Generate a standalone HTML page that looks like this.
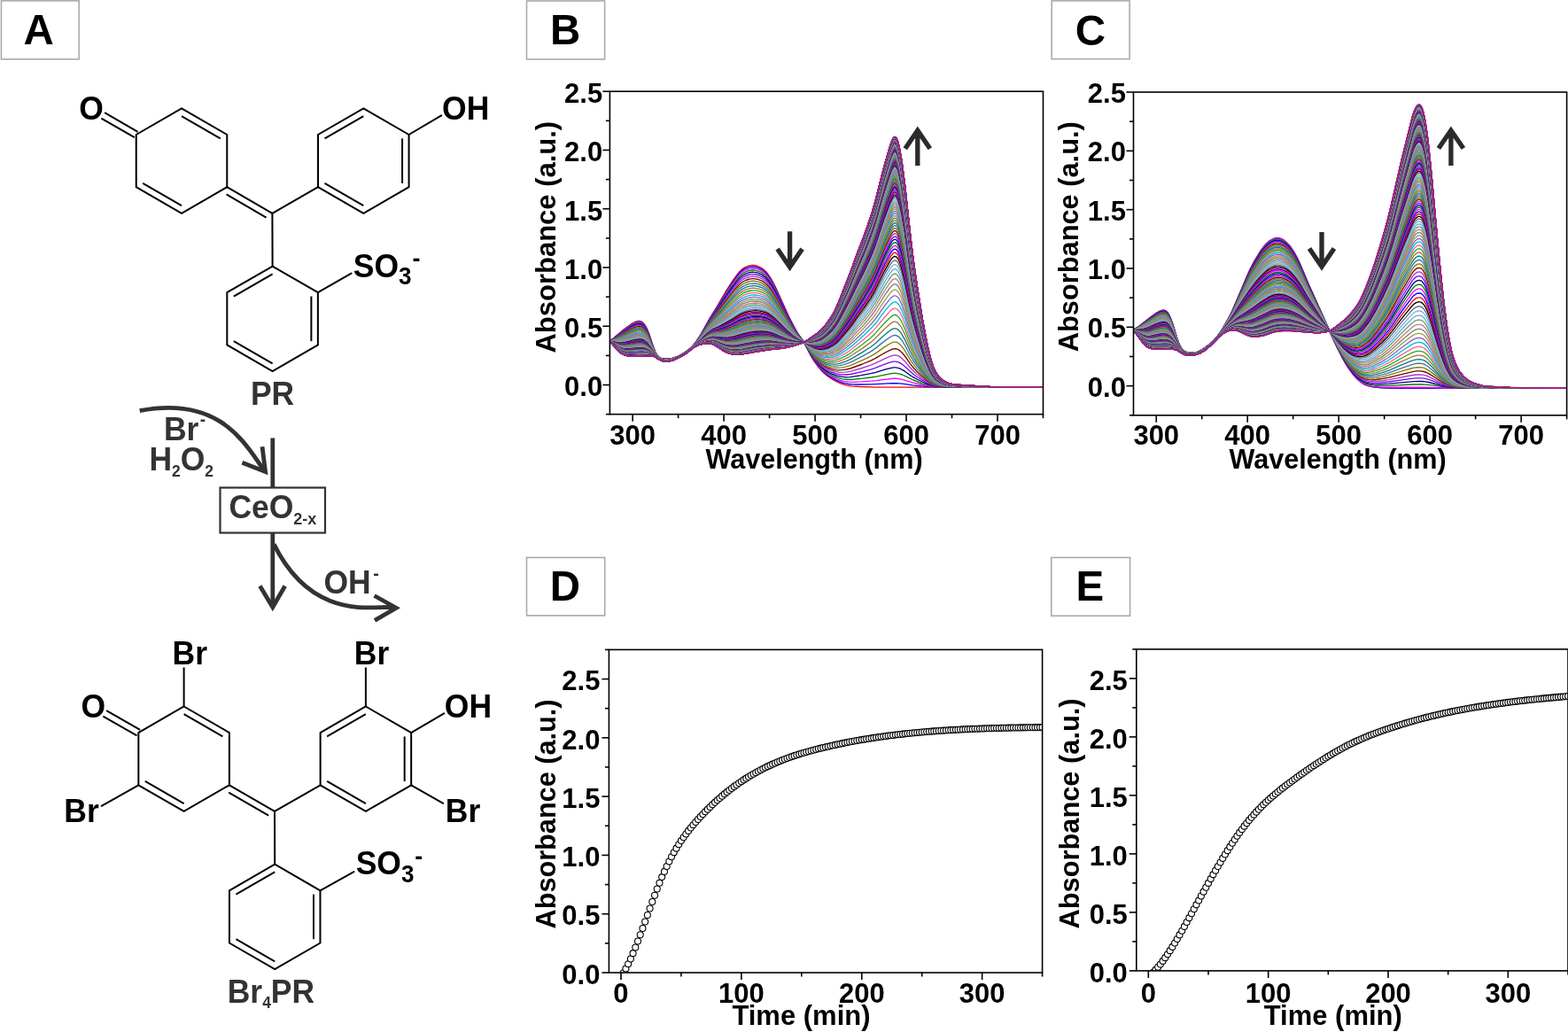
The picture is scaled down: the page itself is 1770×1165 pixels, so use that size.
<!DOCTYPE html>
<html><head><meta charset="utf-8"><title>Figure</title>
<style>
html,body{margin:0;padding:0;background:#fff;width:1770px;height:1165px;overflow:hidden}
svg{display:block}
text{font-family:"Liberation Sans",Arial,sans-serif;font-weight:bold}
</style></head><body>
<svg width="1770" height="1165" viewBox="0 0 1770 1165">
<rect width="1770" height="1165" fill="#fff"/>
<rect x="1.45" y="0.9" width="87.75" height="65.9" fill="#fff" stroke="#aaa" stroke-width="1.6"/>
<text transform="translate(26.57,50.2) scale(1,1.01)" font-size="47.5">A</text>
<rect x="594.5" y="1" width="88.1" height="65.9" fill="#fff" stroke="#aaa" stroke-width="1.6"/>
<text transform="translate(621.07,50.2) scale(1,1.01)" font-size="47.5">B</text>
<rect x="1187.2" y="0.9" width="87.9" height="65.7" fill="#fff" stroke="#aaa" stroke-width="1.6"/>
<text transform="translate(1213.8,50.6) scale(1,1.01)" font-size="47.5">C</text>
<rect x="594.5" y="629.4" width="88.2" height="65.5" fill="#fff" stroke="#aaa" stroke-width="1.6"/>
<text transform="translate(620.67,677.7) scale(1,1.01)" font-size="47.5">D</text>
<rect x="1186.8" y="629.4" width="88.8" height="65.8" fill="#fff" stroke="#aaa" stroke-width="1.6"/>
<text transform="translate(1214.47,677.7) scale(1,1.01)" font-size="47.5">E</text>
<clipPath id="cb"><rect x="688.4" y="103.2" width="489.1" height="364.45"/></clipPath>
<g clip-path="url(#cb)"><g transform="scale(0.1)" fill="none" stroke-width="13.5" stroke-linejoin="round">
<path d="M6884 3845l15-7 21-15 113-97 47-36 41-28 31-18 25-12 26-7 21 0 20 8 16 12 20 25 16 26 15 34 16 40 46 141 21 55 20 39 21 24 20 12 21 7 36 4 36 0 31-5 36-10 36-14 31-14 57-35 51-39 36-37 36-46 52-81 98-178 82-131 103-178 72-112 62-86 20-23 21-19 20-16 21-12 26-11 26-7 25-4 21 1 26 5 31 11 25 13 21 13 20 18 21 21 36 50 31 53 31 60 149 328 62 124 41 72 67 96 82 158 31 51 31 45 31 40 26 30 26 26 31 27 30 22 36 23 52 28 41 19 62 21 57 10 97 6 191 6 1879 1" stroke="#FF0000"/>
<path d="M6884 3845l15-7 21-14 118-97 83-59 31-18 25-12 26-6 21 0 20 7 16 12 20 24 16 26 15 33 16 40 46 139 21 54 20 39 21 23 20 13 21 6 31 4 36 0 31-4 36-9 36-13 31-14 56-34 52-38 36-36 41-51 26-38 31-51 98-175 77-120 103-174 72-109 62-85 20-23 21-19 20-15 21-12 26-11 26-7 25-4 21 1 26 5 31 10 25 13 21 13 20 17 21 21 36 49 31 52 31 59 149 322 62 122 41 71 67 94 82 154 31 50 31 44 31 39 26 29 26 26 25 21 31 22 31 19 46 25 42 19 36 13 36 9 31 6 36 3 97 2 129-2 227-11 56 0 62 4 119 17 97 10 88 7 77 4 211 2 999 1" stroke="#0000FF"/>
<path d="M6884 3846l15-7 21-13 129-102 46-33 36-23 31-16 26-10 20-3 21 1 21 10 15 13 15 19 16 25 15 33 16 39 46 136 21 53 20 38 21 24 20 12 21 7 31 4 36 0 31-4 36-10 36-13 31-14 56-33 52-39 36-35 41-51 57-87 98-172 77-117 98-161 72-108 67-91 20-22 21-19 20-15 21-12 26-10 26-7 25-4 21 1 26 4 31 10 25 13 21 13 20 16 21 21 36 48 31 51 31 58 149 315 62 119 41 70 67 91 82 150 26 41 31 44 52 62 25 25 26 22 31 23 31 18 72 35 41 15 41 10 47 7 41 2 103-4 108-7 62-6 170-21 36-3 31 1 56 10 124 38 108 24 92 16 93 7 227 3 947 1" stroke="#FF00FF"/>
<path d="M6884 3846l21-9 20-13 124-94 46-32 36-22 31-16 26-10 20-3 21 2 21 9 15 13 15 18 16 25 15 32 16 38 46 133 21 52 20 38 21 23 20 13 21 6 31 4 36 0 31-4 31-8 36-12 31-14 51-29 57-41 41-40 36-43 57-84 103-177 77-114 98-156 72-105 67-88 20-22 21-18 20-15 21-12 26-11 26-7 25-3 21 0 20 3 26 8 26 10 21 11 36 28 36 41 36 53 36 65 154 318 62 116 41 67 52 68 20 29 62 112 36 58 26 37 31 38 31 34 30 29 26 21 31 20 36 19 36 16 52 18 41 10 51 6 47 0 113-11 108-14 57-9 159-33 36-5 26 0 36 5 36 12 31 13 93 47 103 38 87 24 72 11 83 5 128 2 994 2" stroke="#008000"/>
<path d="M6884 3847l21-9 20-13 134-95 77-49 26-12 26-10 20-3 21 1 21 9 15 13 15 18 16 24 15 31 16 38 46 130 21 51 20 37 21 23 20 12 21 7 31 4 31 0 31-3 31-8 36-12 31-13 51-29 57-40 41-37 36-43 31-42 31-47 103-172 77-110 93-144 77-109 67-86 20-22 21-18 20-14 26-14 26-10 26-6 25-3 21 1 21 4 25 7 42 20 36 26 36 40 36 52 36 63 149 299 62 115 46 74 52 65 20 29 62 108 31 49 51 68 31 34 26 25 26 21 31 21 31 17 30 13 52 18 46 11 57 6 51-2 124-19 103-20 57-14 102-31 62-16 36-7 26 0 36 7 36 17 31 19 62 45 31 20 41 23 62 30 46 20 41 14 36 9 36 6 83 7 128 3 994 3" stroke="#000080"/>
<path d="M6884 3847l21-8 25-15 144-97 67-39 26-12 26-8 20-3 16 2 21 9 15 12 15 17 16 24 15 30 16 36 46 127 21 50 20 37 21 23 20 12 21 6 31 5 31 0 26-3 30-7 37-11 30-13 52-28 57-39 41-37 41-47 57-79 87-144 31-47 67-92 77-115 52-73 67-89 41-50 20-21 21-18 20-14 26-14 26-9 26-7 25-2 21 1 21 3 25 7 42 19 36 26 36 38 36 51 36 61 149 291 62 111 46 72 57 70 15 21 57 96 31 48 51 67 31 33 26 24 26 21 25 17 26 14 31 13 57 18 51 10 62 2 51-5 129-29 98-25 51-17 108-42 57-20 36-10 26-1 15 2 21 6 36 19 36 29 62 59 31 26 41 30 62 39 46 26 41 19 36 12 36 7 83 9 128 4 407 3 587 1" stroke="#8000FF"/>
<path d="M6884 3848l21-8 30-17 150-94 56-32 26-12 26-7 20-3 16 2 21 8 15 12 15 17 16 23 15 29 16 36 46 123 21 49 20 36 21 22 20 13 21 6 31 4 31 1 26-3 30-7 31-10 31-12 52-27 56-39 42-35 41-45 31-40 31-44 87-141 31-45 67-88 77-111 57-77 72-92 36-42 20-19 21-16 21-14 20-10 26-9 26-7 25-3 21 1 21 4 25 6 26 10 21 11 36 27 36 39 31 43 36 59 149 282 62 108 46 70 72 87 83 131 51 65 52 52 20 17 26 17 26 15 31 13 56 17 57 9 62-1 56-9 134-38 98-33 51-21 108-53 57-25 36-11 26-2 15 2 21 7 15 9 21 16 36 35 62 74 31 32 41 37 62 50 46 32 41 23 36 15 36 9 41 7 42 5 128 5 407 3 587 1" stroke="#A040C0"/>
<path d="M6884 3848l26-9 31-16 154-91 52-28 25-10 21-6 20-3 16 2 21 8 15 11 15 17 16 22 15 29 16 34 46 120 21 48 20 35 21 22 20 12 21 7 26 4 31 1 25-3 31-6 31-9 31-13 52-26 56-37 41-35 42-43 30-38 31-43 93-144 31-44 67-84 77-107 57-74 72-89 36-40 20-19 21-15 21-13 20-10 26-10 26-6 25-3 21 1 46 9 26 10 21 10 36 26 36 38 31 41 31 49 169 309 47 77 36 53 20 27 57 64 82 125 26 34 31 35 36 36 31 25 36 23 36 17 26 8 31 8 31 5 31 2 30-1 36-4 62-13 139-50 93-38 51-25 103-62 62-32 36-14 26-3 15 3 21 9 15 11 21 18 36 43 62 88 31 40 41 44 62 59 46 39 41 28 36 18 36 11 41 9 42 5 128 6 407 4 587 1" stroke="#800000"/>
<path d="M6884 3849l31-11 41-20 149-83 47-23 41-14 20-2 16 1 21 8 15 11 15 16 16 22 15 27 16 33 46 117 21 46 20 35 21 22 15 10 21 7 26 5 31 1 25-1 26-5 31-8 31-12 51-24 57-37 46-36 41-42 31-37 36-48 93-140 31-43 72-87 129-166 72-85 36-39 41-34 21-13 25-12 26-8 26-6 26-2 20 1 47 10 41 18 36 25 36 36 31 40 31 47 164 290 47 75 41 59 20 25 57 62 77 113 26 33 31 34 36 35 31 24 31 19 36 16 26 9 30 6 31 4 31 1 31-2 36-6 36-9 31-9 144-62 93-45 51-30 103-72 62-39 36-16 16-3 10 0 15 3 21 11 15 12 21 22 36 50 62 104 31 46 41 52 62 70 46 45 41 33 36 21 36 13 41 10 42 6 56 4 72 3 407 5 587 1" stroke="#808000"/>
<path d="M6884 3849l31-9 57-25 139-73 46-22 20-7 21-5 21-1 15 2 21 9 15 13 16 17 15 23 26 50 46 113 21 45 20 34 21 21 15 10 21 8 26 5 31 1 25-2 26-4 57-18 51-24 52-32 51-39 41-41 31-35 36-47 98-142 31-42 72-82 134-164 72-82 31-32 41-33 21-12 25-12 26-8 26-6 26-2 20 1 47 9 41 17 36 24 36 35 31 38 31 45 164 280 42 64 41 58 25 31 57 59 77 108 52 58 31 30 31 24 30 19 31 14 31 9 31 7 31 2 31 0 31-4 36-8 41-12 36-13 144-73 93-52 51-35 103-83 62-44 21-12 15-7 16-3 10 0 15 4 21 12 15 14 21 25 36 58 62 119 31 53 41 59 62 81 46 51 41 38 36 24 36 16 41 11 42 7 56 5 72 3 407 6 587 1" stroke="#4070B0"/>
<path d="M6884 3850l36-11 62-24 139-69 41-18 21-6 20-4 16-1 15 3 21 9 15 11 16 17 15 22 26 49 46 109 21 44 20 33 21 21 15 10 21 8 26 4 25 2 26-1 26-4 57-17 51-24 51-31 52-38 41-39 36-41 36-45 98-138 31-40 72-79 139-162 67-72 31-31 41-32 21-12 25-11 26-9 26-5 26-3 20 1 47 9 41 16 36 23 36 33 31 37 31 44 164 269 42 62 41 56 25 29 57 56 72 96 52 57 31 28 30 24 26 15 31 14 31 9 31 5 36 3 31-2 31-6 31-9 46-16 36-16 31-16 118-70 88-56 51-38 108-99 62-50 21-14 15-7 16-4 10 0 15 4 21 14 15 16 21 29 36 65 62 134 31 60 41 68 62 90 46 59 41 43 36 27 36 18 41 12 42 8 56 6 72 3 407 7 587 1" stroke="#008080"/>
<path d="M6884 3850l41-10 62-22 46-20 93-44 41-17 36-8 16-1 15 2 21 9 15 11 16 16 15 21 26 47 46 106 21 42 20 33 21 21 15 10 21 7 21 4 25 3 26-1 26-4 51-14 52-22 51-29 52-37 46-42 36-40 36-43 103-140 31-39 77-80 134-148 67-69 31-30 41-31 21-12 25-11 31-9 26-5 21-2 25 1 47 10 41 16 36 23 31 28 31 36 31 42 164 259 42 59 41 53 25 28 57 54 72 90 46 49 31 27 26 19 31 19 26 11 31 8 36 6 36 0 31-3 31-8 30-10 47-20 41-21 149-97 88-62 51-44 108-110 62-55 21-16 15-8 16-5 10 0 15 5 21 16 15 18 21 32 36 72 62 150 31 67 41 75 62 101 46 65 41 48 36 31 36 19 41 15 42 8 56 6 72 4 407 8 587 1" stroke="#B07040"/>
<path d="M6884 3851l46-10 62-19 46-19 93-42 36-14 36-8 16 0 15 2 21 8 15 11 16 15 15 21 26 45 67 143 20 32 21 21 15 9 16 7 20 4 26 3 26 0 26-3 51-14 52-21 46-25 51-36 47-40 36-37 41-47 108-143 31-36 77-76 144-150 88-85 41-30 21-12 25-10 31-10 26-5 21-2 25 1 47 9 41 16 36 21 31 28 31 34 31 40 164 249 42 56 41 51 25 27 57 51 72 86 46 45 31 26 26 17 26 15 26 10 31 7 36 4 36 0 30-5 31-9 31-13 47-23 41-23 36-25 118-86 88-70 51-48 108-121 62-61 21-18 15-9 16-5 10 0 15 6 21 17 15 20 21 35 36 80 62 165 31 74 41 83 62 111 46 72 41 53 36 33 36 22 41 16 42 9 56 7 72 4 407 8 587 2" stroke="#20B020"/>
<path d="M6884 3851l62-12 51-13 47-17 97-42 36-12 36-6 26 3 16 7 15 10 16 15 15 20 26 43 67 139 20 31 21 20 15 10 16 6 20 5 26 3 46-3 52-12 51-21 47-25 51-35 47-38 36-36 46-52 103-131 36-42 77-72 191-186 46-41 41-28 21-10 26-10 30-9 26-4 21-2 25 2 42 7 41 15 36 21 31 26 31 32 31 39 164 239 42 54 41 48 25 26 57 48 67 75 46 44 52 39 26 14 25 10 31 8 36 3 36-2 36-6 31-11 31-15 52-29 41-26 36-27 118-95 88-76 51-53 108-132 62-67 21-19 15-10 16-5 10 0 15 6 21 18 15 22 21 38 36 87 62 181 31 81 41 90 62 122 46 78 41 58 16 17 20 19 36 24 41 17 42 10 56 8 72 4 407 9 587 2" stroke="#FF60A0"/>
<path d="M6884 3851l72-10 46-11 47-16 98-39 30-10 36-6 26 3 16 7 15 10 16 14 15 19 31 51 62 125 20 30 21 20 15 10 16 6 20 5 21 2 46-1 26-5 26-7 51-20 47-24 46-31 46-36 36-35 47-50 41-48 72-90 36-40 77-67 196-181 41-35 41-27 47-20 51-12 21-2 25 0 52 9 41 15 36 21 36 31 26 27 31 38 149 209 67 83 46 48 67 55 62 66 41 37 31 23 26 17 26 13 20 7 21 5 26 3 30 0 26-2 46-12 47-22 82-53 57-44 134-118 92-90 42-48 102-137 67-77 26-20 16-6 10 0 15 6 21 21 15 23 21 41 36 95 62 195 31 87 41 98 62 132 46 84 41 63 16 18 20 21 36 26 41 18 42 11 56 9 72 5 407 9 587 2" stroke="#00C0C0"/>
<path d="M6884 3852l82-9 42-9 46-15 98-37 31-9 30-4 26 3 16 6 15 10 16 13 15 18 31 50 62 120 20 30 21 20 15 9 16 7 20 5 21 2 46-2 47-10 51-19 46-24 47-29 46-36 41-39 47-49 113-134 36-38 82-68 201-175 31-25 41-26 47-20 51-12 21-2 25 0 52 9 41 14 36 20 36 29 26 27 31 36 144 193 72 86 46 46 67 52 57 57 41 36 52 34 25 13 21 8 20 5 26 3 26 0 31-3 46-12 21-9 26-14 87-61 62-53 134-126 92-97 42-52 102-147 67-82 26-22 16-6 10 0 15 7 11 9 10 12 15 25 21 45 36 101 62 210 31 93 41 105 62 141 46 91 41 67 16 20 20 22 16 14 20 14 41 20 42 12 56 9 72 5 407 10 587 2" stroke="#8060E0"/>
<path d="M6884 3852l77-5 36-5 52-14 98-35 30-9 36-6 26 3 16 6 15 9 16 13 15 18 31 48 62 116 20 29 21 19 15 10 16 6 36 7 46 0 46-10 47-16 51-25 47-29 46-35 36-33 51-53 119-135 36-37 26-21 61-46 227-186 41-25 47-19 51-12 21-3 25 1 52 7 41 14 36 19 36 28 26 25 31 35 144 185 67 77 41 40 72 53 62 59 31 25 31 22 25 15 26 12 21 8 20 5 26 2 26-1 26-3 25-6 26-8 21-10 25-15 88-67 62-55 139-141 92-103 42-55 102-157 67-87 26-24 16-6 10 0 15 7 11 10 10 13 15 27 21 47 36 108 62 223 31 99 41 112 62 151 46 97 41 71 16 21 20 24 16 14 20 15 41 21 42 13 56 10 72 5 407 11 587 2" stroke="#A0A040"/>
<path d="M6884 3853l82-3 36-4 52-13 93-32 30-9 36-5 26 3 21 8 15 10 16 14 15 18 26 40 62 112 20 29 21 19 15 10 16 6 36 7 46-1 41-8 47-16 51-24 41-25 47-34 36-31 51-51 47-49 77-87 36-36 26-21 61-43 67-51 165-129 41-25 47-18 51-12 21-2 25 0 47 5 41 12 36 17 36 26 31 28 31 34 144 178 72 78 41 38 67 46 62 54 31 24 31 20 25 14 26 11 21 7 20 3 21 2 26-2 25-4 26-6 26-10 26-12 20-14 36-27 57-49 67-64 56-63 73-75 87-102 46-64 103-166 52-74 20-26 16-17 15-11 16-4 15 4 11 9 10 12 20 36 21 50 36 114 62 236 31 105 46 132 62 157 46 101 36 65 16 23 20 25 16 15 20 16 41 22 42 13 56 10 72 6 186 7 221 5 587 2" stroke="#808080"/>
<path d="M6884 3853l88 1 30-3 52-11 98-32 31-9 36-3 25 4 16 6 15 10 16 13 15 17 26 39 62 108 20 28 21 20 26 14 36 8 46 0 41-7 41-13 52-23 41-24 46-32 42-35 46-44 51-53 83-90 36-35 26-20 61-40 72-51 160-119 41-24 47-18 51-12 46-3 47 6 41 11 36 16 36 25 31 27 31 32 139 165 72 76 46 40 67 44 57 47 31 23 56 32 26 11 21 6 20 4 21 0 26-2 25-4 31-9 26-11 26-14 20-14 31-26 57-51 67-68 61-72 73-79 87-107 46-67 103-175 52-77 20-29 16-17 15-12 16-4 15 5 11 8 10 13 20 38 21 52 36 120 62 249 31 110 46 139 62 166 46 105 36 68 16 24 20 27 16 15 20 17 41 24 42 14 56 11 72 6 186 7 221 5 587 2" stroke="#C08080"/>
<path d="M6884 3854l88 3 36-2 51-11 93-29 31-8 36-4 25 4 16 6 15 10 16 12 15 17 26 37 67 113 15 20 21 19 26 14 36 8 46 1 41-7 41-14 52-23 41-24 41-28 36-29 41-38 62-62 88-92 36-33 31-23 56-34 78-51 154-111 46-25 47-17 51-11 46-2 47 6 41 11 36 17 31 20 26 22 31 30 144 163 72 73 46 39 67 41 77 59 57 32 46 17 21 4 20 1 26-2 26-4 31-9 26-11 25-14 26-18 31-27 62-59 67-71 61-76 73-83 87-112 46-70 103-183 52-81 20-29 16-19 15-12 16-5 15 5 11 9 10 14 20 39 21 55 36 126 62 259 31 116 46 145 62 174 46 110 36 71 16 25 20 28 16 16 20 18 21 14 20 11 42 15 56 11 72 6 186 7 221 6 587 2" stroke="#70A070"/>
<path d="M6884 3854l88 6 36 0 51-10 124-35 36-4 25 4 16 5 15 9 16 13 15 16 26 36 67 109 20 25 16 14 26 14 36 8 41 1 41-7 41-13 47-20 41-22 41-27 36-28 36-32 72-70 93-95 36-32 31-21 61-35 78-48 149-102 46-25 47-17 51-11 46-2 47 6 41 10 36 16 31 20 26 20 31 29 144 158 72 69 46 37 67 39 77 55 57 30 46 15 21 3 20 1 21-2 26-6 31-9 25-11 26-14 26-19 31-28 56-57 42-44 36-41 61-79 73-87 87-116 46-74 103-190 52-85 20-30 16-19 15-13 16-5 15 5 11 10 10 14 20 41 21 57 36 131 62 270 31 121 46 151 62 180 46 116 36 74 16 26 20 29 16 17 20 18 21 14 20 12 42 15 56 12 72 6 186 8 221 6 587 2" stroke="#60B0E0"/>
<path d="M6884 3854l93 10 36-1 51-9 119-32 36-4 25 3 16 6 15 9 16 12 15 15 26 35 67 106 20 25 16 13 26 14 36 9 41 0 41-6 41-13 52-23 41-23 46-31 31-25 36-32 170-166 26-21 26-18 66-35 67-39 155-101 41-22 36-15 46-12 36-6 36-1 47 4 41 11 36 15 31 19 26 19 31 28 144 152 72 66 46 35 67 37 72 49 57 28 46 15 21 3 20 0 21-2 26-6 31-10 30-14 26-15 26-20 31-29 51-55 78-88 66-88 73-91 82-113 46-75 108-207 52-87 20-32 16-20 15-14 16-4 15 5 11 10 10 14 20 43 21 60 36 135 62 281 31 125 46 156 62 188 46 120 36 77 16 27 20 29 16 18 20 19 21 15 20 12 42 16 56 12 72 7 186 8 221 6 587 2" stroke="#90B0D0"/>
<path d="M6884 3855l31 2 62 10 36 0 51-8 124-32 36-2 26 4 15 7 15 9 16 13 15 16 26 35 62 96 20 24 16 14 26 14 36 8 36 1 41-5 41-13 52-22 41-22 46-31 62-51 175-167 26-21 25-18 78-38 67-37 72-43 77-50 41-22 36-14 46-13 36-6 36-1 47 4 41 10 36 14 31 19 26 19 31 26 144 146 72 64 46 34 67 34 67 43 57 27 25 9 26 6 21 2 20 0 42-8 30-11 31-14 26-16 26-20 26-25 36-39 61-70 42-50 66-92 73-93 82-118 46-77 108-214 52-91 20-32 16-21 15-14 16-5 15 6 11 10 10 15 20 44 21 62 36 140 62 290 31 129 46 162 62 194 46 124 36 80 16 28 20 30 16 19 20 20 21 15 20 12 42 17 56 12 72 7 186 8 221 7 587 2" stroke="#607090"/>
<path d="M6884 3855l31 3 62 12 36 1 51-7 98-25 31-6 31-2 26 4 15 6 15 9 16 13 15 16 26 34 62 93 20 24 16 13 26 14 36 8 36 1 41-5 41-12 52-23 41-22 41-27 62-50 175-164 31-25 25-16 78-36 67-34 72-41 82-52 41-20 36-14 47-11 36-6 30-1 47 4 41 10 36 13 31 18 26 18 31 26 139 136 72 62 51 36 67 32 62 37 56 26 26 9 26 6 21 2 20 0 41-9 36-13 31-16 26-16 26-21 26-26 36-41 61-73 42-52 66-94 73-97 82-121 46-80 108-220 52-94 20-34 16-21 15-15 16-5 15 6 11 11 10 15 20 45 21 64 36 144 62 300 31 133 46 167 62 201 46 127 36 82 16 29 20 32 16 19 20 20 21 16 20 13 42 17 56 12 72 8 186 8 221 6 587 3" stroke="#000000"/>
<path d="M6884 3855l31 4 67 14 36 2 51-7 93-23 31-6 31-2 26 4 15 6 15 9 16 12 15 15 26 33 62 91 20 24 16 13 26 13 31 8 36 2 41-5 41-11 46-19 47-25 41-26 62-49 180-165 26-21 25-16 26-13 62-26 67-32 72-39 77-47 41-20 36-13 47-12 36-5 36-1 46 5 41 9 36 14 31 17 26 19 31 25 108 103 56 51 57 43 41 26 62 28 72 40 62 24 31 7 26 2 25-1 31-8 36-14 31-15 31-21 26-22 26-27 30-36 67-82 42-54 66-97 73-99 82-125 46-82 108-227 52-96 20-35 16-22 15-15 16-5 10 3 5 3 11 11 10 15 20 47 21 66 36 148 62 308 31 137 46 172 62 206 46 131 36 85 16 30 20 32 16 20 20 21 21 16 20 13 42 18 56 13 72 7 186 9 221 6 587 3" stroke="#FF0000"/>
<path d="M6884 3855l31 5 67 16 36 2 51-6 124-28 31-2 26 4 15 6 15 9 16 11 15 15 26 32 62 89 20 23 16 13 26 14 31 8 36 1 41-4 41-12 46-19 47-24 41-27 56-45 181-162 31-24 25-16 21-10 62-23 72-32 72-38 82-47 41-19 36-12 47-12 31-4 36-1 46 4 41 9 36 13 31 17 26 18 31 24 108 100 56 48 57 42 41 25 62 26 67 35 62 23 31 7 31 2 25-2 26-7 36-14 31-16 31-21 26-22 25-27 26-31 72-90 41-55 72-107 73-102 82-128 46-85 108-233 52-99 20-35 16-23 15-15 16-5 10 2 5 4 11 11 10 16 20 48 21 67 36 153 62 316 31 141 46 176 62 212 46 134 36 87 16 30 20 34 16 20 20 21 21 17 20 13 42 19 56 13 72 8 186 9 221 6 587 3" stroke="#0000FF"/>
<path d="M6884 3856l31 5 67 18 36 3 51-5 98-23 31-5 31-1 26 5 15 6 16 10 25 22 26 31 62 87 20 22 16 13 26 14 31 8 36 2 36-4 41-11 46-19 46-23 42-26 56-44 186-164 31-23 25-15 26-12 77-27 57-24 72-36 77-44 41-18 36-12 47-11 31-5 36-1 46 4 41 8 36 13 31 16 26 17 31 24 103 91 61 52 57 40 41 24 62 24 67 33 62 20 31 7 25 1 26-2 26-7 36-14 36-20 31-21 26-23 25-28 26-32 72-93 41-57 72-109 73-105 82-131 46-87 108-239 52-101 20-37 16-22 15-16 16-6 10 3 5 4 11 11 10 17 20 49 21 69 36 156 62 324 31 144 46 181 62 216 46 138 36 89 16 32 20 34 16 20 20 22 21 17 20 14 42 19 56 13 72 8 186 9 221 7 587 3" stroke="#FF00FF"/>
<path d="M6884 3856l31 6 67 19 36 4 51-4 98-22 31-5 31-1 26 5 15 6 16 9 25 22 26 29 67 91 21 22 15 11 26 12 26 6 36 2 36-4 36-9 46-18 46-23 41-25 57-43 185-162 31-23 26-15 26-12 67-21 72-28 72-35 77-42 46-20 37-11 46-10 31-5 31 0 46 3 41 8 36 12 31 16 26 16 31 23 103 88 61 50 57 39 41 22 62 24 67 30 62 18 31 6 25 1 26-3 26-8 36-15 36-21 31-22 26-24 25-29 26-32 72-96 41-58 72-113 73-107 82-134 46-89 108-244 52-103 20-38 16-23 15-16 11-5 5-1 10 3 5 4 11 11 10 17 20 50 21 71 36 160 62 331 31 147 46 185 62 222 46 141 36 91 16 32 20 35 16 21 20 22 21 18 20 14 21 11 21 8 56 14 72 8 186 9 221 7 587 3" stroke="#008000"/>
<path d="M6884 3856l31 6 67 22 41 4 51-4 93-20 31-5 31-1 26 5 31 14 25 21 26 29 67 89 21 21 15 11 26 13 26 6 36 1 36-3 36-9 46-19 46-23 41-25 57-43 180-155 31-23 31-18 26-11 72-22 67-24 72-33 82-43 47-19 41-11 41-9 31-4 31 0 46 3 41 8 31 11 36 18 52 35 98 81 61 48 57 38 46 25 62 22 67 28 57 15 31 6 25 1 26-3 26-7 36-16 36-21 31-22 31-29 46-56 77-106 41-59 72-115 73-110 82-137 46-90 108-250 52-105 20-39 16-24 15-16 11-5 5-1 10 3 5 4 11 12 10 17 20 52 21 71 36 164 62 338 31 151 46 189 62 226 46 144 36 93 16 32 20 36 16 21 20 23 21 18 20 14 21 11 21 9 56 14 72 9 186 9 221 7 587 3" stroke="#000080"/>
<path d="M6884 3856l31 7 67 23 20 4 21 1 51-3 124-25 31 0 26 4 31 14 25 20 26 29 67 87 21 20 15 12 26 12 26 6 30 2 36-3 36-9 47-17 46-23 41-25 57-42 82-71 103-85 31-23 31-17 31-13 67-17 67-22 72-32 82-41 47-19 41-12 41-9 31-3 31-1 46 3 41 8 31 10 36 17 52 34 98 79 61 46 57 36 46 24 62 21 62 24 62 16 31 4 25 1 26-4 26-7 36-17 36-22 31-23 31-30 46-58 118-168 72-118 73-111 82-141 46-92 108-254 52-108 20-39 16-24 15-17 11-5 5-1 10 3 5 4 11 12 10 18 20 52 21 73 36 167 62 345 31 153 46 193 62 231 46 147 36 94 16 34 20 36 16 22 20 23 21 19 20 14 21 11 21 9 56 15 72 8 186 10 221 7 587 3" stroke="#8000FF"/>
<path d="M6884 3857l31 7 67 24 20 4 21 2 26 0 25-3 98-19 31-5 31 0 26 6 31 15 25 22 26 28 62 79 21 21 15 11 26 12 26 6 30 2 36-3 36-8 42-16 46-22 41-24 57-41 87-75 98-80 36-26 31-17 31-11 72-18 67-20 67-28 87-43 47-18 36-10 41-8 31-4 31-1 46 3 41 7 31 10 36 17 52 32 98 76 61 45 57 35 46 22 62 20 62 23 56 13 31 4 26 0 26-3 26-7 36-17 36-22 31-23 30-29 26-31 26-35 118-172 72-120 73-114 82-142 46-94 108-260 52-110 20-39 16-25 15-17 11-5 5-1 10 3 5 4 11 12 10 18 20 54 21 74 36 170 62 351 31 157 46 196 62 235 46 150 36 97 16 33 20 38 16 22 20 24 21 18 20 15 21 12 21 8 56 15 72 9 186 10 221 7 587 3" stroke="#A040C0"/>
<path d="M6884 3857l31 7 67 26 20 5 21 2 26 0 31-3 92-18 31-4 31 0 26 5 31 15 25 20 26 29 62 77 21 20 15 11 26 12 26 7 30 1 36-3 36-8 42-16 46-22 41-24 57-41 82-71 98-78 36-26 31-17 31-12 82-18 62-18 67-26 93-44 46-17 77-17 26-3 31-1 41 2 41 6 36 10 31 14 26 14 31 20 98 74 61 43 57 33 46 22 62 18 62 21 56 11 31 4 26 0 26-4 26-8 36-18 36-22 31-24 30-30 47-60 123-183 72-122 73-116 82-146 46-95 108-264 52-112 20-40 16-26 15-17 11-5 5-1 10 3 5 4 11 12 10 19 20 54 21 76 36 173 62 358 31 159 46 200 62 239 46 152 36 99 16 34 20 38 16 23 20 24 21 19 20 15 21 12 21 8 56 16 72 8 186 10 221 8 587 3" stroke="#800000"/>
<path d="M6884 3857l31 8 67 27 20 5 21 3 26 0 31-3 123-21 31 0 26 5 31 14 25 20 26 28 62 75 21 20 15 12 26 12 26 6 30 2 31-3 36-7 36-13 52-24 41-23 57-41 87-74 93-73 41-29 31-17 31-11 87-17 57-15 72-28 88-40 51-18 72-16 31-3 31-1 41 2 41 7 31 9 36 15 52 31 98 71 61 41 57 32 46 21 62 17 57 18 56 11 36 3 26 0 26-5 20-7 37-17 41-26 31-25 30-31 47-61 118-179 77-132 73-118 82-148 46-98 108-268 52-114 20-41 16-26 15-17 11-6 5 0 10 3 5 4 11 12 10 19 20 55 21 78 36 175 62 364 31 162 46 204 62 243 46 155 36 100 16 35 20 38 16 24 20 24 21 20 20 15 21 12 21 9 25 8 31 7 72 9 186 10 221 8 587 3" stroke="#808000"/>
<path d="M6884 3857l31 9 72 30 21 5 20 2 26 0 31-3 118-20 31 0 26 5 31 14 25 19 26 27 62 74 21 20 15 11 26 12 26 6 30 2 31-2 36-8 36-13 52-23 41-24 57-40 87-74 88-68 41-29 36-19 36-12 82-14 57-14 72-26 93-41 51-17 72-15 57-4 41 2 41 6 31 9 36 15 52 29 98 69 61 40 57 31 46 19 119 33 56 9 36 2 26-1 26-5 20-7 37-18 41-27 31-26 30-32 47-62 118-182 77-135 73-120 82-150 46-99 108-273 52-116 20-41 16-27 15-17 11-6 5-1 10 3 5 5 11 12 10 19 20 57 21 78 36 179 62 370 31 164 46 207 62 247 46 158 36 101 16 36 20 39 16 24 20 25 21 19 20 16 21 12 21 9 25 8 31 8 72 9 186 10 221 8 587 3" stroke="#4070B0"/>
<path d="M6884 3857l31 9 72 32 21 5 20 3 26 0 31-2 92-17 31-3 31 0 26 6 31 15 26 21 25 27 57 66 21 20 15 11 26 12 26 6 30 2 31-2 36-8 36-13 47-21 41-23 57-39 87-74 82-63 47-32 36-20 36-12 93-14 56-13 67-24 93-39 51-17 72-15 57-4 41 2 41 6 31 8 36 14 52 28 92 64 62 38 57 30 46 20 119 30 51 8 36 3 26-1 26-4 25-8 36-18 42-27 30-26 31-31 21-25 26-37 123-193 77-137 73-122 82-153 46-100 108-277 52-118 20-42 16-27 15-18 11-6 5-1 10 4 5 4 11 13 10 19 20 57 21 80 36 181 62 376 31 168 46 209 62 252 46 160 36 103 16 36 20 40 16 24 20 25 21 20 20 16 21 12 21 9 25 9 31 7 72 9 186 11 221 8 587 3" stroke="#008080"/>
<path d="M6884 3857l31 10 72 33 21 6 20 3 26 0 31-2 92-16 31-3 31 0 26 6 31 14 26 20 25 26 62 71 31 25 21 11 25 7 31 3 31-2 36-7 36-12 52-23 41-23 57-40 87-73 77-59 52-35 36-19 36-11 93-12 56-12 67-22 98-41 57-17 66-13 57-3 41 2 36 5 31 7 36 14 52 27 92 62 62 37 57 29 46 18 119 28 51 7 36 1 26-1 26-4 25-9 36-19 42-28 30-26 31-32 21-26 26-37 123-197 77-139 73-124 82-155 46-102 108-281 52-119 20-44 16-27 15-18 11-6 5 0 10 3 5 4 11 13 10 20 20 58 21 81 36 184 62 381 31 170 46 213 62 255 46 163 36 104 16 37 20 40 16 25 20 25 21 21 20 16 21 12 21 9 25 9 31 8 72 9 186 11 221 8 587 3" stroke="#B07040"/>
<path d="M6884 3858l31 10 72 34 21 6 20 3 26 1 31-2 92-15 36-4 31 2 26 6 26 12 26 20 25 25 57 64 31 27 15 9 21 8 21 5 25 2 41-3 36-9 52-20 51-26 31-19 36-26 93-77 72-54 52-35 41-21 20-7 21-5 82-8 57-10 72-22 77-32 41-14 57-15 52-10 46-2 51 2 47 8 36 10 31 14 31 16 103 66 61 35 62 29 46 16 109 23 56 5 36 1 26-2 26-6 20-7 36-20 42-29 30-27 31-32 21-27 26-38 123-200 77-141 73-126 82-157 46-104 108-285 52-121 20-44 16-27 15-19 11-6 5-1 10 4 5 4 11 13 10 20 20 59 21 82 36 187 62 387 31 172 46 216 62 259 46 165 36 106 16 37 20 41 16 25 20 26 21 20 20 17 21 12 21 10 25 9 31 7 72 10 186 10 221 9 587 3" stroke="#20B020"/>
<path d="M6884 3858l31 10 72 36 21 6 20 4 26 1 31-2 98-15 30-3 31 1 26 7 31 15 26 20 26 25 51 58 31 27 15 9 21 8 21 4 25 2 41-3 36-9 52-20 51-26 31-19 36-26 88-72 67-50 56-38 42-22 20-7 21-5 98-8 51-10 67-19 82-33 36-12 57-15 52-9 46-3 51 2 47 7 36 10 31 13 31 16 103 63 61 34 57 26 46 16 108 21 52 5 41 0 26-2 26-5 20-8 36-19 41-29 36-32 31-33 21-27 26-38 123-204 77-143 73-128 82-160 46-105 108-289 52-123 20-44 16-28 15-19 11-6 5 0 10 3 5 5 11 13 10 20 20 60 21 83 36 189 62 393 31 175 46 219 62 262 46 167 36 108 16 37 20 42 16 25 20 26 21 21 20 17 21 12 21 10 25 9 31 8 72 10 186 10 221 9 587 3" stroke="#FF60A0"/>
<path d="M6884 3858l31 11 72 37 21 6 20 4 26 2 31-2 98-15 30-2 31 1 26 6 31 14 26 20 26 25 56 61 26 22 15 9 21 8 21 5 25 1 41-3 36-8 52-21 51-26 62-41 93-76 57-42 66-44 42-21 20-7 21-5 98-6 51-8 67-19 82-31 42-14 56-14 47-8 46-3 51 1 47 7 36 10 56 25 109 64 61 32 57 25 46 15 108 19 52 3 41 0 26-2 26-6 20-8 36-20 41-30 36-32 31-34 21-28 26-39 123-207 77-145 73-129 82-162 46-107 108-293 52-124 20-45 16-28 15-19 11-6 5-1 10 3 5 5 11 14 10 20 20 60 21 85 36 192 62 397 31 177 46 222 62 266 46 169 36 109 16 39 20 42 16 25 20 27 21 21 20 17 21 13 21 9 25 10 31 7 72 10 186 11 221 9 587 3" stroke="#00C0C0"/>
<path d="M6884 3858l31 11 72 38 21 7 20 4 26 2 31-1 98-14 30-3 31 1 26 6 31 14 26 19 26 24 56 61 26 21 15 9 21 8 21 5 25 2 41-4 36-8 47-18 51-26 31-18 36-25 93-77 57-41 61-40 47-24 20-6 21-5 98-4 56-8 67-18 77-29 42-13 56-14 47-9 46-3 51 2 47 6 36 9 56 24 103 59 62 32 62 26 46 14 108 17 47 2 67-3 25-6 26-9 36-21 41-31 36-33 31-34 21-28 26-40 123-210 77-147 73-131 82-164 46-108 108-297 52-126 20-45 16-29 15-19 11-6 5-1 10 3 5 5 11 14 10 20 20 62 21 85 36 194 62 403 31 179 46 225 62 269 46 172 36 110 16 39 20 43 16 25 20 28 21 21 20 17 21 13 21 10 25 9 31 8 72 10 186 11 221 9 587 3" stroke="#8060E0"/>
<path d="M6884 3858l31 12 72 39 21 7 20 5 26 2 31-1 103-14 31-3 31 2 25 7 26 12 26 18 26 24 56 59 26 21 15 9 21 8 21 5 25 2 41-3 36-9 47-18 51-25 31-19 36-25 88-72 56-41 67-44 47-22 20-7 21-3 98-2 56-8 67-17 119-41 56-14 47-8 46-3 51 1 47 6 36 9 56 23 103 56 62 31 62 25 46 13 103 14 47 2 41-1 31-3 25-6 21-8 36-21 46-35 36-33 31-35 21-29 26-40 123-213 77-149 73-133 82-166 46-109 108-301 52-127 20-46 16-29 15-20 11-6 5-1 10 4 5 4 11 14 10 21 20 62 21 87 36 197 62 407 31 182 46 227 62 273 46 173 36 112 16 40 20 43 16 26 20 27 21 22 20 17 21 13 21 10 25 9 31 9 72 10 186 11 221 9 587 3" stroke="#A0A040"/>
<path d="M6884 3858l31 12 72 41 21 7 20 5 31 3 31-2 98-13 31-2 31 2 25 6 26 11 26 18 26 23 61 63 26 20 15 8 21 7 21 4 20 1 41-3 36-9 47-18 51-25 31-19 36-25 88-72 46-34 72-46 47-23 25-8 21-3 103-1 56-6 67-17 78-28 41-12 56-14 42-7 46-3 51 1 47 5 36 9 56 22 103 55 62 29 62 23 46 13 103 12 41 2 73-6 25-5 26-10 36-21 46-36 36-34 31-36 21-29 26-41 123-216 77-151 73-134 82-168 46-111 108-304 52-129 20-46 16-29 15-20 11-7 5 0 10 3 5 5 11 14 10 21 20 63 21 87 36 199 62 413 31 184 46 230 62 276 46 175 36 113 16 40 20 44 16 26 20 28 21 22 20 17 21 13 21 11 25 9 31 8 72 10 186 12 221 9 587 3" stroke="#808080"/>
<path d="M6884 3859l31 12 72 41 21 8 25 6 26 2 31-1 98-13 31-2 31 2 25 6 31 14 26 18 26 24 56 56 26 20 15 8 21 7 21 4 20 1 41-3 36-9 47-18 51-25 31-19 36-25 88-72 46-33 72-45 47-22 25-8 21-3 103 1 56-5 67-16 119-39 56-13 42-8 46-3 51 0 47 5 36 9 56 21 103 53 62 28 62 22 46 12 103 11 41 0 47-3 31-4 25-7 21-9 36-22 46-36 36-35 31-37 21-29 26-42 123-219 77-152 73-136 82-170 46-112 108-307 52-131 20-47 16-29 15-20 11-7 5-1 10 4 5 5 11 14 10 22 20 63 21 88 36 202 62 417 31 186 46 233 62 278 46 178 36 115 16 40 20 44 16 26 20 29 21 22 20 17 21 14 21 10 25 10 31 8 72 10 186 12 221 9 587 3" stroke="#C08080"/>
<path d="M6884 3859l31 12 72 43 21 8 25 6 26 2 36-1 93-12 31-2 31 2 25 6 31 13 26 18 26 23 56 56 26 19 15 8 21 8 21 3 20 2 41-4 36-8 47-19 46-22 31-18 36-25 93-75 46-33 72-45 47-21 25-7 21-3 108 3 57-6 61-13 119-39 56-13 42-7 46-4 51 1 47 5 36 7 56 21 103 51 62 27 62 21 46 11 98 9 41 0 78-8 25-7 21-8 36-21 41-33 41-38 31-36 21-29 26-41 123-221 82-164 73-137 82-172 46-113 108-311 52-132 20-48 16-30 15-20 11-6 5-1 10 4 5 4 11 15 10 22 20 64 21 89 36 204 62 421 31 188 46 236 62 281 46 180 36 116 16 40 20 45 16 27 20 28 21 23 20 17 21 14 21 10 25 10 31 8 72 11 186 11 221 10 587 3" stroke="#70A070"/>
<path d="M6884 3859l31 13 72 44 21 8 25 6 26 3 36-1 93-12 36-2 31 2 25 7 26 12 26 17 26 22 56 55 26 19 15 9 21 7 21 4 20 1 41-4 36-8 42-16 51-25 31-18 36-25 88-71 46-33 72-44 26-14 26-10 25-7 21-2 108 5 26-1 31-4 61-13 124-38 93-19 46-4 51 0 47 4 36 8 56 19 103 50 62 25 62 20 46 11 93 7 41-1 83-9 25-7 21-9 36-22 41-32 41-40 31-36 21-29 26-42 123-224 82-166 73-138 82-174 46-114 108-315 52-133 20-48 16-30 15-21 11-6 5-1 10 4 5 4 11 15 10 22 20 65 21 90 36 206 62 426 31 190 46 238 62 285 46 181 36 117 16 41 20 45 16 27 20 29 21 23 20 18 21 13 21 11 25 10 31 8 72 11 186 11 221 9 587 4" stroke="#60B0E0"/>
<path d="M6884 3859l31 13 72 45 21 9 25 6 26 3 36 0 93-12 36-2 31 2 25 7 26 11 26 17 26 21 56 54 26 20 15 8 21 7 21 4 25 1 36-3 36-9 42-16 51-25 31-18 36-25 88-71 41-29 72-44 51-24 26-7 26-4 108 8 31-1 31-4 62-13 118-36 93-19 46-4 51 0 47 4 36 7 56 19 98 45 62 25 62 20 51 10 93 6 41-1 83-11 25-7 21-9 36-23 41-33 41-40 31-37 21-30 26-42 123-226 82-168 73-140 82-176 46-115 108-317 52-135 20-49 16-30 15-21 11-6 5-1 10 4 5 4 11 15 10 22 20 66 21 91 36 208 62 430 31 192 46 240 62 288 46 183 36 118 16 42 20 45 16 28 20 29 21 23 20 18 21 14 21 10 25 10 31 9 72 10 186 12 221 9 587 4" stroke="#90B0D0"/>
<path d="M6884 3859l31 13 72 47 21 9 25 6 26 3 36 0 98-11 31-2 31 2 25 6 26 11 31 20 26 22 51 49 26 19 15 8 21 7 21 4 25 1 36-3 31-7 42-16 46-21 31-18 36-23 36-27 67-55 62-42 46-27 31-15 31-11 25-6 26-1 98 9 51-2 67-12 108-33 83-18 56-8 62-1 57 4 51 12 42 14 92 42 57 22 62 19 51 11 93 5 41-2 82-12 26-7 26-11 36-23 41-34 41-40 31-38 21-30 26-43 123-229 82-169 73-141 82-178 46-116 108-321 52-136 20-49 16-30 15-21 11-7 5-1 10 4 5 5 11 15 10 22 20 66 21 92 36 210 62 435 31 193 46 243 62 290 46 186 36 119 16 42 20 46 16 27 20 30 21 23 20 18 21 14 21 11 25 10 31 8 72 11 186 12 221 9 587 4" stroke="#607090"/>
<path d="M6884 3859l31 14 72 47 21 9 25 7 26 4 36-1 98-11 31-1 31 2 31 7 25 12 26 17 26 21 51 48 26 19 15 8 21 7 21 4 25 1 36-3 31-7 36-13 52-24 36-21 31-20 103-82 56-38 47-27 31-15 31-12 25-6 31-1 98 11 51-2 67-11 108-32 83-18 56-8 62-2 57 5 51 10 42 14 87 38 57 22 62 18 51 11 46 3 57 1 31-1 87-14 26-7 21-9 36-23 46-38 41-42 31-38 21-30 26-43 123-232 82-171 73-142 82-179 46-118 108-323 52-138 20-49 16-31 15-21 11-7 5-1 10 4 5 5 11 15 10 22 20 67 21 93 36 212 62 439 31 195 46 245 62 293 46 187 36 120 16 43 20 46 16 28 20 30 21 23 20 18 21 15 21 10 25 10 31 9 72 11 186 12 221 9 587 4" stroke="#000000"/>
<path d="M6884 3859l31 14 72 48 21 10 25 7 26 4 36 0 98-11 36-2 31 3 26 7 25 11 26 16 26 21 56 51 26 18 16 7 20 7 21 3 20 1 36-4 31-7 36-13 52-24 36-20 31-21 103-82 51-34 47-27 36-18 31-11 25-5 31-1 103 12 52-1 61-10 108-31 88-20 51-6 62-2 57 4 51 10 42 13 87 37 57 20 62 18 51 10 51 3 52 0 31-2 87-15 26-8 21-9 36-23 46-39 41-42 31-39 21-31 26-44 123-233 82-173 73-144 82-181 46-118 108-327 52-138 20-50 16-31 15-22 11-7 5 0 10 4 5 4 11 16 10 22 20 68 21 94 36 213 62 443 31 197 46 247 62 296 46 188 36 122 16 43 20 46 16 29 20 30 21 23 20 19 21 14 21 11 25 10 31 9 72 11 186 12 221 9 587 4" stroke="#FF0000"/>
<path d="M6884 3860l31 14 72 49 21 9 25 8 26 4 36 0 98-10 36-2 31 3 26 6 25 11 26 16 31 24 51 47 26 17 16 8 20 6 21 3 20 1 36-4 31-7 36-13 52-24 36-20 31-21 98-78 56-38 47-26 36-17 31-11 25-5 31-1 103 15 52-1 67-11 108-30 82-18 51-7 62-2 57 4 51 9 42 13 87 35 57 20 62 17 51 9 31 2 51 0 52-3 87-17 26-8 21-9 36-24 46-40 41-42 31-39 21-31 26-45 123-236 82-174 73-145 82-182 46-120 108-329 52-140 20-51 16-31 15-22 11-7 5 0 10 4 5 5 11 15 10 23 20 68 21 95 36 215 62 447 31 198 46 250 62 298 46 190 36 123 16 43 20 47 16 28 20 31 21 23 20 19 21 14 21 11 25 11 31 8 72 11 186 13 221 9 587 4" stroke="#0000FF"/>
<path d="M6884 3860l31 14 72 50 21 10 25 8 26 4 36 0 103-10 31-2 31 3 26 6 25 11 31 19 26 20 51 46 26 18 16 7 20 6 21 3 20 1 36-3 31-8 36-13 52-24 36-20 31-21 98-77 51-35 46-26 36-17 31-12 26-5 36-1 103 16 26 1 31-2 62-9 108-30 87-19 52-6 56-2 57 3 51 10 42 12 87 34 57 19 62 15 56 9 83 0 46-3 87-18 26-9 21-9 36-24 46-41 41-43 31-39 21-32 26-45 123-238 82-176 73-146 82-184 46-121 108-332 52-141 20-50 16-32 15-22 11-7 5-1 10 4 5 5 11 16 10 23 20 68 21 96 36 217 62 450 31 201 46 251 62 301 46 192 36 123 16 44 20 47 16 29 20 30 21 24 20 19 21 15 21 11 25 10 31 9 31 6 41 5 186 13 221 9 587 4" stroke="#FF00FF"/>
<path d="M6884 3860l31 14 72 51 21 10 25 9 26 4 36 0 103-10 31-1 31 2 31 8 25 11 26 16 26 20 51 45 26 18 16 7 20 6 21 3 20 1 36-3 31-7 36-14 47-21 36-20 36-24 98-77 51-34 46-26 36-17 31-11 26-5 36 0 103 17 26 1 31-1 62-9 108-29 87-18 52-7 56-2 57 3 51 9 42 11 87 33 57 18 62 15 56 8 83-1 46-4 87-19 26-9 21-10 36-24 46-42 41-43 31-40 21-32 26-46 123-240 82-177 73-148 82-185 46-122 108-335 52-141 20-52 16-32 15-22 11-7 5 0 10 4 5 5 11 15 10 24 20 68 21 97 36 219 62 454 31 202 46 253 62 303 46 194 36 124 16 44 20 48 16 29 20 30 21 25 20 19 21 14 21 11 25 11 31 9 31 6 41 5 186 13 221 9 587 4" stroke="#008000"/>
<path d="M6884 3860l31 15 57 42 20 13 21 9 25 7 26 4 36 0 98-9 31-2 31 3 31 7 25 11 26 15 31 24 46 40 26 18 16 7 20 6 21 4 20 0 36-3 31-7 36-14 47-21 36-20 36-23 98-78 46-31 46-25 36-18 31-11 26-5 21-2 20 1 67 13 41 6 26 1 31-1 62-9 103-27 92-19 52-6 56-2 57 3 46 7 42 12 87 31 52 16 61 14 57 8 57 1 72-6 87-20 26-9 21-9 36-24 46-40 41-44 36-46 21-32 26-46 123-243 82-178 73-149 82-187 46-122 108-338 52-143 20-52 16-32 15-22 11-7 5-1 10 4 5 5 11 16 10 24 20 69 21 97 36 221 62 457 31 204 46 255 62 306 46 194 36 126 16 44 20 48 16 30 20 31 21 24 20 19 21 15 21 11 25 10 31 10 31 6 41 5 186 12 221 10 587 4" stroke="#000080"/>
<path d="M6884 3860l31 15 57 43 20 13 21 9 25 8 26 4 36 0 129-10 31 2 31 7 25 10 31 19 26 20 46 40 26 17 16 7 20 7 21 3 20 0 36-3 31-7 36-13 47-22 36-20 31-20 36-26 67-55 46-30 46-26 36-16 31-11 26-6 21-1 20 1 67 15 41 6 26 2 31-1 62-8 108-28 92-19 67-7 67 0 47 5 41 8 129 42 66 18 62 11 52 3 67-4 41-5 82-20 26-9 21-10 36-24 46-41 41-44 36-47 21-32 26-47 123-244 82-180 73-150 82-188 46-124 108-340 52-144 20-52 16-32 15-23 11-7 5-1 10 5 5 5 11 16 10 23 20 70 21 98 36 222 62 461 31 205 46 257 62 308 46 196 36 127 16 44 20 49 16 29 20 32 21 24 20 19 21 15 21 12 25 10 31 9 31 6 41 6 186 12 221 10 587 4" stroke="#8000FF"/>
<path d="M6884 3860l31 16 57 43 20 13 21 10 25 8 26 4 36 0 98-9 36-1 31 3 31 7 26 11 25 16 26 19 52 44 20 13 16 7 20 7 21 3 20 1 36-4 31-7 36-13 47-22 36-20 31-20 36-26 67-55 46-30 41-22 41-19 31-11 26-5 21-1 20 1 67 16 41 7 26 2 31-1 62-8 113-28 93-18 67-6 66 0 42 3 46 10 118 38 67 17 62 10 52 3 72-4 41-6 87-23 42-17 36-25 46-42 41-44 36-47 21-33 26-47 123-246 82-182 73-151 82-189 46-125 108-342 52-145 20-53 16-32 15-23 11-7 5-1 10 4 5 5 11 16 10 24 20 71 21 98 36 224 62 464 31 207 46 259 62 310 46 198 36 127 16 45 20 49 16 29 20 32 21 24 20 20 21 15 21 11 25 11 31 9 31 6 41 5 186 13 221 10 587 4" stroke="#A040C0"/>
<path d="M6884 3860l31 16 57 44 20 13 21 10 25 8 26 4 36 1 103-9 31-1 31 3 31 7 26 11 25 15 26 19 52 43 20 13 16 8 20 6 21 3 20 1 36-4 31-7 36-13 47-22 36-19 31-21 36-26 61-51 47-30 41-23 41-19 31-11 26-5 20-2 21 1 77 18 41 7 26 2 31-1 62-8 108-26 93-19 67-6 66 0 47 4 41 8 118 36 67 16 62 10 52 3 67-4 41-7 87-23 26-9 21-11 36-24 46-43 41-45 36-48 21-33 26-47 123-249 82-182 73-152 82-191 46-125 103-329 57-162 20-53 16-33 15-22 11-8 5 0 10 4 5 5 11 16 10 24 20 71 21 99 36 226 62 467 31 208 46 261 62 312 46 199 36 128 16 45 20 49 16 30 20 32 21 25 20 19 21 15 21 12 25 10 31 10 31 6 41 5 186 13 221 10 587 4" stroke="#800000"/>
<path d="M6884 3860l15 7 21 13 67 51 15 9 21 8 31 8 31 2 36-1 103-9 31 1 31 6 30 11 31 17 26 18 52 43 25 16 16 7 20 5 36 3 36-4 31-7 36-13 47-22 36-19 31-20 36-27 61-50 47-31 41-22 41-19 31-10 26-6 26-1 20 2 72 18 41 8 26 1 31 0 62-7 108-26 98-19 67-6 67 0 41 3 41 8 118 35 62 14 62 10 51 3 67-5 47-7 87-25 26-9 21-11 36-25 46-43 41-46 36-48 21-33 26-48 123-250 82-184 73-154 82-191 46-127 103-331 57-163 20-53 16-33 15-23 11-7 5-1 10 4 5 6 11 16 10 24 20 71 21 100 36 227 62 471 31 209 46 263 62 314 46 200 36 129 16 45 20 50 16 30 20 32 21 25 20 20 21 15 21 11 25 11 31 9 31 7 41 5 186 13 221 10 587 4" stroke="#808000"/>
<path d="M6884 3860l15 7 21 13 67 52 15 9 21 9 31 7 31 3 41-1 98-9 31 1 31 6 30 10 31 17 31 22 47 38 25 16 16 7 20 5 36 3 36-3 31-8 36-13 47-21 36-20 31-20 36-27 61-50 42-28 41-22 41-19 31-11 26-5 20-3 21 1 113 27 31 4 41 0 57-6 108-26 98-19 67-6 67-1 41 4 41 7 113 32 67 15 62 9 51 2 62-5 47-7 92-27 41-17 36-25 42-37 46-50 36-47 21-33 25-47 124-251 87-196 73-154 82-193 46-127 103-334 57-164 20-53 16-34 15-22 11-8 5-1 10 5 5 5 11 16 10 25 20 71 21 101 36 228 62 474 31 210 46 265 62 316 46 201 36 130 16 46 20 50 16 30 20 32 21 25 20 20 21 15 21 12 25 11 31 9 31 7 41 5 186 13 221 10 587 4" stroke="#4070B0"/>
<path d="M6884 3861l15 6 21 13 67 53 15 9 21 9 31 8 31 3 41-1 98-9 31 1 31 5 30 11 31 16 31 21 47 38 25 16 16 7 20 5 36 3 36-3 31-7 31-12 47-21 36-19 36-23 36-27 61-50 42-27 36-20 41-19 31-11 31-7 20-2 21 1 113 29 31 4 41 0 31-2 31-5 103-24 98-19 67-6 72-1 41 4 36 6 113 31 62 13 62 8 51 3 62-5 52-9 92-27 41-18 36-25 42-38 46-51 36-47 21-33 25-47 124-254 87-197 73-155 82-194 46-128 103-335 57-165 20-54 16-34 15-23 11-7 5-1 10 4 5 6 11 16 10 25 20 72 21 101 36 230 62 476 31 212 46 266 62 318 46 203 36 131 16 45 20 51 16 30 20 32 21 26 20 20 21 15 21 12 25 11 31 9 31 6 41 6 186 13 221 10 587 4" stroke="#008080"/>
<path d="M6884 3861l15 7 21 13 67 53 21 12 20 8 31 7 31 2 36-1 98-8 31 1 31 5 30 10 31 16 31 21 47 38 25 16 16 6 20 6 36 2 36-3 31-7 31-12 47-21 36-19 36-23 36-27 61-50 42-27 36-19 41-19 31-11 31-6 25-2 21 2 82 23 36 8 31 3 36 0 57-7 108-24 98-19 67-6 67-1 41 4 36 6 113 29 57 12 67 9 51 1 62-5 52-9 92-29 41-19 36-25 42-38 46-51 36-48 21-33 25-47 124-256 87-198 73-156 82-196 46-128 103-337 57-166 20-55 16-33 15-24 11-7 5-1 10 5 5 5 11 16 10 25 20 73 21 101 36 231 62 480 31 213 46 267 62 320 46 204 36 132 16 46 20 51 16 30 20 33 21 25 20 20 21 16 21 11 25 11 31 10 31 6 41 6 186 13 221 10 587 4" stroke="#B07040"/>
<path d="M6884 3861l15 7 21 13 67 54 21 12 20 8 31 7 31 3 36-1 103-8 31 1 31 6 31 10 31 17 25 17 47 38 25 16 16 6 20 6 36 2 36-3 31-7 31-11 47-22 36-19 36-23 97-77 42-27 36-19 41-18 31-11 26-5 25-3 21 2 118 32 31 4 41 0 57-5 108-25 98-18 67-6 72-1 36 3 36 5 113 29 57 11 62 7 51 2 57-5 56-9 98-32 41-19 36-25 42-39 46-51 36-49 21-33 25-48 124-257 87-199 73-157 82-197 46-129 103-339 57-167 20-55 16-34 15-23 11-7 5-1 10 4 5 5 11 17 10 25 20 73 21 102 36 233 62 481 31 215 46 269 62 322 46 205 36 132 16 47 20 51 16 30 20 33 21 25 20 21 21 15 21 12 25 11 31 10 31 6 41 5 186 14 221 10 587 4" stroke="#20B020"/>
<path d="M6884 3861l15 7 21 13 67 55 21 12 20 9 31 7 31 2 36 0 103-8 31 1 31 5 31 11 31 16 25 17 52 41 20 12 16 6 20 6 36 3 36-4 31-7 31-11 47-22 36-19 36-23 97-77 42-26 36-19 41-18 31-10 26-6 25-2 21 1 118 34 36 4 41 1 57-6 103-23 98-19 67-6 72-1 36 2 36 6 108 26 57 11 62 7 56 2 57-5 56-11 98-32 41-20 36-25 47-45 46-53 36-50 21-35 26-49 123-259 82-190 73-158 82-198 46-130 103-341 57-168 20-54 16-35 15-23 11-7 5-1 10 4 5 5 11 17 10 25 20 74 21 102 36 234 62 485 31 215 46 271 62 323 46 207 36 133 16 46 20 51 16 31 20 33 21 26 20 20 21 16 21 12 25 11 31 9 31 7 41 5 186 14 221 10 587 4" stroke="#FF60A0"/>
<path d="M6884 3861l15 7 21 14 67 55 21 12 20 9 31 7 31 3 36-1 103-7 31 1 31 5 31 10 31 15 25 17 52 41 20 12 16 6 20 6 36 3 36-4 31-7 31-11 47-21 36-20 36-23 36-27 56-46 41-27 37-19 41-18 31-11 25-6 26-3 26 2 118 35 36 5 41 0 57-5 149-32 57-10 72-6 67-1 36 3 36 5 103 24 52 10 61 7 57 1 62-5 56-11 98-34 41-19 36-27 47-45 46-53 36-51 21-35 26-49 123-261 82-191 73-159 82-198 46-131 103-343 57-169 20-55 16-34 15-23 11-8 5-1 10 5 5 5 11 17 10 25 20 74 21 103 36 235 62 487 31 217 46 272 62 325 46 207 36 134 16 47 20 51 16 31 20 33 21 26 20 21 21 15 21 12 25 11 31 10 31 7 41 5 186 14 221 10 587 4" stroke="#00C0C0"/>
<path d="M6884 3861l15 7 21 14 67 56 21 12 20 9 31 8 31 2 36 0 103-8 31 1 31 5 31 10 31 15 30 20 47 37 20 12 16 7 20 5 36 3 36-4 31-7 31-11 47-21 36-20 36-23 92-72 41-28 37-19 41-18 31-10 25-6 26-2 26 2 118 36 36 5 41 1 57-5 155-33 51-9 72-6 67-1 36 2 36 5 103 24 52 8 61 7 57 1 62-6 56-12 98-34 41-20 36-27 47-45 46-54 36-51 21-35 26-50 123-263 82-191 73-160 82-200 46-131 103-344 57-170 20-55 16-35 15-24 11-7 5-1 10 4 5 6 11 17 10 25 20 74 21 104 36 236 62 490 31 217 46 274 62 327 46 208 36 135 16 47 20 51 16 32 20 33 21 26 20 20 21 16 21 12 25 11 31 10 31 6 41 6 186 14 221 10 587 4" stroke="#8060E0"/>
<path d="M6884 3861l15 7 21 14 67 57 21 12 20 9 31 8 31 3 36 0 108-8 31 1 31 6 31 10 31 16 25 17 47 36 20 12 16 7 20 5 36 3 36-4 31-7 31-11 47-21 36-20 36-23 92-72 41-27 37-19 41-18 31-10 25-6 26-2 26 2 113 36 31 6 31 2 36 0 36-4 165-34 46-8 57-5 56-3 47 1 41 5 113 24 57 9 56 5 52 1 56-5 62-13 98-35 41-19 36-26 42-39 46-52 41-56 21-34 25-50 124-263 87-203 73-161 82-201 46-132 103-346 57-170 20-56 16-35 15-23 11-8 5-1 10 5 5 5 11 17 10 25 20 75 21 104 36 238 62 491 31 219 46 275 62 329 46 209 36 135 16 47 20 52 16 32 20 33 21 26 20 21 21 16 21 12 25 11 31 10 31 6 41 6 186 13 221 11 587 4" stroke="#A0A040"/>
<path d="M6884 3861l15 7 16 11 57 49 20 15 21 12 20 8 31 7 31 2 36 0 103-8 31 2 31 5 31 10 31 15 25 17 47 36 25 15 31 9 36 3 36-3 31-8 31-11 47-21 36-20 36-23 92-72 41-27 37-19 36-15 30-11 26-6 31-2 26 2 113 37 31 6 36 2 36 0 36-4 160-33 46-8 57-6 56-2 47 1 41 4 113 23 57 8 56 5 52 0 56-5 62-13 98-36 41-20 36-26 47-45 46-53 36-51 21-34 25-49 124-265 87-204 73-162 82-201 46-133 103-348 57-171 20-56 16-35 15-24 11-7 5-1 10 4 5 6 11 17 10 25 20 75 21 105 36 238 62 495 31 219 46 276 62 331 46 210 36 136 16 47 20 52 16 32 20 33 21 27 20 20 21 16 21 13 25 11 31 10 31 6 41 6 186 13 221 11 587 4" stroke="#808080"/>
<path d="M6884 3861l15 8 16 10 57 49 20 16 21 12 20 8 31 7 31 3 36-1 103-7 31 1 31 5 31 10 31 15 25 17 47 35 25 15 31 9 36 3 36-3 31-8 31-11 47-21 36-19 36-24 92-72 41-27 37-18 36-16 30-10 26-6 31-2 26 2 113 38 31 6 36 3 36 0 36-4 206-40 57-6 56-2 47 0 41 4 113 22 52 7 56 5 52 0 56-5 62-13 103-38 41-20 36-27 47-45 46-54 36-51 21-34 25-50 124-266 87-205 73-162 82-203 46-133 103-350 57-172 20-56 16-35 15-24 11-7 5-1 10 4 5 5 11 18 10 25 20 76 21 105 36 239 62 497 31 221 46 277 62 332 46 211 36 136 16 48 20 53 16 31 20 34 21 26 20 21 21 16 21 12 25 12 31 9 31 7 41 6 186 13 221 11 587 4" stroke="#C08080"/>
<path d="M6884 3861l15 8 16 10 57 50 20 16 21 12 20 8 31 7 31 3 36 0 103-8 31 2 31 5 31 9 31 14 25 17 47 35 25 15 31 10 36 2 36-3 31-7 31-12 41-19 36-18 36-23 37-26 61-50 41-27 37-18 36-15 30-10 26-6 31-2 26 3 113 39 31 6 41 3 36 0 36-4 201-39 57-6 56-3 47 0 41 4 113 21 52 7 56 4 52 0 56-6 62-13 103-40 41-20 36-26 47-46 46-55 36-50 21-35 25-50 124-267 87-207 73-163 82-203 46-134 103-351 57-173 20-56 16-35 15-25 11-7 5-1 10 4 5 6 11 17 10 26 20 75 21 106 36 241 62 498 31 222 46 279 62 333 46 212 36 137 16 48 20 53 16 31 20 34 21 27 20 20 21 17 21 12 25 11 31 10 31 7 41 6 186 13 221 11 587 4" stroke="#70A070"/>
<path d="M6884 3861l15 8 16 10 57 51 20 16 21 12 20 8 31 7 36 3 31 0 103-7 31 1 31 5 31 9 31 14 25 16 47 35 25 15 31 10 36 2 36-3 31-7 31-12 41-18 36-19 36-23 37-26 61-50 36-24 31-16 36-15 31-11 31-8 31-3 31 3 118 41 31 6 41 3 36 0 31-4 201-39 57-6 56-3 47 0 41 4 113 20 52 6 51 4 52 0 61-7 62-14 103-40 41-20 36-27 47-46 46-55 36-51 21-35 25-50 124-269 87-207 73-164 82-204 46-135 103-352 57-174 20-56 16-36 15-24 11-8 5 0 10 4 5 5 11 18 10 26 20 76 21 106 36 241 62 501 31 223 46 280 62 334 46 213 36 138 16 48 20 53 16 32 20 34 21 26 20 21 21 16 21 13 25 11 31 10 31 7 41 5 67 7 119 7 221 11 587 4" stroke="#60B0E0"/>
<path d="M6884 3861l15 8 16 11 57 50 20 16 21 12 20 9 31 7 31 3 36 0 103-7 36 2 31 5 31 10 31 14 26 17 41 31 25 15 31 10 36 2 36-3 31-7 31-12 41-18 36-19 36-23 37-26 61-50 36-23 31-16 36-16 31-11 31-7 31-3 31 3 118 43 31 6 41 3 36 0 31-4 206-39 52-5 56-3 47 0 41 3 113 19 46 5 57 4 52-1 61-7 62-14 103-41 41-21 36-27 47-46 46-56 36-51 21-35 25-51 124-269 87-209 73-164 82-205 46-135 103-354 57-174 20-57 16-36 15-24 11-8 5-1 10 5 5 5 11 18 10 26 20 76 21 107 36 242 62 503 31 224 46 281 62 335 46 214 36 138 16 49 20 53 16 32 20 34 21 27 20 21 21 16 21 12 25 12 31 10 31 7 41 5 67 6 119 8 221 11 587 4" stroke="#90B0D0"/>
<path d="M6884 3861l15 8 16 11 57 51 20 16 21 12 20 9 31 8 36 3 36-1 98-6 36 1 31 5 31 9 31 15 26 16 41 32 25 14 31 10 36 2 36-3 31-7 31-12 41-18 36-19 36-23 37-26 61-50 36-23 31-16 36-15 31-11 31-7 31-3 31 4 118 43 36 7 41 3 37-1 30-3 201-39 57-5 56-4 42 0 41 3 108 18 51 6 52 2 51 0 62-7 62-14 31-11 77-32 41-21 36-28 47-47 46-55 36-52 21-35 25-51 124-271 87-209 73-165 82-206 46-135 103-356 57-175 20-57 16-35 15-25 11-7 5-1 10 4 5 6 11 17 10 26 20 77 21 107 36 243 62 505 31 225 46 282 62 337 46 215 36 138 16 49 20 53 16 32 20 34 21 27 20 21 21 17 21 12 25 12 31 10 31 6 41 6 67 6 119 8 221 11 587 4" stroke="#607090"/>
<path d="M6884 3862l15 7 16 11 57 51 20 17 21 12 20 9 31 8 36 3 31 0 108-7 31 1 31 5 31 9 31 14 26 17 41 31 25 14 31 10 36 3 36-4 31-7 31-12 41-18 36-19 36-23 37-26 61-50 36-23 31-16 36-15 31-10 26-6 31-3 31 2 20 5 67 28 36 12 36 7 41 4 37-1 30-3 201-38 57-6 56-4 42 0 41 3 108 17 46 5 52 2 51 0 62-7 67-15 31-11 77-33 41-22 36-27 47-47 46-56 36-52 21-36 25-51 124-272 87-210 73-165 82-207 46-136 103-357 57-176 20-57 16-36 15-24 11-8 5-1 10 5 5 5 11 18 10 26 20 77 21 107 36 245 62 506 31 226 46 283 62 338 46 216 36 139 16 49 20 53 16 33 20 34 21 27 20 21 21 17 21 12 25 12 31 10 31 6 41 6 67 6 119 8 221 11 587 4" stroke="#000000"/>
<path d="M6884 3862l15 7 16 11 57 52 20 16 21 13 20 9 31 8 36 3 36 0 103-7 31 2 31 4 31 9 31 14 26 16 41 31 25 14 31 10 36 3 36-4 31-7 31-11 41-19 36-19 36-23 37-26 61-49 36-24 31-16 36-14 31-11 26-5 31-4 31 3 20 6 67 28 36 12 36 8 47 4 31-1 30-3 201-38 57-6 56-4 42 0 41 2 108 16 46 5 52 2 46 0 62-6 67-16 31-11 77-33 41-21 21-14 20-17 42-42 46-55 41-59 21-35 25-52 124-273 87-211 73-166 82-208 46-136 103-358 57-176 20-58 16-36 15-24 11-8 5-1 10 5 5 5 11 18 10 26 20 77 21 108 36 245 62 509 31 226 46 284 62 340 46 216 36 140 16 49 20 54 16 32 20 34 21 27 20 22 21 16 21 13 25 11 31 10 31 7 41 6 67 6 119 8 221 11 587 4" stroke="#FF0000"/>
<path d="M6884 3862l15 7 16 11 57 52 20 17 21 13 25 10 26 7 36 3 36 0 103-7 31 2 31 4 31 9 31 13 26 16 46 34 20 11 31 10 36 3 36-4 31-7 31-11 41-19 36-19 36-23 37-26 61-49 36-24 31-15 36-15 31-10 26-6 31-3 31 3 20 6 67 28 36 13 36 8 47 4 31 0 36-4 195-37 57-6 56-4 42 0 41 2 108 15 46 4 52 2 46-1 62-6 67-16 31-11 77-34 41-21 21-14 20-17 42-42 46-56 41-59 21-36 25-51 124-275 87-212 73-166 82-209 46-137 103-359 57-177 20-57 16-36 15-25 11-8 5-1 10 5 5 5 11 18 10 26 20 78 21 108 36 246 62 511 31 227 46 285 62 341 46 217 36 140 16 49 20 54 16 32 20 35 21 27 20 21 21 17 21 13 25 11 31 10 31 7 41 6 67 6 119 8 221 11 587 4" stroke="#0000FF"/>
<path d="M6884 3862l15 8 16 11 57 52 20 17 21 12 25 11 26 7 36 3 36 0 103-6 36 1 31 5 31 9 31 14 21 13 41 31 25 14 31 10 36 3 36-4 31-7 31-11 41-19 36-19 36-23 37-26 61-49 36-23 31-16 36-15 31-9 26-6 31-3 31 3 20 6 67 29 41 15 36 7 47 4 31-1 31-4 195-36 52-6 61-4 42-1 41 2 108 15 41 3 46 2 52-1 67-7 67-16 31-11 77-35 41-21 21-15 20-17 42-42 51-63 36-53 21-36 25-51 124-276 87-212 73-167 82-209 46-138 103-360 57-178 20-58 16-36 15-25 11-7 5-1 10 4 5 6 11 18 10 26 20 78 21 108 36 247 62 512 31 228 46 286 62 342 46 218 36 141 16 49 20 54 16 33 20 34 21 28 20 21 21 17 21 12 25 12 31 10 31 7 41 6 67 6 119 8 221 11 587 4" stroke="#FF00FF"/>
<path d="M6884 3862l15 8 16 11 57 52 20 17 21 13 25 11 31 7 36 3 134-6 36 1 31 5 31 9 31 14 21 13 46 33 20 12 31 9 36 3 36-4 31-7 31-11 41-19 36-19 36-23 37-26 61-49 31-20 31-16 31-13 31-11 31-7 36-4 31 3 20 6 67 30 41 15 36 7 47 4 31 0 31-4 200-37 108-9 42-1 41 1 108 14 41 4 93 0 72-8 67-16 31-12 77-35 41-22 21-14 20-17 42-43 51-63 36-53 21-36 25-52 124-276 87-213 73-168 82-210 46-138 103-362 57-178 20-58 16-36 15-25 11-8 5-1 10 5 5 6 11 17 10 27 20 78 21 109 36 248 62 513 31 229 46 287 62 343 46 219 36 141 16 49 20 55 16 32 20 35 21 27 20 22 21 16 21 13 25 12 31 10 31 7 41 6 67 6 119 8 221 11 587 4" stroke="#008000"/>
<path d="M6884 3862l15 8 16 11 57 53 20 17 21 13 25 11 31 7 36 3 31 0 103-6 36 1 31 5 31 8 31 14 21 13 46 33 20 12 31 9 36 3 36-4 31-7 31-11 41-19 36-19 36-22 37-27 61-49 31-20 31-16 31-13 31-10 31-8 36-3 31 3 20 7 67 29 41 15 36 8 47 4 31 0 36-4 195-36 108-10 42-1 41 2 108 13 41 3 93 0 67-8 67-15 46-19 77-36 31-17 21-14 20-18 42-43 51-63 36-53 21-36 25-52 124-278 87-214 73-168 82-211 46-138 103-363 57-178 20-59 16-36 15-25 11-8 5-1 10 5 5 5 11 18 10 27 20 78 21 109 36 249 62 515 31 230 46 288 62 344 46 219 36 142 16 49 20 55 16 33 20 35 21 27 20 21 21 17 21 13 25 12 31 10 31 7 41 6 67 6 119 8 221 11 587 4" stroke="#000080"/>
<path d="M6884 3862l15 8 16 11 57 53 20 18 21 12 25 12 31 7 36 3 31 0 103-6 36 1 31 5 31 8 31 14 21 12 46 34 20 11 31 9 36 3 36-3 31-8 31-11 41-19 36-19 36-22 37-27 61-49 31-20 31-16 31-13 31-10 31-7 36-3 31 3 25 9 78 34 36 12 51 8 52 2 51-7 170-32 52-6 61-5 47-2 41 2 108 12 51 4 67-1 62-5 57-11 46-14 103-47 36-20 21-14 20-18 42-43 51-64 36-53 21-37 25-52 124-278 87-215 73-169 82-211 46-139 103-364 57-179 20-58 16-37 15-25 11-8 5-1 10 5 5 6 11 18 10 26 20 79 21 109 36 250 62 517 31 230 46 288 62 346 46 220 36 142 16 50 20 54 16 33 20 35 21 27 20 22 21 17 21 13 25 11 31 11 31 7 41 5 67 7 119 8 221 11 587 4" stroke="#8000FF"/>
<path d="M6884 3862l15 8 16 11 57 54 20 17 21 13 25 11 31 8 36 3 31 0 108-6 36 2 31 5 31 8 26 12 21 12 46 34 20 11 31 10 36 2 36-3 31-8 31-11 41-19 36-19 36-22 37-27 61-49 31-20 31-16 31-12 31-10 31-7 36-3 31 3 25 9 78 35 36 12 51 8 52 2 51-7 170-31 113-12 47-1 41 1 108 12 51 3 67-1 62-6 57-11 46-14 103-48 36-20 21-15 20-18 42-43 51-64 36-53 21-37 25-52 124-280 87-215 73-169 82-212 46-139 103-365 57-180 20-59 16-36 15-25 11-8 5-1 10 4 5 6 11 18 10 27 20 78 21 110 36 251 62 518 31 231 46 289 62 347 46 220 36 143 16 50 20 55 16 33 20 35 21 27 20 22 21 17 21 13 25 11 31 11 31 6 41 6 67 7 119 8 221 11 587 4" stroke="#A040C0"/>
<path d="M6884 3862l15 8 16 11 57 54 20 18 21 13 25 11 31 8 36 3 31 0 108-6 36 2 31 4 31 9 26 11 21 12 46 34 26 13 31 8 30 2 36-3 31-8 31-11 41-19 36-19 36-22 37-27 61-49 31-20 26-13 31-13 31-10 31-8 36-3 36 3 25 9 78 35 36 13 51 9 52 1 51-6 170-32 113-11 47-2 41 1 108 11 51 3 67-2 62-5 57-12 46-15 103-48 36-20 21-15 20-18 42-43 51-64 36-54 21-37 25-53 124-280 87-216 73-170 82-212 46-140 103-366 57-180 20-59 16-37 15-25 11-8 5-1 10 5 5 6 11 18 10 26 20 79 21 111 36 251 62 520 31 231 46 290 62 348 46 221 36 143 16 50 20 55 16 33 20 35 21 28 20 22 21 17 21 12 25 12 31 10 31 7 41 6 67 7 119 8 221 11 587 4" stroke="#800000"/>
<path d="M6884 3862l15 8 16 11 57 55 20 17 21 13 25 12 31 8 36 3 31 0 108-6 36 1 31 5 31 9 26 11 21 12 46 33 26 13 31 9 30 1 36-3 31-7 31-12 41-19 36-19 36-22 37-27 56-45 36-24 26-13 31-13 31-10 31-7 36-4 31 3 25 8 78 36 41 14 25 6 31 4 52 1 51-7 165-30 113-12 47-2 41 1 108 11 51 2 67-2 62-6 57-12 46-15 103-49 36-20 21-15 20-18 42-44 51-64 36-54 21-37 25-53 124-281 87-217 73-170 82-213 46-140 103-367 57-181 20-59 16-37 15-25 11-8 5-1 10 5 5 5 11 18 10 27 20 79 21 111 36 252 62 521 31 232 46 291 62 349 46 222 36 143 16 50 20 55 16 34 20 35 21 27 20 22 21 17 21 13 25 12 31 10 31 7 41 6 67 7 119 8 221 11 587 4" stroke="#808000"/>
<path d="M6884 3862l15 8 16 12 57 54 20 18 21 13 25 11 31 8 36 4 31 0 108-6 36 1 31 5 31 8 26 11 21 12 46 33 26 13 31 9 30 1 36-3 31-7 31-12 41-19 36-19 36-22 37-26 56-46 36-24 26-13 31-12 31-11 31-7 36-3 31 3 25 8 78 36 41 15 25 6 31 4 52 1 51-6 170-32 108-11 47-2 41 1 108 10 51 2 67-2 62-7 57-12 46-15 103-50 36-20 21-15 20-18 42-44 51-65 36-54 21-37 25-53 124-282 87-218 73-170 82-214 46-140 103-369 57-181 20-59 16-37 15-25 11-8 5-1 10 5 5 5 11 18 10 27 20 80 21 111 36 252 62 523 31 233 46 292 62 349 46 223 36 143 16 50 20 56 16 33 20 35 21 28 20 22 21 17 21 13 25 12 31 10 31 7 41 6 67 7 119 8 221 11 587 4" stroke="#4070B0"/>
<path d="M6884 3862l15 8 16 12 57 55 20 17 21 14 25 11 31 8 36 4 36 0 103-6 36 1 31 4 31 8 31 14 21 12 41 30 26 13 31 9 30 1 31-2 31-7 31-11 41-18 41-22 36-22 37-26 56-46 36-23 26-13 31-13 31-10 31-7 36-3 31 3 25 8 78 37 41 15 25 6 31 4 52 1 51-6 170-31 108-11 47-3 41 1 108 9 46 2 67-2 62-7 57-11 46-15 103-50 36-20 21-14 20-18 41-43 52-64 41-61 21-37 25-53 119-271 98-243 67-158 82-215 46-140 103-370 57-181 20-60 16-37 15-25 11-8 5-1 10 5 5 6 11 18 10 27 20 79 21 112 36 252 62 525 31 233 46 293 62 350 46 223 36 144 16 51 20 55 16 34 20 35 21 28 20 22 21 17 21 13 25 12 31 10 31 7 41 6 67 7 119 8 221 11 216 2 371 2" stroke="#008080"/>
<path d="M6884 3862l15 8 16 12 57 55 20 18 26 16 26 11 30 7 37 3 139-6 36 1 30 5 31 9 26 11 21 13 41 29 26 13 31 9 30 1 31-2 31-7 31-11 41-18 41-22 36-22 37-26 56-46 36-23 26-13 31-13 31-10 31-7 36-2 31 3 25 8 78 37 41 15 25 6 31 5 52 2 51-7 170-31 108-11 47-3 41 0 108 9 46 2 67-3 62-6 57-12 46-15 108-53 31-18 21-14 20-18 41-43 52-64 41-62 21-37 25-54 119-271 98-243 67-159 82-215 46-141 103-370 57-183 20-59 16-37 15-26 11-8 5-1 10 5 5 6 11 18 10 27 20 80 21 111 36 254 62 526 31 234 46 293 62 351 46 224 36 145 16 50 20 56 16 33 20 36 21 28 20 22 21 17 21 13 25 12 31 10 31 7 41 6 67 6 119 8 221 12 216 2 371 2" stroke="#B07040"/>
<path d="M6884 3862l15 8 16 12 57 55 20 18 26 17 26 10 30 7 37 4 139-6 36 1 30 5 31 8 26 11 21 13 41 29 26 13 31 9 30 2 36-4 31-7 31-12 41-19 36-19 36-22 37-26 56-46 36-23 26-13 31-12 31-10 25-6 37-4 36 3 25 9 78 37 41 16 25 6 31 5 31 2 26-1 51-6 165-31 108-11 88-3 108 9 46 1 67-3 62-7 57-12 46-15 108-54 31-18 21-14 20-18 41-43 52-65 41-62 21-37 25-54 119-272 98-244 67-159 82-216 46-141 103-371 57-183 20-60 16-37 15-25 11-8 5-1 10 5 5 5 11 18 10 28 20 80 21 112 36 254 62 527 31 234 46 295 62 352 46 224 36 145 16 50 20 56 16 34 20 35 21 28 20 22 21 18 21 12 25 12 31 11 31 7 41 6 67 6 119 8 221 12 216 2 371 2" stroke="#20B020"/>
<path d="M6884 3862l15 9 16 11 57 56 20 18 26 16 26 11 30 7 37 4 139-7 36 2 30 4 31 9 26 11 21 12 41 29 26 13 31 9 30 2 31-3 31-7 31-11 41-18 41-21 36-23 37-26 56-46 36-23 26-13 31-12 31-10 25-6 37-3 36 3 25 9 78 38 41 16 25 6 31 4 31 3 26-1 57-7 159-29 108-12 88-3 108 8 46 1 67-3 62-8 57-12 46-15 108-55 31-18 21-14 20-18 41-44 52-64 41-63 21-37 25-54 119-273 98-244 67-160 82-216 46-142 103-372 57-183 20-60 16-37 15-26 11-8 5-1 10 5 5 6 11 18 10 27 20 81 21 112 36 255 62 528 31 235 46 295 62 353 46 225 36 145 16 51 20 56 16 33 20 36 21 28 20 22 21 17 21 13 25 12 31 11 31 7 41 6 67 6 119 8 221 12 216 2 371 2" stroke="#FF60A0"/>
<path d="M6884 3862l15 9 16 11 57 56 20 18 26 17 26 11 30 7 37 3 139-6 36 2 30 4 31 8 26 11 21 12 41 29 26 13 31 9 30 2 31-3 31-7 31-11 41-18 41-21 36-23 37-26 56-46 36-23 26-13 31-12 31-10 25-5 37-4 36 4 25 9 78 38 41 16 25 6 31 5 31 3 26-1 57-7 159-29 108-12 88-3 108 7 46 1 67-4 62-7 57-13 46-16 108-55 31-17 21-15 20-18 41-44 52-65 41-62 21-38 25-54 119-274 98-245 67-160 82-216 46-143 103-372 57-184 20-60 16-37 15-26 11-8 5-1 10 5 5 6 11 18 10 27 20 81 21 112 36 255 62 530 31 236 46 295 62 354 46 226 36 145 16 51 20 56 16 34 20 36 21 28 20 22 21 17 21 13 25 12 31 11 31 7 41 6 67 6 119 8 221 12 216 2 371 2" stroke="#00C0C0"/>
<path d="M6884 3862l15 9 16 11 57 57 20 18 26 16 26 11 30 8 37 3 139-6 36 2 36 5 25 6 26 11 21 12 41 29 26 13 31 9 30 2 31-3 31-7 31-10 41-19 41-21 36-23 37-26 56-46 36-23 26-13 31-12 31-9 25-6 37-3 36 4 25 8 78 39 41 17 25 6 31 5 31 2 26 0 57-7 159-29 108-12 88-4 108 7 46 1 67-4 62-8 57-13 46-16 108-55 31-18 21-15 20-18 41-44 52-65 41-63 21-38 25-54 119-275 98-245 67-161 82-217 46-142 103-374 57-184 20-60 16-37 15-26 11-8 5-1 10 5 5 5 11 19 10 27 20 81 21 112 36 256 62 531 31 237 46 296 62 355 46 226 36 145 16 51 20 57 16 33 20 36 21 28 20 23 21 17 21 13 25 12 31 11 31 7 41 6 67 6 119 8 221 12 216 2 371 2" stroke="#8060E0"/>
<path d="M6884 3862l15 9 16 12 57 56 20 18 26 17 26 11 30 7 37 4 30 0 109-6 36 1 36 5 25 7 26 10 21 12 41 29 26 14 31 8 30 2 36-4 31-7 31-12 41-18 36-19 36-23 37-26 56-45 31-21 52-24 30-10 31-7 42-4 36 3 25 9 78 40 41 16 25 7 36 5 31 2 26 0 57-8 154-28 108-12 88-4 108 6 46 1 67-5 62-8 57-13 46-16 108-56 31-18 21-15 20-18 41-45 52-65 41-63 21-37 25-55 119-275 98-246 67-161 82-218 46-143 103-374 57-185 20-60 16-37 15-26 11-8 5-1 10 5 5 5 11 19 10 27 20 81 21 113 36 257 62 532 31 236 46 298 62 355 46 226 36 147 16 51 20 56 16 34 20 36 21 28 20 22 21 18 21 13 25 12 31 10 31 8 41 6 67 6 119 8 221 12 216 2 371 2" stroke="#A0A040"/>
<path d="M6884 3862l15 9 16 12 57 56 20 19 26 16 26 11 30 8 37 4 30 0 109-6 36 1 36 5 25 6 26 10 21 12 41 29 26 14 31 8 30 2 31-3 31-6 31-11 41-19 41-21 36-23 37-26 56-45 31-21 52-23 30-11 31-7 42-4 36 4 25 9 78 40 41 17 25 6 36 6 31 2 26 0 57-8 159-29 108-12 83-3 103 5 46 1 67-5 62-8 56-12 47-16 36-17 108-60 21-15 20-18 41-45 52-65 41-63 21-38 25-55 119-276 92-234 73-174 82-218 46-143 103-375 57-185 20-61 16-37 15-26 11-8 5-1 10 5 5 5 11 19 10 27 20 81 21 114 36 257 62 533 31 237 46 298 62 356 46 227 36 147 16 51 20 57 16 34 20 36 21 28 20 22 21 18 21 13 25 12 31 10 31 7 41 7 67 6 119 8 221 12 216 2 371 2" stroke="#808080"/>
<path d="M6884 3862l15 9 16 12 57 57 20 18 26 17 26 11 30 8 37 3 30 0 114-5 36 1 31 4 25 7 26 10 21 11 41 29 26 14 31 8 30 2 31-3 31-6 31-11 41-19 41-21 36-23 37-26 56-45 31-21 52-23 30-10 31-8 42-3 36 4 25 9 78 40 41 17 25 7 36 6 31 2 26-1 57-7 159-29 108-12 83-4 103 6 46 0 67-5 62-8 56-13 47-16 36-18 108-60 41-33 41-45 52-66 41-63 21-38 25-54 119-277 92-235 73-174 82-219 46-143 103-377 57-185 20-60 16-38 15-26 11-8 5-1 10 5 5 6 11 18 10 28 20 81 21 113 36 258 62 535 31 237 46 299 62 357 46 227 36 147 16 52 20 56 16 34 20 36 21 29 20 22 21 17 21 14 25 12 31 10 31 7 41 6 67 7 119 8 221 12 216 2 371 2" stroke="#C08080"/>
<path d="M6884 3862l15 9 16 12 57 57 20 18 26 17 26 12 30 7 37 4 30 0 114-6 36 2 31 4 31 8 25 11 57 37 26 14 31 8 30 2 31-3 31-6 31-11 41-19 41-21 36-23 37-26 56-45 31-21 52-23 30-10 31-7 42-4 36 5 25 9 78 40 41 17 25 7 36 6 31 3 26-1 62-8 154-28 108-12 83-4 103 5 46-1 67-4 62-9 56-13 47-16 36-18 108-61 41-33 41-45 52-66 41-64 21-38 25-54 119-278 92-235 73-175 82-219 46-144 103-377 57-185 20-61 16-38 15-25 11-9 5-1 10 5 5 6 11 18 10 28 20 81 21 114 36 258 62 536 31 238 46 300 62 357 46 228 36 147 16 52 20 57 16 34 20 36 21 28 20 23 21 17 21 13 25 13 31 10 31 7 41 6 67 7 119 8 221 12 216 2 371 2" stroke="#70A070"/>
<path d="M6884 3863l15 8 16 12 57 57 20 19 26 17 26 11 30 8 37 4 30 0 114-6 41 2 31 4 26 7 25 11 57 38 26 13 31 8 30 2 31-3 31-6 31-11 41-19 41-21 36-23 37-26 56-45 31-20 52-24 30-10 31-7 42-3 36 4 30 12 83 43 36 14 31 8 31 4 31 2 25 0 62-9 149-27 103-12 88-5 103 5 46-1 67-5 62-9 56-13 47-16 36-18 108-61 41-34 41-45 52-66 41-64 21-38 25-55 119-278 92-236 73-175 82-219 46-145 103-378 57-186 20-60 16-38 15-26 11-8 5-1 10 5 5 5 11 19 10 28 20 81 21 114 36 259 62 537 31 239 46 299 62 359 46 228 36 148 16 51 20 57 16 34 20 37 21 28 20 23 21 17 21 13 25 12 31 11 31 7 41 6 67 7 119 8 221 12 216 2 371 2" stroke="#60B0E0"/>
<path d="M6884 3863l15 8 16 12 57 58 20 18 26 17 26 12 30 8 37 3 30 0 114-5 41 1 31 5 26 6 25 11 57 38 26 13 31 8 30 2 31-3 31-6 31-11 41-19 41-21 36-23 37-26 56-45 31-20 52-24 30-9 31-7 42-3 36 4 30 12 83 44 36 14 31 7 31 5 31 2 25-1 62-8 149-27 103-12 88-5 103 4 46-1 67-5 62-9 56-14 47-16 36-19 108-61 41-34 41-45 52-67 41-64 21-38 25-55 119-279 92-236 73-175 82-220 46-145 103-378 57-187 20-61 16-38 15-25 11-9 5-1 10 5 5 6 11 19 10 27 20 82 21 114 36 260 62 537 31 240 46 300 62 359 46 229 36 148 16 52 20 57 16 34 20 36 21 29 20 22 21 18 21 13 25 12 31 11 31 7 41 6 67 7 119 8 221 12 216 2 371 2" stroke="#90B0D0"/>
<path d="M6884 3863l15 8 16 12 57 58 20 19 26 17 26 11 30 8 37 4 36 0 108-6 41 2 31 4 26 7 25 10 57 38 26 13 31 8 30 2 31-3 31-6 31-11 41-19 41-21 36-23 37-26 56-45 31-20 52-23 56-16 41-4 21 1 21 4 30 12 83 44 36 14 31 8 31 4 31 3 25-1 67-9 144-26 108-13 83-5 103 4 41-1 67-5 62-9 61-15 47-16 31-16 108-61 36-28 41-43 57-72 41-62 26-47 20-44 124-291 92-236 73-177 82-220 46-145 103-379 57-187 20-61 16-38 15-26 11-8 5-1 10 5 5 6 11 18 10 28 20 82 21 114 36 260 62 539 31 240 46 301 62 360 46 229 36 148 16 52 20 57 16 35 20 36 21 29 20 22 21 18 21 13 25 12 31 11 31 7 41 6 67 7 119 8 221 12 216 2 371 2" stroke="#607090"/>
<path d="M6884 3863l15 8 16 12 57 58 20 19 26 17 26 12 30 8 42 4 139-6 41 2 31 4 26 6 25 10 57 38 26 13 31 8 30 2 31-3 31-6 31-11 41-19 41-21 36-23 37-26 56-45 31-20 26-13 26-10 56-16 41-3 21 1 21 3 30 12 83 45 36 14 31 8 31 5 31 2 25 0 67-9 144-26 108-13 83-5 103 3 41-1 67-6 62-9 61-15 47-17 31-15 108-62 36-28 41-43 57-72 41-63 26-47 20-43 124-292 92-237 73-177 82-220 46-145 103-381 57-187 20-61 16-38 15-26 11-8 5-1 10 5 5 5 11 19 10 28 20 82 21 115 36 260 62 540 31 240 46 302 62 361 46 229 36 149 16 52 20 57 16 34 20 37 21 28 20 23 21 18 21 13 25 12 31 11 31 7 41 6 67 7 119 8 221 12 216 2 371 2" stroke="#000000"/>
<path d="M6884 3863l15 8 16 13 57 58 20 18 26 18 26 11 30 8 42 5 139-6 41 1 31 4 26 6 25 10 57 38 26 13 31 9 30 1 31-3 31-6 31-11 41-19 41-21 36-23 93-71 31-20 26-13 26-10 56-15 41-4 21 1 21 4 30 12 83 45 36 14 31 8 31 5 31 3 25-1 67-8 144-27 108-12 83-6 103 3 41-1 67-6 62-10 61-15 47-17 31-15 108-63 36-28 41-43 57-72 41-63 26-47 20-44 124-293 92-237 73-177 82-221 46-145 103-381 57-188 20-61 16-38 15-26 11-8 5-1 10 4 5 6 11 19 10 28 20 82 21 115 36 261 62 541 31 241 46 302 62 361 46 231 36 148 16 52 20 57 16 35 20 36 21 29 20 23 21 17 21 14 25 12 31 11 31 7 41 6 67 7 119 8 221 12 216 2 371 2" stroke="#FF0000"/>
<path d="M6884 3863l15 8 16 13 57 58 20 19 26 17 31 14 31 7 36 3 139-5 41 1 31 3 26 6 25 11 57 37 26 13 31 9 30 1 31-3 31-6 31-11 41-19 41-21 36-23 93-71 31-20 26-13 26-10 56-15 41-3 21 1 21 4 30 12 83 45 36 15 31 8 36 6 31 2 25-1 78-11 128-24 108-13 83-5 103 2 41-1 67-7 62-9 61-15 47-18 31-16 108-63 36-28 41-43 57-72 41-63 26-48 20-44 124-293 92-238 73-177 82-221 46-146 103-382 57-187 20-62 16-38 15-26 11-8 5-1 10 4 5 6 11 19 10 28 20 82 21 115 36 262 62 542 31 241 46 303 62 362 46 231 36 149 16 52 20 57 16 35 20 36 21 29 20 23 21 17 21 14 25 12 31 11 31 7 41 6 67 7 119 8 221 12 216 2 371 2" stroke="#0000FF"/>
<path d="M6884 3863l15 8 16 13 57 58 20 19 26 18 31 13 31 7 36 4 144-6 41 2 31 4 26 6 20 9 21 12 36 25 26 13 31 9 30 1 31-3 31-6 31-11 41-19 41-21 36-23 93-71 31-20 26-13 26-10 56-15 41-3 21 1 21 4 30 13 83 45 36 15 31 8 36 6 31 2 25-1 78-11 128-23 108-13 83-6 103 2 41-1 67-7 62-10 61-15 47-18 31-16 108-63 36-29 41-43 57-73 41-63 20-37 26-54 124-294 92-238 73-178 82-222 46-146 103-382 57-188 20-61 16-39 15-26 11-8 5-1 10 5 5 5 11 19 10 28 20 83 21 115 36 262 62 543 31 242 46 303 62 363 46 231 36 149 16 52 20 58 16 34 20 37 21 29 20 22 21 18 21 13 25 13 31 11 31 7 41 6 67 7 119 8 221 12 216 2 371 2" stroke="#FF00FF"/>
<path d="M6884 3863l15 9 16 12 57 59 20 18 26 18 31 14 31 7 36 3 144-5 41 1 31 4 26 7 20 8 21 12 36 25 26 13 31 9 30 1 31-2 31-7 31-11 41-19 41-21 36-23 93-71 31-20 26-13 26-9 56-15 41-3 21 1 21 4 30 12 83 46 36 15 31 8 36 6 31 3 25-1 78-11 128-24 108-13 83-6 103 2 41-2 67-7 62-10 61-15 47-18 31-16 108-64 36-28 41-44 57-73 41-63 20-37 26-55 124-294 92-239 73-178 82-222 46-146 103-383 57-189 20-61 16-39 15-26 11-8 5-1 10 5 5 6 11 19 10 27 20 83 21 116 36 262 62 544 31 242 46 304 62 363 46 232 36 149 16 53 20 57 16 35 20 37 21 28 20 23 21 18 21 13 25 13 31 10 31 8 41 6 67 7 119 8 221 12 216 2 371 2" stroke="#008000"/>
<path d="M6884 3863l15 9 16 12 57 59 20 19 26 17 31 14 31 7 36 4 144-6 41 2 31 4 26 6 20 8 21 12 36 25 26 13 31 9 30 1 31-2 31-7 31-11 41-18 41-22 36-23 93-71 31-20 46-20 57-16 46-4 21 1 21 4 30 13 83 46 36 15 31 8 36 7 31 2 25-1 78-10 128-24 103-13 88-6 103 1 41-2 67-7 62-11 61-15 47-18 31-16 108-64 36-29 41-44 57-73 41-63 20-38 26-54 124-295 92-239 73-178 82-223 46-146 103-384 57-189 20-62 16-38 15-26 11-9 5-1 10 5 5 6 11 19 10 28 20 83 21 115 36 263 62 545 31 243 46 304 62 364 46 232 36 150 16 52 20 58 16 35 20 36 21 29 20 23 21 18 21 13 25 13 31 10 31 8 41 6 67 7 119 8 221 12 216 2 371 2" stroke="#000080"/>
<path d="M6884 3863l15 9 16 12 57 59 20 19 26 18 31 14 31 7 36 4 144-6 41 1 31 4 26 6 20 8 21 12 36 25 26 13 31 9 30 1 31-2 31-7 31-11 41-18 36-19 36-22 36-26 62-49 31-20 46-20 57-16 46-4 21 2 21 4 30 13 83 46 36 15 31 9 36 6 31 2 25 0 78-11 133-24 103-13 83-6 103 0 41-1 62-7 62-10 61-16 47-17 36-19 108-64 36-29 41-44 57-73 41-63 20-38 26-55 124-295 92-240 73-178 82-223 46-147 103-384 57-189 20-62 16-39 15-26 11-8 5-1 10 5 5 5 11 19 10 28 20 83 21 116 36 264 62 545 31 243 46 305 62 365 46 232 36 150 16 53 20 57 16 35 20 37 21 29 20 23 21 18 21 13 25 13 31 10 31 8 41 6 67 7 119 8 221 12 216 2 371 2" stroke="#8000FF"/>
<path d="M6884 3863l15 9 16 12 57 59 20 20 26 17 31 14 31 7 36 4 31 0 113-5 41 1 31 3 26 6 20 8 21 12 36 25 26 13 31 9 30 1 31-2 31-7 31-11 41-18 36-19 36-22 36-26 62-49 31-20 46-20 57-16 41-3 41 4 31 12 78 44 46 20 31 9 36 6 31 3 31-1 82-12 123-23 103-12 83-7 103 0 41-2 62-6 62-11 61-16 47-17 36-19 108-65 36-29 41-44 57-73 41-64 20-37 26-55 124-296 92-240 73-179 82-223 46-147 103-385 57-190 20-61 16-39 15-26 11-9 5-1 10 5 5 6 11 19 10 28 20 83 21 116 36 264 62 547 31 243 46 305 62 366 46 232 36 151 16 52 20 58 16 35 20 37 21 29 20 23 21 18 21 13 25 12 31 11 31 8 41 6 67 7 119 8 221 12 216 2 371 2" stroke="#A040C0"/>
<path d="M6884 3863l15 9 16 12 57 60 20 19 26 18 31 13 31 8 41 4 139-6 41 1 31 4 26 6 20 8 21 11 41 28 21 10 31 9 30 2 31-3 31-7 31-11 41-18 36-19 36-22 36-26 62-49 31-20 46-20 57-15 41-4 41 5 31 11 78 45 46 20 31 9 36 7 31 2 31-1 82-11 123-23 103-13 83-7 139-1 62-7 67-12 61-15 47-18 36-19 108-65 36-29 41-45 57-73 41-64 20-38 26-54 124-297 92-240 73-179 82-224 46-147 103-386 57-190 20-62 16-38 15-27 11-8 5-1 10 5 5 6 11 19 10 28 20 83 21 116 36 264 62 548 31 244 46 306 62 366 46 233 36 150 16 53 20 58 16 35 20 37 21 29 20 23 21 17 21 14 25 12 31 11 31 7 41 7 67 7 119 8 221 12 216 2 371 2" stroke="#800000"/>
<path d="M6884 3863l15 9 16 12 57 60 20 19 26 18 31 14 31 7 36 4 31 0 118-5 41 1 31 4 26 7 20 8 52 34 26 13 31 9 30 2 31-3 31-7 31-11 41-18 36-19 36-22 36-26 62-49 31-19 46-21 57-15 41-3 41 4 31 12 78 45 46 21 31 8 36 7 31 2 31-1 82-11 123-23 103-13 83-7 98 0 41-2 62-7 67-11 61-16 47-18 36-19 108-66 36-29 41-44 57-74 41-64 20-38 26-55 124-297 92-241 73-179 82-224 46-147 103-387 57-190 20-62 16-39 15-26 11-8 5-1 10 4 5 6 11 19 10 29 20 83 21 116 36 265 62 549 31 244 46 306 62 366 46 234 36 151 16 52 20 58 16 35 20 37 21 29 20 23 21 18 21 14 25 12 31 11 31 7 41 7 67 6 119 9 221 12 216 2 371 2" stroke="#808000"/>
<path d="M6884 3863l15 9 16 12 57 60 20 19 26 18 31 14 31 8 41 4 144-6 41 1 31 4 26 7 20 8 52 34 26 13 31 9 30 2 31-3 31-7 31-11 41-18 36-19 36-22 36-26 62-49 31-19 46-21 57-15 41-3 41 5 31 11 78 45 46 22 31 8 36 7 31 3 31-1 82-12 123-22 103-13 83-7 98-1 41-2 62-7 67-12 61-16 47-18 31-16 113-69 36-30 41-44 57-74 41-64 20-38 26-55 124-298 92-241 73-179 82-225 46-148 103-386 57-191 20-62 16-39 15-26 11-9 5-1 10 5 5 6 11 19 10 29 20 83 21 117 36 265 62 549 31 245 46 306 62 367 46 234 36 151 16 53 20 58 16 35 20 37 21 29 20 23 21 18 21 14 25 12 31 11 31 7 41 7 67 6 119 9 221 12 216 2 371 2" stroke="#4070B0"/>
<path d="M6884 3863l15 9 16 12 57 60 20 20 26 18 31 14 31 7 41 4 144-5 41 1 31 4 26 6 20 9 52 33 26 13 31 9 30 2 31-3 31-7 31-11 41-18 41-22 36-22 93-72 26-16 46-22 57-15 46-5 41 5 31 12 78 45 46 22 31 8 36 7 31 3 31-1 82-11 123-23 98-12 88-8 98-1 41-2 62-8 67-12 61-16 47-18 31-17 113-69 36-29 41-45 57-74 41-64 20-38 26-55 124-298 92-242 73-180 82-225 46-148 103-387 57-191 20-62 16-39 15-26 11-9 5-1 10 5 5 6 11 19 10 29 20 83 21 117 36 265 62 551 31 244 46 308 62 367 46 234 36 152 16 52 20 59 16 35 20 37 21 29 20 23 21 18 21 14 25 12 31 11 31 7 41 7 67 6 119 9 221 12 216 2 371 2" stroke="#008080"/>
<path d="M6884 3863l15 9 16 13 57 60 20 19 26 18 31 14 31 8 41 4 144-6 41 1 31 4 26 6 20 9 52 33 26 13 31 9 30 2 31-3 31-7 31-11 41-18 41-22 36-22 93-72 26-16 46-22 57-15 46-4 41 5 31 12 83 48 46 20 31 9 36 6 26 2 31-1 82-11 123-22 98-13 88-8 98-2 41-2 62-7 67-13 61-16 47-18 31-17 113-70 36-29 41-45 57-74 41-64 20-38 26-55 124-299 92-242 73-180 82-225 46-148 103-388 57-191 20-63 16-39 15-26 11-9 5-1 10 5 5 6 11 19 10 29 20 83 21 117 36 266 62 551 31 245 46 308 62 368 46 235 36 151 16 53 20 58 16 35 20 38 21 29 20 23 21 18 21 13 25 13 31 11 31 7 41 7 67 6 119 9 221 12 216 2 371 2" stroke="#B07040"/>
<path d="M6884 3863l15 9 16 13 57 60 20 19 26 18 31 15 31 7 41 4 144-5 41 1 31 3 26 6 20 9 52 33 26 13 31 9 30 2 31-3 31-7 31-11 41-18 41-22 36-22 93-72 26-16 46-21 57-16 46-4 41 5 31 12 83 49 46 20 31 9 36 6 26 2 31 0 82-11 123-23 103-13 83-8 98-2 41-2 62-8 61-11 67-18 47-18 31-17 108-67 41-33 41-44 57-75 41-64 20-39 26-55 119-286 41-104 62-164 67-167 82-226 46-148 103-389 57-191 20-62 16-39 15-27 11-8 5-1 10 5 5 6 11 19 10 28 20 84 21 117 36 266 62 552 31 245 46 309 62 368 46 235 36 152 16 53 20 58 16 35 20 37 21 30 20 23 21 18 21 13 25 13 31 11 31 7 41 7 67 6 119 9 221 12 216 2 371 2" stroke="#20B020"/>
<path d="M6884 3863l15 9 16 13 57 60 20 20 26 18 31 14 31 8 41 4 149-6 36 1 31 3 26 6 20 9 52 33 26 13 31 9 30 2 31-3 31-7 31-11 41-18 41-22 36-22 93-72 26-16 46-21 57-16 46-4 41 6 31 12 83 49 46 20 31 9 36 6 31 3 31-2 82-11 118-22 103-13 83-8 98-2 41-3 62-8 61-11 67-18 47-18 31-17 108-67 41-33 41-45 57-75 41-64 20-39 26-55 119-287 41-104 62-164 67-168 82-226 46-148 103-389 57-192 20-62 16-39 15-27 11-8 5-1 10 5 5 6 11 19 10 28 20 84 21 118 36 266 62 553 31 245 46 309 62 369 46 235 36 152 16 53 20 59 16 35 20 37 21 30 20 23 21 18 21 13 25 13 31 11 31 7 41 6 67 7 119 9 221 12 216 2 371 2" stroke="#FF60A0"/>
<path d="M6884 3863l15 9 16 13 57 60 20 20 26 18 31 14 31 8 41 4 149-5 36 0 31 4 26 6 20 8 52 33 26 14 31 8 30 2 31-3 31-7 31-11 41-18 41-22 36-22 93-71 26-17 46-21 57-15 46-4 41 5 31 12 83 49 46 21 31 9 36 6 31 3 31-1 82-12 118-22 103-13 83-8 98-2 41-3 62-8 61-12 67-18 47-18 31-17 108-67 41-34 41-45 57-75 41-64 20-39 26-55 119-287 41-104 62-165 67-168 82-226 46-149 103-389 57-192 20-63 16-39 15-26 11-9 5-1 10 5 5 6 11 19 10 29 20 84 21 117 36 267 62 553 31 247 46 309 62 369 46 236 36 152 16 53 20 58 16 36 20 37 21 29 20 24 21 18 21 13 25 13 31 11 31 7 41 6 67 7 119 9 221 12 216 2 371 2" stroke="#00C0C0"/>
<path d="M6884 3863l15 9 16 13 57 61 20 19 26 18 31 15 31 8 41 4 149-6 41 1 31 4 21 5 20 8 52 33 26 14 31 8 30 2 31-3 31-7 31-11 41-18 41-22 36-22 93-71 26-17 46-21 57-15 46-4 41 5 31 13 83 49 46 21 31 9 36 6 31 3 31-1 82-11 118-22 98-13 88-9 98-3 41-2 62-9 61-12 67-18 47-18 31-17 108-68 41-33 41-46 57-74 41-65 20-39 26-55 119-288 41-104 62-165 67-168 82-227 46-148 103-390 57-192 20-63 16-39 15-27 11-8 5-1 10 5 5 6 11 19 10 28 20 84 21 118 36 267 62 554 31 247 46 309 62 370 46 236 36 152 16 54 20 58 16 35 20 38 21 29 20 23 21 19 21 13 25 13 31 11 31 7 41 6 67 7 119 9 221 12 216 2 371 2" stroke="#8060E0"/>
<path d="M6884 3863l15 9 16 13 62 66 20 19 26 17 26 11 31 8 41 4 154-5 36 1 31 3 21 5 20 8 57 36 21 11 31 8 30 2 31-3 31-7 31-11 41-18 41-22 36-22 88-68 31-20 46-21 57-15 46-4 41 6 31 12 83 50 46 21 31 9 36 6 31 3 31-1 82-11 118-22 98-13 88-9 98-3 41-3 62-8 61-12 67-19 47-18 31-18 108-67 41-34 41-45 57-75 41-65 20-39 26-55 119-288 41-105 62-165 67-168 82-227 46-149 103-390 57-193 20-62 16-40 15-26 11-9 5-1 10 5 5 6 11 19 10 29 20 84 21 118 36 267 62 555 31 247 46 310 62 370 46 236 36 153 16 53 20 59 16 35 20 38 21 29 20 23 21 18 21 14 25 13 31 11 31 7 41 6 67 7 119 9 221 12 216 2 371 2" stroke="#A0A040"/>
<path d="M6884 3863l15 9 16 13 62 66 20 19 26 17 26 11 31 8 41 5 154-6 36 1 31 3 21 5 20 8 57 36 21 11 31 8 30 2 31-3 31-7 31-11 41-18 41-22 36-22 88-68 31-20 46-21 57-15 46-3 41 5 31 13 83 50 46 21 31 8 36 7 31 3 31-1 82-11 118-22 98-13 88-9 98-3 41-3 62-9 61-12 67-19 47-18 31-18 108-68 41-33 41-46 57-75 41-65 20-39 26-55 119-289 41-104 62-166 67-168 82-227 46-149 103-391 57-193 20-63 16-39 15-27 11-8 5-1 10 5 5 6 11 19 10 28 20 85 21 118 36 268 62 555 31 247 46 310 62 371 46 237 36 152 16 54 20 59 16 35 20 37 21 30 20 23 21 18 21 14 25 13 31 11 31 7 41 6 67 7 119 9 221 12 216 2 371 2" stroke="#808080"/>
<path d="M6884 3863l15 9 16 13 62 67 20 18 26 17 26 12 31 8 41 4 154-6 36 1 31 4 21 4 20 8 57 37 21 10 31 8 30 2 31-3 31-6 31-11 41-19 41-22 36-22 88-68 31-20 46-21 57-15 46-3 41 6 31 12 83 50 46 21 31 9 36 7 31 3 31-1 67-8 128-24 98-13 88-10 103-4 41-3 62-9 61-12 67-19 47-18 31-18 108-68 41-34 41-46 57-75 41-65 20-39 26-55 119-289 41-105 62-166 67-168 82-227 46-150 103-391 57-193 20-63 16-39 15-27 11-9 5-1 10 5 5 6 11 20 10 28 20 85 21 118 36 268 62 556 31 248 46 310 62 372 46 236 36 153 16 53 20 59 16 36 20 37 21 30 20 23 21 18 21 14 25 13 31 10 31 8 41 6 67 7 119 9 221 12 216 2 371 2" stroke="#C08080"/>
<path d="M6884 3863l15 9 16 13 62 67 20 18 26 18 26 11 31 8 41 5 154-6 36 1 31 3 21 5 20 7 57 37 21 10 31 8 30 2 31-3 31-6 31-11 41-19 41-22 36-22 88-67 31-21 46-21 52-13 46-5 26 2 20 4 31 13 83 50 46 21 36 10 36 7 31 2 31-1 72-10 113-21 77-11 109-13 108-4 41-3 62-9 61-13 67-19 47-18 31-18 108-69 41-34 41-45 57-76 41-65 20-39 26-55 119-290 41-104 62-166 67-169 82-228 46-149 103-392 57-193 20-63 16-39 15-27 11-9 5-1 10 5 5 6 11 19 10 29 20 85 21 118 36 268 62 557 31 248 46 311 62 372 46 237 36 153 16 53 20 59 16 35 20 38 21 30 20 23 21 18 21 14 25 12 31 11 31 8 41 6 67 7 119 9 221 11 216 3 371 2" stroke="#70A070"/>
<path d="M6884 3863l15 9 16 13 62 67 20 19 26 17 26 11 31 8 41 5 154-6 36 1 31 3 21 5 20 8 57 36 21 10 31 8 30 2 31-3 31-6 31-11 41-19 41-22 36-22 88-67 31-21 46-21 52-13 46-4 26 1 20 4 31 13 83 51 46 21 36 10 36 7 31 2 31-1 82-12 113-21 98-13 88-10 134-6 56-8 67-13 67-19 47-18 36-20 108-69 41-34 41-46 57-75 41-66 20-38 26-56 119-290 41-105 62-166 67-169 82-228 46-149 103-393 57-193 20-63 16-39 15-27 11-9 5-1 10 5 5 6 11 19 10 29 20 85 21 118 36 269 62 557 31 248 46 312 62 372 46 237 36 153 16 54 20 59 16 35 20 38 21 29 20 24 21 18 21 14 25 12 31 11 31 8 41 6 67 7 119 9 221 11 216 3 371 2" stroke="#60B0E0"/>
<path d="M6884 3863l15 9 16 13 62 67 20 19 26 17 26 12 31 8 41 4 154-5 36 0 31 3 21 5 20 8 57 36 21 10 31 8 30 2 31-3 31-6 31-11 41-19 36-19 36-22 36-25 62-49 26-17 46-20 52-14 46-4 26 2 20 4 31 13 83 50 46 22 36 10 36 7 31 2 31-1 72-10 113-21 83-12 108-13 139-7 56-8 67-13 67-19 47-18 36-20 108-70 41-34 41-45 57-76 41-65 20-39 26-56 119-290 41-105 62-167 67-169 82-228 46-150 103-393 57-193 20-63 16-39 15-27 11-9 5-1 10 5 5 6 11 19 10 29 20 85 21 118 36 269 62 558 31 249 46 311 62 373 46 238 36 153 16 53 20 60 16 35 20 38 21 29 20 24 21 18 21 14 25 12 31 11 31 8 41 6 67 7 119 9 221 11 216 3 371 2" stroke="#90B0D0"/>
<path d="M6884 3863l15 9 16 13 62 67 20 19 26 17 26 12 31 8 41 5 154-6 36 0 31 3 21 5 20 8 57 36 26 12 26 6 30 2 31-3 31-6 31-11 41-19 36-19 36-22 36-25 62-49 26-17 46-20 52-14 46-4 26 2 20 4 31 13 83 51 46 22 36 10 36 7 31 2 31-1 72-10 113-21 77-11 114-14 139-7 56-8 67-14 67-19 47-18 36-20 108-70 41-34 41-46 57-76 41-65 20-39 26-56 119-291 41-105 62-166 67-169 82-229 46-150 103-393 57-194 20-63 16-39 15-27 11-9 5-1 10 5 5 6 11 19 10 29 20 85 21 119 36 269 62 559 31 248 46 312 62 373 46 238 36 153 16 54 20 59 16 36 20 38 21 29 20 24 21 18 21 14 25 12 31 11 31 8 41 6 67 7 119 9 221 11 216 3 371 2" stroke="#607090"/>
<path d="M6884 3863l15 10 16 12 62 67 20 19 26 18 31 13 36 8 36 3 149-6 36 1 31 3 21 4 20 8 57 36 26 12 26 6 30 2 31-3 31-6 31-11 41-19 36-19 36-22 36-25 62-49 26-17 46-20 52-14 46-4 26 2 20 5 31 12 83 51 46 22 36 11 36 6 31 3 31-1 72-10 113-21 72-10 114-14 144-9 56-8 67-14 67-19 47-18 36-21 108-69 41-35 41-46 57-75 41-66 20-39 26-56 119-291 41-105 62-167 67-169 82-229 46-150 103-394 57-194 20-63 16-39 15-27 11-9 5-1 10 5 5 6 11 20 10 28 20 85 21 119 36 270 62 559 31 249 46 312 62 374 46 238 36 153 16 54 20 59 16 36 20 37 21 30 20 24 21 18 21 13 25 13 31 11 31 8 41 6 67 7 119 9 221 11 216 3 371 2" stroke="#000000"/>
<path d="M6884 3863l15 10 16 12 62 68 20 19 26 17 31 13 36 9 36 3 149-6 36 0 31 3 21 4 20 8 57 36 26 12 26 6 30 2 31-3 31-6 31-11 41-19 36-19 36-22 36-25 62-49 26-17 46-20 52-14 46-3 26 2 20 4 31 13 83 51 46 22 36 10 36 7 31 3 31-1 77-11 103-19 72-11 119-15 144-8 56-9 67-14 67-19 47-18 36-21 108-70 41-34 41-46 57-76 41-66 20-39 26-56 119-291 41-105 62-167 67-170 82-229 46-150 103-394 57-194 20-63 16-40 15-27 11-9 5-1 10 5 5 7 11 19 10 29 20 85 21 119 36 269 62 560 31 249 46 313 62 374 46 238 36 154 16 54 20 59 16 35 20 38 21 30 20 23 21 19 21 13 25 13 31 11 31 8 41 6 67 7 119 8 221 12 216 3 371 2" stroke="#FF0000"/>
<path d="M6884 3863l15 10 16 13 62 67 20 19 26 17 31 14 36 8 36 3 149-6 36 0 31 3 21 4 20 8 57 36 26 12 26 6 30 2 31-3 31-6 31-11 41-19 36-19 36-22 36-25 62-49 26-17 46-20 52-13 46-4 26 2 20 4 31 13 83 52 46 22 36 10 36 7 31 3 31-2 82-11 124-22 129-18 51-5 93-4 46-5 57-9 56-12 67-19 47-19 30-17 114-74 41-34 41-47 57-76 41-66 20-39 26-56 119-291 41-106 62-167 67-169 82-230 46-150 103-395 57-194 20-63 16-40 15-27 11-8 5-1 10 5 5 6 11 19 10 29 20 85 21 119 36 270 62 561 31 249 46 313 62 374 46 239 36 153 16 54 20 60 16 35 20 38 21 30 20 23 21 19 21 13 25 13 31 11 31 8 41 6 67 7 119 8 221 12 216 3 371 2" stroke="#0000FF"/>
<path d="M6884 3863l15 10 16 13 62 67 20 19 26 17 31 14 36 8 36 3 154-6 36 1 31 3 21 5 21 9 46 30 26 13 31 8 30 2 31-3 31-6 31-11 41-19 36-19 36-22 36-25 62-49 26-17 46-20 52-13 46-4 26 2 20 5 31 13 83 51 46 22 36 11 36 7 31 2 31-1 82-11 124-22 129-18 51-5 93-5 46-5 57-9 56-12 67-19 47-19 30-18 114-73 41-35 41-46 57-76 41-66 20-39 26-57 119-291 41-106 62-167 67-170 82-229 46-151 103-395 57-194 20-64 16-39 15-27 11-9 5-1 10 5 5 6 11 20 10 28 20 86 21 119 36 270 62 561 31 250 46 313 62 374 46 239 36 154 16 54 20 59 16 36 20 38 21 30 20 23 21 19 21 13 25 13 31 11 31 8 41 6 67 7 119 8 221 12 216 3 371 2" stroke="#FF00FF"/>
<path d="M6884 3863l15 10 16 13 62 67 20 19 26 18 31 13 36 8 36 4 154-6 36 0 31 3 21 5 21 9 51 33 21 10 31 8 30 2 31-3 31-6 31-11 41-19 36-18 36-23 36-25 62-49 26-17 46-20 52-13 46-4 26 3 20 4 31 13 83 52 46 22 36 11 36 7 31 2 36-1 77-11 124-23 134-18 46-5 93-4 46-5 57-10 56-12 67-19 47-19 30-18 114-74 41-34 41-47 57-76 41-66 20-39 26-56 119-293 41-105 62-167 67-171 82-229 46-151 103-395 57-195 20-63 16-40 15-27 11-8 5-1 10 5 5 6 11 19 10 29 20 85 21 119 36 271 62 561 31 250 46 314 62 375 46 239 36 154 16 54 20 59 16 36 20 38 21 30 20 23 21 18 21 14 25 13 31 11 31 8 41 6 67 7 119 8 221 12 216 3 371 2" stroke="#008000"/>
<path d="M6884 3863l15 10 16 13 62 67 20 19 26 18 31 13 36 9 36 3 154-6 36 0 31 3 21 5 21 9 51 33 21 10 31 9 30 1 31-3 31-6 31-11 41-19 36-18 36-22 36-26 62-49 26-17 41-18 52-14 25-4 26 0 26 2 20 4 31 13 83 52 46 23 36 10 36 7 31 3 36-1 77-11 124-23 134-18 46-5 93-5 46-5 57-9 56-13 67-19 47-19 30-18 114-74 41-35 41-46 57-77 41-66 20-39 26-56 119-293 41-105 62-168 67-170 82-230 46-151 103-395 57-195 20-64 16-39 15-27 11-9 5-1 10 5 5 6 11 20 10 29 20 85 21 119 36 271 62 562 31 250 46 314 62 375 46 239 36 154 16 55 20 59 16 36 20 38 21 29 20 24 21 18 21 14 25 13 31 11 31 8 41 6 67 7 119 8 221 12 216 3 371 2" stroke="#000080"/>
<path d="M6884 3863l15 10 16 13 62 67 20 20 26 17 31 14 36 8 36 3 160-6 36 1 25 3 21 4 21 9 51 33 26 12 26 7 30 1 31-3 31-6 31-11 41-19 36-18 36-22 36-26 62-49 26-17 41-18 52-14 25-4 26 0 26 2 20 4 31 14 83 52 46 22 36 11 36 7 31 3 36-2 77-10 124-23 134-19 46-4 93-5 46-5 57-10 56-13 67-19 47-19 30-18 114-74 41-35 41-47 57-76 41-66 20-39 26-57 119-293 41-105 62-168 67-170 82-230 46-151 103-396 57-195 20-64 16-40 15-27 11-8 5-1 10 5 5 6 11 19 10 29 20 86 21 119 36 271 62 563 31 250 46 314 62 375 46 240 36 154 16 54 20 60 16 36 20 38 21 29 20 24 21 18 21 14 25 13 31 11 31 7 41 7 67 7 119 8 221 12 216 3 371 2" stroke="#8000FF"/>
<path d="M6884 3863l15 10 16 13 62 68 20 19 26 17 31 14 36 8 36 4 160-7 36 1 25 3 21 4 21 9 51 33 26 12 26 7 30 1 31-3 31-6 31-11 41-19 36-18 36-22 36-26 57-45 31-21 41-18 52-14 25-3 26-1 26 2 20 5 31 13 83 52 46 23 36 11 36 7 31 2 36-1 77-10 124-23 134-19 51-5 93-5 41-5 108-21 67-19 52-21 30-18 114-75 41-34 41-47 57-77 41-66 20-39 26-57 119-293 41-105 62-168 67-171 82-230 46-151 103-396 57-195 20-64 16-40 15-27 11-9 5-1 10 5 5 7 11 19 10 29 20 85 21 120 36 271 62 563 31 251 46 314 62 376 46 239 36 155 16 54 20 60 16 35 20 38 21 30 20 24 21 18 21 14 25 13 31 11 31 7 41 7 67 7 119 8 221 12 216 3 371 2" stroke="#A040C0"/>
<path d="M6884 3863l15 10 16 13 62 68 20 19 26 18 31 13 36 9 36 3 160-6 36 0 25 3 21 5 21 8 51 33 26 12 26 7 30 1 31-3 31-6 31-11 41-19 36-18 36-22 36-26 57-45 31-20 41-19 52-14 25-3 26-1 26 3 20 4 31 13 83 53 46 22 36 11 36 7 31 3 36-1 77-11 124-22 134-19 46-5 93-6 41-4 51-9 62-13 72-21 47-19 30-18 114-75 41-35 41-46 57-77 41-66 20-40 26-56 119-294 41-105 62-168 67-171 82-230 46-152 103-396 57-196 20-63 16-40 15-27 11-9 5-1 10 5 5 6 11 20 10 29 20 85 21 120 36 271 62 564 31 250 46 315 62 376 46 240 36 155 16 54 20 59 16 36 20 38 21 30 20 24 21 18 21 14 25 13 31 11 31 7 41 7 67 7 119 8 221 12 216 3 371 2" stroke="#800000"/>
<path d="M6884 3863l15 10 16 13 62 68 20 19 26 18 31 13 36 9 36 3 160-6 36 0 25 3 21 5 21 8 51 33 26 12 26 7 30 1 31-3 31-6 31-11 41-19 36-18 36-22 36-26 57-45 31-20 41-19 52-13 25-4 26-1 26 3 20 4 31 14 83 52 46 23 36 11 36 7 31 3 36-1 77-11 124-23 134-19 46-5 93-5 41-5 51-8 62-14 72-21 47-19 30-18 109-72 36-28 30-32 37-45 41-57 31-48 25-47 26-55 26-62 129-322 66-182 73-184 72-201 30-94 26-87 103-397 57-196 20-63 16-40 15-27 11-9 5-1 10 5 5 6 11 20 10 29 20 85 21 120 36 272 62 563 31 251 46 315 62 377 46 240 36 154 16 55 20 59 16 36 20 38 21 30 20 24 21 18 21 14 25 13 31 11 31 7 41 7 67 7 119 8 221 12 216 3 371 2" stroke="#808000"/>
<path d="M6884 3863l15 10 16 13 62 68 20 19 26 18 31 14 36 8 36 3 160-6 36 1 25 2 21 5 21 8 51 33 26 12 26 7 30 1 31-3 31-6 31-11 41-19 36-18 36-22 36-26 57-45 31-20 41-19 52-13 25-4 26 0 26 2 20 5 31 13 83 53 46 22 36 11 36 8 31 2 36-1 77-10 124-23 139-20 175-14 51-9 62-14 72-21 47-19 30-18 109-72 36-29 30-32 42-51 41-58 26-41 25-47 26-55 26-62 129-322 66-182 73-185 72-200 30-94 26-88 103-397 57-196 20-63 16-40 15-28 11-8 5-1 10 5 5 6 11 19 10 29 20 86 21 120 36 272 62 564 31 251 46 315 62 377 46 240 36 155 16 54 20 60 16 36 20 38 21 30 20 24 21 18 21 14 25 13 31 11 31 7 41 7 67 7 119 8 221 12 216 3 371 2" stroke="#4070B0"/>
<path d="M6884 3863l15 10 16 13 62 68 20 19 26 18 31 14 36 8 36 4 160-7 36 1 25 2 21 5 21 8 51 33 26 12 26 7 30 1 31-3 31-6 31-11 41-19 36-18 36-22 36-26 57-45 31-20 41-19 52-13 25-4 26 0 26 2 20 5 31 13 83 53 46 23 36 11 36 7 31 3 36-1 67-9 123-22 150-22 175-15 51-9 62-14 72-21 47-19 30-18 109-72 36-29 30-32 42-51 41-58 26-41 25-47 26-55 26-63 129-322 66-182 73-185 72-201 30-94 26-87 103-398 57-196 20-63 16-40 15-28 11-8 5-1 10 5 5 6 11 19 10 30 20 85 21 120 36 272 62 565 31 251 46 315 62 378 46 240 36 155 16 54 20 60 16 36 20 38 21 30 20 24 21 18 21 14 25 13 31 11 31 7 41 7 67 7 119 8 221 12 216 3 371 2" stroke="#008080"/>
<path d="M6884 3863l15 10 16 13 62 68 20 20 26 17 31 14 36 9 36 3 160-6 36 0 25 2 21 5 21 8 51 33 26 12 26 7 30 1 31-3 31-6 31-11 41-19 36-18 36-22 36-26 57-45 31-20 41-19 52-13 25-4 26 0 26 2 20 5 31 13 93 59 41 19 36 11 36 7 31 2 31-1 67-9 123-23 150-21 175-16 51-9 57-12 72-21 52-21 30-18 109-72 36-29 30-32 42-52 41-58 26-41 25-47 26-55 26-62 129-323 66-182 73-185 72-201 30-94 26-88 103-398 57-196 20-63 16-40 15-28 11-8 5-1 10 5 5 6 11 20 10 29 20 85 21 120 36 273 62 565 31 251 46 316 62 377 46 240 36 156 16 54 20 60 16 36 20 38 21 30 20 23 21 19 21 14 25 13 31 11 31 7 41 7 67 7 119 8 221 12 216 3 371 2" stroke="#B07040"/>
<path d="M6884 3863l15 10 16 13 62 68 20 20 26 17 31 14 36 9 36 3 160-6 36 0 25 2 21 5 21 8 51 33 26 12 26 7 30 1 31-3 31-6 31-11 41-19 36-18 36-22 36-26 57-45 31-20 41-19 52-13 25-3 26-1 26 3 20 4 31 14 93 59 41 19 36 10 36 7 31 2 31-1 67-8 123-23 150-22 175-15 51-9 57-13 72-21 52-21 30-18 109-73 36-29 30-32 42-51 41-58 26-41 25-47 26-56 26-62 129-323 66-182 73-185 72-201 30-94 26-88 103-398 57-196 20-64 16-40 15-27 11-9 5-1 10 5 5 6 11 20 10 29 20 86 21 120 36 272 62 566 31 251 46 316 62 377 46 241 36 155 16 55 20 60 16 36 20 38 21 30 20 23 21 19 21 14 25 13 31 11 31 7 41 7 67 7 119 8 221 12 216 3 371 2" stroke="#20B020"/>
<path d="M6884 3863l15 10 16 13 62 69 20 19 26 18 31 13 36 9 36 3 165-6 56 3 21 4 21 8 51 33 26 12 26 7 30 1 31-2 31-7 31-11 41-19 36-18 36-22 36-26 57-45 31-20 41-19 52-13 25-3 26-1 26 3 20 4 31 14 93 59 41 19 36 11 36 7 31 2 31-1 72-10 118-22 150-21 175-16 51-9 57-13 72-21 52-21 30-19 109-72 36-29 30-32 42-52 41-58 26-41 25-47 26-55 26-62 129-324 66-182 73-185 72-201 30-95 26-88 103-398 57-196 20-64 16-40 15-27 11-9 5-1 10 5 5 6 11 20 10 29 20 86 21 120 36 273 62 565 31 252 46 316 62 378 46 241 36 155 16 55 20 59 16 36 20 39 21 30 20 23 21 19 21 14 25 13 31 11 31 7 41 7 67 7 119 8 221 12 216 3 371 2" stroke="#FF60A0"/>
<path d="M6884 3863l15 10 16 13 62 69 20 19 26 18 31 14 36 8 41 4 155-7 36 0 25 3 21 4 21 8 51 33 26 12 26 7 30 1 31-2 31-7 31-11 41-19 36-18 36-22 36-26 57-45 31-20 41-18 52-14 25-3 26-1 26 3 20 5 31 13 93 60 41 19 36 10 36 7 31 3 31-2 72-9 118-22 150-22 175-16 51-9 57-13 72-21 52-21 30-19 109-72 36-29 30-32 42-52 41-58 26-41 25-47 26-56 26-62 129-324 66-182 73-185 72-202 30-94 26-88 103-399 57-196 20-64 16-40 15-27 11-9 5-1 10 5 5 6 11 20 10 29 20 86 21 120 36 273 62 566 31 252 46 316 62 379 46 240 36 156 16 54 20 60 16 36 20 39 21 30 20 23 21 19 21 14 25 13 31 11 31 7 41 7 67 7 119 8 221 12 216 3 371 2" stroke="#00C0C0"/>
<path d="M6884 3863l15 10 16 13 62 69 20 19 26 18 31 14 36 8 41 4 160-7 56 3 21 4 21 8 51 33 26 12 26 7 30 1 31-2 31-7 31-11 41-19 36-18 36-22 36-26 57-45 31-20 41-18 52-14 25-3 26 0 26 2 20 5 31 13 93 60 41 19 36 11 36 7 31 2 36-2 67-8 118-22 150-22 175-16 51-10 57-13 72-21 52-21 30-19 109-72 36-29 30-33 42-51 41-59 26-41 25-47 26-55 26-63 129-323 66-183 73-185 72-202 30-94 26-88 103-399 57-196 20-64 16-40 15-28 11-8 5-1 10 5 5 6 11 19 10 29 20 86 21 121 36 273 62 566 31 252 46 317 62 378 46 241 36 156 16 54 20 60 16 36 20 38 21 30 20 24 21 19 21 14 25 12 31 12 31 7 41 7 67 7 119 8 221 12 216 3 371 2" stroke="#8060E0"/>
<path d="M6884 3863l15 10 16 13 62 69 20 19 26 18 31 14 36 9 41 3 160-6 56 2 21 4 21 8 51 33 26 12 26 7 30 1 31-2 31-7 31-11 41-19 36-18 36-22 36-26 57-45 31-20 41-18 52-14 25-3 26 0 26 2 20 5 31 14 93 59 41 19 36 11 36 7 31 3 36-2 67-9 118-22 150-22 170-15 51-10 62-14 72-21 52-21 30-19 109-73 36-29 30-32 42-52 41-58 26-41 25-47 26-56 26-62 129-324 66-183 73-185 72-202 30-94 26-88 103-400 57-196 20-64 16-40 15-27 11-9 5-1 10 5 5 6 11 20 10 29 20 86 21 120 36 274 62 566 31 253 46 316 62 379 46 241 36 156 16 54 20 60 16 36 20 38 21 30 20 24 21 19 21 14 25 12 31 12 31 7 41 7 67 7 119 8 221 12 216 3 371 2" stroke="#A0A040"/>
<path d="M6884 3863l15 10 16 13 62 69 20 19 26 18 31 14 36 9 41 3 160-6 56 2 21 4 21 8 51 33 26 12 26 7 30 1 31-2 31-7 31-11 41-19 36-18 36-22 36-26 57-45 31-20 41-18 52-14 25-3 26 0 26 3 20 4 31 14 93 60 41 19 36 11 36 7 31 2 36-1 67-9 118-22 150-22 170-16 51-9 62-15 72-21 52-21 30-19 109-73 36-29 30-32 42-52 41-58 26-42 25-47 26-55 26-63 129-324 66-183 73-185 72-202 30-94 26-89 103-399 57-196 20-65 16-40 15-27 11-9 5-1 10 5 5 7 11 19 10 29 20 86 21 121 36 273 62 567 31 253 46 316 62 379 46 242 36 155 16 55 20 60 16 36 20 38 21 30 20 24 21 19 21 13 25 13 31 12 31 7 41 7 67 7 119 8 221 12 216 3 371 2" stroke="#808080"/>
<path d="M6884 3864l15 9 16 13 62 69 20 20 26 17 31 14 36 9 41 4 160-7 56 2 21 4 21 8 51 33 26 12 26 7 30 1 31-2 31-7 31-11 41-19 36-18 36-22 36-26 57-45 31-20 41-18 52-13 25-4 26 0 26 3 20 4 31 14 93 60 41 19 36 11 36 7 31 3 36-2 67-9 118-22 155-23 165-15 51-9 62-14 72-22 52-22 30-18 109-73 36-29 30-32 42-52 41-59 26-41 25-47 26-56 26-62 129-325 66-183 73-185 72-202 30-94 26-89 103-399 57-197 20-64 16-40 15-28 11-8 5-1 10 5 5 6 11 20 10 29 20 86 21 120 36 274 62 567 31 253 46 317 62 379 46 241 36 156 16 55 20 60 16 36 20 38 21 30 20 24 21 19 21 13 25 13 31 12 31 7 41 7 67 7 119 8 221 12 216 3 371 2" stroke="#C08080"/>
<path d="M6884 3864l15 9 16 13 62 69 20 20 26 18 31 13 36 9 41 4 165-7 31 0 26 3 20 5 16 7 51 32 26 12 26 7 30 1 31-2 31-7 31-11 41-19 41-21 36-23 88-67 26-17 41-19 51-14 26-4 26-1 26 2 20 4 31 12 93 60 46 23 36 10 36 8 31 2 36-1 67-9 118-22 155-23 165-16 51-9 62-14 72-22 52-22 30-18 109-73 36-29 30-33 42-52 41-58 26-41 25-48 26-55 26-63 129-324 66-184 73-185 72-202 30-95 26-88 103-400 57-196 20-65 16-40 15-27 11-9 5-1 10 5 5 7 11 19 10 29 20 87 21 120 36 274 62 568 31 252 46 317 62 379 46 242 36 156 16 55 20 60 16 36 20 38 21 30 20 24 21 18 21 14 25 13 31 12 31 7 41 7 67 7 119 8 221 12 216 3 371 2" stroke="#70A070"/>
<path d="M6884 3864l15 9 16 13 62 69 20 20 26 18 31 14 36 8 41 4 165-7 31 0 26 3 20 5 16 7 51 32 26 12 26 7 30 2 31-3 31-7 31-11 41-19 41-21 36-23 88-67 26-17 41-19 51-14 26-4 26-1 26 2 20 4 31 13 93 60 46 22 36 11 36 7 31 2 36-1 67-9 118-22 155-23 165-15 51-10 62-14 72-22 52-22 30-18 109-73 36-30 30-32 42-52 41-58 26-42 25-47 26-56 26-62 129-325 66-183 73-186 72-202 30-95 26-88 103-400 57-197 20-64 16-40 15-27 11-9 5-1 10 5 5 6 11 20 10 29 20 86 21 121 36 274 62 568 31 252 46 318 62 379 46 242 36 156 16 54 20 60 16 37 20 38 21 30 20 24 21 18 21 14 25 13 31 12 31 7 41 7 67 7 119 8 221 12 216 3 371 2" stroke="#60B0E0"/>
<path d="M6884 3864l15 9 16 13 62 69 20 20 26 18 31 14 36 8 41 4 165-7 31 1 26 2 20 5 16 7 51 32 26 12 26 7 30 2 31-3 31-7 31-11 41-19 41-21 36-23 88-67 26-17 41-19 51-14 26-4 26-1 26 2 20 4 31 13 93 60 46 22 36 11 36 7 31 3 36-2 67-8 118-22 155-23 165-16 51-10 62-14 72-22 52-22 30-18 109-74 36-29 30-32 42-52 41-59 26-41 25-47 26-56 26-63 129-325 66-183 73-186 72-202 30-94 26-89 103-400 57-197 20-64 16-40 15-28 11-9 5-1 10 6 5 6 11 19 10 30 20 86 21 121 36 274 62 568 31 253 46 317 62 380 46 242 36 156 16 54 20 60 16 37 20 38 21 30 20 24 21 18 21 14 25 13 31 12 31 7 41 7 67 7 119 8 221 12 216 3 371 2" stroke="#90B0D0"/>
<path d="M6884 3864l15 9 16 13 62 69 20 20 26 18 31 14 36 9 41 3 165-7 31 1 26 2 20 5 16 7 51 32 26 12 26 7 30 2 31-3 31-7 31-11 41-19 41-21 36-23 88-67 26-17 41-19 51-14 26-4 26-1 26 3 20 4 31 12 93 60 46 23 36 11 36 7 31 2 36-1 72-10 113-21 155-23 165-16 51-9 62-15 72-22 52-22 30-18 109-74 36-29 30-32 42-52 41-59 26-41 25-48 26-55 26-63 129-325 66-184 73-186 72-202 30-94 26-89 103-400 57-197 20-65 16-40 15-27 11-9 5-1 10 5 5 6 11 20 10 29 20 87 21 120 36 275 62 568 31 253 46 318 62 379 46 242 36 156 16 55 20 60 16 36 20 39 21 30 20 24 21 18 21 14 25 13 31 11 31 8 41 7 67 7 119 8 221 12 216 3 371 2" stroke="#607090"/>
<path d="M6884 3864l15 9 16 13 62 70 20 19 26 18 31 14 36 9 41 4 165-7 31 0 26 2 20 5 16 7 51 32 26 12 26 7 30 2 31-3 31-7 31-11 41-19 41-21 36-23 88-67 26-17 41-19 51-14 26-4 26-1 26 3 20 4 31 12 93 61 46 22 36 11 36 7 31 3 36-2 72-9 113-21 155-23 165-17 51-9 62-15 72-22 52-22 30-18 109-74 36-29 30-33 42-52 41-58 26-42 25-47 26-56 26-63 129-325 66-183 73-186 72-203 30-94 26-89 103-400 57-197 20-65 16-40 15-27 11-9 5-1 10 5 5 6 11 20 10 29 20 86 21 121 36 275 62 568 31 253 46 318 62 380 46 242 36 156 16 55 20 60 16 36 20 39 21 30 20 24 21 18 21 14 25 13 31 11 31 8 41 7 67 7 119 8 221 12 216 3 371 2" stroke="#000000"/>
<path d="M6884 3864l15 9 16 13 62 70 20 19 26 18 31 14 36 9 41 4 165-7 31 0 26 2 20 5 16 7 51 32 26 12 26 7 30 2 31-3 31-7 31-11 41-19 41-21 36-23 88-67 26-17 41-19 51-14 26-4 26 0 26 2 20 4 31 12 93 61 46 22 36 11 36 8 31 2 36-1 72-10 113-21 155-23 165-16 51-10 62-15 72-22 52-22 30-18 109-74 36-29 30-33 42-52 41-59 26-41 25-48 26-55 26-63 129-325 66-184 73-186 72-202 30-95 26-89 103-400 57-198 20-64 16-40 15-28 11-8 5-1 10 5 5 6 11 20 10 29 20 86 21 121 36 275 62 569 31 253 46 318 62 380 46 242 36 156 16 55 20 60 16 36 20 39 21 30 20 24 21 18 21 14 25 13 31 11 31 8 41 7 67 7 119 8 221 12 216 3 371 2" stroke="#FF0000"/>
<path d="M6884 3864l15 9 16 13 62 70 20 19 26 18 31 14 36 9 41 4 165-7 31 0 26 3 20 4 16 7 51 32 26 12 26 7 30 2 31-3 31-7 31-11 41-19 41-21 36-23 88-67 26-17 41-19 51-14 26-4 26 0 26 2 20 4 31 13 93 60 46 23 36 11 36 7 31 2 36-1 72-9 113-21 155-24 165-16 51-10 62-15 72-22 52-22 30-18 109-74 36-30 30-32 42-52 41-59 26-41 25-48 26-56 26-62 129-326 66-184 73-186 72-202 30-95 26-89 103-400 57-198 20-64 16-40 15-28 11-8 5-2 10 6 5 6 11 19 10 30 20 86 21 121 36 275 62 569 31 253 46 318 62 380 46 243 36 156 16 55 20 60 16 36 20 39 21 30 20 24 21 18 21 14 25 13 31 11 31 8 41 7 67 7 119 8 221 12 216 3 371 2" stroke="#0000FF"/>
<path d="M6884 3864l15 9 16 13 62 70 20 19 26 18 31 14 36 9 41 4 165-7 31 0 26 3 20 4 16 7 51 32 26 12 26 7 30 2 31-3 31-7 31-11 41-19 41-21 36-23 88-67 26-17 41-19 51-14 26-4 26 0 26 2 20 4 31 13 93 60 46 23 36 11 36 7 31 3 36-2 72-9 113-21 155-23 165-17 51-10 62-15 72-22 52-22 30-18 109-74 36-30 30-32 42-52 41-59 26-42 25-47 26-56 26-63 129-326 66-183 73-187 72-202 30-95 26-88 103-401 57-198 20-64 16-40 15-28 11-9 5-1 10 5 5 7 11 19 10 30 20 86 21 121 36 275 62 569 31 254 46 318 62 380 46 242 36 157 16 55 20 60 16 36 20 39 21 30 20 24 21 18 21 14 25 13 31 11 31 8 41 7 67 7 119 8 221 12 216 3 371 2" stroke="#FF00FF"/>
<path d="M6884 3864l15 9 16 14 62 69 20 19 26 18 31 15 36 8 41 4 165-7 31 0 26 3 20 4 16 7 51 32 26 12 26 7 30 2 31-3 31-7 31-11 41-19 41-21 36-23 88-67 26-17 41-19 51-14 26-3 26-1 26 2 20 4 31 13 93 61 46 22 36 11 36 8 31 2 36-1 72-10 113-21 155-23 165-17 51-10 62-15 72-22 52-22 30-18 109-74 30-25 31-32 42-51 41-58 31-49 25-47 21-44 26-62 134-339 66-184 73-186 72-203 30-95 26-88 103-401 57-198 20-64 16-40 15-28 11-9 5-1 10 5 5 7 11 19 10 30 20 86 21 121 36 275 62 570 31 253 46 318 62 381 46 242 36 157 16 54 20 61 16 36 20 39 21 30 20 24 21 18 21 14 25 13 31 11 31 8 41 6 67 8 119 8 221 12 216 3 371 2" stroke="#008000"/>
<path d="M6884 3864l15 9 16 14 62 69 20 19 26 19 31 14 36 8 41 4 165-7 31 0 26 3 20 5 16 6 51 32 26 12 26 7 30 2 31-3 31-7 31-11 41-19 41-21 36-23 88-67 26-17 41-19 51-14 26-3 26-1 26 2 20 4 31 13 93 61 46 22 36 12 36 7 31 3 36-2 72-9 113-21 155-24 165-17 46-8 62-15 72-22 51-21 36-21 109-75 30-24 31-32 42-51 41-58 31-49 25-48 21-44 26-61 134-340 66-183 73-187 72-202 30-95 26-89 103-401 57-198 20-64 16-40 15-28 11-9 5-1 10 5 5 7 11 19 10 30 20 86 21 121 36 275 62 570 31 253 46 319 62 380 46 243 36 157 16 54 20 61 16 36 20 38 21 31 20 24 21 18 21 14 25 13 31 11 31 8 41 6 67 8 119 8 221 12 216 3 371 2" stroke="#000080"/>
<path d="M6884 3864l15 9 16 14 62 69 20 20 26 18 31 14 36 9 41 3 165-7 31 0 26 3 20 5 16 6 51 32 26 12 26 7 30 2 31-3 31-7 31-11 41-19 41-21 36-23 88-67 26-17 41-19 51-14 26-3 26-1 26 2 20 5 31 12 93 61 46 23 36 11 36 7 31 3 36-1 72-10 113-21 160-24 155-16 51-9 62-15 72-22 51-21 36-21 109-75 30-24 31-32 42-51 41-58 31-49 25-48 21-44 26-62 134-339 66-184 73-186 72-203 30-95 26-89 103-401 57-198 20-64 16-40 15-28 11-9 5-1 10 5 5 7 11 19 10 30 20 86 21 121 36 275 62 570 31 254 46 318 62 381 46 243 36 156 16 55 20 61 16 36 20 38 21 31 20 24 21 18 21 14 25 13 31 11 31 8 41 6 67 8 119 8 221 12 216 3 371 2" stroke="#8000FF"/>
<path d="M6884 3864l15 9 16 14 62 69 20 20 26 18 31 14 36 9 41 3 170-7 52 3 20 5 16 6 51 32 26 12 26 7 30 2 31-3 31-7 31-11 41-19 41-21 36-23 88-67 26-17 41-19 51-14 26-3 26-1 26 2 20 5 31 12 93 61 46 23 36 11 36 8 31 2 36-1 72-9 113-22 160-24 155-16 51-9 62-15 72-22 51-21 36-21 109-75 30-25 31-31 42-51 41-58 31-50 25-47 21-44 26-62 134-339 66-184 73-187 72-203 30-95 26-88 103-402 57-198 20-64 16-40 15-28 11-9 5-1 10 5 5 7 11 19 10 30 20 86 21 121 36 275 62 571 31 253 46 319 62 381 46 243 36 156 16 55 20 60 16 37 20 38 21 31 20 24 21 18 21 14 25 13 31 11 31 8 41 6 67 8 119 8 221 12 216 3 371 2" stroke="#A040C0"/>
<path d="M6884 3864l15 9 16 14 62 69 20 20 26 18 31 14 36 9 41 4 170-8 52 3 20 5 16 6 51 32 26 12 26 7 30 2 31-3 31-7 31-11 41-19 41-21 36-23 88-67 26-17 41-19 51-14 26-3 26-1 26 3 20 4 31 12 93 61 46 23 41 13 36 6 31 2 36-1 67-9 113-21 155-24 165-17 51-10 62-15 72-22 52-23 30-18 109-75 30-25 31-31 42-52 41-58 31-49 25-48 21-44 26-61 134-340 66-184 73-187 72-202 30-95 26-89 103-402 57-198 20-64 16-40 15-28 11-9 5-1 10 5 5 7 11 19 10 30 20 86 21 122 36 275 62 570 31 254 46 319 62 381 46 243 36 156 16 55 20 60 16 37 20 38 21 31 20 23 21 19 21 14 25 13 31 11 31 8 41 6 67 8 119 8 221 12 216 3 371 2" stroke="#800000"/>
<path d="M6884 3864l15 9 16 14 62 69 20 20 26 18 31 14 36 9 41 4 170-7 52 2 20 5 16 6 51 32 26 12 26 7 30 2 31-3 31-7 31-11 41-19 41-21 36-23 88-67 26-17 41-19 51-14 26-3 26-1 26 3 20 4 31 13 93 61 46 22 41 13 36 7 31 2 36-2 67-9 113-21 160-24 155-16 51-10 62-15 72-22 51-21 36-21 109-75 30-25 31-31 42-52 41-58 31-49 25-48 21-44 26-62 134-339 66-184 73-187 72-203 30-95 26-89 103-402 57-197 20-65 16-40 15-28 11-8 5-1 10 5 5 6 11 20 10 29 20 87 21 121 36 275 62 571 31 254 46 318 62 381 46 243 36 157 16 55 20 60 16 37 20 38 21 30 20 24 21 19 21 14 25 13 31 11 31 8 41 6 67 7 119 9 221 12 216 3 371 2" stroke="#808000"/>
<path d="M6884 3864l15 9 16 14 62 69 20 20 26 18 31 14 36 9 41 4 170-7 52 2 20 5 16 6 51 32 26 12 26 7 30 2 31-3 31-7 31-11 41-19 36-18 36-22 36-26 57-45 26-17 41-19 51-14 26-3 26-1 26 3 20 4 31 13 93 61 46 23 41 12 36 7 31 2 36-2 67-9 113-21 160-24 155-16 51-10 62-15 72-22 51-21 36-22 109-74 30-25 31-32 42-51 41-58 31-49 25-48 21-44 26-62 134-340 66-184 73-187 72-202 30-95 26-89 103-402 57-198 20-65 16-40 15-28 11-8 5-1 10 5 5 6 11 20 10 29 20 87 21 121 36 275 62 571 31 254 46 319 62 381 46 243 36 157 16 55 20 60 16 37 20 38 21 30 20 24 21 19 21 14 25 13 31 11 31 8 41 6 67 7 119 9 221 12 216 3 371 2" stroke="#4070B0"/>
<path d="M6884 3864l15 9 16 14 62 69 20 20 26 18 31 14 36 9 41 4 170-7 52 2 20 5 16 6 51 32 26 12 26 7 30 2 31-3 31-7 31-11 41-19 36-18 36-22 36-26 57-45 26-17 41-19 51-14 26-3 26-1 26 3 20 4 31 13 93 61 46 23 41 12 36 7 31 2 36-2 67-8 113-21 160-25 155-16 51-10 62-15 72-22 51-21 36-22 109-74 30-25 31-32 42-51 41-58 31-50 25-47 21-44 26-62 134-340 66-184 73-187 72-203 30-95 26-89 103-402 57-198 20-64 16-41 15-27 11-9 5-1 10 5 5 6 11 20 10 29 20 87 21 121 36 276 62 571 31 254 46 319 62 381 46 243 36 157 16 55 20 60 16 37 20 38 21 30 20 24 21 19 21 14 25 13 31 11 31 8 41 6 67 7 119 9 221 12 216 3 371 2" stroke="#008080"/>
<path d="M6884 3864l15 9 16 14 62 69 20 20 26 18 31 14 36 9 41 4 170-7 52 2 20 5 16 6 51 32 26 12 26 7 30 2 31-3 31-7 31-11 41-19 36-18 36-22 36-26 57-45 26-17 41-19 51-13 26-4 26-1 26 3 20 4 31 13 93 61 46 23 41 13 36 6 31 3 36-2 67-9 113-21 160-25 155-16 51-10 62-15 72-22 51-21 36-22 109-74 30-25 31-32 42-51 41-58 31-50 25-47 21-45 26-61 134-340 66-185 73-186 72-203 30-96 26-89 103-402 57-198 20-64 16-41 15-27 11-9 5-1 10 5 5 6 11 20 10 30 20 86 21 122 36 275 62 571 31 254 46 319 62 382 46 243 36 157 16 55 20 60 16 37 20 38 21 30 20 24 21 19 21 14 25 13 31 11 31 8 41 6 67 7 119 9 221 12 216 3 371 2" stroke="#B07040"/>
<path d="M6884 3864l15 9 16 14 62 69 20 20 26 18 31 14 36 9 41 4 170-7 52 2 20 5 16 6 51 32 26 12 26 7 30 2 31-3 31-7 31-11 41-19 36-18 36-22 36-26 57-45 26-17 41-19 51-13 26-4 26 0 26 2 20 4 31 13 93 61 46 23 41 13 36 7 31 2 36-2 67-9 113-21 160-25 155-16 51-10 62-15 72-22 51-21 36-22 109-74 30-25 31-32 42-51 41-59 31-49 25-48 21-44 26-62 134-340 66-184 73-187 72-203 30-95 26-89 103-402 57-198 20-65 16-40 15-28 11-9 5-1 10 6 5 6 11 19 10 30 20 87 21 121 36 275 62 572 31 254 46 319 62 382 46 243 36 157 16 55 20 60 16 36 20 39 21 30 20 24 21 19 21 14 25 13 31 11 31 8 41 6 67 7 119 9 221 12 216 3 371 2" stroke="#20B020"/>
<path d="M6884 3864l15 9 16 14 62 69 20 20 26 18 31 14 36 9 41 4 170-7 52 2 20 5 16 6 51 32 26 12 26 7 30 2 31-3 31-7 31-11 41-19 36-18 36-22 36-26 57-45 26-17 41-19 51-13 26-4 26 0 26 2 20 4 31 13 93 62 46 22 41 13 36 7 31 2 36-2 67-9 113-21 160-24 155-17 51-9 62-16 72-22 51-21 36-22 109-75 30-24 31-32 42-52 41-58 31-49 25-48 21-44 26-62 134-340 66-184 73-187 72-203 30-96 26-89 103-402 57-198 20-65 16-40 15-28 11-8 5-1 10 5 5 6 11 20 10 29 20 87 21 121 36 276 62 571 31 255 46 319 62 381 46 244 36 157 16 55 20 60 16 36 20 39 21 30 20 24 21 19 21 14 25 13 31 11 31 8 41 6 67 7 119 9 221 12 216 3 371 2" stroke="#FF60A0"/>
<path d="M6884 3864l15 9 16 14 62 69 20 20 26 18 31 15 36 8 41 4 170-7 52 2 20 5 16 6 51 32 26 12 26 7 30 2 31-3 31-7 31-11 41-19 36-18 36-22 36-26 57-45 26-17 41-19 51-13 26-4 26 0 26 2 20 4 31 13 93 62 46 23 41 12 36 7 31 2 36-2 67-8 113-22 160-24 155-16 51-10 62-15 72-23 51-21 36-22 109-75 30-25 31-31 42-52 41-58 31-49 25-48 21-44 26-62 134-340 66-185 73-187 72-203 30-95 26-89 103-403 57-198 20-64 16-41 15-27 11-9 5-1 10 5 5 6 11 20 10 30 20 86 21 122 36 275 62 572 31 254 46 319 62 382 46 244 36 157 16 55 20 60 16 36 20 39 21 30 20 24 21 19 21 14 25 13 31 11 31 8 41 6 67 7 119 9 221 12 216 3 371 2" stroke="#00C0C0"/>
<path d="M6884 3864l15 9 16 14 62 69 20 20 26 18 31 15 36 9 41 3 170-7 52 2 20 5 16 6 51 32 26 12 26 7 30 2 31-3 31-7 31-11 41-19 36-18 36-22 36-26 57-45 26-17 41-19 51-13 26-4 26 0 26 2 20 5 31 12 93 62 46 23 41 12 36 7 31 2 36-1 67-9 113-21 160-25 155-16 51-10 62-15 72-23 51-21 36-22 109-75 30-25 31-31 42-52 41-58 31-50 25-47 21-44 26-62 134-341 66-184 73-187 72-203 30-95 26-90 103-402 57-198 20-65 16-40 15-28 11-9 5-1 10 6 5 6 11 19 10 30 20 87 21 121 36 276 62 572 31 254 46 319 62 382 46 243 36 157 16 55 20 61 16 36 20 39 21 30 20 24 21 19 21 14 25 13 31 11 31 8 41 6 67 7 119 9 221 12 216 3 371 2" stroke="#8060E0"/>
<path d="M6884 3864l15 9 16 14 62 70 20 19 26 18 31 15 36 9 41 3 170-7 52 2 20 5 16 6 51 32 26 12 26 7 30 2 31-3 31-7 31-11 41-19 36-18 36-22 36-26 57-45 26-17 41-19 51-13 26-4 26 0 26 2 20 5 31 12 93 62 46 23 41 12 36 7 31 3 36-2 67-9 113-21 160-25 155-16 51-10 62-15 72-22 51-22 36-22 109-75 30-25 31-31 42-52 41-58 31-50 25-47 21-45 26-62 134-340 66-184 73-187 72-204 30-95 26-89 103-403 57-198 20-64 16-41 15-27 11-9 5-1 10 5 5 6 11 20 10 29 20 87 21 122 36 275 62 572 31 255 46 319 62 382 46 243 36 157 16 55 20 61 16 36 20 39 21 30 20 24 21 19 21 14 25 13 31 11 31 8 41 6 67 7 119 9 221 12 216 3 371 2" stroke="#A0A040"/>
<path d="M6884 3864l15 9 16 14 62 70 20 19 26 18 31 15 36 9 41 4 170-8 52 2 20 5 16 6 51 32 26 12 26 7 30 2 31-3 31-7 31-11 41-19 36-18 36-22 36-26 57-45 26-17 41-19 51-13 26-4 26 0 26 2 20 5 31 12 93 62 46 23 41 13 36 7 31 2 36-2 67-9 113-21 160-25 155-16 51-10 62-15 72-22 51-22 36-22 109-75 30-25 31-31 42-52 41-58 31-50 25-48 21-44 26-62 134-340 66-185 73-187 72-203 30-95 26-89 103-403 57-198 20-65 16-40 15-28 11-9 5-1 10 5 5 7 11 19 10 30 20 87 21 121 36 276 62 572 31 254 46 320 62 382 46 243 36 157 16 55 20 61 16 36 20 39 21 30 20 24 21 19 21 14 25 13 31 11 31 8 41 6 67 7 119 9 221 12 216 3 371 2" stroke="#808080"/>
<path d="M6884 3864l15 9 16 14 62 70 20 19 26 19 31 14 36 9 41 4 170-8 52 2 20 5 16 6 51 32 26 12 26 7 30 2 31-3 31-7 31-11 41-19 36-18 36-22 36-26 57-45 26-17 41-19 51-13 26-4 26 0 26 2 20 5 31 12 93 62 46 23 41 13 36 7 31 2 36-2 72-9 108-21 160-24 155-17 51-10 62-15 72-22 51-22 36-22 109-75 30-25 31-32 42-51 41-59 31-49 25-48 21-44 26-62 134-340 66-185 73-187 72-203 30-96 26-89 103-403 57-198 20-65 16-40 15-28 11-8 5-1 10 5 5 6 11 20 10 29 20 87 21 122 36 275 62 573 31 254 46 320 62 382 46 243 36 157 16 55 20 61 16 36 20 39 21 30 20 24 21 19 21 14 25 13 31 11 31 8 41 6 67 7 119 9 221 12 216 3 371 2" stroke="#C08080"/>
<path d="M6884 3864l15 9 16 14 62 70 20 19 26 19 31 14 36 9 41 4 170-8 52 2 20 5 16 6 51 32 26 12 26 7 30 2 31-3 31-7 31-11 41-19 36-18 36-22 36-26 57-45 26-17 41-19 51-13 26-4 26 0 26 2 20 5 31 13 93 61 46 23 41 13 36 7 31 2 36-2 72-9 108-21 160-24 155-17 51-10 62-15 72-22 51-22 36-22 109-75 30-25 31-32 42-51 41-59 31-49 25-48 21-44 26-62 134-341 66-184 73-187 72-204 30-95 26-89 103-403 57-198 20-65 16-40 15-28 11-9 5-1 10 5 5 6 11 20 10 30 20 87 21 121 36 276 62 572 31 255 46 319 62 383 46 243 36 157 16 55 20 61 16 36 20 39 21 30 20 24 21 19 21 14 25 13 31 11 31 8 41 6 67 7 119 9 221 12 216 3 371 2" stroke="#70A070"/>
<path d="M6884 3864l15 9 16 14 62 70 20 19 26 19 31 14 36 9 41 4 170-8 52 2 20 5 16 6 51 32 26 12 26 7 30 2 31-3 31-7 31-11 41-19 36-18 36-22 36-26 57-45 26-17 41-19 51-13 26-4 26 0 26 2 20 5 31 13 93 61 46 23 41 13 36 7 31 2 36-1 72-10 108-20 160-25 155-17 51-10 62-15 72-22 51-22 36-22 109-75 30-25 31-32 42-51 41-59 31-49 25-48 21-44 26-62 134-341 66-184 73-188 72-203 30-95 26-90 103-403 57-198 20-65 16-40 15-28 11-8 5-1 10 5 5 6 11 20 10 29 20 87 21 122 36 276 62 572 31 255 46 319 62 382 46 244 36 157 16 55 20 61 16 36 20 39 21 30 20 24 21 19 21 14 25 13 31 11 31 8 41 6 67 7 119 9 221 12 216 3 371 2" stroke="#60B0E0"/>
<path d="M6884 3864l15 9 16 14 62 70 20 19 26 19 31 14 36 9 41 4 170-8 52 2 20 5 16 6 51 32 26 12 26 7 30 2 31-3 31-7 31-11 41-19 36-18 36-22 36-26 57-45 26-17 41-19 51-13 26-4 26 0 26 2 20 5 31 13 93 61 46 23 41 13 36 7 31 2 36-1 72-10 108-20 160-25 155-17 51-10 62-15 72-22 51-22 36-22 109-75 30-25 31-32 42-51 41-59 31-49 25-48 21-44 26-62 134-341 66-185 73-187 72-203 30-96 26-89 103-403 57-198 20-65 16-40 15-28 11-9 5-1 10 5 5 7 11 19 10 30 20 87 21 121 36 276 62 573 31 254 46 320 62 382 46 244 36 157 16 55 20 61 16 36 20 39 21 30 20 24 21 19 21 14 25 13 31 11 31 8 41 6 67 7 119 9 221 12 216 3 371 2" stroke="#90B0D0"/>
<path d="M6884 3864l15 9 16 14 62 70 20 19 26 19 31 14 36 9 41 4 170-7 52 1 20 5 16 6 51 32 26 12 26 7 30 2 31-3 31-7 31-11 41-19 36-18 36-22 36-26 57-45 26-17 41-19 51-13 26-3 26-1 26 3 20 4 31 13 93 62 46 23 41 12 36 7 31 3 36-2 72-10 108-20 160-25 155-17 51-10 62-15 72-22 51-22 36-22 109-75 30-25 31-32 42-52 41-58 31-49 25-48 21-44 26-63 134-340 66-185 73-187 72-204 30-95 26-89 103-403 57-199 20-64 16-41 15-27 11-9 5-1 10 5 5 6 11 20 10 29 20 87 21 122 36 276 62 572 31 255 46 320 62 382 46 244 36 157 16 55 20 61 16 36 20 39 21 30 20 24 21 19 21 14 25 13 31 11 31 8 41 6 67 7 119 9 221 12 216 3 371 2" stroke="#607090"/>
<path d="M6884 3864l15 9 16 14 62 70 20 20 26 18 31 14 36 9 41 4 170-7 52 1 20 5 16 6 51 32 26 12 26 7 30 2 31-3 31-7 31-11 41-19 36-18 36-22 36-26 57-45 26-17 41-19 46-12 26-4 26-1 26 2 25 5 31 13 93 62 46 23 41 12 36 8 31 2 36-2 72-9 108-21 160-25 155-17 51-10 62-15 72-22 51-22 36-22 109-75 30-25 31-32 42-52 41-58 31-50 25-47 21-45 26-62 134-341 66-184 73-188 72-203 30-95 26-90 103-403 57-198 20-65 16-40 15-28 11-9 5-1 10 5 5 7 11 19 10 30 20 87 21 121 36 277 62 572 31 255 46 320 62 382 46 244 36 157 16 55 20 61 16 36 20 39 21 30 20 24 21 19 21 14 25 13 31 11 31 8 41 6 67 7 119 9 221 12 216 3 371 2" stroke="#000000"/>
<path d="M6884 3864l15 9 16 14 62 70 20 20 26 18 31 14 36 9 41 4 170-7 52 1 20 5 16 6 51 32 26 12 26 7 30 2 31-3 31-7 31-11 41-19 36-18 36-22 36-26 57-45 26-17 41-19 46-12 26-4 26-1 26 2 25 5 31 13 93 62 46 23 41 13 36 7 31 2 36-2 72-9 108-21 160-25 155-17 51-10 62-15 72-22 51-22 36-22 109-75 30-25 31-32 42-52 41-58 31-50 25-48 21-44 26-62 134-341 66-184 73-188 72-203 30-96 26-89 103-403 57-199 20-64 16-41 15-27 11-9 5-1 10 5 5 6 11 20 10 29 20 87 21 122 36 276 62 573 31 255 46 319 62 383 46 244 36 157 16 55 20 61 16 36 20 39 21 30 20 24 21 19 21 14 25 13 31 11 31 8 41 6 67 7 119 9 221 12 216 3 371 2" stroke="#FF0000"/>
<path d="M6884 3864l15 9 16 14 62 70 20 20 26 18 31 14 36 9 41 4 170-7 52 2 20 4 16 6 51 32 26 12 26 7 30 2 31-3 31-7 31-11 41-19 36-18 36-22 36-26 57-45 26-17 41-19 46-12 26-4 26-1 26 2 25 5 31 13 93 62 46 23 41 13 36 7 31 2 36-2 72-9 108-21 160-25 155-16 51-11 62-15 72-22 51-22 36-22 109-75 30-25 31-32 42-52 41-58 31-50 25-48 21-44 26-62 134-341 66-185 73-187 72-204 30-95 26-89 103-403 57-199 20-65 16-40 15-28 11-9 5-1 10 6 5 6 11 20 10 29 20 87 21 122 36 276 62 573 31 254 46 320 62 383 46 244 36 157 16 55 20 61 16 36 20 39 21 30 20 24 21 19 21 14 25 13 31 11 31 8 41 6 67 7 119 9 221 12 216 3 371 2" stroke="#0000FF"/>
<path d="M6884 3864l15 9 16 14 62 70 20 20 26 18 31 14 36 9 41 4 170-7 52 2 20 4 16 6 51 32 26 12 26 7 30 2 31-3 31-7 31-11 41-19 36-18 36-22 36-26 57-45 26-17 41-19 46-12 26-4 26-1 26 2 25 5 31 13 93 62 46 23 41 13 36 7 31 2 36-2 72-9 108-20 160-25 155-17 51-11 62-15 72-22 51-22 36-22 109-75 30-25 31-32 42-52 41-58 31-50 25-48 21-44 26-62 134-341 66-185 73-187 72-204 30-95 26-89 103-404 57-198 20-65 16-41 15-27 11-9 5-1 10 5 5 6 11 20 10 30 20 87 21 121 36 277 62 572 31 255 46 320 62 383 46 244 36 157 16 55 20 60 16 37 20 39 21 30 20 24 21 19 21 14 25 13 31 11 31 8 41 6 67 7 119 9 221 12 216 3 371 2" stroke="#FF00FF"/>
<path d="M6884 3864l15 9 16 14 62 70 20 20 26 18 31 14 36 9 41 4 170-7 52 2 20 4 16 6 51 32 26 12 26 7 30 2 31-3 31-7 31-11 41-19 36-18 36-22 36-26 57-45 26-17 41-19 46-12 26-4 26-1 26 2 25 5 31 13 93 62 46 23 41 13 36 7 31 2 36-1 72-10 108-20 160-25 155-17 51-11 62-15 72-22 51-22 36-22 109-75 30-26 31-31 42-52 41-58 31-50 25-48 21-44 26-62 134-341 66-185 73-188 72-203 30-96 26-89 103-403 57-199 20-64 16-41 15-28 11-8 5-1 10 5 5 6 11 20 10 29 20 87 21 122 36 276 62 573 31 255 46 320 62 383 46 243 36 158 16 55 20 60 16 37 20 39 21 30 20 24 21 19 21 14 25 13 31 11 31 8 41 6 67 7 119 9 221 12 216 3 371 2" stroke="#008000"/>
<path d="M6884 3864l15 9 16 14 62 70 20 20 26 18 31 14 36 9 41 4 170-7 52 2 20 4 16 6 51 32 26 12 26 7 30 2 31-3 31-7 31-11 41-19 36-18 36-22 36-26 57-45 26-17 41-19 46-12 26-4 26-1 26 2 25 5 31 13 93 62 46 23 41 13 36 7 31 2 36-1 72-10 108-20 160-25 155-17 51-11 62-15 72-22 51-22 36-22 109-76 30-25 31-31 42-52 41-59 31-49 25-48 21-44 26-62 134-341 66-185 73-188 72-203 30-96 26-89 103-403 57-199 20-65 16-40 15-28 11-9 5-1 10 5 5 7 11 19 10 30 20 87 21 122 36 276 62 573 31 255 46 320 62 382 46 244 36 158 16 55 20 60 16 37 20 39 21 30 20 24 21 19 21 14 25 13 31 11 31 8 41 6 67 7 119 9 221 12 216 3 371 2" stroke="#000080"/>
<path d="M6884 3864l15 9 16 14 62 70 20 20 26 18 31 14 36 9 41 4 170-7 52 2 20 4 16 6 51 32 26 12 26 7 30 2 31-3 31-7 31-11 41-19 36-18 36-22 36-26 57-45 26-17 41-19 46-12 26-4 26-1 26 2 25 5 31 13 93 62 46 23 41 13 36 7 31 2 36-1 72-10 108-20 160-25 155-17 51-10 62-16 72-22 51-22 36-22 109-76 30-25 31-31 42-52 41-59 31-49 25-48 21-44 26-63 134-341 66-184 73-188 72-204 30-95 26-89 103-404 57-198 20-65 16-41 15-27 11-9 5-1 10 5 5 6 11 20 10 30 20 87 21 121 36 277 62 573 31 255 46 320 62 382 46 244 36 158 16 55 20 60 16 37 20 39 21 30 20 24 21 19 21 14 25 13 31 11 31 8 41 6 67 7 119 9 221 12 216 3 371 2" stroke="#8000FF"/>
<path d="M6884 3864l15 9 16 14 62 70 20 20 26 18 31 14 36 9 41 4 175-7 47 2 20 4 16 6 51 32 26 12 26 7 30 2 31-3 31-7 31-11 41-19 36-18 36-22 36-26 57-45 26-17 41-19 46-12 26-4 26-1 26 2 25 5 31 13 93 62 46 23 41 13 36 7 31 3 36-2 72-10 108-20 160-25 155-17 51-10 62-16 72-22 51-22 36-22 109-76 30-25 31-31 42-52 41-59 31-49 25-48 21-44 26-63 134-341 66-185 73-187 72-204 30-95 26-90 103-403 57-199 20-64 16-41 15-28 11-8 5-1 10 5 5 6 11 20 10 29 20 87 21 122 36 276 62 573 31 255 46 320 62 383 46 244 36 158 16 55 20 60 16 37 20 39 21 30 20 24 21 19 21 14 25 13 31 11 31 8 41 6 67 7 119 9 221 12 216 3 371 2" stroke="#A040C0"/>
<path d="M6884 3864l15 9 16 14 62 70 20 20 26 18 31 14 36 9 41 4 175-7 47 2 20 4 16 6 51 32 26 12 26 7 30 2 31-3 31-7 31-11 41-19 36-18 36-22 36-26 57-45 26-17 41-19 46-12 26-4 26-1 26 2 25 5 31 13 93 62 46 23 41 13 36 7 31 3 36-2 72-10 108-20 160-25 155-17 51-10 62-16 72-22 51-22 36-22 109-76 30-25 31-31 42-52 41-59 31-49 25-48 21-44 26-63 134-341 66-185 73-187 72-204 30-95 26-90 103-403 57-199 20-64 16-41 15-28 11-8 5-1 10 5 5 6 11 20 10 29 20 87 21 122 36 276 62 573 31 255 46 320 62 383 46 244 36 158 16 55 20 60 16 37 20 39 21 30 20 24 21 19 21 14 25 13 31 11 31 8 41 6 67 7 119 9 221 12 216 3 371 2" stroke="#D01010" stroke-width="7"/>
</g></g>
<rect x="688.4" y="103.2" width="489.1" height="364.45" fill="none" stroke="#000" stroke-width="1.6"/>
<line x1="714.14" y1="467.65" x2="714.14" y2="475.65" stroke="#000" stroke-width="1.6" stroke-linecap="butt"/>
<line x1="817.11" y1="467.65" x2="817.11" y2="475.65" stroke="#000" stroke-width="1.6" stroke-linecap="butt"/>
<line x1="920.08" y1="467.65" x2="920.08" y2="475.65" stroke="#000" stroke-width="1.6" stroke-linecap="butt"/>
<line x1="1023.05" y1="467.65" x2="1023.05" y2="475.65" stroke="#000" stroke-width="1.6" stroke-linecap="butt"/>
<line x1="1126.02" y1="467.65" x2="1126.02" y2="475.65" stroke="#000" stroke-width="1.6" stroke-linecap="butt"/>
<line x1="765.63" y1="467.65" x2="765.63" y2="472.15" stroke="#000" stroke-width="1.6" stroke-linecap="butt"/>
<line x1="868.59" y1="467.65" x2="868.59" y2="472.15" stroke="#000" stroke-width="1.6" stroke-linecap="butt"/>
<line x1="971.56" y1="467.65" x2="971.56" y2="472.15" stroke="#000" stroke-width="1.6" stroke-linecap="butt"/>
<line x1="1074.53" y1="467.65" x2="1074.53" y2="472.15" stroke="#000" stroke-width="1.6" stroke-linecap="butt"/>
<line x1="1177.5" y1="467.65" x2="1177.5" y2="472.15" stroke="#000" stroke-width="1.6" stroke-linecap="butt"/>
<line x1="680.4" y1="434.52" x2="688.4" y2="434.52" stroke="#000" stroke-width="1.6" stroke-linecap="butt"/>
<line x1="680.4" y1="368.25" x2="688.4" y2="368.25" stroke="#000" stroke-width="1.6" stroke-linecap="butt"/>
<line x1="680.4" y1="301.99" x2="688.4" y2="301.99" stroke="#000" stroke-width="1.6" stroke-linecap="butt"/>
<line x1="680.4" y1="235.73" x2="688.4" y2="235.73" stroke="#000" stroke-width="1.6" stroke-linecap="butt"/>
<line x1="680.4" y1="169.46" x2="688.4" y2="169.46" stroke="#000" stroke-width="1.6" stroke-linecap="butt"/>
<line x1="680.4" y1="103.2" x2="688.4" y2="103.2" stroke="#000" stroke-width="1.6" stroke-linecap="butt"/>
<line x1="683.9" y1="467.65" x2="688.4" y2="467.65" stroke="#000" stroke-width="1.6" stroke-linecap="butt"/>
<line x1="683.9" y1="401.39" x2="688.4" y2="401.39" stroke="#000" stroke-width="1.6" stroke-linecap="butt"/>
<line x1="683.9" y1="335.12" x2="688.4" y2="335.12" stroke="#000" stroke-width="1.6" stroke-linecap="butt"/>
<line x1="683.9" y1="268.86" x2="688.4" y2="268.86" stroke="#000" stroke-width="1.6" stroke-linecap="butt"/>
<line x1="683.9" y1="202.6" x2="688.4" y2="202.6" stroke="#000" stroke-width="1.6" stroke-linecap="butt"/>
<line x1="683.9" y1="136.33" x2="688.4" y2="136.33" stroke="#000" stroke-width="1.6" stroke-linecap="butt"/>
<text transform="translate(714.14,501.9) scale(1,1.03)" font-size="31" text-anchor="middle">300</text>
<text transform="translate(817.11,501.9) scale(1,1.03)" font-size="31" text-anchor="middle">400</text>
<text transform="translate(920.08,501.9) scale(1,1.03)" font-size="31" text-anchor="middle">500</text>
<text transform="translate(1023.05,501.9) scale(1,1.03)" font-size="31" text-anchor="middle">600</text>
<text transform="translate(1126.02,501.9) scale(1,1.03)" font-size="31" text-anchor="middle">700</text>
<text transform="translate(680.2,447.42) scale(1,1.03)" font-size="31" text-anchor="end">0.0</text>
<text transform="translate(680.2,381.15) scale(1,1.03)" font-size="31" text-anchor="end">0.5</text>
<text transform="translate(680.2,314.89) scale(1,1.03)" font-size="31" text-anchor="end">1.0</text>
<text transform="translate(680.2,248.63) scale(1,1.03)" font-size="31" text-anchor="end">1.5</text>
<text transform="translate(680.2,182.36) scale(1,1.03)" font-size="31" text-anchor="end">2.0</text>
<text transform="translate(680.2,116.1) scale(1,1.03)" font-size="31" text-anchor="end">2.5</text>
<text transform="translate(796.4,528.9) scale(1,1.03)" font-size="30.6">Wavelength (nm)</text>
<text transform="translate(627.2,398.53) rotate(-90) scale(1,1.03)" font-size="31">Absorbance (a.u.)</text>
<clipPath id="cc"><rect x="1279.5" y="104" width="489.1" height="364.8"/></clipPath>
<g clip-path="url(#cc)"><g transform="scale(0.1)" fill="none" stroke-width="13.5" stroke-linejoin="round">
<path d="M12795 3717l26-10 31-18 154-122 57-39 25-13 26-10 21-3 15 3 16 9 15 16 10 16 16 31 31 82 46 151 21 60 20 46 21 29 20 17 26 12 26 5 36 2 31-1 26-5 25-10 36-20 31-21 52-38 26-22 25-25 26-29 26-33 46-72 67-117 36-71 103-239 67-161 36-79 51-97 67-110 26-35 26-32 26-26 20-17 26-16 26-12 25-6 21 0 21 5 25 10 26 15 21 17 20 20 26 31 41 61 31 56 31 64 103 244 263 585 56 121 57 112 36 65 31 50 36 52 31 40 31 35 25 24 36 28 31 19 41 16 57 12 72 6 113 5 1998 3" stroke="#FF0000"/>
<path d="M12795 3717l26-10 31-18 154-122 57-39 25-13 26-10 21-3 15 3 16 9 15 16 10 16 16 31 31 82 46 151 21 60 20 46 21 29 20 17 26 12 26 5 36 2 31-1 26-5 25-10 36-20 31-21 52-38 26-22 25-25 26-29 26-33 46-72 67-117 36-71 103-239 67-161 36-79 51-97 67-110 26-35 26-32 26-26 20-17 26-16 26-12 25-6 21 0 21 5 25 10 26 15 21 17 20 20 26 31 41 61 31 56 31 64 103 244 263 585 56 121 57 112 36 65 31 50 36 52 31 40 31 35 25 24 36 28 31 19 41 16 57 12 72 6 113 5 1998 3" stroke="#0000FF"/>
<path d="M12795 3717l26-9 31-19 154-120 57-39 25-14 26-10 21-2 15 2 16 9 15 16 10 16 16 31 31 82 46 151 21 60 20 45 21 29 20 17 26 12 26 5 36 2 31-1 26-5 25-10 36-20 31-20 52-39 26-22 25-24 26-29 26-34 46-72 67-117 36-70 103-239 67-160 36-79 51-96 67-109 26-36 26-31 26-27 20-17 26-16 26-11 25-6 21 0 21 4 25 11 26 15 21 16 20 20 26 31 41 61 31 56 31 64 108 255 258 571 56 120 57 112 36 64 31 50 36 52 31 40 31 34 25 24 36 28 31 18 41 16 52 11 51 5 98 3 407-1 288 9 180 2 1164 1" stroke="#FF00FF"/>
<path d="M12795 3717l31-11 31-19 149-115 57-38 25-14 26-9 21-3 15 3 16 8 15 17 10 15 16 30 31 82 46 149 21 60 20 44 21 29 20 18 26 11 26 5 36 2 31-1 26-5 25-9 36-20 31-21 52-39 26-22 25-24 47-56 46-70 72-124 36-70 170-394 36-78 51-96 67-108 26-35 26-31 26-26 20-17 26-16 26-12 25-6 21 0 21 5 25 10 26 15 21 16 20 20 26 31 41 60 31 55 31 64 108 252 268 587 51 107 52 100 31 54 31 50 36 53 31 39 30 35 26 24 36 27 31 19 26 11 31 9 31 5 36 4 144 1 283-14 98-1 72 5 206 28 56 4 73 3 298 3 932 1" stroke="#008000"/>
<path d="M12795 3717l31-11 31-18 154-116 52-34 25-13 26-9 21-3 15 2 16 9 15 16 10 15 16 30 31 81 46 147 21 60 20 44 21 29 20 17 26 11 26 6 36 2 31-2 26-4 25-10 36-20 78-56 51-45 26-28 26-32 46-70 72-124 36-69 170-389 36-77 51-95 67-107 26-35 26-30 26-26 20-17 26-16 31-13 26-5 20 1 21 6 26 11 25 15 21 17 20 21 26 32 41 61 31 56 26 53 108 249 263 570 51 106 52 99 31 55 30 50 31 45 36 46 31 35 26 24 31 24 36 22 31 13 36 9 36 4 46 2 139-6 278-26 52-2 41 1 36 4 36 6 139 36 72 15 67 8 93 4 273 4 916 1" stroke="#000080"/>
<path d="M12795 3718l31-11 31-17 159-117 52-33 26-12 20-7 21-3 15 2 16 9 15 16 10 15 16 30 31 79 46 146 21 59 20 44 21 29 20 16 21 10 26 6 36 3 36-1 26-5 25-10 31-16 31-21 46-34 31-26 26-24 46-53 47-68 77-131 36-68 170-384 41-86 57-101 62-96 25-34 26-29 26-25 20-16 26-15 26-10 26-5 20 1 21 6 26 10 25 16 21 17 20 21 26 30 41 61 31 56 26 52 108 247 263 562 51 105 52 97 31 53 30 49 36 51 31 39 31 34 26 23 31 23 31 19 31 12 36 9 41 4 46 0 134-11 273-39 41-3 41 0 42 4 41 9 46 16 98 38 67 20 56 12 67 7 119 5 170 2 947 2" stroke="#8000FF"/>
<path d="M12795 3718l31-10 36-20 154-110 52-33 26-12 20-7 21-3 15 3 16 8 15 16 10 15 16 29 31 78 46 145 21 58 20 44 21 28 20 17 21 10 26 6 36 2 36-1 26-5 25-10 31-16 31-20 46-35 31-25 26-24 46-54 47-68 77-129 36-68 170-378 41-85 57-99 62-95 25-34 26-29 26-24 20-16 26-15 26-10 26-5 20 1 21 5 26 11 25 15 21 17 20 20 26 31 41 60 31 55 26 51 108 244 258 544 51 104 52 96 61 102 31 44 36 46 31 33 26 24 31 23 31 18 31 13 36 7 41 4 51-2 72-8 62-9 268-51 46-5 41-1 42 5 41 13 46 21 98 50 67 28 56 16 67 9 119 7 170 3 947 2" stroke="#A040C0"/>
<path d="M12795 3718l31-9 36-19 160-111 46-28 26-13 20-7 21-2 15 2 16 8 15 16 10 15 16 29 31 77 46 143 21 57 20 43 21 29 20 16 21 10 26 6 26 2 41 0 25-4 26-9 31-16 31-20 41-30 36-29 26-23 26-27 25-32 47-67 77-129 36-66 165-362 41-85 57-99 67-102 25-33 26-29 26-24 20-16 26-15 26-10 26-4 20 0 21 5 26 11 25 15 21 16 20 21 26 30 41 59 31 54 26 51 108 241 252 526 52 102 51 95 36 62 31 47 31 43 31 39 31 33 26 24 31 23 31 18 30 12 36 8 47 2 46-3 72-11 67-12 268-66 46-7 41 0 42 6 41 16 46 27 98 64 36 20 31 15 31 12 25 7 67 12 119 9 165 4 952 2" stroke="#800000"/>
<path d="M12795 3719l31-9 36-19 165-110 46-28 26-11 20-6 16-2 15 3 16 8 15 15 10 15 16 28 31 77 46 140 21 57 20 43 21 28 20 17 21 10 26 6 26 2 41-1 25-4 26-9 31-15 31-20 41-31 36-28 26-24 46-52 47-65 82-136 36-65 165-356 41-84 57-97 67-101 25-33 26-28 26-25 20-15 26-15 26-10 26-5 20 1 21 5 26 10 25 15 21 16 20 20 26 30 41 59 31 53 26 50 108 238 247 508 52 101 51 94 62 100 31 44 31 39 31 34 31 29 25 19 31 19 36 14 36 8 47 1 46-5 72-13 67-16 154-48 119-34 46-8 41 0 21 2 21 5 20 9 21 11 46 32 98 78 36 25 31 18 31 15 25 9 31 8 36 6 52 6 67 5 165 4 952 3" stroke="#808000"/>
<path d="M12795 3719l36-11 36-18 67-42 98-65 41-24 26-11 20-6 16-1 15 2 16 8 15 15 10 14 16 28 31 76 46 138 21 56 20 43 21 28 20 16 21 10 26 6 26 2 41 0 25-4 26-9 31-16 31-20 41-30 36-29 26-23 46-52 47-66 82-134 36-64 165-350 41-82 57-96 67-100 25-32 26-28 26-24 20-16 26-14 26-10 26-5 20 1 21 4 26 11 25 14 21 16 20 20 26 29 41 58 31 52 26 50 108 234 237 479 57 111 51 92 62 100 31 43 31 39 31 34 30 29 26 19 31 18 36 14 36 7 46 0 52-7 77-18 62-17 154-57 119-41 41-9 41-2 26 4 21 6 20 10 21 13 46 38 67 65 36 32 36 29 31 21 26 14 25 11 31 9 36 8 52 7 67 5 165 6 952 3" stroke="#4070B0"/>
<path d="M12795 3720l36-11 41-19 67-41 93-61 46-25 21-9 20-6 16-1 15 2 16 8 15 15 10 14 16 27 31 75 46 136 21 56 20 42 21 28 20 16 21 10 26 6 26 2 41-1 25-4 26-9 26-13 31-19 31-22 41-32 31-27 46-51 52-71 82-133 36-63 165-344 41-80 57-95 67-98 25-32 26-28 26-24 20-15 26-14 26-10 26-5 20 1 21 4 26 10 20 11 21 15 20 18 26 28 26 33 20 30 31 52 26 49 108 231 227 451 56 109 57 101 62 99 31 42 30 39 31 33 31 29 26 19 31 18 36 14 36 6 46 0 52-9 77-21 67-23 154-66 119-48 41-10 41-2 26 4 21 7 20 11 21 16 46 44 67 76 36 37 36 34 31 24 26 16 25 13 31 11 36 8 52 8 67 7 165 6 324 3 628 1" stroke="#008080"/>
<path d="M12795 3720l36-9 46-22 67-39 93-59 41-22 21-9 20-5 16-2 15 3 16 7 15 15 10 14 16 27 31 73 51 149 16 40 20 42 21 27 20 17 21 9 26 6 26 2 41-1 25-4 26-8 26-13 31-19 31-23 41-32 31-27 46-50 46-63 88-139 36-63 165-338 41-78 57-93 67-97 25-31 26-28 26-23 20-16 26-14 26-10 26-5 20 1 21 4 26 10 20 11 21 15 20 18 26 27 26 32 20 30 31 51 26 48 108 227 211 414 67 128 57 99 62 97 30 43 31 38 31 33 31 28 26 20 31 17 41 15 36 5 46-3 52-11 77-25 67-26 154-76 119-54 41-12 21-2 20 0 26 4 21 8 20 13 21 18 46 51 67 86 36 43 36 38 31 27 26 19 25 15 31 12 36 10 52 9 67 8 165 7 319 3 633 1" stroke="#B07040"/>
<path d="M12795 3720l41-10 47-21 66-38 88-54 41-22 21-8 20-6 16-1 15 2 16 8 15 14 10 13 16 27 31 72 51 147 16 40 20 41 21 27 15 13 21 11 26 7 25 3 42-1 25-3 26-8 26-12 26-15 30-22 47-35 31-27 46-49 51-69 88-137 36-62 165-331 41-77 57-91 67-95 25-31 26-28 26-23 20-15 26-14 26-10 26-5 20 1 21 4 26 10 20 10 21 14 20 18 26 27 26 32 20 29 31 50 26 48 108 223 191 368 77 145 56 98 67 105 57 74 31 33 31 29 31 24 25 15 42 15 20 4 21 2 46-4 52-13 82-30 67-30 154-86 119-61 41-13 21-3 20 0 26 5 21 9 20 15 21 19 46 58 67 97 36 49 36 43 31 31 26 21 25 16 31 14 36 11 52 11 67 8 67 5 98 4 319 3 633 1" stroke="#20B020"/>
<path d="M12795 3721l41-10 52-22 61-33 93-56 41-21 36-11 16-2 15 3 16 7 15 14 10 13 16 27 31 70 67 184 20 41 21 27 15 13 21 10 26 7 25 3 42 0 25-4 26-7 26-13 26-15 30-21 47-36 31-26 46-49 46-62 88-135 36-60 170-333 41-75 57-90 67-94 25-30 26-27 26-23 20-15 26-14 26-10 26-5 20 1 21 4 26 9 20 11 21 14 20 17 26 27 26 31 20 29 31 49 26 46 103 210 185 352 83 152 56 97 67 103 57 73 31 33 31 29 31 23 25 15 42 14 20 4 21 2 25-2 26-4 52-15 82-35 67-33 154-96 119-69 20-9 21-6 21-3 20 0 26 6 21 10 20 16 21 22 46 65 67 108 36 54 36 48 31 35 26 24 25 18 31 15 36 13 52 11 67 10 67 5 98 4 319 3 633 2" stroke="#FF60A0"/>
<path d="M12795 3721l46-10 52-21 62-32 87-52 41-20 36-11 16-2 15 2 16 8 15 13 10 13 16 26 31 70 67 180 20 41 21 26 15 13 21 11 26 7 25 3 42-1 25-3 26-8 26-12 26-15 30-22 47-35 31-27 46-49 46-61 93-142 31-51 170-326 41-74 57-88 67-92 51-56 26-23 20-15 26-14 26-10 26-5 20 1 21 4 26 9 20 10 21 14 20 17 26 26 26 31 20 28 31 49 26 45 103 207 175 326 88 159 56 95 67 101 57 72 31 33 31 28 30 23 26 15 41 14 21 4 21 1 25-2 26-5 52-17 82-38 67-37 46-30 113-80 119-76 20-9 21-7 21-3 20 0 26 6 21 12 20 17 21 25 46 71 67 120 36 59 36 54 31 38 26 26 25 20 31 17 36 14 52 13 67 11 67 5 98 5 319 3 633 1" stroke="#00C0C0"/>
<path d="M12795 3722l46-10 57-21 57-28 92-53 41-20 36-9 16-1 10 2 16 7 15 14 10 13 16 25 31 68 67 178 20 40 21 26 15 13 21 10 21 6 25 4 36 0 31-3 26-7 26-11 25-15 31-21 78-61 46-48 46-59 93-140 36-57 170-320 41-72 57-86 67-90 25-30 31-31 26-22 21-14 25-13 26-9 21-3 25 1 21 5 26 10 20 10 21 15 20 17 26 27 41 52 31 48 26 45 103 202 170 311 87 156 57 93 72 107 57 69 31 32 31 27 25 18 26 15 21 8 25 7 21 2 21 1 25-4 26-6 52-19 82-42 67-41 46-33 113-87 114-81 25-13 21-7 21-4 20 0 26 7 21 12 20 20 21 26 46 78 67 132 36 65 36 59 31 42 26 29 25 22 31 18 36 16 52 14 67 11 67 6 98 5 319 4 633 1" stroke="#8060E0"/>
<path d="M12795 3722l51-10 57-20 57-27 92-52 36-16 36-9 16-1 10 2 16 7 15 13 10 13 16 25 31 67 67 174 20 40 21 26 15 13 21 10 21 6 25 3 36 0 31-2 26-7 26-12 25-14 31-21 78-61 46-48 46-60 98-145 31-49 170-312 41-71 57-84 67-89 25-29 31-31 26-21 21-14 25-13 26-9 21-3 25 1 21 4 26 10 20 10 21 14 20 18 26 26 41 51 31 47 26 44 103 199 165 296 87 152 57 92 72 104 57 69 30 31 31 26 26 19 26 14 20 8 26 6 26 3 21-1 25-4 26-8 52-21 82-47 67-44 46-36 113-96 114-87 25-15 21-7 21-5 20 0 26 8 21 13 20 22 21 29 46 85 67 143 36 71 36 64 31 46 26 31 25 24 31 20 36 17 52 15 67 13 67 6 98 6 319 4 633 1" stroke="#A0A040"/>
<path d="M12795 3723l26-4 31-7 56-18 52-24 92-50 42-18 20-6 16-2 15 1 10 3 16 8 15 16 26 40 31 69 62 159 20 39 21 26 15 12 16 9 20 6 26 4 36 1 31-2 26-6 26-11 25-14 31-20 77-61 47-46 46-58 103-151 31-48 170-305 36-61 56-83 73-95 25-28 31-31 26-21 21-13 25-13 26-9 21-4 25 1 21 5 26 9 20 10 21 14 20 17 26 26 41 50 31 46 26 43 103 195 160 282 87 149 57 90 72 102 56 67 31 31 26 22 31 22 26 14 20 8 26 6 26 3 20-1 26-5 26-8 51-24 83-50 72-52 46-39 108-98 119-99 25-16 21-9 21-4 20 0 26 8 21 14 20 23 21 32 20 38 26 54 67 155 36 77 36 69 31 49 26 34 25 26 31 22 36 18 52 17 67 13 67 8 98 5 319 5 633 1" stroke="#808080"/>
<path d="M12795 3723l31-4 31-6 56-18 52-22 87-47 42-17 20-6 16-2 15 1 10 3 16 8 15 15 26 40 31 67 62 156 20 39 21 25 15 13 21 10 21 6 25 3 36 0 31-3 21-5 26-10 51-31 77-60 47-45 46-56 36-51 103-153 67-119 108-187 31-51 62-88 67-86 25-29 31-29 26-21 21-14 25-13 26-8 21-4 25 1 21 4 21 7 20 10 21 12 20 16 26 25 41 47 31 44 26 42 93 172 46 82 175 300 51 84 42 63 72 100 56 66 31 30 26 22 31 22 26 14 20 8 26 6 26 1 20-1 26-5 26-9 25-11 31-17 83-54 72-56 46-42 108-107 119-106 25-17 21-9 21-5 20 0 16 4 10 4 21 16 20 25 21 34 20 41 26 58 67 167 36 83 36 74 31 53 26 36 25 28 31 24 36 19 52 18 67 15 67 8 98 6 319 5 633 1" stroke="#C08080"/>
<path d="M12795 3724l62-9 56-16 52-21 93-48 41-16 31-6 15 1 10 2 16 9 15 14 26 39 31 66 62 154 20 38 21 25 15 12 21 11 21 6 25 3 36 0 31-3 21-5 26-11 51-30 77-60 47-46 46-56 139-201 67-116 139-232 62-87 67-84 25-28 31-29 26-21 21-13 25-13 26-9 21-3 25 1 21 4 21 7 20 9 21 12 20 16 26 24 41 47 31 43 26 40 93 169 46 81 165 276 56 91 41 62 73 98 56 65 31 29 26 22 31 21 25 14 21 8 26 5 26 2 25-3 26-6 26-10 25-13 31-18 83-59 72-60 46-45 108-114 119-114 25-18 21-10 21-5 20 0 16 4 10 5 21 17 20 27 21 36 20 44 26 62 67 179 36 88 36 80 31 57 26 39 25 30 31 25 36 21 52 19 67 15 67 9 98 6 319 6 633 1" stroke="#70A070"/>
<path d="M12795 3724l67-8 57-15 46-18 93-46 41-16 31-6 15 1 10 2 16 9 15 14 26 38 31 64 62 151 20 38 21 25 15 12 16 8 20 7 26 4 36 1 31-3 21-4 25-10 26-13 31-20 72-56 46-44 47-55 36-49 108-156 67-114 139-225 62-85 67-82 25-28 31-29 26-20 21-13 25-13 26-9 21-3 25 0 21 5 21 6 20 9 21 12 20 16 26 23 41 46 31 42 26 40 93 165 51 88 160 262 51 81 41 60 72 96 57 63 31 29 26 21 31 21 25 14 21 8 26 5 25 1 26-3 26-7 26-10 25-13 31-20 88-66 72-64 46-48 108-122 119-121 25-20 21-10 21-6 20 0 16 4 10 6 21 18 20 28 21 39 20 47 26 66 67 190 36 95 36 85 31 60 26 42 25 32 31 27 36 22 52 20 67 17 67 9 98 7 319 5 633 2" stroke="#60B0E0"/>
<path d="M12795 3725l67-7 46-10 52-18 87-42 41-17 36-9 16 0 15 3 16 8 15 14 26 37 31 64 62 148 20 37 21 25 15 12 16 8 20 7 26 4 36 0 31-2 21-5 25-10 26-13 31-20 72-55 41-39 47-54 36-48 108-153 77-127 134-211 62-83 67-81 25-27 31-28 26-21 21-13 25-12 26-9 21-3 25 0 42 10 20 9 21 12 20 15 26 23 41 45 31 41 26 39 93 163 51 85 149 240 57 87 41 60 72 93 57 62 31 29 25 20 31 21 26 13 26 9 20 4 26 1 26-3 26-8 25-11 31-17 31-20 88-71 72-68 46-52 108-129 119-129 25-21 21-11 21-6 20 0 16 5 10 6 21 19 20 30 21 41 20 50 26 70 67 202 36 101 36 90 31 64 26 44 25 34 31 29 36 23 26 12 26 10 67 17 67 10 98 7 314 6 638 2" stroke="#90B0D0"/>
<path d="M12795 3725l72-5 46-9 52-18 82-39 41-16 36-9 16 0 15 3 16 8 15 13 26 37 31 62 62 145 20 37 21 24 15 12 16 9 20 6 26 4 36 1 31-3 21-4 25-10 26-13 26-17 72-54 46-43 41-48 42-54 108-151 72-116 134-206 61-82 73-86 25-26 31-28 26-20 21-13 25-13 26-8 21-4 25 1 42 10 20 8 21 12 20 15 26 22 41 44 31 40 26 39 93 159 51 83 144 227 57 86 41 58 72 91 57 61 25 23 31 25 31 20 26 13 26 9 25 4 26 0 26-5 26-8 25-12 31-19 31-22 88-76 72-72 41-48 113-143 119-136 25-22 21-12 21-6 20 0 16 4 10 7 21 20 20 32 21 43 20 53 26 74 67 214 36 106 36 96 31 68 26 46 25 36 31 31 36 25 26 12 26 10 67 19 67 10 98 8 103 3 211 3 638 2" stroke="#607090"/>
<path d="M12795 3725l72-3 46-7 52-17 87-40 42-15 36-7 25 3 16 8 15 13 26 36 31 60 62 143 20 36 21 24 15 12 16 8 20 7 21 3 31 1 36-2 26-5 20-7 26-13 26-16 67-50 46-41 46-51 41-53 114-156 72-114 134-199 61-80 73-84 56-54 26-20 26-15 25-12 26-8 21-2 25 1 42 11 20 9 21 12 41 33 41 43 31 40 26 37 93 156 51 82 139 214 98 140 67 83 62 66 25 23 31 23 31 20 26 13 26 8 25 5 26-1 26-5 26-8 30-16 31-20 31-24 88-80 72-76 41-51 113-150 119-144 25-24 21-12 21-7 20 0 16 5 10 7 21 21 20 34 21 46 20 55 26 78 67 226 36 112 36 101 31 72 26 49 25 38 31 32 36 26 26 13 26 11 67 20 67 10 98 8 103 4 211 3 638 2" stroke="#000000"/>
<path d="M12795 3726l77-2 47-7 46-14 87-38 42-15 36-7 25 3 16 7 15 13 26 35 31 59 62 140 20 36 21 24 15 12 16 8 20 6 26 4 31 1 31-2 26-6 20-7 26-13 26-15 61-46 47-40 46-51 41-52 119-160 72-111 129-187 61-78 78-89 56-53 26-19 26-16 25-12 26-7 21-3 25 1 42 11 20 9 21 12 41 32 41 42 31 39 26 36 93 153 51 80 134 201 98 138 72 86 62 63 25 22 31 23 26 15 26 13 25 9 26 4 26-1 26-5 25-9 31-16 31-21 31-24 36-33 52-51 41-44 36-42 41-53 113-158 119-152 25-25 21-13 21-7 20 0 16 6 10 7 21 22 20 35 21 48 20 59 26 82 67 238 36 117 36 106 31 75 26 52 25 40 31 34 36 27 26 14 26 11 31 11 36 10 67 11 98 9 103 4 211 3 638 2" stroke="#FF0000"/>
<path d="M12795 3726l82 0 42-5 51-14 82-36 42-15 36-6 25 2 16 8 15 12 26 34 31 58 46 105 21 42 20 33 21 21 15 10 16 7 21 6 20 3 31 0 31-2 26-5 20-8 26-12 26-16 56-42 52-44 41-44 46-58 119-158 72-108 129-182 61-76 78-87 56-52 26-19 26-16 25-11 26-8 21-3 25 2 42 10 20 8 21 12 41 31 41 42 31 38 31 43 103 166 139 206 77 110 52 69 67 77 61 62 26 21 31 22 26 15 26 12 25 9 26 4 26-1 31-7 25-10 31-18 31-22 31-25 41-40 52-54 72-84 41-57 113-166 119-159 25-25 21-14 21-7 20 0 16 5 10 8 21 23 20 37 21 51 20 61 26 86 67 249 36 123 36 111 31 79 26 55 25 42 31 35 36 29 26 14 26 12 31 11 36 11 67 11 98 9 103 4 211 4 638 2" stroke="#0000FF"/>
<path d="M12795 3727l88 2 41-5 46-12 88-37 36-12 36-7 25 3 16 7 15 13 26 33 31 57 62 134 20 34 21 24 15 12 16 8 20 6 21 4 31 1 31-2 25-4 21-7 46-24 52-36 57-47 46-48 46-57 124-162 72-106 129-176 61-74 78-85 56-51 26-19 26-16 25-11 21-7 21-3 25 0 21 3 26 8 20 8 21 11 20 14 26 22 47 47 51 68 108 170 175 252 88 115 77 85 31 30 31 27 31 23 30 19 31 14 26 9 26 4 26-1 20-4 26-9 21-10 25-17 52-41 56-57 72-81 57-72 144-218 119-167 20-22 21-16 20-9 21-2 16 4 10 6 20 21 21 35 26 64 20 64 26 90 67 261 36 129 36 116 31 82 26 57 25 44 31 37 36 30 26 15 26 13 31 12 36 10 67 13 98 9 103 4 211 4 638 2" stroke="#FF00FF"/>
<path d="M12795 3727l88 4 41-3 46-11 88-35 41-14 36-5 15 1 11 3 15 9 10 9 16 17 15 23 26 48 62 131 20 34 21 24 15 12 16 7 20 7 21 3 31 1 31-2 25-4 21-7 46-23 47-33 56-46 47-47 46-56 129-166 72-103 123-164 62-73 83-90 56-50 26-18 26-16 25-11 21-7 21-3 25 0 21 3 26 7 20 8 21 11 20 14 26 21 47 47 51 66 108 166 170 239 88 113 36 40 41 43 36 33 31 26 31 22 30 17 31 14 26 7 26 3 26-2 20-5 26-10 21-11 25-17 52-44 62-65 72-85 51-70 144-227 119-174 20-23 21-17 20-9 21-3 16 4 10 7 20 22 21 37 26 66 20 67 26 94 67 272 36 134 36 121 31 87 26 59 25 46 31 38 36 31 26 17 26 12 31 13 36 11 67 13 98 10 103 4 211 3 638 3" stroke="#008000"/>
<path d="M12795 3728l93 6 41-2 46-12 83-32 41-13 36-6 26 5 15 8 10 9 26 32 31 54 67 138 20 31 21 21 15 10 16 7 21 6 20 2 31 1 31-3 20-4 21-6 41-21 47-31 61-51 42-41 46-55 134-170 72-101 118-152 62-72 88-93 56-49 26-19 26-15 25-11 21-7 21-3 25 0 21 3 26 7 20 8 21 10 46 34 47 46 51 65 108 162 165 226 87 111 31 34 41 41 37 34 30 25 31 22 31 18 31 13 31 9 26 3 25-2 21-5 26-10 20-11 26-18 52-45 61-67 72-88 57-79 36-57 108-180 119-181 20-24 21-17 20-10 21-3 16 5 10 6 20 23 21 38 26 70 20 69 26 98 67 283 36 140 36 126 31 90 26 62 25 47 31 40 36 33 26 17 26 13 31 13 36 12 67 13 98 10 103 4 211 4 638 3" stroke="#000080"/>
<path d="M12795 3728l93 9 41-1 46-11 88-33 36-11 36-5 26 4 15 8 10 9 26 31 31 53 67 135 20 31 21 21 15 10 16 7 21 5 20 3 31 0 31-2 20-4 21-7 41-21 41-27 62-50 41-40 47-54 139-174 72-99 118-147 62-70 88-91 61-52 47-29 25-12 21-6 21-4 25 0 21 3 26 7 20 8 21 10 46 33 47 45 51 63 108 159 160 214 87 108 31 34 41 40 67 57 31 21 31 17 31 13 31 9 26 3 25-2 21-5 26-10 20-12 26-18 31-26 26-25 56-64 72-91 57-81 41-67 108-187 119-188 20-25 21-18 20-11 21-2 16 5 10 6 20 24 21 40 26 72 20 72 26 102 67 294 36 145 36 131 31 93 26 64 25 50 31 42 36 33 26 18 26 14 31 13 36 12 67 14 98 11 103 4 211 4 638 3" stroke="#8000FF"/>
<path d="M12795 3728l93 12 41 0 46-10 88-32 36-11 36-5 26 5 15 7 10 8 16 17 15 21 26 45 67 133 20 30 21 20 15 10 16 7 36 8 31 1 31-2 20-4 21-6 41-19 41-27 62-49 41-39 57-66 139-172 67-89 113-137 57-63 98-100 61-51 47-29 25-11 21-7 21-3 25 0 21 2 26 7 20 7 21 11 46 32 47 43 51 62 108 155 149 197 93 112 31 33 36 34 72 60 31 20 31 17 31 13 31 8 31 3 25-3 21-5 26-12 25-16 26-20 52-49 61-73 72-95 57-85 36-62 108-194 119-195 20-26 21-18 20-11 21-3 16 5 10 7 10 11 10 14 21 41 26 75 20 75 26 105 67 305 36 151 36 135 31 97 26 66 25 52 31 43 36 35 26 18 26 14 31 14 36 13 31 8 36 6 98 11 103 5 211 4 638 3" stroke="#A040C0"/>
<path d="M12795 3729l31 3 67 11 41 0 41-8 93-33 36-10 31-3 26 4 15 7 10 8 16 16 15 21 31 53 62 121 20 30 21 20 15 10 16 7 36 7 31 1 31-2 20-3 21-6 41-20 41-27 62-48 41-40 41-47 88-108 67-80 67-87 108-126 57-62 103-103 61-50 47-29 25-11 21-7 21-3 25 0 21 2 26 6 20 8 21 10 46 31 47 43 51 60 108 152 144 185 93 110 31 32 36 33 72 58 31 20 31 16 31 13 31 8 30 3 26-3 21-6 26-12 25-16 26-20 31-28 26-28 56-69 72-98 57-87 41-72 108-201 119-201 20-27 21-20 20-11 21-2 16 4 10 8 10 11 10 15 21 42 26 77 20 78 26 109 67 315 36 156 36 141 31 100 26 69 25 53 31 44 36 37 26 18 26 15 31 15 36 13 31 8 36 6 98 12 103 5 211 4 638 3" stroke="#800000"/>
<path d="M12795 3729l31 4 67 13 41 1 21-3 25-6 88-30 36-10 31-3 26 4 15 7 10 8 16 16 15 20 31 52 62 118 20 29 21 21 15 10 16 6 21 6 20 2 57-1 20-4 21-6 36-16 41-27 62-48 41-38 41-46 88-108 72-84 77-97 124-138 128-127 62-51 26-18 26-14 25-12 21-6 21-3 25-1 21 3 26 6 41 17 46 30 47 42 51 59 108 149 144 180 88 101 31 32 36 32 41 33 36 26 31 19 31 16 31 11 31 7 30 2 26-4 21-7 26-13 25-17 26-21 31-30 26-28 56-72 72-101 57-90 41-74 108-208 119-208 20-28 21-20 20-12 21-2 16 5 10 7 10 12 10 15 21 44 26 80 20 80 26 112 67 326 36 161 36 145 31 104 26 71 25 55 31 46 36 37 26 20 26 15 31 15 36 13 31 9 36 7 98 11 103 5 211 5 638 3" stroke="#808000"/>
<path d="M12795 3730l36 5 62 14 41 2 21-2 25-6 88-29 36-10 31-3 26 4 15 7 10 7 16 16 15 20 31 50 62 116 20 29 21 20 15 10 16 7 36 7 57-1 20-2 21-6 36-15 41-26 57-43 46-41 46-52 88-107 77-89 67-82 129-139 134-129 61-49 47-28 25-11 21-6 21-4 25 0 21 2 26 6 41 16 46 30 47 41 51 58 108 145 134 164 93 105 31 31 30 27 47 36 36 26 31 18 31 15 30 10 31 7 31 2 26-4 21-6 25-13 26-17 26-22 31-30 25-29 62-80 72-105 57-93 41-76 108-215 119-214 20-29 21-21 20-11 11-3 10 0 16 5 10 8 10 11 10 16 21 45 26 83 20 82 26 117 67 335 36 167 36 149 31 107 26 73 25 57 16 26 15 21 36 39 26 20 26 16 31 15 36 14 31 9 36 7 98 12 103 5 211 5 638 3" stroke="#4070B0"/>
<path d="M12795 3730l36 6 67 17 41 1 41-7 88-28 36-9 31-3 26 3 15 8 10 7 16 15 15 19 31 49 62 114 20 29 21 20 15 10 16 6 36 8 26 0 31-1 20-3 21-5 36-16 41-25 57-43 41-37 41-44 98-118 72-82 72-86 124-129 133-126 62-49 26-17 26-15 25-11 21-6 21-4 25 0 47 8 41 16 46 29 47 40 51 56 108 142 134 160 93 102 31 30 30 26 47 34 36 24 31 18 31 13 30 10 31 6 31 0 26-4 21-7 25-14 26-18 26-23 31-31 25-30 62-83 72-108 57-95 41-80 108-220 119-221 20-30 21-21 20-12 11-3 10 0 16 5 10 8 10 12 10 16 21 47 26 85 20 85 26 119 67 346 36 172 36 154 31 110 26 75 25 58 16 27 15 22 16 19 20 21 26 21 26 16 31 16 36 14 31 9 36 7 98 13 103 5 211 5 638 3" stroke="#008080"/>
<path d="M12795 3730l36 7 67 18 41 3 41-6 88-27 36-9 31-4 26 4 15 7 10 7 16 15 15 19 31 48 62 111 20 29 21 19 15 10 16 7 36 7 26 1 31-2 20-3 21-5 36-16 41-25 57-43 41-37 36-38 103-123 72-80 72-84 124-124 133-124 62-48 26-17 26-14 25-11 21-6 21-4 25 0 47 7 41 16 46 28 47 39 51 56 108 138 134 156 88 94 30 29 31 26 41 29 42 27 31 17 30 13 31 9 31 6 31 0 26-4 20-7 26-14 26-18 26-23 25-26 31-36 62-84 77-119 57-98 41-81 108-227 119-227 20-31 21-21 20-13 11-3 10 0 16 5 10 9 10 12 10 17 21 48 26 87 20 87 26 123 67 356 36 176 36 158 31 113 26 78 25 60 16 27 15 23 16 19 20 22 26 21 26 17 31 16 36 15 31 9 36 7 98 13 103 6 211 4 638 4" stroke="#B07040"/>
<path d="M12795 3731l36 7 67 20 21 3 20 1 21-2 25-5 88-26 36-9 31-2 26 5 15 8 10 8 26 29 31 47 62 109 20 28 21 20 15 10 16 6 36 7 26 1 31-1 20-3 21-6 36-15 36-22 51-38 47-40 36-38 108-128 77-84 62-71 123-120 139-125 62-48 52-31 25-11 21-6 21-3 25-1 47 7 41 15 46 28 47 38 51 55 103 129 134 153 93 96 30 28 26 21 41 29 42 25 30 17 31 12 36 11 31 4 31 0 26-6 20-7 26-15 26-19 26-24 31-33 25-31 62-87 77-122 57-100 41-84 108-233 119-233 20-32 21-22 20-13 11-3 10 0 16 6 10 8 10 13 10 17 21 49 26 90 20 90 26 126 67 365 36 181 36 162 31 116 26 80 25 61 16 28 15 24 16 20 20 22 26 22 26 17 31 16 36 16 31 9 36 8 98 13 103 5 211 5 638 4" stroke="#20B020"/>
<path d="M12795 3731l36 8 67 22 21 3 20 1 21-1 25-5 88-25 36-8 31-3 26 6 15 8 10 7 26 28 31 46 62 107 20 28 21 20 15 9 16 7 36 7 26 1 31-2 41-8 36-16 36-22 46-34 47-39 36-37 113-133 139-151 123-116 139-122 62-47 52-31 25-11 21-6 21-3 25-1 47 7 41 15 46 27 47 37 51 53 103 126 129 144 92 95 31 27 26 21 41 27 41 25 31 16 31 12 36 10 31 4 31 0 26-5 25-10 26-16 26-20 26-25 31-34 25-32 62-89 77-125 57-103 41-86 108-239 119-239 20-32 21-23 20-13 11-3 10 0 16 5 10 9 10 13 10 18 21 50 26 92 20 92 26 129 67 375 36 185 36 166 31 119 26 82 25 63 16 29 15 24 16 20 20 23 26 22 26 18 31 17 36 15 31 10 36 8 98 13 103 6 211 5 638 4" stroke="#FF60A0"/>
<path d="M12795 3732l36 8 67 23 21 4 20 2 21-1 25-4 88-25 36-8 31-2 26 5 15 7 10 8 26 27 31 45 67 113 21 25 15 14 15 10 16 6 36 7 51 0 42-7 36-15 36-21 46-34 46-38 47-47 113-133 134-142 123-112 139-119 62-46 52-30 25-11 21-6 21-4 25-1 47 7 41 15 46 26 41 32 52 51 113 135 129 140 87 86 31 27 26 19 41 26 41 24 31 15 31 11 36 9 31 3 31-1 26-6 25-11 26-16 26-21 26-26 31-35 25-33 62-91 77-129 57-105 41-88 108-244 119-246 20-32 21-24 20-13 11-3 10-1 16 6 10 9 10 14 10 18 21 51 26 94 20 94 26 133 67 383 36 190 36 170 31 122 26 83 25 65 16 29 15 25 16 21 20 23 26 23 26 18 31 17 36 16 31 10 36 8 98 14 103 6 211 5 638 4" stroke="#00C0C0"/>
<path d="M12795 3732l36 8 67 26 21 4 20 2 21 0 25-4 88-24 36-8 31-2 26 5 15 7 10 8 16 14 15 19 26 37 67 111 21 25 15 14 15 9 16 6 36 8 51-1 42-7 36-15 36-20 46-34 46-39 47-47 113-131 129-135 123-108 144-121 62-45 52-30 25-11 21-6 21-4 25 0 47 6 41 14 46 26 41 31 52 50 108 126 129 137 87 85 31 26 26 19 36 23 46 25 31 15 31 11 36 8 31 3 31-2 26-5 25-11 26-16 26-21 26-25 25-29 31-39 62-93 77-130 62-118 41-90 108-249 119-251 20-33 21-24 20-14 11-3 10 0 16 6 10 9 10 13 10 19 21 53 26 96 20 96 26 135 67 392 36 194 36 174 31 125 26 85 25 66 16 30 15 25 16 22 20 24 26 23 26 18 31 18 36 16 31 10 36 9 98 14 103 6 211 5 638 3" stroke="#8060E0"/>
<path d="M12795 3732l36 9 72 29 21 4 20 2 41-5 88-23 36-7 31-2 26 4 15 8 10 7 16 14 15 18 26 37 67 109 21 25 15 13 15 10 16 6 36 7 51-1 42-7 36-14 36-21 41-30 46-38 47-46 118-136 129-132 118-101 149-121 67-48 52-29 26-10 20-5 21-3 20-1 47 6 41 14 46 26 41 30 52 48 113 130 124 128 87 82 31 26 26 18 36 22 46 24 31 13 31 10 36 7 31 2 31-2 26-6 25-11 26-17 26-22 26-26 25-30 31-40 62-95 77-133 62-120 41-92 108-255 119-256 20-34 21-24 20-14 11-4 10 0 16 6 10 10 10 13 10 19 21 54 26 98 20 98 26 139 67 400 36 198 36 178 31 127 26 87 25 67 16 31 15 26 16 22 20 24 26 24 26 18 31 19 36 16 31 11 36 8 98 14 103 6 211 6 638 3" stroke="#A0A040"/>
<path d="M12795 3732l36 10 72 30 21 5 20 2 41-4 93-23 36-7 31-1 21 4 25 14 16 14 15 18 26 35 67 107 21 25 15 14 15 9 16 6 36 7 51 0 42-8 31-12 36-20 41-29 46-37 52-51 118-135 129-129 267-216 67-47 52-29 26-10 20-5 21-3 20-1 47 6 41 14 46 25 41 30 52 47 108 121 124 126 87 81 31 25 26 18 36 21 46 23 36 14 31 10 36 6 31 1 31-3 26-7 25-12 26-17 26-23 26-27 25-31 31-41 62-96 77-136 62-123 41-93 108-260 119-261 20-35 21-25 20-15 11-3 10 0 16 6 10 10 10 14 10 19 21 55 26 100 20 100 26 141 67 408 36 202 36 182 31 129 26 89 25 69 16 31 15 26 16 23 20 24 26 25 26 19 31 18 36 17 31 11 36 8 98 15 103 6 211 6 638 3" stroke="#808080"/>
<path d="M12795 3733l36 10 72 31 21 6 20 2 21 0 26-4 87-22 36-7 31-1 21 4 25 14 16 14 15 17 31 43 62 97 21 25 15 13 26 14 36 8 46 1 46-7 37-13 36-20 36-25 46-38 51-49 124-140 124-122 25-22 247-192 67-46 52-29 26-10 20-5 41-4 47 6 41 13 46 24 41 30 52 46 108 118 124 124 87 78 31 25 26 17 36 20 46 21 36 14 31 8 31 5 31 2 31-4 25-6 26-12 26-17 26-22 25-27 31-38 31-42 62-98 77-139 62-125 41-95 108-265 119-266 20-36 21-25 20-15 11-3 10 0 16 6 10 10 10 14 10 20 21 56 26 102 20 102 26 144 67 415 36 206 36 185 31 132 26 90 25 70 16 32 15 27 16 23 20 25 26 25 26 19 31 19 36 17 31 11 36 9 98 15 103 6 211 6 638 3" stroke="#C08080"/>
<path d="M12795 3733l36 11 72 33 21 5 20 3 21 0 26-4 87-21 36-6 31-2 21 5 25 13 16 14 15 16 31 42 62 96 21 24 15 14 26 13 36 9 46 0 46-7 37-13 36-20 41-29 51-42 41-41 88-100 41-45 113-109 31-26 170-126 83-64 66-45 37-21 36-14 30-8 31-1 47 5 41 13 46 24 41 28 52 46 108 116 124 120 82 73 31 24 26 17 36 19 46 21 36 13 31 8 36 6 31 0 31-4 25-7 26-12 26-18 26-23 25-28 31-38 31-43 62-101 77-141 62-127 41-97 108-270 119-270 20-37 21-25 20-15 11-4 10 0 16 7 10 10 10 14 10 20 21 57 26 104 20 104 26 146 67 423 36 209 36 188 31 135 26 92 25 71 16 33 15 27 16 23 20 26 26 25 26 20 31 19 36 18 31 10 36 9 51 9 47 6 103 7 211 6 638 3" stroke="#70A070"/>
<path d="M12795 3733l36 11 72 35 21 6 20 3 21 0 26-3 92-22 36-6 26 0 26 5 26 16 25 26 31 40 62 95 21 24 15 13 26 14 36 8 46 0 46-6 37-14 36-20 41-29 46-38 46-45 88-100 41-44 108-102 31-26 170-122 93-71 67-44 36-19 31-12 30-7 31-2 47 5 41 12 46 24 41 28 52 44 108 114 118 113 88 75 31 24 26 16 36 19 46 19 36 12 31 8 31 4 31 0 31-4 25-7 26-12 26-17 26-23 25-27 31-39 31-43 62-101 82-152 62-130 41-98 108-274 119-275 20-37 21-27 20-15 11-3 10 0 16 6 10 10 10 15 10 20 21 58 26 106 20 105 26 149 67 430 36 213 36 191 31 137 26 94 25 72 16 33 15 28 16 23 20 26 26 26 26 20 31 20 36 18 31 11 36 9 51 9 47 6 103 7 211 5 638 4" stroke="#60B0E0"/>
<path d="M12795 3734l36 11 72 36 21 6 20 3 21 1 26-3 92-21 36-6 26 0 26 5 26 15 30 32 26 34 62 92 21 24 15 13 26 14 36 8 46 1 46-7 37-14 36-19 41-30 46-37 46-46 88-99 41-44 108-100 31-26 170-118 98-72 62-40 36-19 31-12 30-8 31-2 47 6 41 12 46 23 41 27 52 44 108 111 118 111 88 73 31 23 26 16 36 17 46 18 36 12 31 6 31 3 31 0 31-4 25-8 26-13 26-18 26-23 25-28 31-39 31-44 62-103 82-155 62-131 41-101 108-278 119-280 20-37 21-27 20-15 11-4 10 0 16 7 10 10 10 15 10 21 21 58 26 107 20 108 26 151 67 437 36 216 36 195 31 138 26 96 25 73 16 34 15 28 16 24 20 26 26 26 26 21 31 20 36 18 31 11 36 9 51 10 47 6 103 7 211 5 638 4" stroke="#90B0D0"/>
<path d="M12795 3734l36 12 72 37 21 6 20 4 21 1 26-3 92-20 36-6 26 0 26 5 26 15 25 24 31 40 62 91 21 24 20 16 26 12 36 7 46 0 41-7 37-13 36-20 41-29 46-38 46-45 83-94 41-44 108-99 31-26 170-114 103-74 67-43 36-18 31-12 25-5 31-2 47 5 41 12 46 22 41 27 52 43 108 109 118 108 83 68 31 22 25 16 31 15 47 18 41 13 31 6 36 3 31-1 31-5 25-8 26-13 26-19 26-24 25-29 31-40 31-44 62-105 82-157 62-134 41-102 108-282 119-284 20-38 21-27 20-16 11-3 10-1 16 7 10 11 10 15 10 21 21 60 26 108 20 109 26 154 67 443 36 220 36 197 31 141 26 97 25 74 16 35 15 28 16 24 20 27 26 27 26 20 31 21 36 18 31 11 36 10 51 9 47 7 103 6 211 6 638 4" stroke="#607090"/>
<path d="M12795 3734l36 12 72 39 21 7 20 4 21 1 26-3 92-20 36-5 26-1 26 6 26 14 25 24 31 39 67 96 21 22 15 12 26 11 36 7 46 0 41-7 37-13 36-20 36-25 46-38 46-44 88-99 41-43 108-98 31-24 170-111 108-76 62-39 36-18 31-12 25-5 31-2 47 5 41 11 46 22 41 26 52 42 108 107 118 107 83 66 31 21 25 16 31 14 47 16 41 12 31 6 31 2 30-1 31-5 26-8 26-12 26-18 25-24 26-29 31-39 36-53 62-106 82-160 62-135 41-104 108-287 119-287 20-39 21-27 20-16 11-4 10 0 16 7 10 10 10 16 10 21 21 61 26 110 20 110 26 156 67 450 36 223 36 200 31 143 26 98 25 76 16 34 15 29 16 25 20 27 26 27 26 21 31 21 36 18 31 12 36 9 51 10 47 6 103 7 211 6 638 4" stroke="#000000"/>
<path d="M12795 3734l36 13 72 40 21 7 20 4 21 1 26-2 92-19 36-5 26-1 26 5 26 14 30 30 26 32 67 95 21 21 15 12 26 12 36 7 41-1 41-5 36-12 36-20 36-24 47-37 51-49 83-92 46-49 108-96 31-24 165-103 108-76 72-44 31-15 31-12 25-5 31-2 47 4 41 11 46 22 41 26 52 41 108 105 118 104 83 64 31 21 25 15 31 14 47 15 41 11 31 5 31 2 30-2 31-6 26-8 26-13 26-19 25-24 26-29 31-41 36-54 62-107 82-162 62-138 41-104 108-291 119-292 20-39 21-28 20-16 11-4 10 0 16 7 10 11 10 16 10 21 21 61 26 112 20 112 26 158 67 456 36 226 36 203 31 145 26 99 25 77 16 35 15 30 16 25 20 27 26 27 26 22 31 21 36 18 31 12 36 10 51 10 47 6 103 7 211 6 638 4" stroke="#FF0000"/>
<path d="M12795 3735l36 12 72 42 21 7 25 5 21 1 26-3 87-18 36-5 26 0 26 5 26 14 30 28 26 32 67 93 21 22 15 11 26 12 36 7 41 0 41-6 36-12 36-19 36-25 47-37 51-48 83-93 46-48 46-42 88-73 170-103 108-74 72-44 31-15 31-11 25-6 31-2 47 4 41 12 46 21 41 25 52 40 108 103 113 98 83 63 31 21 25 15 31 14 41 13 42 11 36 6 36 1 30-2 31-7 26-9 26-13 26-19 25-25 26-30 31-41 36-55 62-109 82-164 62-139 41-106 108-295 119-296 20-39 21-28 20-17 11-3 10-1 16 7 10 11 10 16 10 22 21 62 26 113 20 114 26 160 67 462 36 229 36 205 31 147 26 101 25 78 16 35 15 30 16 25 20 28 26 28 26 21 31 22 36 19 31 12 36 9 51 10 47 7 103 7 211 6 638 4" stroke="#0000FF"/>
<path d="M12795 3735l15 4 21 9 72 42 21 8 25 6 21 1 26-3 87-17 36-5 26-1 26 5 26 14 30 28 26 30 67 93 21 21 15 12 26 11 36 7 41 0 41-6 31-10 36-18 36-24 47-36 51-48 88-98 46-47 46-42 88-71 170-99 108-73 77-46 31-15 31-10 26-5 30-2 42 5 41 10 46 21 41 25 52 39 108 102 113 96 83 61 31 20 25 15 31 12 41 13 42 10 36 5 30 1 31-2 31-7 26-8 26-14 25-18 26-24 26-30 31-41 36-54 31-52 31-57 87-177 62-140 41-108 108-298 119-300 20-40 21-28 20-17 11-4 10 0 16 7 10 11 10 16 10 22 21 64 26 114 20 115 26 162 67 468 36 232 36 208 31 149 26 102 25 78 16 37 15 30 16 25 20 29 26 27 26 22 31 22 36 19 31 12 36 10 51 10 47 7 103 7 211 6 638 4" stroke="#FF00FF"/>
<path d="M12795 3735l15 4 21 9 72 44 21 8 25 6 21 1 26-2 87-17 36-5 26-1 26 5 26 13 30 28 31 37 62 84 21 22 15 11 26 12 36 6 41 0 41-5 31-11 36-18 36-24 47-36 51-48 88-97 46-48 46-41 88-69 170-96 113-75 77-45 31-14 26-8 26-5 30-2 42 4 41 11 46 20 41 25 52 38 108 100 113 94 83 60 31 20 25 13 31 12 41 12 42 9 36 5 30 0 31-3 31-7 26-9 26-14 25-19 26-25 31-36 31-43 36-56 62-112 82-169 62-142 41-109 108-302 119-303 20-41 21-28 20-17 11-4 10 0 16 7 10 11 10 17 10 22 21 64 26 116 20 116 26 164 67 473 36 235 36 211 31 150 26 103 25 80 16 37 15 30 16 26 20 29 26 28 26 22 31 22 36 19 31 12 36 10 51 11 47 6 103 8 211 6 638 4" stroke="#008000"/>
<path d="M12795 3735l15 5 21 9 57 36 20 11 21 8 20 4 21 2 26-2 92-18 36-4 26 0 26 6 26 15 25 23 31 37 62 83 21 21 15 11 26 12 36 7 41-1 41-5 31-10 36-19 36-23 47-37 51-47 88-98 46-47 46-40 83-65 175-96 113-74 77-44 31-14 26-8 26-5 30-2 42 4 41 10 46 20 41 24 52 38 108 98 113 92 83 59 31 19 25 13 31 11 41 11 42 8 36 4 30 0 31-4 31-7 26-10 26-14 25-19 26-26 31-37 31-43 36-57 62-113 82-171 62-144 41-110 108-306 119-307 20-41 21-29 20-17 11-4 10 0 16 8 10 11 10 16 10 23 21 64 26 118 20 117 26 166 67 479 36 238 36 213 31 152 26 104 25 81 16 37 15 31 16 26 20 29 26 29 26 22 31 22 36 20 31 12 36 10 51 10 47 7 103 7 211 7 638 4" stroke="#000080"/>
<path d="M12795 3735l15 5 21 10 57 36 20 12 21 8 20 4 21 2 26-2 92-17 36-4 26 0 26 6 26 15 25 23 31 35 62 82 21 21 15 12 26 11 31 6 41 1 41-5 31-9 36-17 36-24 46-35 57-52 88-98 46-46 46-40 83-64 175-92 113-72 82-47 31-13 26-8 26-4 25-1 42 3 41 10 46 20 41 24 52 37 108 96 108 86 77 55 36 22 26 13 31 12 36 9 46 9 36 4 31-1 31-3 31-8 26-9 26-14 25-18 26-25 31-37 31-43 36-56 31-54 31-60 87-183 62-145 41-112 108-309 119-310 20-41 21-30 20-17 11-4 10 0 16 8 10 11 10 17 10 22 21 66 26 118 20 119 26 168 67 484 36 240 36 216 31 154 26 105 25 82 16 37 15 32 16 26 20 29 26 29 26 23 31 22 36 20 31 12 36 10 51 11 47 7 103 7 211 7 638 4" stroke="#8000FF"/>
<path d="M12795 3736l15 4 21 10 57 38 20 11 21 9 20 4 21 2 26-1 92-17 36-4 26 0 26 6 26 14 31 28 25 30 62 81 21 21 15 11 26 11 31 7 41 0 41-5 31-9 36-17 36-23 41-32 57-51 93-102 46-47 46-39 83-62 175-90 118-73 77-44 31-13 26-8 26-4 25-1 42 4 41 9 46 20 41 23 52 37 108 94 108 84 77 54 36 21 26 13 31 11 36 9 46 8 36 3 31-1 31-5 31-7 26-10 26-14 25-20 26-25 31-37 31-44 36-57 62-115 87-185 62-147 41-113 108-312 119-313 20-42 21-30 20-17 11-4 10-1 16 8 10 11 10 17 10 23 21 66 26 120 20 121 26 169 67 490 36 242 36 218 31 156 26 106 25 83 16 38 15 31 16 27 20 30 26 29 26 23 31 22 36 20 31 13 36 10 51 11 47 7 103 7 211 7 638 4" stroke="#A040C0"/>
<path d="M12795 3736l15 5 21 10 57 38 20 12 21 8 20 6 21 2 26-2 92-16 36-4 26 0 26 6 26 14 31 27 25 29 62 80 21 21 15 11 26 12 31 6 41 0 41-5 31-9 36-17 36-23 41-32 57-51 87-96 47-47 46-40 83-61 25-15 52-24 103-51 118-73 77-43 31-13 26-7 26-5 25-1 42 4 41 9 46 19 41 23 52 36 108 92 108 84 77 52 36 21 26 12 31 10 36 8 46 7 36 2 31-1 31-5 31-8 26-10 26-15 25-20 26-25 31-38 31-45 36-58 62-115 87-187 62-149 41-114 108-316 119-316 20-43 21-30 20-17 11-4 10-1 16 8 10 12 10 17 10 23 21 67 26 121 20 121 26 172 67 494 36 246 36 220 31 157 26 108 25 83 16 38 15 32 16 27 20 30 26 30 26 23 31 22 36 21 31 12 36 11 51 11 47 7 103 7 211 7 638 4" stroke="#800000"/>
<path d="M12795 3736l15 5 21 10 57 39 20 13 21 8 20 6 21 2 26-1 92-16 36-4 26 0 26 6 26 13 31 27 25 29 62 79 21 20 15 11 26 12 31 6 41 1 41-5 31-10 36-17 36-23 41-32 57-51 87-96 47-47 51-43 78-56 25-14 52-23 103-49 118-72 83-45 25-11 26-7 26-4 25-2 42 4 36 8 41 15 46 24 57 38 108 91 108 82 77 50 36 21 26 12 26 8 36 8 46 6 36 2 31-1 31-5 31-8 26-10 31-17 25-21 26-26 26-31 31-44 36-58 31-55 36-71 87-189 62-151 41-114 108-319 119-320 20-43 21-30 20-18 11-4 10 0 16 8 10 11 10 17 10 24 21 67 26 123 20 123 26 172 67 500 36 248 36 222 31 159 26 109 25 84 16 39 15 32 16 27 20 30 26 30 26 24 31 22 36 21 31 13 36 10 51 11 47 7 103 8 211 7 638 4" stroke="#808000"/>
<path d="M12795 3736l15 5 21 11 57 40 20 12 21 9 20 6 21 2 26-1 92-15 36-4 26 0 26 6 26 13 31 26 25 28 62 78 21 21 15 11 26 11 31 6 41 1 41-5 31-9 36-18 31-19 41-31 31-26 31-29 87-97 47-46 51-43 78-55 25-14 52-21 103-48 118-70 83-45 25-11 26-7 26-4 25-2 42 3 36 8 41 15 46 24 57 38 108 89 108 80 72 46 36 20 26 13 26 8 36 8 51 6 36 2 31-2 31-6 31-8 26-11 31-18 25-20 26-27 26-32 31-45 36-58 31-56 36-71 87-191 62-152 41-116 108-322 119-323 20-44 21-30 20-18 11-4 10-1 16 8 10 12 10 17 10 24 21 68 26 124 20 124 26 175 67 504 36 250 36 225 31 160 26 110 25 85 16 39 15 33 16 27 20 31 26 30 26 24 31 23 36 21 31 12 36 11 51 11 47 7 103 8 211 7 638 4" stroke="#4070B0"/>
<path d="M12795 3736l15 6 21 10 57 41 20 13 21 9 20 6 21 2 26-1 98-15 36-3 25 0 21 5 26 13 31 26 31 34 56 71 21 20 15 11 26 11 31 7 41 0 41-5 31-9 36-18 31-19 41-31 31-26 31-29 82-91 52-51 51-43 78-54 25-13 52-21 103-46 123-72 83-43 46-16 26-4 25-2 42 3 36 8 41 14 46 23 57 38 108 87 108 79 72 45 36 20 26 11 26 9 31 6 51 5 41 2 31-3 31-6 31-9 26-11 31-18 25-21 26-27 26-33 31-45 36-59 31-56 36-73 87-192 62-154 41-117 108-325 119-326 20-44 21-31 20-18 11-4 10-1 16 8 10 12 10 18 10 24 21 68 26 125 20 126 26 176 67 509 36 253 36 227 31 162 26 111 25 85 16 40 15 33 16 27 20 31 26 31 26 24 31 23 36 21 31 13 36 11 51 11 47 7 103 8 211 7 638 4" stroke="#008080"/>
<path d="M12795 3737l15 5 21 10 57 42 20 13 21 10 20 6 21 2 26 0 98-15 36-4 25 1 21 5 26 13 31 25 31 33 56 70 21 20 15 11 26 12 31 6 41 0 41-5 31-9 31-15 31-18 41-31 62-54 87-96 52-51 51-42 72-50 31-16 57-21 98-42 128-74 78-41 46-15 26-5 25-1 42 3 36 7 41 15 46 22 57 37 108 86 108 77 72 44 36 19 26 11 26 8 31 5 51 5 36 1 31-2 31-6 31-9 26-11 30-18 26-20 26-26 26-32 31-45 36-59 30-56 37-72 87-194 62-153 41-116 113-344 119-329 20-44 21-31 20-19 11-4 10 0 16 8 10 12 10 18 10 24 21 69 26 126 20 127 26 177 67 515 36 255 36 229 31 163 26 112 25 87 16 40 15 33 16 28 20 31 26 31 26 24 31 23 36 21 31 13 36 11 51 11 47 8 103 8 211 6 638 5" stroke="#B07040"/>
<path d="M12795 3737l15 5 21 11 57 42 20 14 21 9 20 7 21 2 26 0 98-14 36-4 25 1 26 7 26 14 31 26 26 27 56 70 21 20 15 11 26 11 31 6 36 1 41-5 31-8 31-14 36-21 36-27 36-29 31-29 87-96 52-50 51-42 72-48 31-16 57-21 98-40 36-19 92-54 78-40 46-16 26-4 25-1 42 2 36 8 41 14 46 22 57 36 108 84 108 76 72 43 36 18 26 11 26 8 31 4 51 4 36 0 31-3 31-6 31-10 26-11 30-18 26-21 26-26 26-33 31-45 36-60 30-56 37-73 87-195 62-155 41-118 113-346 119-333 20-44 21-32 10-11 10-7 11-4 10-1 16 8 10 12 10 18 10 25 21 70 26 127 20 128 26 179 67 519 36 258 36 230 31 165 26 114 25 87 16 40 15 34 16 28 20 31 26 31 26 25 31 23 36 22 31 13 36 11 51 11 47 8 103 7 211 7 638 5" stroke="#20B020"/>
<path d="M12795 3737l15 5 21 11 57 44 20 13 21 10 20 7 26 3 26-1 93-14 36-3 25 1 26 6 26 14 31 26 26 27 61 74 16 14 15 11 26 11 31 6 36 1 41-4 31-9 31-13 36-22 36-26 36-30 31-29 87-95 52-51 51-41 72-47 31-15 57-20 98-39 36-18 128-73 47-22 26-10 20-5 46-5 42 3 36 7 41 14 46 22 57 35 108 83 108 74 72 42 36 18 26 10 26 7 31 4 51 3 36 0 31-4 26-5 31-10 25-11 31-17 26-20 26-26 31-39 31-46 36-60 30-57 37-74 87-197 62-156 41-119 113-350 119-335 20-45 21-32 10-11 10-8 11-4 10 0 16 8 10 12 10 18 10 25 21 71 26 128 20 129 26 181 67 524 36 259 36 233 31 167 26 114 25 88 16 41 15 34 16 28 20 32 26 31 26 25 31 23 36 22 31 14 36 10 51 12 47 7 103 8 211 7 638 5" stroke="#FF60A0"/>
<path d="M12795 3737l15 6 21 11 57 44 20 14 21 10 20 6 26 4 26-1 93-13 36-3 25 1 26 6 26 13 31 25 26 27 61 73 16 14 15 11 26 11 31 6 36 1 41-4 31-9 31-13 36-22 36-26 36-30 31-29 87-95 47-45 51-42 72-47 31-16 113-39 52-21 159-87 47-23 26-9 20-5 46-5 42 2 36 7 41 14 46 21 57 35 108 81 103 69 72 42 62 28 26 7 25 4 52 3 41-1 31-3 31-7 31-10 25-11 31-18 26-21 26-26 31-40 31-46 36-61 30-58 37-74 87-199 62-157 41-120 113-353 119-338 20-46 21-32 10-11 10-8 11-4 10 0 16 8 10 12 10 19 10 24 21 72 26 129 20 130 26 183 67 528 36 262 36 235 31 168 26 116 25 89 16 41 15 34 16 28 20 32 26 32 26 25 31 24 36 22 31 13 36 11 51 12 47 7 103 8 211 7 638 5" stroke="#00C0C0"/>
<path d="M12795 3737l15 6 21 11 57 45 20 14 21 11 20 6 26 4 26 0 98-14 36-3 26 2 20 5 26 14 31 24 26 26 61 72 16 15 15 10 26 12 31 6 36 0 41-4 31-8 31-14 31-18 36-26 41-34 31-28 87-96 47-45 51-41 72-46 31-16 113-37 52-20 165-89 46-21 41-13 46-4 42 2 36 6 41 14 46 21 57 34 108 79 103 68 72 41 62 27 26 7 25 3 52 2 41-1 31-4 31-7 31-11 25-12 31-18 26-21 26-27 31-40 31-47 36-61 30-59 37-75 87-200 62-159 41-121 113-356 119-341 20-46 21-33 10-11 10-8 11-4 10 0 16 8 10 12 10 19 10 25 21 72 26 131 20 131 26 184 67 533 36 264 36 238 31 169 26 116 25 90 16 41 15 35 16 29 20 32 26 32 26 25 31 24 36 22 31 14 36 11 51 11 47 8 103 8 211 7 638 5" stroke="#8060E0"/>
<path d="M12795 3737l15 6 21 12 57 45 20 15 21 10 20 7 26 4 26 0 98-13 36-3 26 2 25 7 26 14 31 26 26 26 51 60 16 16 15 11 21 11 20 6 21 4 26 1 46-4 36-9 36-17 41-26 46-35 42-37 92-101 52-49 51-39 67-43 31-14 67-20 93-33 36-17 159-85 36-14 36-9 47-3 46 4 41 11 52 20 36 18 31 19 113 82 108 69 72 39 36 17 26 9 26 5 25 3 52 0 36-2 31-4 26-6 30-11 26-11 31-19 31-24 26-28 26-33 30-46 36-61 31-58 36-75 88-201 67-173 41-122 113-359 119-344 20-47 21-32 10-11 10-8 11-5 10 0 16 8 10 13 10 18 10 26 21 72 26 132 20 132 26 186 67 538 36 267 36 239 31 171 26 117 25 90 16 42 15 35 16 29 20 32 26 33 26 25 31 24 36 22 31 14 36 11 51 12 47 8 103 8 211 7 638 5" stroke="#A0A040"/>
<path d="M12795 3738l15 5 21 12 57 46 20 15 21 11 26 8 20 3 26 0 98-13 36-2 26 1 25 7 26 14 31 25 26 26 56 65 26 22 21 10 20 7 21 3 26 1 41-3 36-8 36-16 41-25 46-35 42-36 30-32 67-73 47-45 51-40 67-42 36-17 72-20 88-30 36-17 159-84 36-14 36-9 47-3 46 5 41 10 52 19 36 19 31 18 113 80 108 68 67 36 62 25 26 6 25 2 52 1 41-3 31-5 26-7 30-11 26-12 31-18 31-26 26-27 26-34 30-47 36-62 31-58 36-76 88-202 67-175 41-123 113-362 119-347 20-47 21-33 10-11 10-8 11-4 10-1 16 9 10 12 10 19 10 26 21 73 26 133 20 133 26 188 67 542 36 269 36 241 31 172 26 118 25 92 16 42 15 35 16 29 20 33 26 32 26 26 31 24 36 23 31 14 36 11 51 12 47 8 103 8 211 7 638 5" stroke="#808080"/>
<path d="M12795 3738l15 6 21 12 57 47 20 15 21 11 26 8 20 3 26 0 98-12 36-3 26 2 25 7 26 14 31 24 26 26 56 63 26 22 21 11 20 6 21 3 26 1 41-3 36-8 36-16 41-25 46-35 42-36 97-105 47-44 51-40 67-41 36-16 103-29 57-19 41-19 154-80 36-15 31-7 47-4 51 4 41 9 52 20 36 18 31 18 113 78 103 64 72 38 36 15 26 9 26 6 25 2 52-1 41-3 31-6 26-7 30-11 26-13 31-19 31-26 26-28 26-34 30-47 36-63 31-59 36-76 88-205 67-175 41-124 113-366 119-349 20-48 21-33 10-11 10-8 11-5 10 0 16 9 10 12 10 19 10 26 21 74 26 134 20 134 26 189 67 547 36 271 36 243 31 174 26 119 25 92 16 42 15 36 16 29 20 34 26 32 26 26 31 25 36 22 31 14 36 12 51 12 47 7 103 9 211 7 293 4 345 1" stroke="#C08080"/>
<path d="M12795 3738l15 6 21 12 57 48 20 15 21 11 26 9 25 4 26-1 93-11 36-3 26 1 25 7 26 14 31 23 26 26 56 63 26 21 21 11 20 6 21 3 26 1 41-3 36-8 36-15 41-25 46-36 42-36 97-105 47-44 51-39 62-37 41-19 103-27 57-18 41-19 154-79 36-14 31-8 47-4 51 4 41 9 52 19 36 18 31 18 113 77 103 62 72 37 36 15 26 8 26 5 25 2 52-2 36-3 31-6 25-7 31-11 26-12 31-19 31-25 26-27 25-33 36-56 36-63 31-60 36-76 88-207 67-177 41-125 113-368 119-353 20-47 21-34 10-11 10-8 11-5 10 0 16 9 10 12 10 19 10 26 21 75 26 135 20 135 26 191 67 551 36 273 36 246 31 175 26 120 25 93 16 42 15 36 16 30 20 33 26 33 26 26 31 25 36 23 31 14 36 11 51 12 47 8 103 9 211 7 293 3 345 2" stroke="#70A070"/>
<path d="M12795 3738l15 6 21 13 57 48 20 15 21 12 26 9 25 4 26-1 98-11 36-2 26 2 25 8 26 14 31 25 26 25 51 57 26 22 21 10 20 6 21 4 26 1 41-4 36-8 36-15 41-25 46-36 42-36 97-105 47-43 51-39 62-37 41-18 103-25 57-17 41-18 160-81 30-12 31-8 47-4 51 4 41 9 52 19 36 17 31 17 113 76 103 61 72 35 36 15 26 8 26 5 25 1 52-3 36-4 31-6 25-7 31-12 26-12 31-19 31-26 26-27 25-34 36-56 36-64 31-60 36-77 88-208 67-179 41-126 113-371 119-356 20-48 21-33 10-12 10-8 11-5 10 0 16 9 10 13 10 19 10 26 21 75 26 136 20 137 26 192 67 555 36 276 36 247 31 177 26 121 25 93 16 43 15 36 16 30 20 34 26 33 26 26 31 25 36 23 31 14 36 12 51 12 47 8 103 9 211 7 293 3 345 2" stroke="#60B0E0"/>
<path d="M12795 3738l21 9 20 14 52 45 20 16 21 11 26 10 25 4 26-1 98-11 36-2 26 2 25 8 26 14 31 24 26 25 51 57 26 21 21 10 20 7 21 3 26 1 41-3 36-9 36-15 41-25 46-35 42-37 92-99 47-44 51-40 62-36 26-13 20-8 108-24 57-17 36-16 160-80 30-12 31-8 47-4 46 3 41 8 52 18 36 16 36 20 113 74 108 63 67 31 36 14 26 8 26 4 25 1 52-3 36-5 31-6 25-8 31-12 26-13 31-20 31-26 26-28 25-34 36-57 36-64 31-61 36-77 88-210 67-180 41-127 113-374 119-359 20-48 21-34 10-11 10-9 11-4 10 0 16 8 10 13 10 20 10 26 21 75 26 138 20 137 26 194 67 560 36 277 36 249 31 178 26 122 25 95 16 43 15 36 16 31 20 33 26 34 26 26 31 26 36 23 31 14 36 12 51 12 47 8 41 5 62 3 211 8 293 3 345 2" stroke="#90B0D0"/>
<path d="M12795 3739l21 8 20 14 52 46 20 16 21 12 26 10 25 4 26 0 98-11 36-2 26 2 25 7 26 14 31 23 26 25 51 56 26 21 21 11 20 6 21 3 26 1 41-3 36-9 36-15 41-25 46-35 42-37 92-99 47-44 51-39 57-33 31-15 20-7 108-23 57-17 41-17 155-77 30-12 31-8 47-4 46 3 41 8 52 17 36 16 36 20 113 72 103 59 72 33 36 14 26 7 26 4 25 0 52-4 36-5 31-7 25-8 52-23 31-20 31-25 25-27 31-41 36-57 36-65 31-61 36-78 88-212 67-181 41-128 113-377 119-361 20-49 21-34 10-12 10-8 11-5 10 0 16 9 10 13 10 20 10 26 21 76 26 138 20 139 26 195 67 564 36 280 36 251 31 179 26 123 25 95 16 44 15 36 16 31 20 34 26 34 26 26 31 26 36 23 31 15 36 11 51 13 47 8 41 4 62 4 211 8 293 3 345 2" stroke="#607090"/>
<path d="M12795 3739l21 9 20 14 52 46 20 16 21 13 26 9 25 5 26 0 98-11 36-2 26 2 25 7 26 14 31 23 26 24 51 55 26 21 21 11 20 6 21 3 26 1 41-3 36-8 36-16 41-25 46-35 42-36 92-100 47-44 46-35 57-33 30-15 21-8 118-23 52-15 41-17 155-76 30-12 31-8 47-4 46 3 41 8 52 17 36 15 36 19 113 71 103 57 67 31 62 21 25 4 26 1 88-10 31-7 25-8 31-13 26-13 31-20 31-25 25-28 31-41 36-58 36-65 31-62 36-79 88-213 67-183 41-129 113-380 119-363 20-49 21-35 10-12 10-8 11-5 10 0 16 9 10 13 10 20 10 26 21 77 26 139 20 140 26 197 67 568 36 282 36 253 31 180 26 124 25 96 16 44 15 36 16 31 20 35 26 34 26 26 31 26 36 24 31 14 36 12 51 13 47 8 41 4 62 4 211 8 293 3 345 2" stroke="#000000"/>
<path d="M12795 3739l21 9 20 14 52 47 20 17 21 12 26 10 25 4 26 1 98-10 36-2 26 1 25 8 26 13 31 22 26 24 51 55 26 21 21 10 20 6 21 3 26 1 41-3 36-8 36-16 41-25 46-35 42-36 87-94 46-45 52-39 51-30 31-15 26-10 118-21 52-14 41-17 155-75 30-12 31-8 47-4 46 2 41 8 52 17 36 15 36 18 113 70 103 56 67 30 62 20 25 4 26 0 88-11 56-16 31-13 26-14 31-20 31-26 25-28 31-42 36-58 36-66 31-62 36-80 88-215 67-184 41-130 113-382 119-366 20-50 21-34 10-12 10-9 11-4 10-1 16 9 10 13 10 20 10 27 21 77 26 141 20 140 26 198 67 573 36 284 36 254 31 182 26 125 25 96 16 45 15 37 16 31 20 35 26 34 26 26 31 26 36 24 31 15 36 12 51 12 47 8 41 5 62 4 211 8 293 3 345 2" stroke="#FF0000"/>
<path d="M12795 3739l21 9 20 15 52 47 20 17 21 13 26 10 25 4 26 1 103-10 36-2 26 3 26 8 25 14 31 23 26 24 46 49 26 21 21 10 20 6 21 4 26 0 41-3 36-8 36-16 41-24 46-36 42-36 87-94 46-44 47-36 51-30 36-17 26-10 118-19 52-14 46-19 155-74 31-11 25-6 47-4 46 2 41 8 52 16 36 15 36 18 113 68 103 55 67 29 62 19 20 3 26 0 88-11 56-16 31-13 26-14 31-19 31-26 30-33 26-34 36-58 36-66 36-72 31-69 93-228 67-185 41-131 113-385 119-369 20-50 21-35 10-12 10-8 11-5 10 0 16 9 10 13 10 20 10 27 21 78 26 141 20 142 26 199 67 577 36 286 36 256 31 183 26 126 25 97 16 45 15 37 16 31 20 35 26 35 26 27 31 26 36 24 31 14 36 12 51 13 47 8 41 5 62 4 211 8 293 3 345 2" stroke="#0000FF"/>
<path d="M12795 3739l21 10 20 14 52 48 20 17 21 13 26 10 25 5 26 1 103-10 36-2 26 3 26 8 25 14 31 22 26 24 46 48 26 21 21 10 20 7 21 3 26 1 41-4 36-8 36-15 41-25 46-36 42-36 87-94 46-44 47-35 46-27 41-20 26-9 118-18 52-12 46-19 155-73 31-11 25-6 47-5 46 2 41 8 52 16 67 29 118 70 103 54 67 28 62 18 20 3 26 0 88-13 56-17 31-13 26-14 31-20 31-26 30-34 26-34 36-59 36-66 36-73 31-69 93-230 67-186 41-132 113-388 119-372 20-50 21-35 10-12 10-9 11-4 10-1 10 5 6 4 10 14 10 20 10 27 21 79 26 142 20 143 26 200 67 581 36 288 36 258 31 185 26 126 25 98 16 45 15 37 16 32 20 35 26 35 26 27 31 26 36 24 31 15 36 12 51 13 47 8 41 5 62 4 211 8 293 3 345 2" stroke="#FF00FF"/>
<path d="M12795 3739l15 7 21 13 67 62 21 16 20 10 26 9 26 3 36-1 108-10 26 1 25 5 31 14 31 21 26 23 51 53 26 20 21 11 20 6 21 3 26 1 41-4 36-8 36-15 41-25 46-36 42-36 87-94 46-43 47-35 46-27 41-19 26-9 118-16 31-6 26-8 41-16 155-72 31-12 25-6 47-4 46 2 41 7 52 16 67 29 118 68 103 52 67 28 62 17 20 3 26-1 88-14 56-18 52-25 36-23 31-26 30-34 26-36 36-58 36-67 36-74 31-69 93-232 67-188 41-132 113-391 119-374 20-50 21-36 10-12 10-8 11-5 10 0 10 4 6 5 10 13 10 20 10 28 21 79 26 143 20 144 26 202 67 584 36 290 36 260 31 186 26 127 25 98 16 46 15 37 16 32 20 36 26 35 26 27 31 26 36 25 31 15 36 12 51 13 47 8 41 5 62 4 211 8 293 3 345 2" stroke="#008000"/>
<path d="M12795 3739l15 7 16 10 20 17 57 54 21 14 20 10 26 7 26 3 31-1 108-10 26 1 25 5 31 14 31 21 26 22 56 57 26 19 16 7 20 6 21 3 26 1 41-3 36-9 36-15 41-25 46-35 42-37 87-93 41-40 47-35 51-30 41-19 26-8 118-14 31-6 26-7 46-19 150-69 31-11 25-6 47-5 46 2 41 7 52 15 67 29 118 67 103 51 67 26 62 17 20 2 26 0 88-16 56-19 52-25 36-24 31-26 30-35 26-36 36-59 36-67 36-74 31-70 93-233 67-190 41-133 113-393 119-377 20-50 21-36 10-12 10-9 11-5 10 0 10 5 6 4 10 14 10 20 10 28 21 79 26 144 20 145 26 203 67 589 36 291 36 262 31 187 26 128 25 99 16 46 15 38 16 32 20 36 26 35 26 27 31 27 36 24 31 15 36 13 51 12 47 9 41 5 62 4 211 8 293 3 345 2" stroke="#000080"/>
<path d="M12795 3740l15 6 16 10 20 17 57 55 21 14 20 11 26 7 26 3 31-1 108-10 26 1 25 5 31 14 31 20 31 27 51 51 26 19 16 7 20 6 21 3 26 1 41-3 36-9 36-15 41-25 46-35 42-37 87-93 41-39 47-36 46-26 41-19 31-10 118-13 31-5 26-7 46-18 150-69 31-11 25-6 47-4 46 1 41 7 52 15 67 28 118 65 98 48 67 27 62 16 25 3 26-1 82-16 57-18 57-28 36-25 31-27 30-34 26-36 36-60 36-68 36-75 31-70 93-235 67-190 41-135 113-395 119-379 20-51 21-36 10-13 10-8 11-5 10 0 10 4 6 5 10 14 10 20 10 28 21 80 26 145 20 145 26 205 67 592 36 294 36 263 31 188 26 130 25 99 16 46 15 38 16 32 20 36 26 36 26 27 31 27 36 25 31 15 36 12 51 13 47 9 41 5 62 4 211 8 293 3 345 2" stroke="#8000FF"/>
<path d="M12795 3740l15 7 16 10 20 17 57 55 21 15 20 10 26 8 26 2 31 0 108-10 26 1 25 5 31 13 31 20 31 26 51 51 26 19 16 7 20 6 21 3 26 1 41-3 36-8 36-16 41-25 46-35 42-37 87-93 41-39 47-35 46-26 41-19 31-9 118-11 31-5 26-7 46-18 155-70 26-9 25-6 47-4 46 1 41 7 47 13 36 13 36 16 118 64 98 47 67 25 62 17 20 2 26-1 82-16 57-18 56-28 37-24 30-27 31-33 26-35 36-59 36-68 36-74 36-82 93-236 67-192 41-135 113-398 119-382 20-51 21-36 10-12 10-9 11-5 10 0 10 4 6 5 10 14 10 20 10 28 21 81 26 146 20 146 26 206 67 596 36 296 36 265 31 189 26 130 25 100 16 46 15 39 16 32 20 36 26 36 26 27 31 28 36 24 31 16 36 12 51 13 47 9 41 4 62 5 211 7 293 4 345 2" stroke="#A040C0"/>
<path d="M12795 3740l15 7 21 14 72 69 21 15 20 11 26 7 26 3 31-1 108-8 26 0 25 5 31 13 36 23 26 22 51 51 26 18 16 7 20 6 21 4 26 0 41-3 36-8 36-16 41-25 41-31 41-36 31-30 62-68 41-39 47-34 46-26 41-18 31-9 118-10 31-4 26-7 52-19 149-67 26-9 25-6 47-5 46 1 41 7 47 12 36 13 36 16 118 63 98 46 67 24 62 16 20 2 26-2 82-17 57-19 56-28 37-25 30-27 31-34 26-35 36-60 36-67 36-75 36-83 93-237 67-193 41-136 113-401 119-383 20-52 21-36 10-13 10-9 11-5 10 0 10 5 6 4 10 14 10 21 10 28 21 81 26 147 20 147 26 208 67 599 36 297 36 267 31 190 26 131 25 101 16 46 15 39 16 33 20 36 26 36 26 28 31 27 36 25 31 15 36 13 51 13 47 8 41 5 62 4 211 8 293 4 345 2" stroke="#800000"/>
<path d="M12795 3740l15 7 21 14 72 70 21 15 20 11 26 8 26 3 36-1 103-8 26 0 25 5 31 13 36 22 26 22 51 50 26 18 21 9 20 6 21 2 26 0 41-4 36-9 36-16 36-22 46-36 42-36 82-89 41-39 46-35 47-27 46-20 31-8 118-8 31-5 26-6 52-19 149-66 46-14 46-6 47 1 41 6 52 13 36 13 36 15 118 61 98 45 67 24 62 15 20 2 26-2 82-18 57-20 56-29 37-25 30-27 31-35 26-36 36-60 36-68 36-75 36-83 93-239 67-194 41-137 113-403 119-386 20-52 21-37 10-12 10-9 11-5 10 0 10 5 6 4 10 14 10 21 10 28 21 82 26 147 20 149 26 208 67 603 36 299 36 268 31 192 26 131 25 102 16 47 15 38 16 33 20 37 26 36 26 28 31 27 36 25 31 16 36 12 51 14 47 8 41 5 62 4 211 8 293 4 345 2" stroke="#808000"/>
<path d="M12795 3740l21 10 20 16 52 52 20 19 21 14 20 9 26 7 26 3 134-9 26 0 25 5 31 12 36 23 26 21 51 49 26 19 21 9 20 5 21 2 26 1 41-4 36-10 36-16 36-22 41-32 41-35 31-31 62-68 36-34 46-35 47-26 46-19 31-8 118-7 31-4 26-6 52-19 149-65 46-14 46-6 47 1 41 5 52 13 36 13 36 15 118 60 98 44 67 23 62 14 20 1 26-2 82-19 57-20 51-27 36-25 36-31 31-35 26-36 31-51 36-68 36-75 36-82 93-239 41-116 31-93 41-138 113-405 119-388 20-52 21-37 10-13 10-9 11-5 10 0 10 5 6 4 10 14 10 21 10 29 21 82 26 148 20 149 26 210 67 607 36 300 36 270 31 193 26 132 25 102 16 47 15 39 16 33 20 37 26 36 26 28 31 28 36 25 31 16 36 12 51 13 47 9 41 5 62 4 211 8 293 4 345 2" stroke="#4070B0"/>
<path d="M12795 3740l21 10 20 16 52 53 20 19 21 14 20 10 26 7 26 2 139-8 26 1 25 5 31 13 31 20 26 20 51 49 26 19 21 9 20 5 21 3 26 0 41-4 36-10 36-16 36-22 41-31 41-36 31-31 57-62 41-39 46-35 47-26 46-19 31-8 118-5 31-3 26-6 52-19 149-65 46-14 46-5 47 0 41 6 46 11 42 14 36 14 118 59 98 43 67 23 62 13 20 1 26-2 77-19 57-20 56-30 36-25 36-32 31-35 26-36 31-52 36-68 36-75 36-84 93-240 41-116 31-94 41-138 113-408 119-390 20-53 21-37 10-12 10-9 11-5 10-1 10 5 6 5 10 14 10 21 10 29 21 82 26 149 20 150 26 211 67 610 36 302 36 272 31 194 26 132 25 103 16 47 15 39 16 34 20 37 26 36 26 29 31 27 36 26 31 15 36 13 51 13 47 9 41 5 62 4 211 8 293 4 345 2" stroke="#008080"/>
<path d="M12795 3740l21 11 20 16 52 53 20 19 21 14 20 10 26 8 26 2 139-8 26 1 25 5 31 13 31 19 31 25 46 44 26 18 21 9 20 5 21 3 26 0 41-4 36-10 36-16 36-22 41-31 41-36 31-31 57-62 41-39 41-31 47-27 46-19 31-8 20-2 52 0 51-3 31-3 26-5 57-21 144-62 46-14 46-6 47 1 41 5 46 11 42 13 36 15 118 58 98 42 62 20 61 13 26 2 21-2 72-17 62-22 56-30 36-24 36-31 31-34 26-36 36-59 36-69 36-76 36-84 93-241 41-117 31-94 41-140 113-409 119-393 20-52 21-38 10-12 10-9 11-5 10-1 10 5 6 5 10 14 10 21 10 29 21 83 26 150 20 151 26 212 67 613 36 304 36 272 31 195 26 134 25 103 16 48 15 39 16 34 20 37 26 36 26 29 31 28 36 25 31 16 36 13 51 13 47 9 41 5 62 4 211 8 293 4 345 2" stroke="#B07040"/>
<path d="M12795 3741l21 10 20 16 52 54 20 19 21 14 20 11 26 7 26 2 31 0 108-8 26 2 25 5 31 12 36 22 26 21 46 44 26 18 21 9 20 5 21 3 26 0 41-4 36-10 36-16 36-22 41-31 41-36 31-31 57-62 41-39 41-31 47-26 46-19 31-8 20-2 52 1 51-2 31-3 26-5 57-20 144-62 46-13 46-6 47 0 41 5 46 11 42 13 36 14 118 57 98 41 62 20 61 13 26 1 21-2 72-19 62-22 56-30 36-25 36-32 31-34 26-36 36-60 36-69 36-76 36-84 93-243 41-117 31-96 41-140 113-411 119-395 20-53 21-37 10-13 10-9 11-5 10 0 10 4 6 5 10 14 10 22 10 29 21 83 26 151 20 151 26 214 67 616 36 305 36 274 31 196 26 135 25 103 16 48 15 40 16 33 20 38 26 36 26 29 31 28 36 26 31 16 36 12 51 14 47 9 41 5 62 4 211 8 293 4 345 2" stroke="#20B020"/>
<path d="M12795 3741l21 10 20 16 52 54 20 20 21 14 20 11 26 7 26 3 31 0 108-8 26 1 25 5 31 13 36 21 26 21 46 43 26 18 21 9 20 5 21 3 26 0 41-4 36-9 36-17 36-22 41-31 41-36 31-31 57-62 41-39 41-30 47-27 46-18 31-7 20-2 52 2 51-2 31-2 26-5 57-20 149-63 41-12 46-6 47 0 41 5 46 11 42 13 36 14 118 55 98 40 62 20 61 12 26 1 21-2 72-20 62-23 56-31 36-25 36-32 31-35 26-36 36-60 36-70 36-76 36-85 93-244 41-118 31-96 41-140 113-414 119-397 20-53 21-37 10-13 10-9 11-5 10-1 10 5 6 5 10 14 10 22 10 29 21 83 26 152 20 152 26 215 67 619 36 307 36 275 31 197 26 135 25 105 16 48 15 39 16 34 20 38 26 37 26 29 31 28 36 25 31 16 36 13 51 14 47 9 41 5 62 4 211 8 293 4 345 2" stroke="#FF60A0"/>
<path d="M12795 3741l21 10 20 17 52 54 20 20 21 14 20 11 26 8 26 2 31 0 108-7 26 1 25 5 31 12 36 21 26 20 46 43 26 19 21 8 20 6 21 2 26 0 41-4 36-9 36-17 36-22 41-31 41-36 31-31 57-62 41-38 41-31 47-26 46-17 31-8 20-1 52 2 51-1 31-2 26-5 62-21 144-61 41-12 46-5 47 0 41 4 46 11 42 12 36 14 118 55 98 39 62 18 61 12 26 1 21-3 67-18 61-24 57-30 41-29 36-32 31-35 26-36 31-52 36-69 36-76 36-84 46-118 52-140 41-118 31-96 41-142 113-416 119-398 20-53 21-38 10-13 10-9 11-5 10-1 10 5 6 5 10 14 10 22 10 29 21 84 26 153 20 153 26 215 67 622 36 309 36 277 31 197 26 136 25 105 16 48 15 40 16 34 20 38 26 37 26 29 31 28 36 26 31 16 36 13 51 14 47 8 41 6 62 4 211 8 293 4 345 2" stroke="#00C0C0"/>
<path d="M12795 3741l21 11 20 16 52 55 20 19 21 15 20 11 26 8 26 3 31 0 108-7 26 1 25 5 31 11 36 21 26 20 52 47 20 14 21 9 20 5 21 2 26 0 41-4 36-9 36-16 36-23 41-31 41-36 31-31 57-62 36-34 46-35 47-25 46-17 31-7 20-1 52 2 51 0 31-2 26-5 62-20 144-61 41-12 46-5 47 0 41 4 46 10 42 13 36 13 118 54 98 38 62 18 61 11 26 1 21-3 67-19 61-24 57-31 41-30 36-32 31-36 26-36 36-62 36-70 36-77 36-86 93-246 41-119 31-97 41-142 113-418 119-400 20-54 21-38 10-13 10-9 11-5 10 0 10 5 6 4 10 15 10 21 10 30 21 84 26 153 20 154 26 217 67 625 36 310 36 278 31 199 26 136 25 105 16 49 15 40 16 34 20 38 26 37 26 29 31 29 36 26 31 16 36 13 51 13 47 9 41 5 62 5 211 8 293 4 345 2" stroke="#8060E0"/>
<path d="M12795 3741l21 11 20 16 52 56 20 19 21 16 20 10 26 8 26 3 36 0 103-7 26 1 25 5 36 14 31 18 26 20 52 46 25 17 16 6 20 5 21 2 26 1 41-5 31-7 36-16 36-21 41-31 46-40 31-31 57-61 41-39 41-30 47-25 41-16 36-8 20-1 52 3 51 1 31-2 26-5 62-20 144-60 41-12 46-5 47 0 41 4 46 10 42 12 36 13 118 53 98 37 62 18 61 10 26 0 21-2 67-21 61-24 57-32 41-29 36-33 31-36 26-37 36-62 36-70 36-78 36-86 93-247 41-120 31-97 41-143 113-420 119-402 20-54 21-38 10-13 10-9 11-5 10-1 10 5 6 5 10 15 10 21 10 30 21 85 26 154 20 154 26 217 67 629 36 311 36 279 31 200 26 137 25 105 16 49 15 41 16 34 20 38 26 37 26 30 31 28 36 26 31 16 36 14 51 13 47 9 41 5 62 5 211 8 293 4 345 2" stroke="#A0A040"/>
<path d="M12795 3741l21 11 20 17 52 55 20 20 21 16 20 11 26 8 26 3 36-1 103-6 26 1 25 5 36 13 31 18 26 19 52 46 25 17 16 6 20 5 21 2 26 1 41-5 31-7 36-16 36-21 41-31 46-40 31-31 57-61 36-34 46-35 47-25 41-15 36-8 20 0 52 3 51 1 31-1 26-4 31-9 36-13 139-58 41-12 46-5 47-1 41 5 46 10 42 11 36 13 118 52 93 35 61 17 62 11 21 1 20-2 52-14 77-29 31-15 31-18 41-30 36-32 31-34 26-36 31-52 36-69 41-87 36-85 46-120 52-142 41-120 31-97 41-144 113-421 119-404 20-54 21-39 10-13 10-9 11-5 10-1 10 5 6 5 10 15 10 22 10 29 21 85 26 155 20 155 26 218 67 631 36 313 36 281 31 200 26 138 25 106 16 49 15 40 16 35 20 38 26 38 26 29 31 29 36 26 31 16 36 13 51 14 47 9 41 5 62 5 211 8 293 4 345 2" stroke="#808080"/>
<path d="M12795 3741l21 11 20 17 57 62 20 18 21 15 21 10 25 7 26 2 134-6 26 1 25 4 36 13 31 17 26 20 52 45 25 17 16 6 20 5 21 3 26 0 41-4 31-8 36-15 36-22 41-30 46-40 31-31 57-62 36-34 46-34 47-25 41-15 36-7 20-1 52 4 51 2 31-1 26-4 31-9 36-13 139-57 41-12 41-5 47-1 41 4 46 9 41 11 36 12 124 53 93 34 61 17 62 10 21 1 20-2 52-15 77-29 31-16 31-19 41-29 36-33 31-35 26-36 31-51 36-70 41-88 36-85 46-121 52-142 41-120 31-98 41-144 113-424 119-405 20-55 21-38 10-13 10-10 11-5 10 0 10 5 6 5 10 14 10 22 10 30 21 85 26 156 20 155 26 220 67 633 36 314 36 282 31 202 26 138 25 106 16 49 15 41 16 35 20 38 26 38 26 30 31 28 36 27 31 16 36 13 51 14 47 9 41 5 62 5 211 8 293 4 345 2" stroke="#C08080"/>
<path d="M12795 3741l21 11 20 17 57 62 20 19 21 15 21 10 25 7 26 3 139-7 26 2 26 5 36 14 31 18 25 19 47 42 25 16 16 6 20 5 21 3 26 0 41-4 31-8 36-15 36-22 41-30 46-40 31-31 57-62 36-34 41-31 46-25 47-17 36-7 20 0 52 4 51 3 31-2 26-3 52-16 77-29 72-31 46-14 41-5 47-2 41 4 46 9 77 23 124 52 93 33 61 17 62 9 21 1 20-2 52-15 77-31 31-16 31-19 41-30 36-32 31-36 26-36 36-61 36-71 36-78 36-86 46-121 52-143 41-121 31-98 41-145 113-425 119-407 20-55 21-38 10-14 10-9 11-5 10 0 10 5 6 4 10 15 10 22 10 30 21 86 26 156 20 156 26 220 67 637 36 315 36 283 31 202 26 139 25 107 16 49 15 41 16 35 20 38 26 38 26 30 31 29 36 26 31 17 36 13 51 14 47 9 41 5 62 4 211 9 293 4 345 2" stroke="#70A070"/>
<path d="M12795 3741l21 11 20 17 57 63 20 19 21 15 21 10 25 7 26 3 139-6 26 1 26 5 36 14 31 17 25 20 47 41 25 16 16 6 20 5 21 3 26 0 36-3 31-7 31-12 36-20 41-29 46-39 36-35 67-72 52-45 30-21 31-16 36-14 36-10 31-2 62 6 52 2 46-4 31-7 36-12 159-64 42-9 46-4 36 0 31 4 72 15 62 20 108 45 93 33 61 16 62 10 21 1 20-2 41-10 88-35 31-16 31-18 41-30 36-32 31-34 31-43 36-62 36-71 36-78 36-86 46-122 52-143 41-122 31-99 41-145 113-427 119-409 20-55 21-38 10-14 10-9 11-5 10-1 10 6 6 4 10 15 10 22 10 30 21 86 26 157 20 157 26 221 67 639 36 317 36 284 31 203 26 139 25 107 16 50 15 41 16 35 20 39 26 38 26 29 31 30 36 26 31 16 36 14 51 14 47 9 41 5 62 4 211 9 293 4 345 2" stroke="#60B0E0"/>
<path d="M12795 3741l21 12 20 17 57 63 20 19 21 15 21 10 25 7 26 3 31 0 108-6 26 2 26 4 36 14 31 17 25 19 47 41 25 16 16 6 20 5 21 3 26 0 36-3 31-7 31-12 36-20 41-29 46-39 36-35 67-72 26-24 26-21 30-20 31-17 31-12 36-10 36-3 62 7 52 2 46-3 31-7 36-12 159-63 42-9 46-4 36 0 31 3 72 15 57 18 113 45 93 33 61 16 62 9 21 1 20-2 41-11 88-35 31-16 31-19 41-30 36-32 31-35 31-43 36-62 36-72 36-78 36-87 46-122 52-144 41-122 31-99 41-146 113-428 119-411 20-55 21-39 10-13 10-10 11-5 10 0 10 5 6 5 10 15 10 22 10 30 21 86 26 157 20 158 26 222 67 641 36 318 36 285 31 204 26 140 25 108 16 50 15 41 16 35 20 39 26 38 26 30 31 29 36 27 31 16 36 14 51 14 47 9 41 5 62 4 211 9 293 4 345 2" stroke="#90B0D0"/>
<path d="M12795 3742l21 11 20 17 57 63 20 20 21 15 21 10 25 8 26 2 31 0 108-5 26 1 26 5 36 13 31 17 25 19 47 40 25 16 16 6 20 6 21 2 26 0 36-3 31-7 31-12 36-20 41-29 46-39 36-35 67-72 26-24 26-20 30-21 31-16 31-12 36-10 36-3 62 8 52 3 46-3 31-7 36-12 67-25 72-31 26-8 51-10 62-2 62 7 72 18 46 16 118 47 98 32 62 12 57 5 20-2 21-5 67-24 51-24 52-30 41-30 36-33 31-35 31-43 36-63 36-71 36-79 36-87 46-123 52-144 41-123 31-99 41-147 113-430 119-412 20-55 21-39 10-14 10-9 11-5 10-1 10 5 6 5 10 15 10 22 10 31 21 86 26 158 20 158 26 223 67 644 36 319 36 286 31 205 26 140 25 109 16 49 15 42 16 35 20 39 26 38 26 30 31 30 36 26 31 17 36 13 51 14 47 10 41 5 62 4 211 9 293 4 345 2" stroke="#607090"/>
<path d="M12795 3742l21 11 20 17 57 64 20 20 21 14 21 11 25 8 26 2 31 1 108-6 26 1 26 5 36 13 31 16 25 19 47 40 25 17 16 6 20 5 21 2 26 0 36-3 31-7 31-12 36-20 41-29 46-39 36-35 67-72 46-40 31-21 36-20 31-11 36-10 36-2 62 7 52 4 46-2 31-7 36-12 67-25 72-30 31-10 51-9 57-2 62 7 72 18 46 15 118 46 98 32 62 12 57 4 20-2 21-5 56-21 57-25 52-30 41-30 36-32 31-34 31-42 31-52 36-70 41-89 36-86 41-108 51-143 42-121 36-114 46-164 113-432 119-414 20-55 21-40 10-13 10-10 11-5 10 0 10 5 6 5 10 15 10 22 10 31 21 87 26 158 20 159 26 223 67 647 36 320 36 287 31 206 26 141 25 108 16 50 15 42 16 35 20 39 26 39 26 30 31 29 36 27 31 17 36 13 51 14 47 9 41 6 62 4 211 9 293 4 345 2" stroke="#000000"/>
<path d="M12795 3742l21 11 20 18 57 64 20 19 21 15 21 11 25 8 26 3 31 0 108-6 26 2 26 4 36 13 31 16 25 19 47 39 25 17 16 6 20 5 21 2 26 0 36-3 31-7 31-12 36-19 41-30 46-39 36-35 67-72 46-40 31-21 31-17 31-12 36-10 36-3 108 12 31 1 26-3 31-7 41-13 62-23 72-30 31-10 51-9 57-1 62 7 72 17 46 15 118 45 98 30 62 12 57 4 20-2 21-5 56-22 57-26 52-30 46-35 36-33 31-35 31-44 36-63 36-73 36-79 36-88 46-123 52-146 41-123 31-101 41-147 113-433 119-415 20-56 21-40 10-13 10-10 11-5 10 0 10 5 6 5 10 15 10 22 10 31 21 87 26 159 20 159 26 225 67 648 36 322 36 288 31 206 26 142 25 109 16 50 15 42 16 35 20 40 26 38 26 30 31 30 36 27 31 16 36 14 51 14 47 9 41 6 62 4 211 9 293 4 345 2" stroke="#FF0000"/>
<path d="M12795 3742l21 11 20 18 57 64 20 20 21 15 21 11 25 8 26 3 36 0 103-5 26 1 26 4 36 13 31 16 25 18 47 40 25 16 16 6 20 5 21 2 26 1 36-4 31-7 31-12 36-19 41-30 46-38 36-36 67-72 46-40 31-21 31-16 31-12 36-10 36-3 108 13 31 1 26-2 31-7 41-13 62-22 72-31 31-10 51-8 62-2 57 7 72 16 46 15 118 45 93 28 62 12 57 4 36-5 51-18 67-30 57-34 46-35 36-33 31-36 31-44 36-63 36-73 36-80 36-88 46-124 52-146 41-124 31-101 41-148 113-434 119-417 20-56 21-39 10-14 10-10 11-5 10 0 10 5 6 5 10 15 10 23 10 30 21 88 26 159 20 160 26 226 67 650 36 323 36 289 31 207 26 142 25 110 16 50 15 42 16 35 20 40 26 39 26 30 31 30 36 27 31 16 36 14 51 14 47 9 41 6 62 4 211 9 293 4 345 2" stroke="#0000FF"/>
<path d="M12795 3742l21 11 20 18 57 65 20 20 21 15 21 11 25 8 26 3 36 0 108-5 26 2 26 5 36 13 31 17 25 18 42 36 25 16 16 6 20 5 21 2 26 1 36-4 31-7 31-12 36-19 41-30 46-38 36-35 67-73 46-40 31-20 31-17 31-12 31-8 21-3 20-1 108 14 31 1 26-2 31-6 41-13 62-22 72-31 31-10 51-8 62-2 57 6 72 17 46 15 118 43 93 28 62 12 57 3 36-5 41-15 72-32 56-33 47-34 36-33 31-35 31-43 31-52 36-71 41-90 36-87 41-109 57-160 41-123 31-100 46-166 113-436 119-418 20-56 21-40 10-14 10-9 11-6 10 0 10 5 6 5 10 15 10 23 10 31 21 88 26 160 20 160 26 226 67 653 36 324 36 290 31 208 26 142 25 110 16 51 15 42 16 36 20 39 26 39 26 30 31 30 36 27 31 17 36 14 51 14 47 9 41 6 62 4 211 9 293 4 345 2" stroke="#FF00FF"/>
<path d="M12795 3742l21 12 20 17 57 65 20 21 21 15 21 11 25 8 26 3 36 0 108-5 26 2 26 5 36 13 31 16 25 19 42 35 25 16 16 6 20 5 21 3 26 0 36-4 31-7 31-12 36-19 41-29 46-39 36-35 67-72 46-40 31-21 31-16 31-12 31-8 21-3 20-1 108 15 31 2 26-2 31-7 41-12 62-22 72-30 31-10 51-9 62-2 57 6 72 16 46 15 118 43 93 27 62 11 57 3 36-5 41-15 72-33 56-34 47-34 36-33 31-35 31-43 31-53 36-71 41-90 36-88 41-109 57-161 41-124 31-100 46-166 113-438 119-419 20-57 21-40 10-13 10-10 11-5 10 0 10 5 6 5 10 15 10 23 10 30 21 89 26 160 20 161 26 227 67 655 36 325 36 292 31 208 26 143 25 110 16 51 15 42 16 36 20 39 26 39 26 31 31 30 36 27 31 17 36 13 51 15 47 9 41 5 62 5 211 9 293 4 345 2" stroke="#008000"/>
<path d="M12795 3742l21 12 20 17 57 66 20 20 21 16 21 11 25 8 31 3 139-4 26 1 26 5 36 12 31 17 25 18 42 35 25 16 16 6 20 5 21 3 26 0 36-4 31-7 31-12 36-19 41-29 46-39 36-35 67-72 46-40 31-21 31-16 31-11 31-8 21-3 20-1 108 16 31 2 26-2 31-6 46-14 62-22 67-28 31-10 51-9 62-2 57 6 72 16 46 14 118 42 93 27 62 11 57 3 36-6 41-16 72-33 56-34 47-35 36-34 31-35 31-43 31-53 36-71 41-91 36-88 41-110 57-161 41-124 31-100 46-167 113-439 119-421 20-57 21-40 10-14 10-9 11-5 10-1 10 5 6 5 10 16 10 22 10 31 21 89 26 161 20 162 26 227 67 658 36 325 36 293 31 209 26 143 25 111 16 51 15 42 16 36 20 40 26 39 26 31 31 30 36 27 31 17 36 13 51 15 47 9 41 5 62 5 211 9 293 4 345 2" stroke="#000080"/>
<path d="M12795 3742l21 12 20 18 57 66 20 20 21 16 26 13 25 7 26 2 139-4 26 1 26 5 36 12 31 16 25 18 42 35 25 16 16 6 20 5 21 3 26 0 36-4 31-7 31-11 36-20 41-29 46-39 36-35 62-67 46-41 31-21 31-17 31-12 31-8 26-4 20 0 113 17 31 1 26-2 36-8 46-15 52-18 67-28 31-10 51-9 62-2 57 6 72 16 46 13 118 42 93 26 62 10 57 3 30-5 42-15 72-34 56-33 47-35 41-38 31-35 31-44 31-53 36-71 41-92 36-88 41-110 57-161 41-125 31-101 46-167 113-441 119-422 20-57 21-40 10-14 10-9 11-6 10 0 10 5 6 5 10 15 10 23 10 31 21 89 26 162 20 162 26 228 67 660 36 327 36 293 31 210 26 144 25 110 16 52 15 42 16 36 20 40 26 39 26 31 31 30 36 28 31 16 36 14 51 15 47 9 41 5 62 5 211 9 293 4 345 2" stroke="#8000FF"/>
<path d="M12795 3742l21 12 20 18 57 66 20 21 21 15 26 14 25 7 26 3 139-5 26 2 26 4 36 12 31 16 25 18 42 34 25 16 16 6 20 5 21 3 26 0 36-4 31-6 31-12 36-20 41-29 46-39 36-35 62-67 46-41 31-21 31-17 31-12 31-8 26-3 20 0 113 18 31 1 26-2 36-8 46-14 52-19 67-27 31-10 51-9 62-2 57 6 72 15 46 14 113 39 93 25 62 11 56 3 36-5 36-14 78-36 56-34 47-35 41-38 31-35 31-44 31-54 36-72 41-91 36-88 41-111 57-162 41-125 31-101 46-168 113-442 119-424 20-57 21-40 10-14 10-9 11-6 10 0 10 5 6 5 10 15 10 23 10 31 21 90 26 162 20 162 26 229 67 662 36 328 36 294 31 211 26 144 25 111 16 52 15 42 16 36 20 40 26 40 26 31 31 30 36 27 31 17 36 14 51 14 47 10 41 5 62 5 211 9 293 4 345 2" stroke="#A040C0"/>
<path d="M12795 3742l21 12 20 18 57 67 20 20 21 16 26 14 25 7 26 3 139-5 26 2 26 4 36 12 31 15 25 18 42 35 25 16 16 6 20 5 21 2 26 0 41-4 31-8 31-13 36-20 41-30 46-40 31-30 62-67 46-41 31-21 31-16 26-11 31-8 25-4 21-1 118 20 31 1 26-1 36-8 52-16 46-17 67-27 31-10 51-9 62-2 57 5 72 15 46 14 113 38 93 25 62 10 56 3 36-5 36-14 78-37 56-34 47-36 41-38 31-36 31-44 31-53 36-73 41-91 36-89 41-111 57-163 41-125 31-101 46-169 113-443 119-425 20-57 21-41 10-14 10-9 11-6 10 0 10 5 6 5 10 16 10 23 10 31 21 89 26 163 20 163 26 230 67 664 36 329 36 295 31 211 26 144 25 112 16 52 15 42 16 36 20 41 26 39 26 31 31 31 36 27 31 17 36 14 51 14 47 10 41 5 62 5 211 9 293 4 345 2" stroke="#800000"/>
<path d="M12795 3742l21 12 20 18 57 67 20 21 21 16 26 14 25 7 26 3 144-4 26 2 26 5 31 10 31 15 25 17 47 39 20 12 16 6 20 5 21 2 26 0 36-3 31-7 31-12 36-20 41-29 46-39 36-35 62-67 46-41 31-21 31-16 26-10 31-8 25-4 21-1 118 21 31 2 26-2 36-8 52-16 46-16 67-27 31-10 51-9 62-2 57 5 72 15 46 13 113 37 93 25 62 10 56 2 36-6 36-13 78-38 56-35 47-35 41-39 31-36 31-44 31-54 36-73 41-92 36-89 41-111 57-163 41-126 31-102 46-169 113-444 119-427 20-57 21-40 10-14 10-10 11-5 10-1 10 5 6 5 10 16 10 23 10 31 21 90 26 163 20 164 26 230 67 666 36 330 36 296 31 212 26 145 25 112 16 52 15 42 16 37 20 40 26 40 26 31 31 30 36 28 31 17 36 14 51 14 47 10 41 5 62 5 211 9 293 4 345 2" stroke="#808000"/>
<path d="M12795 3743l21 11 20 19 57 67 20 21 21 16 26 13 25 8 26 3 31 0 113-4 26 2 26 5 31 9 31 15 25 18 47 38 20 12 16 6 20 5 21 2 26 0 36-3 31-7 31-12 36-20 41-29 46-39 36-35 62-67 46-40 31-21 31-17 26-9 31-8 25-4 21-1 118 22 31 2 26-2 36-7 57-18 46-16 62-26 31-10 51-8 62-3 57 6 72 14 46 13 113 37 93 24 62 9 56 2 31-4 36-14 78-37 56-35 46-35 42-38 31-35 30-42 37-63 36-73 41-92 36-89 41-112 57-164 41-126 31-102 46-169 113-446 119-428 20-57 21-41 10-14 10-10 11-5 10 0 10 5 6 5 10 15 10 23 10 32 21 90 26 164 20 164 26 231 67 668 36 331 36 297 31 212 26 145 25 113 16 52 15 43 16 36 20 40 26 40 26 31 31 31 36 28 31 17 36 13 51 15 47 10 41 5 62 5 211 9 293 4 345 2" stroke="#4070B0"/>
<path d="M12795 3743l21 11 20 19 57 67 20 21 21 16 26 14 25 8 26 3 31 0 113-4 26 2 26 4 31 10 31 15 25 17 47 38 20 12 16 6 20 5 21 2 26 0 41-4 31-8 31-13 36-20 41-30 46-40 31-30 62-67 41-36 31-22 31-17 26-10 31-9 30-4 21-1 118 22 31 3 26-2 36-7 57-17 46-16 62-26 31-10 51-9 62-2 57 5 72 14 46 13 113 36 93 24 57 8 56 3 31-4 36-13 83-40 56-35 46-35 42-39 31-35 30-43 37-62 36-74 41-92 36-90 41-112 57-164 41-127 31-102 46-170 113-447 119-429 20-58 21-40 10-14 10-10 11-6 10 0 10 5 6 5 10 16 10 23 10 32 21 90 26 164 20 165 26 231 67 670 36 332 36 298 31 213 26 146 25 113 16 52 15 43 16 36 20 41 26 40 26 31 31 31 36 27 31 17 36 14 51 15 47 10 41 5 62 5 211 9 293 4 345 1" stroke="#008080"/>
<path d="M12795 3743l21 12 20 18 57 68 20 21 21 16 26 14 25 8 26 3 36 0 108-4 26 2 26 4 31 10 31 14 25 17 47 38 20 12 16 6 20 5 21 2 26 0 36-3 31-7 31-12 36-20 41-29 46-39 36-35 62-67 41-36 31-22 31-16 26-11 31-8 30-5 21 0 118 23 31 3 26-2 36-7 57-17 46-16 67-27 26-8 51-9 62-2 57 5 72 14 46 12 113 36 93 23 57 8 56 2 31-4 36-13 83-41 56-35 46-36 42-39 31-35 30-43 37-63 36-73 41-93 36-90 41-113 57-164 41-127 31-103 46-170 113-449 119-430 20-58 21-41 10-14 10-9 11-6 10 0 10 5 6 5 10 16 10 23 10 32 21 90 26 165 20 165 26 232 67 672 36 333 36 299 31 213 26 147 25 113 16 52 15 43 16 36 20 41 26 40 26 32 31 30 36 28 31 17 36 14 51 15 47 9 41 6 62 5 211 9 293 4 345 1" stroke="#B07040"/>
<path d="M12795 3743l21 12 20 18 57 68 20 22 21 16 26 14 25 7 31 4 139-4 26 2 26 4 31 10 31 14 25 17 47 37 25 14 37 10 41 2 41-5 31-8 31-12 36-21 41-30 46-39 31-31 62-67 41-36 26-18 31-18 25-11 31-8 31-5 26-1 118 24 31 3 26-1 36-7 57-17 46-16 67-27 26-8 51-9 62-3 57 5 72 14 46 12 113 35 93 23 57 7 56 2 31-4 36-13 77-39 57-35 46-35 42-38 36-41 30-43 31-54 36-72 42-92 36-89 41-112 56-164 42-126 36-119 46-171 113-451 119-431 20-58 21-41 10-14 10-10 11-5 10 0 10 5 6 5 10 16 10 23 10 32 21 90 26 166 20 165 26 233 67 674 36 334 36 299 31 214 26 147 25 113 16 53 15 43 16 37 20 41 26 40 26 31 31 31 36 28 31 17 36 14 51 15 47 9 41 6 62 5 211 9 293 4 345 1" stroke="#20B020"/>
<path d="M12795 3743l21 12 20 18 57 69 20 21 21 17 26 14 25 7 31 4 139-4 26 2 26 4 36 11 31 15 20 14 47 37 25 14 37 10 41 2 41-5 31-8 31-12 36-21 41-30 46-39 31-31 62-67 41-36 26-18 31-17 25-11 31-9 31-4 26-1 118 25 31 3 26-1 41-8 57-17 41-15 67-27 26-8 51-9 62-2 57 5 72 13 46 12 113 34 93 22 57 8 56 1 31-4 36-14 77-39 57-35 46-36 42-38 36-41 30-44 31-53 36-73 42-92 36-89 41-112 56-165 42-127 36-119 46-172 113-451 119-432 20-59 21-41 10-14 10-10 11-5 10 0 10 5 6 5 10 16 10 23 10 32 21 91 26 165 20 166 26 234 67 676 36 334 36 301 31 215 26 147 25 113 16 53 15 43 16 37 20 41 26 40 26 32 31 31 36 28 31 17 36 14 51 15 47 9 41 6 62 4 211 9 293 5 345 1" stroke="#FF60A0"/>
<path d="M12795 3743l21 12 20 19 57 68 20 22 21 16 26 14 25 8 31 4 139-4 31 2 26 5 31 10 31 15 20 13 47 37 25 14 37 10 41 2 41-5 31-8 31-12 36-21 41-30 46-39 31-31 62-66 41-37 26-18 31-17 25-11 31-8 31-5 26 0 118 26 31 3 26-1 36-7 57-16 46-16 67-27 31-9 56-9 57-2 57 6 67 12 46 12 113 33 88 21 56 8 57 1 36-5 31-11 82-42 57-36 46-35 42-39 36-41 30-44 31-53 36-73 42-93 36-90 41-112 56-165 42-127 36-120 46-172 113-452 119-434 20-58 21-41 10-14 10-10 11-6 10 0 10 5 6 5 10 16 10 23 10 32 21 91 26 166 20 167 26 234 67 678 36 335 36 302 31 215 26 147 25 114 16 53 15 43 16 37 20 41 26 41 26 31 31 31 36 28 31 18 36 14 51 15 47 9 41 6 62 4 211 9 293 5 345 1" stroke="#00C0C0"/>
<path d="M12795 3743l21 12 20 19 57 69 20 21 21 17 26 14 25 8 31 4 145-3 25 1 26 5 31 10 31 14 20 14 47 36 25 15 37 9 41 2 41-5 31-8 31-12 36-21 41-30 46-39 31-31 62-66 41-37 26-17 31-18 25-10 26-7 36-6 26 0 118 26 31 4 26-1 36-7 57-16 46-16 67-27 31-9 56-8 57-2 57 5 67 12 41 10 118 35 88 20 56 7 57 1 36-5 31-11 82-43 57-36 46-36 42-39 36-41 30-44 31-54 36-73 42-93 36-90 41-112 56-166 42-127 36-120 46-173 113-454 119-434 20-59 21-41 10-14 10-10 11-6 10 0 10 5 6 6 10 15 10 24 10 32 21 91 26 167 20 167 26 235 67 679 36 336 36 302 31 216 26 148 25 114 16 53 15 44 16 37 20 41 26 40 26 32 31 31 36 28 31 18 36 14 51 14 47 10 41 6 62 4 211 9 293 5 345 1" stroke="#8060E0"/>
<path d="M12795 3743l21 12 20 19 57 69 20 22 21 17 26 14 25 8 31 4 145-3 25 1 26 5 31 9 31 14 20 14 47 37 25 14 37 9 41 2 41-5 31-7 31-13 36-21 41-30 46-39 31-31 62-66 41-36 26-18 31-17 25-11 26-7 36-5 26 0 118 27 31 3 26 0 41-8 57-16 41-14 67-27 31-9 56-9 57-2 57 5 67 12 41 10 118 34 88 20 56 7 57 1 36-6 31-11 82-44 52-32 51-40 42-39 36-42 30-44 31-54 36-74 42-93 36-90 41-113 56-166 42-127 36-121 46-173 113-455 119-436 20-58 21-41 10-15 10-10 11-5 10-1 10 6 6 5 10 16 10 23 10 32 21 92 26 167 20 167 26 236 67 681 36 337 36 303 31 216 26 149 25 114 16 53 15 44 16 37 20 41 26 41 26 32 31 31 36 28 31 17 36 15 51 14 47 10 41 6 62 4 211 9 293 5 345 1" stroke="#A0A040"/>
<path d="M12795 3743l21 12 20 19 57 70 20 22 21 16 26 15 25 8 31 3 145-2 25 1 26 5 36 11 26 12 20 13 47 37 25 14 37 9 41 2 41-5 31-7 31-13 36-21 41-30 41-34 36-36 62-66 41-36 26-18 31-17 25-11 26-6 36-6 26 1 118 28 31 3 26 0 41-8 57-16 41-14 67-27 31-9 56-8 57-2 57 5 67 11 41 10 118 33 88 20 56 6 57 1 36-6 31-11 82-44 52-33 51-41 42-39 36-42 30-44 31-54 36-74 42-94 36-90 41-113 56-166 42-129 36-120 46-174 113-456 119-437 20-58 21-42 10-14 10-10 11-6 10 0 10 5 6 6 10 15 10 24 10 32 21 92 26 167 20 168 26 236 67 683 36 338 36 304 31 217 26 149 25 114 16 53 15 44 16 37 20 42 26 40 26 32 31 31 36 29 31 17 36 14 51 15 47 10 41 6 62 4 211 9 293 5 345 1" stroke="#808080"/>
<path d="M12795 3743l21 12 20 19 57 70 20 22 21 17 26 14 25 8 31 4 145-2 30 2 26 5 31 9 26 12 20 13 47 37 25 14 37 9 41 2 41-5 31-7 31-13 36-20 41-30 41-35 36-36 62-66 41-36 26-18 31-17 25-10 26-7 36-5 26 1 118 28 31 4 26 0 41-8 57-16 41-14 67-26 31-10 56-8 57-2 57 5 67 11 41 10 113 31 88 19 56 7 57 1 36-5 36-13 82-44 52-34 51-40 42-40 36-42 30-44 31-55 36-74 42-93 36-91 41-113 56-167 42-129 36-121 46-173 113-458 119-438 20-59 21-41 10-14 10-10 11-6 10 0 10 5 6 5 10 16 10 24 10 32 21 92 26 168 20 168 26 237 67 684 36 339 36 305 31 217 26 149 25 115 16 53 15 44 16 38 20 41 26 41 26 32 31 31 36 29 31 17 36 14 51 15 47 10 41 6 62 4 211 9 293 5 345 1" stroke="#C08080"/>
<path d="M12795 3743l21 13 20 19 57 70 20 22 21 17 26 14 25 8 31 4 145-3 30 3 26 5 31 9 26 12 20 13 47 36 25 14 37 9 41 2 41-5 31-7 31-13 36-20 41-30 46-40 31-31 57-61 41-37 26-18 31-18 25-11 26-7 36-6 31 1 118 29 31 4 26-1 41-7 57-16 41-13 67-27 31-9 56-9 57-2 57 5 67 11 41 10 113 30 88 19 56 7 57 0 36-5 36-13 82-45 52-34 51-41 42-39 36-42 30-45 31-55 36-74 42-94 36-91 41-114 56-167 42-128 36-122 46-174 113-458 119-439 20-59 21-42 10-14 10-11 11-5 10 0 10 5 6 5 10 16 10 24 10 32 21 92 26 169 20 168 26 238 67 685 36 341 36 305 31 218 26 149 25 115 16 54 15 44 16 37 20 42 26 41 26 32 31 31 36 28 31 18 36 14 51 15 47 10 41 6 62 4 211 9 293 5 345 1" stroke="#70A070"/>
<path d="M12795 3743l21 13 20 19 57 70 20 22 26 21 26 13 20 6 31 4 145-3 30 3 26 4 31 9 26 12 20 13 47 36 25 14 37 9 41 2 41-4 31-8 31-13 36-20 41-30 46-40 31-30 57-62 41-37 26-18 31-18 25-11 26-7 36-5 31 0 118 30 31 5 26-1 41-7 57-15 41-14 67-27 31-9 56-8 57-2 57 4 67 11 154 39 88 19 56 6 57 1 36-6 31-11 82-45 52-33 51-41 41-38 36-42 31-43 31-53 36-73 41-93 42-104 41-114 56-167 42-129 36-122 46-175 113-459 119-440 20-59 21-42 10-14 10-11 11-5 10-1 10 6 6 5 10 16 10 24 10 32 21 93 26 168 20 169 26 238 67 688 36 341 36 305 31 219 26 150 25 116 16 53 15 44 16 38 20 41 26 41 26 32 31 32 36 28 31 18 36 14 51 15 47 10 41 5 62 5 211 9 293 5 345 1" stroke="#60B0E0"/>
<path d="M12795 3743l21 13 20 19 57 71 20 22 26 20 26 14 20 6 31 4 36 0 109-3 30 3 26 4 31 9 26 11 26 17 41 32 25 14 37 10 41 1 41-4 31-8 31-13 36-20 41-30 46-40 31-30 57-62 41-37 26-18 31-17 25-11 26-7 36-6 31 1 118 31 31 4 26 0 41-7 57-15 41-14 67-26 31-10 56-8 57-2 57 4 67 11 154 39 88 18 51 6 57 0 36-4 36-13 82-45 52-34 51-41 41-39 36-41 31-44 31-53 36-74 41-93 42-103 41-115 56-168 42-129 36-122 46-175 113-461 119-441 20-59 21-42 10-14 10-10 11-6 10 0 10 5 6 5 10 16 10 24 10 33 21 92 26 169 20 170 26 238 67 689 36 342 36 306 31 220 26 150 25 116 16 53 15 44 16 38 20 42 26 41 26 32 31 31 36 29 31 18 36 14 51 15 47 10 41 5 62 5 211 9 293 5 345 1" stroke="#90B0D0"/>
<path d="M12795 3743l21 13 20 19 57 71 20 22 26 21 26 13 26 8 31 3 139-3 30 2 26 5 36 10 26 12 21 14 41 32 25 14 37 10 41 1 41-4 31-8 31-13 36-20 41-30 46-40 31-30 57-62 41-37 26-18 31-17 25-11 26-7 36-5 31 1 118 31 31 5 26 0 41-7 57-15 41-14 67-26 31-9 56-9 57-2 57 4 67 11 154 38 88 17 51 6 57 0 36-4 36-13 82-46 52-34 51-41 41-39 36-42 31-44 31-53 36-74 41-94 42-103 41-115 56-168 42-130 36-122 46-176 113-461 119-442 20-60 21-42 10-14 10-10 11-6 10 0 10 5 6 6 10 16 10 23 10 33 21 93 26 169 20 170 26 239 67 691 36 342 36 307 31 220 26 151 25 116 16 53 15 45 16 37 20 42 26 41 26 33 31 31 36 29 31 17 36 15 51 15 47 10 41 5 62 5 211 9 293 5 345 1" stroke="#607090"/>
<path d="M12795 3743l21 13 20 19 57 72 20 22 26 20 26 14 26 7 25 3 36 1 114-3 25 2 31 6 31 9 26 12 21 13 41 32 25 14 37 10 41 1 41-4 31-8 31-13 36-20 41-30 41-35 31-30 67-72 36-31 26-19 31-17 25-11 26-7 36-4 31 1 118 32 31 5 31-1 41-7 62-17 36-12 62-25 31-9 56-9 57-2 57 4 67 11 154 37 88 17 51 5 57 0 36-4 36-13 82-47 52-34 51-41 41-40 36-42 31-44 31-53 36-74 41-94 42-104 41-115 56-169 42-130 36-122 46-176 113-462 119-444 20-59 21-42 10-15 10-10 11-5 10-1 10 6 6 5 10 16 10 24 10 33 21 93 26 169 20 171 26 239 67 692 36 344 36 307 31 221 26 150 25 117 16 53 15 45 16 38 20 42 26 41 26 32 31 32 36 29 31 17 36 15 51 15 47 10 41 5 62 5 211 9 293 5 345 1" stroke="#000000"/>
<path d="M12795 3744l21 12 20 19 57 72 20 22 26 21 26 14 26 7 31 3 144-2 25 2 31 5 31 9 26 12 21 13 41 32 25 14 37 10 41 1 41-4 31-8 31-13 36-20 41-30 41-35 31-30 67-72 36-31 26-18 25-15 26-11 26-8 36-5 31 0 20 4 57 17 52 13 30 4 26 0 41-7 62-17 36-12 62-25 31-9 56-9 62-2 57 5 67 10 144 35 88 17 51 6 57 0 41-5 31-11 77-43 57-37 46-37 46-43 41-47 31-44 31-54 36-74 41-94 36-91 42-114 56-168 47-146 36-123 46-176 113-464 119-444 20-60 21-42 10-14 10-10 11-6 10 0 10 5 6 6 10 16 10 24 10 32 21 94 26 170 20 170 26 240 67 694 36 344 36 309 31 220 26 151 25 117 16 54 15 44 16 38 20 42 26 42 26 32 31 32 36 28 31 18 36 15 51 15 47 10 41 5 62 5 211 9 293 5 345 1" stroke="#FF0000"/>
<path d="M12795 3744l21 12 20 20 57 71 20 23 26 21 26 13 26 8 31 3 144-2 25 2 31 5 31 9 26 11 21 14 41 31 25 14 37 10 41 1 41-4 31-8 31-13 36-20 41-30 41-35 31-30 67-72 36-31 26-18 25-15 26-11 26-8 36-5 31 1 20 4 57 18 52 13 30 4 26 0 41-7 62-17 36-12 62-25 31-9 56-9 62-2 57 5 67 10 144 34 88 17 51 5 57 0 41-5 31-11 77-44 57-37 46-37 46-43 41-48 31-44 31-54 36-74 41-95 36-91 42-114 56-168 47-147 36-123 46-176 113-465 119-445 20-60 21-42 10-14 10-11 11-5 10-1 10 6 6 5 10 16 10 24 10 33 21 94 26 170 20 171 26 241 67 695 36 344 36 310 31 221 26 151 25 117 16 54 15 45 16 38 20 42 26 41 26 33 31 31 36 29 31 18 36 14 51 16 47 10 41 5 62 5 211 9 293 5 345 1" stroke="#0000FF"/>
<path d="M12795 3744l21 12 20 20 57 72 20 22 26 21 26 14 26 7 31 4 144-2 25 2 31 5 31 8 26 12 21 13 41 32 25 14 37 9 41 2 41-5 31-8 31-13 36-20 41-30 41-35 36-35 57-62 41-36 26-18 25-15 26-11 26-7 36-5 31 0 20 4 62 20 47 12 30 5 26-1 41-7 62-16 36-12 62-25 31-9 56-9 62-2 57 5 67 10 144 33 88 16 51 6 57-1 41-5 31-12 77-44 57-37 46-37 46-44 41-47 31-45 31-54 36-74 41-95 36-91 42-114 56-170 47-146 36-123 46-177 113-466 119-446 20-60 21-42 10-15 10-10 11-6 10 0 10 6 6 5 10 16 10 24 10 33 21 94 26 171 20 171 26 241 67 697 36 345 36 310 31 221 26 152 25 117 16 54 15 45 16 38 20 42 26 42 26 32 31 32 36 29 31 18 36 14 51 16 47 9 41 6 62 5 211 9 293 5 345 1" stroke="#FF00FF"/>
<path d="M12795 3744l21 12 20 20 57 72 20 23 26 21 26 14 26 7 31 4 144-2 25 1 31 5 31 9 26 11 21 13 41 32 25 14 37 9 41 2 41-5 31-8 31-13 36-20 41-30 41-35 36-35 57-61 41-37 26-18 25-14 26-11 26-8 36-5 31 1 20 4 57 19 46 13 31 5 31 0 41-7 62-16 36-12 62-25 31-9 56-9 62-2 57 4 67 10 144 33 88 16 51 5 51 0 42-5 36-13 77-44 57-38 46-37 46-44 41-48 31-45 31-54 36-74 41-95 36-92 42-114 56-170 47-146 36-124 46-177 113-467 119-447 20-60 21-42 10-15 10-10 11-6 10 0 10 5 6 6 10 16 10 24 10 33 21 94 26 171 20 172 26 241 67 698 36 346 36 311 31 222 26 152 25 117 16 55 15 44 16 39 20 42 26 41 26 33 31 32 36 29 31 18 36 14 51 15 47 10 41 6 62 5 211 9 293 5 345 1" stroke="#008000"/>
<path d="M12795 3744l21 12 20 20 57 73 20 22 26 21 26 14 26 8 31 3 144-2 31 3 30 5 26 7 26 11 21 13 41 32 25 14 37 9 41 2 41-5 31-8 31-12 36-21 41-30 41-35 36-35 57-61 41-37 26-18 25-14 26-11 26-8 36-4 31 1 20 4 57 19 46 13 31 5 31 0 41-6 62-17 36-11 62-25 31-9 56-9 62-2 57 4 67 10 144 32 88 16 51 5 51-1 42-5 36-13 77-45 57-38 46-37 46-44 41-48 31-45 31-55 36-74 41-96 36-91 42-115 56-170 47-147 36-124 46-177 113-468 119-447 20-61 21-42 10-15 10-10 11-6 10 0 10 5 6 6 10 16 10 24 10 33 21 94 26 172 20 172 26 242 67 699 36 347 36 311 31 223 26 152 25 118 16 54 15 45 16 38 20 42 26 42 26 33 31 32 36 29 31 18 36 14 51 15 47 10 41 6 62 5 211 9 293 5 345 1" stroke="#000080"/>
<path d="M12795 3744l21 13 20 19 57 73 20 23 26 21 26 14 26 7 31 4 149-2 26 2 30 6 26 7 26 11 21 12 41 32 25 14 37 9 41 2 41-5 31-8 31-12 36-21 41-30 41-35 36-35 57-61 41-37 26-18 25-14 26-11 26-7 36-5 31 1 20 5 57 19 46 13 31 6 31 0 41-6 62-17 36-11 62-25 31-9 56-9 62-2 57 4 67 9 139 31 87 16 52 5 51-1 42-4 36-12 72-41 61-41 47-37 46-43 41-47 31-44 31-53 36-73 41-94 41-104 42-115 56-171 47-147 36-124 46-178 113-468 119-449 20-60 21-43 10-15 10-10 11-6 10 0 10 6 6 5 10 16 10 24 10 33 21 95 26 172 20 172 26 242 67 701 36 348 36 311 31 223 26 153 25 118 16 54 15 45 16 39 20 42 26 42 26 32 31 32 36 29 31 18 36 15 51 15 47 10 41 6 62 5 211 9 293 5 345 1" stroke="#8000FF"/>
<path d="M12795 3744l21 13 20 19 57 73 20 23 26 21 26 14 26 8 31 4 149-2 26 2 30 5 26 7 26 11 21 13 41 31 25 14 37 9 41 2 41-5 31-8 31-12 36-21 41-30 41-35 36-35 57-61 41-37 26-18 25-14 26-11 26-7 36-4 31 1 20 5 57 19 46 13 31 6 31 1 41-7 62-16 36-12 67-26 31-8 57-8 56-2 57 4 67 9 139 30 87 15 52 5 51 0 42-5 36-12 72-41 61-42 47-37 46-44 41-47 31-43 31-53 36-74 41-94 41-105 42-115 56-170 47-148 36-125 46-178 113-469 119-450 20-60 21-43 10-14 10-11 11-5 10-1 10 6 6 5 10 16 10 25 10 33 21 94 26 172 20 173 26 243 67 702 36 348 36 313 31 223 26 153 25 118 16 55 15 45 16 38 20 43 26 41 26 33 31 32 36 29 31 18 36 15 51 15 47 10 41 6 62 5 211 9 293 5 345 1" stroke="#A040C0"/>
<path d="M12795 3744l21 13 20 20 57 73 20 22 26 22 26 14 26 8 31 4 149-2 26 2 30 5 26 6 26 11 21 13 41 31 25 14 37 9 41 2 41-5 31-8 31-12 36-21 41-30 41-35 36-35 57-61 36-33 26-18 25-15 26-11 26-8 36-5 36 1 20 4 57 20 46 14 31 5 31 1 41-6 62-16 36-12 67-26 31-8 57-8 56-2 57 3 67 10 139 29 87 15 52 5 51-1 42-5 36-12 72-42 61-41 47-38 46-44 41-47 31-44 31-53 36-74 41-95 41-104 42-116 56-170 47-148 36-125 46-179 113-470 119-450 20-61 21-42 10-15 10-10 11-6 10 0 10 5 6 5 10 17 10 24 10 33 21 95 26 172 20 173 26 244 67 703 36 349 36 313 31 224 26 153 25 118 16 55 15 45 16 39 20 42 26 42 26 33 31 32 36 29 31 18 36 15 51 15 47 10 41 6 62 5 211 9 293 5 345 1" stroke="#800000"/>
<path d="M12795 3744l21 13 20 20 57 73 20 23 26 21 26 15 26 7 31 4 149-1 26 1 30 5 26 7 26 10 21 13 41 31 25 14 37 9 41 2 41-5 31-8 31-12 36-21 41-30 41-35 36-35 57-61 36-33 26-18 25-15 26-11 26-8 36-5 36 1 20 5 57 20 46 14 31 6 31 0 41-6 62-15 36-12 67-26 31-8 57-9 56-2 57 4 67 9 139 29 87 15 52 4 46-1 47-5 36-12 72-42 61-42 47-38 46-44 41-47 31-44 31-54 36-74 41-95 41-104 42-116 56-171 47-148 36-125 46-179 113-471 119-451 20-61 21-43 10-15 10-10 11-6 10 0 10 6 6 5 10 16 10 25 10 33 21 95 26 173 20 173 26 244 67 705 36 349 36 313 31 224 26 154 25 119 16 54 15 46 16 38 20 43 26 42 26 33 31 32 36 29 31 18 36 15 51 15 47 10 41 6 62 5 211 9 293 5 345 1" stroke="#808000"/>
<path d="M12795 3744l21 13 20 20 57 73 20 23 26 22 26 14 26 8 31 4 149-2 31 3 31 5 25 7 26 12 57 40 25 14 37 9 41 2 41-5 31-8 31-12 36-21 41-30 41-35 31-30 62-66 36-32 26-19 25-15 26-11 26-8 36-4 36 1 20 5 57 20 46 14 31 6 31 1 41-6 62-16 36-11 67-26 31-9 57-8 61-2 52 4 67 8 139 29 82 14 52 4 51 0 47-6 36-12 66-40 62-41 52-42 46-44 41-48 31-44 31-53 36-75 41-95 41-104 42-116 56-172 47-148 36-125 46-180 113-472 119-452 20-60 21-43 10-15 10-10 11-6 10 0 10 5 6 6 10 16 10 24 10 34 21 95 26 173 20 173 26 245 67 706 36 350 36 314 31 224 26 154 25 119 16 55 15 45 16 39 20 42 26 42 26 33 31 33 36 29 31 18 36 15 51 15 47 10 41 6 62 5 211 9 293 5 345 1" stroke="#4070B0"/>
<path d="M12795 3744l21 13 20 20 57 74 20 23 26 21 26 15 26 7 31 4 36 1 113-2 31 2 31 5 25 7 26 12 57 40 25 14 37 9 41 2 41-5 31-8 31-12 36-21 41-30 41-35 31-30 62-66 36-32 26-19 25-14 26-12 26-7 36-5 36 1 20 5 57 21 46 14 31 6 31 1 41-6 62-15 36-12 67-25 31-9 57-8 61-2 52 3 67 9 139 28 82 13 52 5 51-1 47-6 36-12 66-40 62-42 52-42 46-44 41-48 31-44 31-54 36-74 41-96 41-105 42-116 56-171 47-149 36-126 46-179 113-473 119-453 20-61 21-43 10-14 10-11 11-5 10-1 10 6 6 5 10 17 10 24 10 33 21 96 26 173 20 174 26 245 67 707 36 351 36 314 31 225 26 154 25 119 16 55 15 45 16 39 20 43 26 42 26 33 31 32 36 30 31 18 36 14 51 16 47 10 41 6 62 5 211 9 293 5 345 1" stroke="#008080"/>
<path d="M12795 3744l21 13 20 20 57 74 20 23 26 22 26 14 26 8 31 4 36 1 113-2 31 2 31 5 25 7 26 11 57 40 25 14 37 9 41 2 41-5 31-7 31-13 36-21 41-30 41-35 31-29 62-67 36-32 26-19 25-14 26-11 26-8 36-5 36 2 20 5 57 21 46 14 31 7 31 1 41-6 62-15 36-12 67-26 31-8 62-9 56-2 52 4 67 8 139 28 82 13 52 4 46-1 52-6 36-12 66-40 62-43 52-42 46-44 41-48 31-45 31-54 36-74 41-95 41-106 42-116 56-172 47-149 36-126 46-180 113-473 119-454 20-61 21-43 10-15 10-10 11-6 10 0 10 6 6 5 10 16 10 25 10 33 21 96 26 173 20 175 26 245 67 708 36 352 36 315 31 225 26 154 25 119 16 55 15 46 16 39 20 43 26 42 26 33 31 32 36 30 31 18 36 14 51 16 47 10 41 6 62 5 211 9 293 5 345 1" stroke="#B07040"/>
<path d="M12795 3744l21 13 20 20 57 74 20 24 26 21 26 15 26 8 31 4 36 1 113-3 31 2 31 5 25 7 26 11 57 40 25 14 37 10 41 1 41-5 31-7 31-13 36-20 41-31 41-35 31-29 62-67 36-32 26-18 25-15 26-11 26-8 36-4 36 2 20 5 57 21 46 15 31 6 31 1 41-6 62-15 36-11 67-26 31-8 62-9 56-2 52 3 67 9 134 26 87 13 52 5 46-1 52-7 36-13 66-40 62-42 52-43 46-44 41-49 31-44 31-54 36-75 41-95 41-106 42-116 56-173 47-149 36-126 46-180 113-474 119-455 20-61 21-43 10-15 10-10 11-6 10 0 10 5 6 6 10 16 10 25 10 33 21 96 26 174 20 174 26 246 67 710 36 351 36 316 31 226 26 154 25 120 16 55 15 45 16 39 20 43 26 42 26 34 31 32 36 29 31 19 36 14 51 16 47 10 41 6 62 5 211 9 293 5 345 1" stroke="#20B020"/>
<path d="M12795 3744l21 13 20 20 57 75 20 23 26 22 26 14 26 8 36 5 144-2 31 2 31 5 25 6 26 11 21 14 36 27 25 13 37 10 41 1 41-5 31-7 31-13 36-20 41-30 41-35 31-30 62-67 36-32 26-18 25-15 26-11 26-7 36-5 36 2 20 5 57 22 46 15 31 6 31 1 41-5 62-15 36-12 67-25 31-9 62-8 56-2 52 3 67 8 134 25 87 14 52 4 46-1 52-7 36-13 66-40 62-43 52-43 46-45 41-48 31-44 31-55 36-74 41-96 41-106 42-117 56-172 47-150 36-126 46-180 113-475 119-455 20-62 21-43 10-15 10-10 11-6 10 0 10 5 6 6 10 16 10 25 10 33 21 96 26 174 20 175 26 246 67 711 36 352 36 317 31 226 26 155 25 119 16 55 15 46 16 39 20 43 26 42 26 33 31 33 36 29 31 18 36 15 51 16 47 10 41 6 62 5 211 9 293 4 345 2" stroke="#FF60A0"/>
<path d="M12795 3744l21 13 20 21 57 74 20 23 26 22 26 15 26 8 31 4 36 1 118-2 31 2 31 5 26 7 20 10 21 13 36 27 25 13 37 10 41 1 41-5 31-7 31-13 36-20 41-30 41-35 31-30 62-67 36-32 26-18 25-15 26-11 26-7 36-4 36 2 20 5 57 22 46 15 31 6 31 2 41-6 62-15 36-11 67-26 31-8 62-9 56-2 52 3 67 8 134 25 82 13 52 4 46 0 51-7 36-11 47-27 82-56 52-42 51-50 41-48 31-45 31-54 36-75 41-96 41-106 42-117 56-173 47-150 36-126 46-180 113-476 119-456 20-61 21-44 10-14 10-11 11-6 10 0 10 6 6 5 10 16 10 25 10 34 21 96 26 174 20 175 26 246 67 713 36 353 36 316 31 227 26 155 25 119 16 56 15 45 16 39 20 43 26 43 26 33 31 33 36 29 31 18 36 15 51 16 47 10 41 6 62 5 211 9 293 4 345 2" stroke="#00C0C0"/>
<path d="M12795 3744l21 13 20 21 57 74 20 24 26 22 26 14 26 8 36 5 149-2 31 3 31 5 26 7 20 9 21 13 36 27 25 13 37 10 41 1 41-4 31-8 31-13 36-20 41-30 41-35 31-30 62-67 36-32 26-18 25-14 26-12 26-7 36-4 36 2 20 6 98 35 31 8 26 2 41-3 62-14 46-15 67-25 31-9 46-7 47-3 56 1 72 8 47 7 108 20 82 12 47 4 46-1 51-7 36-11 47-27 82-56 52-43 51-50 41-48 31-45 31-54 36-76 41-96 41-106 42-117 56-173 47-150 36-126 46-182 113-476 119-457 20-61 21-43 10-15 10-11 11-5 10-1 10 6 6 5 10 17 10 24 10 34 21 96 26 175 20 175 26 247 67 713 36 354 36 317 31 226 26 156 25 120 16 55 15 46 16 39 20 43 26 43 26 33 31 32 36 30 31 18 36 15 51 16 47 10 41 6 62 5 211 9 293 4 345 2" stroke="#8060E0"/>
<path d="M12795 3744l21 13 20 21 57 75 20 23 26 22 26 15 26 8 36 4 149-1 31 2 31 5 26 7 20 9 21 13 36 27 25 13 37 10 41 1 41-4 31-8 31-13 36-20 41-30 41-35 31-30 62-67 36-32 26-18 25-14 26-11 26-8 36-3 36 2 20 5 98 36 31 8 26 2 41-3 62-14 46-14 67-26 31-8 46-7 47-4 56 2 72 7 155 27 82 12 47 3 41-1 56-6 36-12 47-28 82-56 52-42 51-51 41-48 31-45 31-55 36-75 41-96 41-107 42-117 56-173 47-151 36-126 46-182 113-477 119-457 20-62 21-43 10-15 10-10 11-6 10-1 10 6 6 5 10 17 10 25 10 33 21 97 26 175 20 175 26 247 67 715 36 354 36 317 31 227 26 156 25 120 16 56 15 46 16 38 20 44 26 42 26 34 31 32 36 30 31 18 36 15 51 16 47 10 41 6 62 5 211 9 293 4 345 2" stroke="#A0A040"/>
<path d="M12795 3744l21 14 20 20 57 75 20 23 26 22 26 15 26 8 36 5 149-1 31 2 31 5 26 6 20 9 21 13 36 27 25 14 37 9 41 1 41-4 31-8 31-13 36-20 41-30 41-35 31-30 62-67 36-32 20-15 26-15 26-11 26-8 41-5 36 2 20 6 98 36 31 8 26 3 41-4 62-14 46-14 67-25 31-8 46-8 47-3 56 1 72 7 155 27 82 11 47 3 41 0 56-7 36-13 47-27 82-57 52-42 51-51 41-49 31-44 31-55 36-76 41-96 41-106 42-118 56-174 47-150 36-127 46-182 113-478 119-458 20-61 21-44 10-15 10-10 11-6 10 0 10 5 6 6 10 16 10 25 10 34 21 96 26 176 20 175 26 248 67 715 36 355 36 318 31 227 26 156 25 121 16 55 15 46 16 39 20 43 26 43 26 33 31 33 36 30 31 18 36 15 51 16 47 10 41 6 62 4 211 10 293 4 345 2" stroke="#808080"/>
<path d="M12795 3744l21 14 20 20 57 75 20 24 26 22 26 15 26 8 36 5 149-2 31 2 31 5 26 7 20 8 21 13 36 27 25 14 37 9 41 1 41-4 31-8 31-13 36-20 41-30 41-35 31-30 62-67 36-32 20-14 26-15 26-12 26-8 41-5 36 3 20 6 98 36 31 8 26 3 41-4 62-13 46-14 67-25 31-9 46-7 47-4 56 1 72 7 155 26 82 12 47 3 41-1 56-7 36-13 47-27 82-57 52-43 51-51 41-49 31-45 31-55 36-75 41-97 41-106 42-118 56-174 47-151 36-127 46-182 113-478 119-459 20-62 21-43 10-15 10-11 11-5 10-1 10 6 6 5 10 17 10 25 10 33 21 97 26 176 20 176 26 248 67 716 36 355 36 319 31 227 26 157 25 120 16 56 15 46 16 39 20 43 26 43 26 33 31 33 36 30 31 18 36 15 51 15 47 11 41 6 62 4 211 10 293 4 345 2" stroke="#C08080"/>
<path d="M12795 3744l21 14 20 20 57 75 20 24 26 22 26 15 26 8 36 5 149-1 31 2 31 4 26 7 20 9 21 12 36 27 25 14 37 9 41 1 41-4 31-8 31-13 36-20 41-30 41-35 31-30 62-67 36-32 20-14 26-15 26-12 26-8 41-4 36 2 20 6 98 37 31 8 26 3 46-4 62-14 41-13 67-25 31-9 46-7 47-3 56 1 72 7 155 25 82 11 47 3 41-1 56-7 36-13 47-27 82-58 52-43 51-51 41-49 31-45 31-55 36-76 41-96 41-107 42-118 56-174 47-151 36-127 46-183 113-479 119-459 20-62 21-44 10-15 10-10 11-6 10 0 10 5 6 6 10 17 10 24 10 34 21 97 26 176 20 176 26 248 67 718 36 355 36 319 31 228 26 157 25 120 16 56 15 46 16 39 20 44 26 43 26 33 31 33 36 29 31 19 36 15 51 15 47 11 41 5 62 5 211 10 293 4 345 2" stroke="#70A070"/>
<path d="M12795 3744l21 14 20 20 57 76 26 28 25 21 26 14 26 7 31 4 149-2 31 2 31 5 26 6 20 9 21 12 36 27 25 14 37 9 41 1 41-4 31-8 31-13 36-20 41-30 41-35 31-30 62-67 36-32 20-14 26-15 26-12 26-7 41-5 36 3 20 6 98 37 31 8 26 3 46-4 62-14 41-12 67-26 31-8 46-7 47-4 56 1 72 7 155 25 82 11 41 2 42 0 56-7 36-11 41-24 88-60 51-43 52-50 41-48 31-44 31-53 36-75 41-95 41-106 47-132 56-174 47-152 36-127 46-182 113-480 119-460 20-62 21-44 10-15 10-10 11-6 10-1 10 6 6 6 10 16 10 25 10 34 21 97 26 176 20 176 26 249 67 718 36 357 36 319 31 228 26 157 25 121 16 55 15 47 16 39 20 43 26 43 26 34 31 33 36 29 31 19 36 15 51 15 47 11 41 5 62 5 211 10 293 4 345 2" stroke="#60B0E0"/>
<path d="M12795 3744l21 14 20 20 57 76 26 29 25 21 26 13 26 7 31 4 154-1 31 2 31 5 26 7 20 10 52 36 25 14 37 9 41 1 41-4 31-8 31-13 36-20 41-30 41-35 31-30 62-67 36-32 20-14 26-15 26-11 26-8 41-5 36 3 20 6 98 38 31 8 26 3 46-4 62-14 41-12 67-25 31-9 46-7 47-3 56 0 72 7 150 24 82 11 46 3 42-1 56-7 36-11 41-24 88-61 51-43 52-50 41-48 31-44 31-53 36-75 41-96 41-106 47-132 56-175 47-151 36-127 46-183 113-481 119-460 20-62 21-44 10-15 10-11 11-5 10-1 10 6 6 5 10 17 10 25 10 34 21 97 26 176 20 177 26 249 67 719 36 357 36 320 31 228 26 157 25 121 16 56 15 46 16 40 20 43 26 43 26 34 31 32 36 30 31 19 36 15 51 15 47 11 41 5 62 5 211 10 293 4 345 2" stroke="#90B0D0"/>
<path d="M12795 3745l21 13 20 20 57 76 26 29 25 21 26 14 26 7 31 4 154-1 31 2 31 4 26 8 20 9 52 36 25 14 37 9 41 2 41-5 31-8 31-13 36-20 41-30 41-35 31-30 62-67 36-31 20-15 26-15 26-11 26-8 41-4 36 3 20 6 98 38 31 8 26 3 46-4 62-13 41-13 67-25 31-8 46-8 47-3 56 1 72 6 150 24 82 10 46 3 42-1 56-7 36-12 41-23 88-62 51-42 52-51 41-48 31-44 31-54 36-74 41-96 41-106 47-133 56-175 47-151 36-128 46-183 113-481 119-461 20-62 21-44 10-15 10-11 11-6 10 0 10 6 6 5 10 17 10 25 10 34 21 97 26 176 20 177 26 250 67 720 36 357 36 321 31 229 26 157 25 121 16 56 15 46 16 39 20 44 26 43 26 33 31 33 36 30 31 19 36 14 51 16 47 11 41 5 62 5 211 10 293 4 345 2" stroke="#607090"/>
<path d="M12795 3745l21 13 20 21 57 76 26 28 25 21 26 14 26 7 31 4 154-1 31 2 31 5 26 7 20 9 52 36 25 14 37 9 41 2 41-5 31-8 31-13 36-20 41-30 41-35 31-30 62-67 36-31 20-15 26-15 26-11 26-8 41-4 36 3 20 6 98 39 31 8 26 3 46-3 62-14 41-12 67-25 31-9 46-7 47-4 56 1 72 6 150 23 82 11 41 2 41 0 57-7 21-5 20-8 41-24 88-61 51-43 52-51 41-48 31-44 31-54 36-75 41-96 41-106 47-133 56-175 47-152 36-127 46-184 113-482 119-461 20-62 21-44 10-15 10-11 11-6 10 0 10 6 6 5 10 17 10 25 10 34 21 97 26 177 20 177 26 250 67 721 36 358 36 320 31 230 26 157 25 121 16 56 15 46 16 40 20 44 26 43 26 33 31 33 36 30 31 18 36 15 51 16 47 10 41 6 62 5 211 10 293 4 345 2" stroke="#000000"/>
<path d="M12795 3745l21 13 20 21 57 76 26 29 25 21 26 13 26 8 36 4 149-1 31 2 31 4 26 7 20 9 52 36 25 14 37 9 41 2 41-5 31-8 31-13 36-20 41-30 41-35 31-30 62-67 36-31 20-15 26-15 26-11 26-8 41-4 36 4 20 6 57 24 46 17 31 7 26 2 46-4 62-14 36-11 67-25 31-9 46-7 47-4 56 1 72 6 150 23 82 10 41 3 41-1 57-7 21-5 20-8 41-24 88-62 51-43 52-50 41-49 31-44 31-54 36-75 41-96 41-106 47-133 56-176 47-152 36-128 46-183 113-483 119-462 20-62 21-44 10-15 10-11 11-6 10 0 10 6 6 5 10 17 10 25 10 34 21 97 26 177 20 178 26 250 67 722 36 358 36 321 31 230 26 157 25 122 16 56 15 46 16 39 20 44 26 43 26 34 31 33 36 30 31 18 36 15 51 16 47 10 41 6 62 5 211 10 293 4 345 2" stroke="#FF0000"/>
<path d="M12795 3745l21 13 20 21 57 76 26 29 25 21 26 14 26 7 36 4 149-1 62 6 26 7 20 9 52 36 25 14 37 9 41 2 41-5 31-8 31-13 36-20 41-30 41-35 31-30 62-67 36-31 20-15 26-14 26-12 26-7 41-4 36 3 20 6 57 24 46 17 31 8 26 2 46-4 62-14 36-11 67-25 31-8 46-8 47-3 56 0 72 6 150 23 82 10 41 2 41-1 57-7 21-5 20-8 36-21 88-61 51-43 52-50 41-47 36-51 31-54 36-75 41-97 41-106 47-133 56-176 47-152 36-128 46-184 113-483 119-463 20-62 21-44 10-15 10-11 11-6 10 0 10 6 6 5 10 17 10 25 10 34 21 97 26 178 20 177 26 251 67 723 36 358 36 322 31 230 26 157 25 122 16 56 15 47 16 39 20 44 26 43 26 34 31 33 36 30 31 18 36 15 51 16 47 10 41 6 62 5 211 10 293 4 345 2" stroke="#0000FF"/>
<path d="M12795 3745l21 13 20 21 57 76 26 29 25 21 26 14 26 8 36 4 149-1 62 6 26 6 20 10 52 35 25 14 37 9 41 2 41-5 31-8 31-13 36-20 41-30 41-35 31-30 62-66 36-32 20-15 26-14 26-12 26-7 41-4 36 4 20 6 57 24 46 17 31 8 26 2 46-4 62-14 36-10 67-26 31-8 46-7 47-4 56 1 72 6 150 21 82 10 41 3 36-1 62-8 21-5 20-8 36-21 88-62 51-42 52-51 41-47 36-51 31-54 36-75 41-97 41-107 47-133 56-176 47-152 36-128 46-184 113-484 119-464 20-62 21-44 10-15 10-11 11-5 10-1 10 6 6 5 10 17 10 25 10 34 21 98 26 177 20 178 26 251 67 724 36 359 36 322 31 230 26 158 25 122 16 56 15 46 16 40 20 44 26 43 26 34 31 33 36 30 31 18 36 15 51 16 47 10 41 6 62 5 211 10 293 4 345 2" stroke="#FF00FF"/>
<path d="M12795 3745l21 13 20 21 57 77 26 29 25 21 26 14 26 7 36 4 149-1 62 6 26 7 20 9 52 35 25 14 37 9 41 2 41-5 31-8 31-13 36-20 41-30 41-35 31-30 62-66 36-32 20-15 26-14 26-11 26-8 41-4 36 4 20 6 57 25 46 17 31 8 26 2 46-4 62-13 36-11 67-25 31-9 46-7 47-4 56 1 72 6 150 21 82 10 41 2 36-1 62-8 21-5 20-8 36-21 88-62 51-43 52-50 41-48 36-51 31-54 36-76 41-97 41-106 47-133 56-177 47-152 36-129 46-184 113-484 119-464 20-63 21-44 10-15 10-10 11-6 10-1 10 6 6 6 10 16 10 25 10 35 21 97 26 178 20 178 26 251 67 725 36 359 36 323 31 230 26 158 25 122 16 56 15 47 16 39 20 44 26 44 26 33 31 33 36 31 31 18 36 15 51 16 47 10 41 6 62 5 211 10 293 4 345 2" stroke="#008000"/>
<path d="M12795 3745l21 13 20 21 57 77 26 29 25 21 26 14 26 7 36 5 149-1 36 2 31 4 21 6 20 9 52 36 25 13 37 9 41 2 41-5 31-8 31-13 36-20 41-30 41-35 31-30 62-66 36-32 20-15 26-14 26-11 26-8 41-3 36 3 20 7 57 24 46 18 31 8 26 2 46-4 62-13 36-11 67-25 31-9 46-7 47-4 56 1 72 6 150 21 77 9 41 2 41-1 62-8 21-5 20-8 36-21 88-62 51-44 52-50 41-48 36-51 31-55 36-75 41-97 41-106 47-134 56-176 47-153 36-129 46-184 113-485 119-465 20-62 21-44 10-15 10-11 11-6 10 0 10 5 6 6 10 17 10 25 10 34 21 98 26 178 20 178 26 251 67 726 36 360 36 323 31 230 26 159 25 122 16 56 15 47 16 39 20 44 26 43 26 34 31 33 36 30 31 19 36 15 51 16 47 10 41 6 62 5 211 10 293 4 345 2" stroke="#000080"/>
<path d="M12795 3745l21 13 20 21 57 77 26 29 25 22 26 13 26 8 36 4 149-1 36 2 31 5 21 5 20 9 52 36 25 13 37 9 41 2 41-5 31-8 31-12 36-21 41-30 41-35 31-30 62-66 36-32 20-14 26-15 26-11 26-7 41-4 36 4 20 6 57 25 46 18 31 8 26 2 46-4 62-13 36-11 67-25 31-8 46-8 47-3 56 0 72 6 150 20 77 9 41 2 41 0 62-9 21-5 20-8 36-21 88-63 51-43 52-51 41-48 36-51 31-55 36-75 41-97 41-107 47-134 56-176 47-153 36-129 46-184 113-486 119-465 20-63 21-44 10-15 10-11 11-6 10 0 10 6 6 5 10 17 10 25 10 34 21 98 26 178 20 179 26 252 67 726 36 360 36 324 31 231 26 158 25 122 16 56 15 47 16 40 20 44 26 43 26 34 31 33 36 30 31 19 36 15 51 16 47 10 41 6 62 5 211 10 293 4 345 2" stroke="#8000FF"/>
<path d="M12795 3745l21 13 20 21 57 77 26 30 25 21 26 14 26 7 36 5 154-1 62 6 21 5 20 9 57 39 20 10 37 9 41 2 41-5 31-8 31-12 36-21 41-30 41-35 31-30 62-66 31-28 25-18 26-15 26-11 26-7 41-4 36 4 20 7 57 25 46 18 31 8 26 2 46-4 62-13 36-11 67-25 31-8 46-8 47-3 56 0 72 6 150 20 77 9 41 2 41-1 62-8 21-6 20-8 36-21 88-63 51-44 52-51 41-48 36-51 31-55 36-75 41-97 41-107 47-134 56-177 47-153 36-129 46-185 113-486 119-466 20-62 21-44 10-16 10-10 11-6 10-1 10 6 6 6 10 17 10 25 10 34 21 98 26 178 20 179 26 252 67 727 36 361 36 323 31 232 26 158 25 123 16 56 15 47 16 40 20 44 26 43 26 34 31 33 36 30 31 19 36 15 51 16 47 10 41 6 62 5 211 10 293 4 345 2" stroke="#A040C0"/>
<path d="M12795 3745l21 13 20 21 57 77 26 30 25 21 26 14 26 8 36 4 154-1 62 6 21 6 20 8 57 39 20 10 37 9 36 2 41-4 31-7 31-12 36-20 41-29 46-39 31-30 62-66 36-32 20-14 26-15 26-11 26-7 41-3 36 4 20 6 57 25 46 18 31 8 26 3 46-4 62-13 36-11 67-25 31-8 46-7 47-4 46 0 57 3 61 6 98 15 77 9 52 3 41-1 62-7 21-5 20-8 36-20 88-63 56-47 52-51 41-49 36-51 31-55 36-75 41-98 41-107 47-134 56-177 47-153 36-129 46-185 113-487 119-466 20-63 21-44 10-15 10-11 11-6 10 0 10 6 6 5 10 17 10 25 10 35 21 98 26 178 20 179 26 252 67 729 36 361 36 323 31 232 26 159 25 122 16 57 15 46 16 40 20 44 26 44 26 34 31 33 36 30 31 19 36 15 51 16 47 10 41 6 62 5 211 10 293 4 345 2" stroke="#800000"/>
<path d="M12795 3745l21 13 20 21 57 78 26 29 25 21 26 14 26 8 36 5 154-1 62 6 21 5 20 8 57 39 20 10 37 9 36 2 41-4 31-7 31-12 36-19 41-30 46-39 31-30 62-66 31-28 20-15 26-15 26-12 25-8 42-4 20 1 21 3 20 7 57 25 46 18 31 8 26 3 46-4 62-13 36-11 67-25 31-8 46-7 47-4 56 0 72 5 150 20 77 8 41 2 36 0 62-8 21-5 20-8 36-20 88-63 56-48 52-51 41-48 36-52 31-55 36-75 41-98 41-107 47-134 56-177 47-154 36-129 46-185 113-487 119-467 20-63 21-44 10-15 10-11 11-6 10 0 10 5 6 6 10 17 10 25 10 34 21 99 26 178 20 179 26 253 67 729 36 361 36 324 31 232 26 159 25 123 16 56 15 47 16 40 20 44 26 44 26 34 31 33 36 30 31 19 36 15 51 16 47 10 41 6 62 5 211 10 293 4 345 2" stroke="#808000"/>
<path d="M12795 3745l21 14 20 20 57 78 26 29 25 22 26 14 26 7 36 5 154-1 62 6 21 5 20 9 57 38 20 10 37 9 36 2 41-4 31-7 31-12 36-19 41-30 46-39 31-30 62-66 31-28 20-15 26-15 26-12 25-8 42-4 20 1 21 3 20 7 57 26 46 18 31 8 26 3 46-4 62-13 36-10 67-25 31-9 46-7 47-4 56 0 72 5 150 20 77 8 41 2 36-1 62-8 21-5 20-8 36-20 88-64 56-47 52-52 41-48 36-52 31-55 36-75 41-98 41-107 47-135 56-177 47-154 36-129 46-185 113-488 119-467 20-63 21-45 10-15 10-10 11-6 10-1 10 6 6 6 10 16 10 26 10 34 21 98 26 179 20 180 26 252 67 730 36 362 36 324 31 233 26 159 25 122 16 57 15 47 16 40 20 44 26 43 26 34 31 34 36 30 31 19 36 15 51 16 47 10 41 6 62 5 211 10 293 4 345 2" stroke="#4070B0"/>
<path d="M12795 3745l21 14 20 21 57 77 26 30 25 21 26 14 26 8 36 4 154-1 62 6 21 5 20 9 57 38 20 10 37 9 41 2 41-5 31-8 31-12 36-21 41-30 41-35 31-30 62-66 31-28 20-15 26-15 26-11 25-8 42-5 20 1 21 4 20 6 57 26 46 19 31 8 26 3 46-4 62-13 36-10 67-25 31-9 46-7 47-4 56 0 72 5 145 19 82 8 41 2 36-1 62-8 21-5 20-8 36-20 88-64 56-48 52-51 41-49 36-52 31-55 36-76 41-97 41-108 47-134 56-178 47-154 36-129 46-186 113-488 119-467 20-63 21-45 10-15 10-11 11-6 10 0 10 6 6 5 10 17 10 26 10 34 21 98 26 179 20 180 26 253 67 730 36 363 36 324 31 233 26 159 25 123 16 56 15 47 16 40 20 45 26 43 26 34 31 34 36 30 31 19 36 15 51 16 47 10 41 6 62 5 211 10 293 4 345 2" stroke="#008080"/>
<path d="M12795 3745l21 14 20 21 57 77 26 30 25 21 26 14 26 8 36 5 154-1 62 5 21 5 20 9 57 38 20 10 37 10 41 1 41-5 31-8 31-12 36-21 41-30 41-35 31-30 62-66 31-28 20-15 26-15 26-11 25-8 42-4 20 1 21 3 20 7 57 26 46 18 31 9 26 3 46-4 62-13 36-10 67-25 31-9 46-7 47-4 46 0 57 3 61 6 170 21 52 3 41 0 67-9 21-5 20-8 36-21 88-63 56-49 52-51 41-49 36-52 31-55 36-76 41-98 41-107 47-135 56-177 47-154 36-130 46-186 113-488 119-469 20-63 21-44 10-15 10-11 11-6 10 0 10 6 6 5 10 17 10 25 10 35 21 98 26 180 20 179 26 253 67 732 36 362 36 326 31 232 26 159 25 123 16 57 15 47 16 40 20 44 26 44 26 34 31 33 36 31 31 18 36 16 51 16 47 10 41 6 62 5 211 10 293 4 345 2" stroke="#B07040"/>
<path d="M12795 3745l21 14 20 21 57 77 26 30 25 22 26 14 26 7 36 5 46 1 108-2 62 6 21 5 20 8 57 38 20 10 37 10 41 1 41-5 31-8 31-12 36-21 41-30 41-35 31-30 62-66 31-28 20-15 26-15 26-11 25-8 42-4 20 1 21 4 20 6 57 26 46 19 31 8 26 3 46-3 62-13 36-10 67-25 31-9 46-7 47-4 41 0 57 3 66 6 170 20 52 4 41-1 67-9 21-5 20-8 36-21 88-64 56-48 52-52 41-49 36-52 31-54 36-77 41-98 41-107 47-135 56-178 47-154 36-130 46-186 113-489 119-469 20-63 21-44 10-15 10-11 11-6 10 0 10 5 6 6 10 17 10 25 10 35 21 98 26 180 20 180 26 253 67 732 36 363 36 326 31 232 26 160 25 123 16 57 15 47 16 40 20 44 26 44 26 34 31 33 36 31 31 18 36 16 51 16 47 10 41 6 62 5 211 10 293 4 345 2" stroke="#20B020"/>
<path d="M12795 3745l21 14 20 21 57 78 26 29 25 22 26 14 26 8 36 4 51 1 103-1 62 5 21 5 20 8 57 38 20 10 37 10 41 1 41-5 31-8 31-12 36-21 41-30 41-35 31-30 62-66 31-28 20-15 26-15 26-11 25-8 42-4 20 1 21 4 20 7 57 26 46 19 31 8 26 3 46-3 62-13 36-10 67-25 31-9 46-7 47-4 41 0 57 2 66 6 170 21 52 3 41-1 67-9 21-5 20-8 36-21 88-64 56-49 52-51 41-49 36-52 31-55 36-77 41-98 41-108 47-134 56-178 47-155 36-130 46-186 113-489 119-470 20-63 21-44 10-15 10-11 11-6 10-1 10 6 6 6 10 17 10 25 10 35 21 98 26 180 20 180 26 254 67 733 36 363 36 326 31 233 26 159 25 124 16 56 15 48 16 40 20 44 26 44 26 34 31 33 36 31 31 18 36 16 51 16 47 10 41 6 62 5 211 10 293 4 345 2" stroke="#FF60A0"/>
<path d="M12795 3745l21 14 20 21 57 78 26 30 25 21 26 14 26 8 36 5 46 1 113-2 36 2 26 4 21 6 15 6 57 38 20 11 37 9 36 1 41-4 31-7 31-12 36-19 41-30 46-39 31-30 62-66 31-28 20-14 26-15 26-12 25-8 42-4 20 2 21 3 20 7 57 26 46 19 31 9 26 3 46-3 62-13 36-10 67-25 31-9 46-7 47-4 41-1 57 3 66 6 170 20 52 3 41-1 67-9 21-5 20-8 36-21 83-60 56-48 52-51 41-48 36-51 31-53 36-75 41-97 41-107 47-133 56-177 46-154 42-147 46-187 113-490 119-469 20-64 21-44 10-15 10-11 11-6 10-1 10 6 6 6 10 17 10 25 10 35 21 99 26 179 20 181 26 253 67 734 36 364 36 326 31 233 26 160 25 123 16 57 15 47 16 40 20 45 26 43 26 35 31 33 36 31 31 18 36 15 51 17 47 10 41 6 62 5 211 10 293 4 345 2" stroke="#00C0C0"/>
<path d="M12795 3745l21 14 20 21 57 78 26 30 25 22 26 14 26 7 36 5 51 1 108-2 36 3 26 3 21 6 15 6 57 38 20 11 37 9 36 1 36-3 36-8 31-12 36-19 41-30 46-39 31-30 62-66 31-27 20-15 26-15 26-12 25-8 42-3 20 1 21 4 20 7 57 26 46 19 31 9 26 3 36-2 46-8 57-15 67-25 26-7 41-8 57-6 41-1 56 3 67 5 175 21 52 3 41-1 67-10 21-5 20-8 36-21 83-61 56-48 52-51 41-48 36-51 31-53 36-75 41-97 41-107 47-133 56-178 46-153 42-148 46-187 113-490 119-470 20-63 21-45 10-15 10-11 11-6 10-1 10 6 6 6 10 17 10 25 10 35 21 99 26 180 20 180 26 254 67 734 36 364 36 327 31 233 26 160 25 124 16 57 15 47 16 40 20 44 26 44 26 35 31 33 36 30 31 19 36 15 51 17 47 10 41 6 62 5 211 10 293 4 345 2" stroke="#8060E0"/>
<path d="M12795 3745l21 14 20 21 57 78 26 30 25 22 26 14 26 8 36 5 51 1 108-2 36 2 26 3 21 6 15 6 57 38 20 11 37 9 36 1 36-3 36-8 31-12 36-19 41-30 46-39 31-30 62-66 31-27 20-15 26-15 26-12 25-7 21-3 21-1 20 1 21 4 20 7 57 27 46 19 31 8 31 4 47-4 61-13 36-11 62-23 31-9 41-6 47-5 46-1 57 3 66 6 165 19 52 3 41-1 67-9 26-6 20-8 36-21 83-61 56-48 52-52 41-48 36-51 31-53 36-75 41-97 41-107 47-134 56-177 46-154 42-148 46-187 113-491 119-470 20-63 21-45 10-15 10-11 11-6 10 0 10 5 6 6 10 17 10 25 10 35 21 99 26 180 20 181 26 254 67 735 36 364 36 327 31 234 26 160 25 123 16 57 15 48 16 40 20 44 26 44 26 34 31 34 36 30 31 19 36 15 51 16 47 11 41 6 62 5 211 10 293 4 345 2" stroke="#A0A040"/>
<path d="M12795 3745l21 14 20 21 57 78 26 30 25 22 26 14 31 9 36 4 154-1 36 2 26 4 21 5 15 7 57 37 20 11 37 9 36 1 36-3 36-8 31-12 36-19 41-30 46-39 31-30 62-66 31-27 20-15 26-15 26-12 25-7 21-3 21-1 20 1 21 4 20 7 57 27 46 19 31 9 31 3 47-4 61-13 36-10 62-23 31-9 41-6 47-5 46-1 57 3 66 5 165 19 52 3 41-1 67-9 26-6 20-8 36-21 83-61 56-49 52-51 41-48 36-51 31-54 36-75 41-97 41-107 47-134 56-178 46-153 42-149 46-186 113-492 119-471 20-63 21-45 10-15 10-11 11-6 10 0 10 6 6 5 10 17 10 26 10 34 21 99 26 181 20 180 26 255 67 735 36 365 36 327 31 234 26 160 25 124 16 57 15 47 16 40 20 45 26 44 26 34 31 34 36 30 31 19 36 15 51 16 47 11 41 6 62 5 211 10 293 4 345 2" stroke="#808080"/>
<path d="M12795 3745l21 14 20 21 57 79 26 30 25 21 26 15 31 8 36 5 154-2 62 6 21 5 20 9 52 35 20 11 37 9 36 1 36-3 36-8 31-12 36-19 41-29 46-40 31-30 62-66 31-27 20-15 26-15 26-11 25-8 21-3 21-1 20 2 21 4 20 7 57 27 46 19 31 9 31 3 47-4 61-13 36-10 62-23 31-9 41-7 47-4 41-1 56 2 67 6 170 18 52 3 41 0 67-9 26-7 20-8 36-21 83-62 56-48 52-52 46-55 36-52 31-56 36-76 41-99 41-108 47-136 56-179 47-155 36-130 46-187 113-492 119-472 20-63 21-45 10-15 10-11 11-6 10 0 10 6 6 5 10 17 10 26 10 34 21 100 26 180 20 181 26 255 67 736 36 365 36 327 31 234 26 161 25 124 16 57 15 47 16 40 20 45 26 44 26 34 31 34 36 30 31 19 36 15 51 16 47 11 41 6 62 5 211 10 293 4 345 2" stroke="#C08080"/>
<path d="M12795 3745l21 14 20 21 57 79 26 30 25 22 26 14 31 9 36 4 154-1 62 5 21 5 20 10 52 34 20 11 37 9 36 1 36-3 36-8 31-12 36-19 41-29 46-40 31-30 62-66 31-27 20-15 26-15 26-11 25-8 21-3 21 0 20 1 21 4 20 7 62 29 41 17 31 10 31 3 47-4 61-13 36-11 62-22 31-9 41-7 47-4 41-1 56 2 67 5 170 19 52 3 41-1 67-9 26-7 20-8 36-22 83-61 56-49 52-51 46-55 36-53 31-55 36-77 41-99 41-108 47-136 56-179 47-155 36-131 46-187 113-492 119-472 20-64 21-44 10-16 10-11 11-5 10-1 10 6 6 6 10 17 10 25 10 35 21 99 26 181 20 181 26 255 67 737 36 365 36 328 31 234 26 160 25 124 16 57 15 48 16 40 20 45 26 44 26 34 31 34 36 30 31 19 36 15 51 16 47 11 41 6 62 5 211 10 293 4 345 2" stroke="#70A070"/>
<path d="M12795 3745l21 14 20 21 57 79 26 30 25 22 26 14 31 9 36 4 154-1 62 5 21 6 20 9 52 35 20 10 37 9 36 1 36-3 36-8 31-12 36-19 41-29 46-40 31-30 62-66 31-27 20-15 26-15 26-11 25-8 21-3 21 0 20 1 21 4 20 7 62 30 41 17 31 9 31 4 47-4 61-13 36-11 62-23 31-8 41-7 47-4 41-1 56 2 67 5 170 18 52 3 41-1 67-9 26-7 20-8 36-22 77-57 57-48 51-51 47-54 36-52 31-53 36-75 41-98 41-107 47-135 56-178 46-154 42-148 46-188 113-493 119-472 20-63 21-45 10-15 10-11 11-6 10-1 10 6 6 6 10 17 10 25 10 35 21 99 26 181 20 181 26 256 67 737 36 366 36 328 31 234 26 161 25 124 16 57 15 48 16 40 20 44 26 44 26 35 31 33 36 31 31 19 36 15 51 16 47 11 41 6 62 5 211 10 293 4 345 2" stroke="#60B0E0"/>
<path d="M12795 3745l21 14 20 21 57 79 26 30 25 22 26 14 31 9 36 5 154-1 62 4 21 6 20 9 52 35 20 10 37 9 36 1 36-3 36-8 31-12 36-19 41-29 46-40 31-30 62-66 31-27 20-15 26-15 26-11 25-8 21-3 21 0 20 1 21 4 20 8 62 29 41 18 31 9 31 3 47-3 61-13 36-11 62-23 31-8 41-7 47-4 46-1 57 2 66 5 165 18 47 2 41-1 67-8 25-6 21-8 36-20 82-62 57-48 51-51 47-54 36-51 31-54 36-75 41-98 41-107 47-135 56-178 46-155 42-148 46-188 113-493 119-472 20-64 21-45 10-15 10-11 11-6 10 0 10 6 6 5 10 17 10 26 10 35 21 99 26 181 20 181 26 256 67 738 36 366 36 328 31 235 26 160 25 125 16 57 15 47 16 41 20 44 26 44 26 35 31 33 36 31 31 19 36 15 51 16 47 11 41 6 62 5 211 10 293 4 345 2" stroke="#90B0D0"/>
<path d="M12795 3745l21 14 20 21 57 79 26 30 25 22 26 15 31 9 36 4 57 1 97-2 62 5 21 5 20 9 52 35 20 10 37 9 36 2 36-4 36-8 31-12 36-19 41-29 46-40 31-30 62-66 31-27 20-15 26-15 26-11 25-8 21-2 21-1 20 2 21 4 20 7 62 30 41 17 31 9 31 4 47-4 61-12 36-11 62-23 31-8 41-7 47-4 41-2 56 3 67 4 170 18 47 2 41 0 67-9 25-6 21-8 36-20 82-62 57-48 51-51 47-55 36-51 31-54 36-75 41-98 41-107 47-135 56-179 46-154 42-149 46-187 113-494 119-473 20-63 21-45 10-16 10-11 11-6 10 0 10 6 6 6 10 17 10 25 10 35 21 99 26 182 20 181 26 256 67 738 36 367 36 328 31 235 26 161 25 124 16 57 15 48 16 40 20 45 26 44 26 35 31 33 36 31 31 19 36 15 51 16 47 11 41 6 62 5 211 10 293 4 345 2" stroke="#607090"/>
<path d="M12795 3745l21 14 20 22 57 78 26 31 25 22 26 14 31 9 36 4 57 1 97-2 62 5 21 5 20 9 52 35 20 10 37 9 36 2 36-4 36-8 31-12 36-19 41-29 46-40 31-30 62-66 31-27 20-15 26-15 26-11 25-7 21-3 21-1 20 2 21 4 20 7 62 30 41 18 31 9 31 4 47-4 61-13 36-10 62-23 31-8 41-7 47-5 41-1 56 2 67 5 170 17 47 3 41-1 67-9 25-6 21-8 36-20 82-62 57-49 51-51 47-54 36-52 31-54 36-75 41-98 41-107 47-135 56-179 46-154 42-149 46-188 113-494 119-473 20-64 21-45 10-15 10-11 11-6 10-1 10 6 6 6 10 17 10 26 10 34 21 100 26 181 20 182 26 256 67 739 36 367 36 328 31 235 26 162 25 124 16 57 15 48 16 40 20 45 26 44 26 34 31 34 36 31 31 19 36 15 51 16 47 11 41 6 62 5 211 10 293 4 345 2" stroke="#000000"/>
<path d="M12795 3745l21 14 20 22 57 79 26 30 25 22 26 14 31 9 36 5 57 0 97-2 62 5 21 5 20 9 52 35 20 10 37 9 36 2 36-4 36-8 31-12 36-19 41-29 46-40 31-30 62-66 31-27 20-15 26-15 26-11 25-7 21-3 21 0 20 1 21 4 20 8 62 30 41 17 31 10 31 3 47-3 61-13 36-10 62-23 31-9 41-6 47-5 41-1 56 2 67 5 170 17 47 2 41-1 67-9 25-6 21-8 36-21 82-61 57-49 51-51 47-55 36-51 31-54 36-76 41-98 41-107 47-135 56-179 46-155 42-149 46-188 113-494 119-474 20-63 21-45 10-16 10-11 11-6 10 0 10 6 6 5 10 17 10 26 10 35 21 100 26 181 20 182 26 256 67 740 36 367 36 329 31 235 26 161 25 125 16 57 15 47 16 41 20 45 26 44 26 34 31 34 36 31 31 19 36 15 51 16 47 11 41 6 62 5 211 10 293 4 345 2" stroke="#FF0000"/>
<path d="M12795 3745l21 14 20 22 57 79 26 30 25 22 26 15 31 9 36 4 57 1 103-2 56 4 21 5 20 9 52 35 20 10 37 9 36 2 36-4 36-8 31-12 36-19 41-29 46-40 31-30 62-66 31-27 20-15 26-15 26-11 25-7 21-3 21 0 20 1 21 5 20 7 62 30 41 18 31 9 31 4 36-2 52-9 46-12 93-32 41-8 57-6 41-1 56 2 67 4 170 17 47 2 41-1 67-9 25-6 21-8 36-21 82-62 57-48 51-52 47-54 36-52 31-54 36-76 41-98 41-107 47-135 56-179 46-155 42-149 46-188 113-495 119-474 20-64 21-45 10-15 10-11 11-6 10-1 10 6 6 6 10 17 10 26 10 34 21 100 26 182 20 182 26 256 67 740 36 368 36 329 31 235 26 162 25 124 16 58 15 47 16 41 20 45 26 44 26 34 31 34 36 31 31 19 36 15 51 16 47 11 41 6 62 5 211 10 293 4 345 2" stroke="#0000FF"/>
<path d="M12795 3745l21 14 20 22 57 79 26 30 25 22 26 15 31 9 36 4 57 1 103-2 56 4 21 5 20 9 52 35 20 10 37 9 36 2 36-4 36-8 31-12 36-19 41-29 46-40 31-30 62-66 31-27 20-15 26-14 26-12 25-7 21-3 21 0 20 2 21 4 20 7 62 31 41 18 31 9 31 4 36-2 52-9 46-12 93-32 41-8 57-6 41-1 56 1 67 5 170 16 47 2 41 0 67-10 25-6 21-8 36-21 82-62 57-49 51-51 47-55 36-52 31-54 36-75 41-99 41-107 47-135 56-180 46-154 42-150 46-188 113-495 119-475 20-63 21-45 10-16 10-11 11-6 10 0 10 6 6 5 10 18 10 25 10 35 21 100 26 182 20 182 26 256 67 741 36 368 36 329 31 236 26 161 25 125 16 57 15 48 16 40 20 45 26 44 26 35 31 34 36 31 31 18 36 16 51 16 47 11 41 6 62 5 211 10 293 4 345 2" stroke="#FF00FF"/>
<path d="M12795 3745l21 14 20 22 57 79 26 30 25 23 26 14 31 9 36 5 62 0 98-2 56 5 21 4 20 9 52 35 20 10 37 9 36 2 36-4 36-8 31-12 36-19 41-29 46-39 31-31 62-66 31-27 20-15 26-14 26-12 25-7 37-3 41 5 25 9 67 33 47 19 36 8 36 1 41-6 57-12 87-31 26-7 41-7 52-5 51-2 67 3 165 16 82 5 52 0 46-5 46-10 36-14 31-19 72-55 57-48 56-57 47-55 36-51 31-54 36-76 41-99 41-107 47-136 56-179 46-155 42-149 46-189 113-495 119-475 20-64 21-45 10-15 10-11 11-6 10-1 10 6 6 6 10 17 10 26 10 35 21 100 26 181 20 183 26 256 67 742 36 368 36 329 31 236 26 162 25 125 16 57 15 48 16 40 20 45 26 44 26 35 31 34 36 31 31 18 36 16 51 16 47 11 41 6 62 5 211 10 293 4 345 2" stroke="#008000"/>
<path d="M12795 3745l21 14 20 22 57 79 26 31 25 22 26 14 31 9 36 5 62 1 98-2 36 1 25 4 21 5 15 7 52 35 20 10 37 9 36 2 36-4 36-8 31-12 36-19 41-29 46-39 31-31 62-66 31-27 20-15 26-14 26-11 25-8 37-3 41 5 25 9 67 33 47 19 36 9 36 1 41-6 57-12 87-31 26-7 41-7 52-6 51-1 67 3 165 15 82 6 52-1 46-5 46-10 36-14 31-20 72-54 57-49 56-56 47-55 36-52 31-54 36-76 41-98 41-108 47-136 56-179 46-155 42-150 46-188 113-496 119-475 20-64 21-45 10-16 10-11 11-6 10 0 10 6 6 6 10 17 10 25 10 35 21 100 26 182 20 183 26 256 67 743 36 368 36 330 31 236 26 161 25 125 16 58 15 47 16 41 20 45 26 44 26 35 31 34 36 30 31 19 36 16 51 16 47 11 41 6 62 5 211 10 293 4 345 2" stroke="#000080"/>
<path d="M12795 3745l21 14 20 22 57 79 26 31 25 22 26 15 31 9 36 4 62 1 103-2 56 5 21 6 15 6 52 35 20 10 37 9 36 2 36-4 36-8 31-11 36-20 41-29 46-39 31-30 62-67 31-27 20-15 26-14 26-11 25-8 37-3 41 5 25 9 67 34 47 19 36 8 36 1 41-5 57-12 87-31 26-7 41-8 52-5 51-1 67 3 165 15 82 5 52-1 46-5 46-10 36-14 31-20 72-55 57-48 56-57 47-55 36-52 31-54 36-76 41-98 41-108 47-136 56-179 46-155 42-150 46-189 113-496 119-476 20-63 21-46 10-15 10-11 11-6 10 0 10 5 6 6 10 17 10 26 10 35 21 100 26 182 20 183 26 257 67 742 36 369 36 330 31 236 26 162 25 125 16 57 15 48 16 41 20 45 26 44 26 35 31 34 36 30 31 19 36 16 51 16 47 11 41 6 62 5 211 10 293 4 345 2" stroke="#8000FF"/>
<path d="M12795 3745l21 14 20 22 57 80 26 30 25 22 26 15 31 9 36 4 62 1 103-2 56 5 21 6 15 7 52 34 20 10 37 9 36 2 36-4 36-8 31-11 36-20 41-29 46-39 31-30 62-67 31-27 20-15 26-14 26-11 25-7 37-3 41 5 25 9 67 33 47 19 36 9 36 1 41-6 57-12 87-30 26-8 41-7 52-5 51-1 67 2 165 15 82 5 52 0 46-6 46-10 36-14 31-20 72-55 57-48 56-57 47-55 36-52 31-54 36-76 41-99 41-108 47-136 56-179 46-156 42-149 46-189 113-497 119-476 20-64 21-45 10-15 10-11 11-6 10-1 10 6 6 6 10 17 10 26 10 35 21 100 26 182 20 183 26 257 67 743 36 369 36 330 31 237 26 162 25 125 16 57 15 48 16 41 20 45 26 44 26 35 31 33 36 31 31 19 36 16 51 16 47 11 41 6 62 5 211 10 293 4 345 2" stroke="#A040C0"/>
<path d="M12795 3745l21 14 20 22 57 80 26 30 25 22 26 15 31 9 36 4 62 1 103-2 56 5 21 6 15 7 52 34 20 10 37 9 36 2 36-4 36-8 31-11 36-20 41-29 46-39 31-30 62-67 31-27 20-15 26-14 26-11 25-7 37-3 41 5 25 9 67 33 47 19 36 9 36 1 41-6 57-12 87-30 26-8 41-7 52-5 51-1 67 2 165 15 82 5 52 0 46-6 46-10 36-14 31-20 72-55 57-48 56-57 47-55 36-52 31-54 36-76 41-99 41-108 47-136 56-179 46-156 42-149 46-189 113-497 119-476 20-64 21-45 10-15 10-11 11-6 10-1 10 6 6 6 10 17 10 26 10 35 21 100 26 182 20 183 26 257 67 743 36 369 36 330 31 237 26 162 25 125 16 57 15 48 16 41 20 45 26 44 26 35 31 33 36 31 31 19 36 16 51 16 47 11 41 6 62 5 211 10 293 4 345 2" stroke="#D01010" stroke-width="7"/>
</g></g>
<rect x="1279.5" y="104" width="489.1" height="364.8" fill="none" stroke="#000" stroke-width="1.6"/>
<line x1="1305.24" y1="468.8" x2="1305.24" y2="476.8" stroke="#000" stroke-width="1.6" stroke-linecap="butt"/>
<line x1="1408.21" y1="468.8" x2="1408.21" y2="476.8" stroke="#000" stroke-width="1.6" stroke-linecap="butt"/>
<line x1="1511.18" y1="468.8" x2="1511.18" y2="476.8" stroke="#000" stroke-width="1.6" stroke-linecap="butt"/>
<line x1="1614.15" y1="468.8" x2="1614.15" y2="476.8" stroke="#000" stroke-width="1.6" stroke-linecap="butt"/>
<line x1="1717.12" y1="468.8" x2="1717.12" y2="476.8" stroke="#000" stroke-width="1.6" stroke-linecap="butt"/>
<line x1="1356.73" y1="468.8" x2="1356.73" y2="473.3" stroke="#000" stroke-width="1.6" stroke-linecap="butt"/>
<line x1="1459.69" y1="468.8" x2="1459.69" y2="473.3" stroke="#000" stroke-width="1.6" stroke-linecap="butt"/>
<line x1="1562.66" y1="468.8" x2="1562.66" y2="473.3" stroke="#000" stroke-width="1.6" stroke-linecap="butt"/>
<line x1="1665.63" y1="468.8" x2="1665.63" y2="473.3" stroke="#000" stroke-width="1.6" stroke-linecap="butt"/>
<line x1="1768.6" y1="468.8" x2="1768.6" y2="473.3" stroke="#000" stroke-width="1.6" stroke-linecap="butt"/>
<line x1="1271.5" y1="435.64" x2="1279.5" y2="435.64" stroke="#000" stroke-width="1.6" stroke-linecap="butt"/>
<line x1="1271.5" y1="369.31" x2="1279.5" y2="369.31" stroke="#000" stroke-width="1.6" stroke-linecap="butt"/>
<line x1="1271.5" y1="302.98" x2="1279.5" y2="302.98" stroke="#000" stroke-width="1.6" stroke-linecap="butt"/>
<line x1="1271.5" y1="236.65" x2="1279.5" y2="236.65" stroke="#000" stroke-width="1.6" stroke-linecap="butt"/>
<line x1="1271.5" y1="170.33" x2="1279.5" y2="170.33" stroke="#000" stroke-width="1.6" stroke-linecap="butt"/>
<line x1="1271.5" y1="104" x2="1279.5" y2="104" stroke="#000" stroke-width="1.6" stroke-linecap="butt"/>
<line x1="1275" y1="468.8" x2="1279.5" y2="468.8" stroke="#000" stroke-width="1.6" stroke-linecap="butt"/>
<line x1="1275" y1="402.47" x2="1279.5" y2="402.47" stroke="#000" stroke-width="1.6" stroke-linecap="butt"/>
<line x1="1275" y1="336.15" x2="1279.5" y2="336.15" stroke="#000" stroke-width="1.6" stroke-linecap="butt"/>
<line x1="1275" y1="269.82" x2="1279.5" y2="269.82" stroke="#000" stroke-width="1.6" stroke-linecap="butt"/>
<line x1="1275" y1="203.49" x2="1279.5" y2="203.49" stroke="#000" stroke-width="1.6" stroke-linecap="butt"/>
<line x1="1275" y1="137.16" x2="1279.5" y2="137.16" stroke="#000" stroke-width="1.6" stroke-linecap="butt"/>
<text transform="translate(1305.24,502.1) scale(1,1.03)" font-size="31" text-anchor="middle">300</text>
<text transform="translate(1408.21,502.1) scale(1,1.03)" font-size="31" text-anchor="middle">400</text>
<text transform="translate(1511.18,502.1) scale(1,1.03)" font-size="31" text-anchor="middle">500</text>
<text transform="translate(1614.15,502.1) scale(1,1.03)" font-size="31" text-anchor="middle">600</text>
<text transform="translate(1717.12,502.1) scale(1,1.03)" font-size="31" text-anchor="middle">700</text>
<text transform="translate(1270.9,447.54) scale(1,1.03)" font-size="31" text-anchor="end">0.0</text>
<text transform="translate(1270.9,381.21) scale(1,1.03)" font-size="31" text-anchor="end">0.5</text>
<text transform="translate(1270.9,314.88) scale(1,1.03)" font-size="31" text-anchor="end">1.0</text>
<text transform="translate(1270.9,248.55) scale(1,1.03)" font-size="31" text-anchor="end">1.5</text>
<text transform="translate(1270.9,182.23) scale(1,1.03)" font-size="31" text-anchor="end">2.0</text>
<text transform="translate(1270.9,115.9) scale(1,1.03)" font-size="31" text-anchor="end">2.5</text>
<text transform="translate(1387.4,529.3) scale(1,1.03)" font-size="30.6">Wavelength (nm)</text>
<text transform="translate(1217.4,397.22) rotate(-90) scale(1,1.03)" font-size="30.8">Absorbance (a.u.)</text>
<path d="M1035.8,187.1 L1035.8,147.2 M1021.8,167.7 L1035.8,147.2 L1049.8,167.7" fill="none" stroke="#2b2b2b" stroke-width="5.3" stroke-linejoin="miter" stroke-miterlimit="10"/>
<path d="M891.6,261.2 L891.6,301.6 M877.6,281.1 L891.6,301.6 L905.6,281.1" fill="none" stroke="#2b2b2b" stroke-width="5.3" stroke-linejoin="miter" stroke-miterlimit="10"/>
<path d="M1637.9,187 L1637.9,147.1 M1623.9,167.6 L1637.9,147.1 L1651.9,167.6" fill="none" stroke="#2b2b2b" stroke-width="5.3" stroke-linejoin="miter" stroke-miterlimit="10"/>
<path d="M1492,262 L1492,301 M1478,280.5 L1492,301 L1506,280.5" fill="none" stroke="#2b2b2b" stroke-width="5.3" stroke-linejoin="miter" stroke-miterlimit="10"/>
<clipPath id="cd"><rect x="687.4" y="733.4" width="489.2" height="364.6"/></clipPath>
<g clip-path="url(#cd)" fill="#fff" stroke="#000" stroke-width="1.1">
<circle cx="700.99" cy="1102.26" r="3.5"/>
<circle cx="703.71" cy="1098.26" r="3.5"/>
<circle cx="706.42" cy="1093.57" r="3.5"/>
<circle cx="709.14" cy="1088.27" r="3.5"/>
<circle cx="711.86" cy="1082.44" r="3.5"/>
<circle cx="714.58" cy="1076.15" r="3.5"/>
<circle cx="717.3" cy="1069.48" r="3.5"/>
<circle cx="720.01" cy="1062.51" r="3.5"/>
<circle cx="722.73" cy="1055.31" r="3.5"/>
<circle cx="725.45" cy="1047.95" r="3.5"/>
<circle cx="728.17" cy="1040.47" r="3.5"/>
<circle cx="730.88" cy="1032.96" r="3.5"/>
<circle cx="733.6" cy="1025.45" r="3.5"/>
<circle cx="736.32" cy="1018.01" r="3.5"/>
<circle cx="739.04" cy="1010.69" r="3.5"/>
<circle cx="741.76" cy="1003.57" r="3.5"/>
<circle cx="744.47" cy="996.68" r="3.5"/>
<circle cx="747.19" cy="990.1" r="3.5"/>
<circle cx="749.91" cy="983.88" r="3.5"/>
<circle cx="752.63" cy="978.01" r="3.5"/>
<circle cx="755.34" cy="972.47" r="3.5"/>
<circle cx="758.06" cy="967.25" r="3.5"/>
<circle cx="760.78" cy="962.32" r="3.5"/>
<circle cx="763.5" cy="957.67" r="3.5"/>
<circle cx="766.22" cy="953.28" r="3.5"/>
<circle cx="768.93" cy="949.12" r="3.5"/>
<circle cx="771.65" cy="945.18" r="3.5"/>
<circle cx="774.37" cy="941.44" r="3.5"/>
<circle cx="777.09" cy="937.88" r="3.5"/>
<circle cx="779.8" cy="934.47" r="3.5"/>
<circle cx="782.52" cy="931.21" r="3.5"/>
<circle cx="785.24" cy="928.07" r="3.5"/>
<circle cx="787.96" cy="925.03" r="3.5"/>
<circle cx="790.68" cy="922.07" r="3.5"/>
<circle cx="793.39" cy="919.18" r="3.5"/>
<circle cx="796.11" cy="916.37" r="3.5"/>
<circle cx="798.83" cy="913.63" r="3.5"/>
<circle cx="801.55" cy="910.96" r="3.5"/>
<circle cx="804.26" cy="908.36" r="3.5"/>
<circle cx="806.98" cy="905.83" r="3.5"/>
<circle cx="809.7" cy="903.37" r="3.5"/>
<circle cx="812.42" cy="900.97" r="3.5"/>
<circle cx="815.14" cy="898.64" r="3.5"/>
<circle cx="817.85" cy="896.37" r="3.5"/>
<circle cx="820.57" cy="894.17" r="3.5"/>
<circle cx="823.29" cy="892.03" r="3.5"/>
<circle cx="826.01" cy="889.95" r="3.5"/>
<circle cx="828.72" cy="887.92" r="3.5"/>
<circle cx="831.44" cy="885.96" r="3.5"/>
<circle cx="834.16" cy="884.05" r="3.5"/>
<circle cx="836.88" cy="882.2" r="3.5"/>
<circle cx="839.6" cy="880.4" r="3.5"/>
<circle cx="842.31" cy="878.66" r="3.5"/>
<circle cx="845.03" cy="876.97" r="3.5"/>
<circle cx="847.75" cy="875.32" r="3.5"/>
<circle cx="850.47" cy="873.73" r="3.5"/>
<circle cx="853.18" cy="872.19" r="3.5"/>
<circle cx="855.9" cy="870.7" r="3.5"/>
<circle cx="858.62" cy="869.25" r="3.5"/>
<circle cx="861.34" cy="867.84" r="3.5"/>
<circle cx="864.06" cy="866.48" r="3.5"/>
<circle cx="866.77" cy="865.17" r="3.5"/>
<circle cx="869.49" cy="863.89" r="3.5"/>
<circle cx="872.21" cy="862.66" r="3.5"/>
<circle cx="874.93" cy="861.46" r="3.5"/>
<circle cx="877.64" cy="860.3" r="3.5"/>
<circle cx="880.36" cy="859.18" r="3.5"/>
<circle cx="883.08" cy="858.1" r="3.5"/>
<circle cx="885.8" cy="857.05" r="3.5"/>
<circle cx="888.52" cy="856.03" r="3.5"/>
<circle cx="891.23" cy="855.05" r="3.5"/>
<circle cx="893.95" cy="854.09" r="3.5"/>
<circle cx="896.67" cy="853.17" r="3.5"/>
<circle cx="899.39" cy="852.27" r="3.5"/>
<circle cx="902.1" cy="851.4" r="3.5"/>
<circle cx="904.82" cy="850.56" r="3.5"/>
<circle cx="907.54" cy="849.75" r="3.5"/>
<circle cx="910.26" cy="848.95" r="3.5"/>
<circle cx="912.98" cy="848.18" r="3.5"/>
<circle cx="915.69" cy="847.43" r="3.5"/>
<circle cx="918.41" cy="846.7" r="3.5"/>
<circle cx="921.13" cy="845.99" r="3.5"/>
<circle cx="923.85" cy="845.3" r="3.5"/>
<circle cx="926.56" cy="844.63" r="3.5"/>
<circle cx="929.28" cy="843.97" r="3.5"/>
<circle cx="932" cy="843.33" r="3.5"/>
<circle cx="934.72" cy="842.69" r="3.5"/>
<circle cx="937.44" cy="842.08" r="3.5"/>
<circle cx="940.15" cy="841.47" r="3.5"/>
<circle cx="942.87" cy="840.88" r="3.5"/>
<circle cx="945.59" cy="840.29" r="3.5"/>
<circle cx="948.31" cy="839.72" r="3.5"/>
<circle cx="951.02" cy="839.16" r="3.5"/>
<circle cx="953.74" cy="838.62" r="3.5"/>
<circle cx="956.46" cy="838.08" r="3.5"/>
<circle cx="959.18" cy="837.56" r="3.5"/>
<circle cx="961.9" cy="837.05" r="3.5"/>
<circle cx="964.61" cy="836.54" r="3.5"/>
<circle cx="967.33" cy="836.05" r="3.5"/>
<circle cx="970.05" cy="835.57" r="3.5"/>
<circle cx="972.77" cy="835.11" r="3.5"/>
<circle cx="975.48" cy="834.65" r="3.5"/>
<circle cx="978.2" cy="834.2" r="3.5"/>
<circle cx="980.92" cy="833.76" r="3.5"/>
<circle cx="983.64" cy="833.34" r="3.5"/>
<circle cx="986.36" cy="832.92" r="3.5"/>
<circle cx="989.07" cy="832.51" r="3.5"/>
<circle cx="991.79" cy="832.12" r="3.5"/>
<circle cx="994.51" cy="831.73" r="3.5"/>
<circle cx="997.23" cy="831.35" r="3.5"/>
<circle cx="999.94" cy="830.98" r="3.5"/>
<circle cx="1002.66" cy="830.62" r="3.5"/>
<circle cx="1005.38" cy="830.27" r="3.5"/>
<circle cx="1008.1" cy="829.93" r="3.5"/>
<circle cx="1010.82" cy="829.6" r="3.5"/>
<circle cx="1013.53" cy="829.28" r="3.5"/>
<circle cx="1016.25" cy="828.96" r="3.5"/>
<circle cx="1018.97" cy="828.66" r="3.5"/>
<circle cx="1021.69" cy="828.36" r="3.5"/>
<circle cx="1024.4" cy="828.07" r="3.5"/>
<circle cx="1027.12" cy="827.79" r="3.5"/>
<circle cx="1029.84" cy="827.52" r="3.5"/>
<circle cx="1032.56" cy="827.25" r="3.5"/>
<circle cx="1035.28" cy="826.99" r="3.5"/>
<circle cx="1037.99" cy="826.74" r="3.5"/>
<circle cx="1040.71" cy="826.5" r="3.5"/>
<circle cx="1043.43" cy="826.27" r="3.5"/>
<circle cx="1046.15" cy="826.04" r="3.5"/>
<circle cx="1048.86" cy="825.82" r="3.5"/>
<circle cx="1051.58" cy="825.61" r="3.5"/>
<circle cx="1054.3" cy="825.4" r="3.5"/>
<circle cx="1057.02" cy="825.2" r="3.5"/>
<circle cx="1059.74" cy="825.01" r="3.5"/>
<circle cx="1062.45" cy="824.82" r="3.5"/>
<circle cx="1065.17" cy="824.64" r="3.5"/>
<circle cx="1067.89" cy="824.46" r="3.5"/>
<circle cx="1070.61" cy="824.3" r="3.5"/>
<circle cx="1073.32" cy="824.13" r="3.5"/>
<circle cx="1076.04" cy="823.98" r="3.5"/>
<circle cx="1078.76" cy="823.83" r="3.5"/>
<circle cx="1081.48" cy="823.68" r="3.5"/>
<circle cx="1084.2" cy="823.54" r="3.5"/>
<circle cx="1086.91" cy="823.4" r="3.5"/>
<circle cx="1089.63" cy="823.28" r="3.5"/>
<circle cx="1092.35" cy="823.15" r="3.5"/>
<circle cx="1095.07" cy="823.03" r="3.5"/>
<circle cx="1097.78" cy="822.92" r="3.5"/>
<circle cx="1100.5" cy="822.81" r="3.5"/>
<circle cx="1103.22" cy="822.7" r="3.5"/>
<circle cx="1105.94" cy="822.6" r="3.5"/>
<circle cx="1108.66" cy="822.5" r="3.5"/>
<circle cx="1111.37" cy="822.41" r="3.5"/>
<circle cx="1114.09" cy="822.32" r="3.5"/>
<circle cx="1116.81" cy="822.23" r="3.5"/>
<circle cx="1119.53" cy="822.15" r="3.5"/>
<circle cx="1122.24" cy="822.07" r="3.5"/>
<circle cx="1124.96" cy="822" r="3.5"/>
<circle cx="1127.68" cy="821.93" r="3.5"/>
<circle cx="1130.4" cy="821.86" r="3.5"/>
<circle cx="1133.12" cy="821.8" r="3.5"/>
<circle cx="1135.83" cy="821.73" r="3.5"/>
<circle cx="1138.55" cy="821.67" r="3.5"/>
<circle cx="1141.27" cy="821.62" r="3.5"/>
<circle cx="1143.99" cy="821.56" r="3.5"/>
<circle cx="1146.7" cy="821.51" r="3.5"/>
<circle cx="1149.42" cy="821.46" r="3.5"/>
<circle cx="1152.14" cy="821.42" r="3.5"/>
<circle cx="1154.86" cy="821.37" r="3.5"/>
<circle cx="1157.58" cy="821.33" r="3.5"/>
<circle cx="1160.29" cy="821.29" r="3.5"/>
<circle cx="1163.01" cy="821.25" r="3.5"/>
<circle cx="1165.73" cy="821.21" r="3.5"/>
<circle cx="1168.45" cy="821.17" r="3.5"/>
<circle cx="1171.16" cy="821.14" r="3.5"/>
<circle cx="1173.88" cy="821.1" r="3.5"/>
<circle cx="1176.6" cy="821.07" r="3.5"/>
</g>
<rect x="687.4" y="733.4" width="489.2" height="364.6" fill="none" stroke="#000" stroke-width="1.6"/>
<line x1="700.99" y1="1098" x2="700.99" y2="1106" stroke="#000" stroke-width="1.6" stroke-linecap="butt"/>
<line x1="836.88" y1="1098" x2="836.88" y2="1106" stroke="#000" stroke-width="1.6" stroke-linecap="butt"/>
<line x1="972.77" y1="1098" x2="972.77" y2="1106" stroke="#000" stroke-width="1.6" stroke-linecap="butt"/>
<line x1="1108.66" y1="1098" x2="1108.66" y2="1106" stroke="#000" stroke-width="1.6" stroke-linecap="butt"/>
<line x1="768.93" y1="1098" x2="768.93" y2="1102.5" stroke="#000" stroke-width="1.6" stroke-linecap="butt"/>
<line x1="904.82" y1="1098" x2="904.82" y2="1102.5" stroke="#000" stroke-width="1.6" stroke-linecap="butt"/>
<line x1="1040.71" y1="1098" x2="1040.71" y2="1102.5" stroke="#000" stroke-width="1.6" stroke-linecap="butt"/>
<line x1="1176.6" y1="1098" x2="1176.6" y2="1102.5" stroke="#000" stroke-width="1.6" stroke-linecap="butt"/>
<line x1="679.4" y1="1098" x2="687.4" y2="1098" stroke="#000" stroke-width="1.6" stroke-linecap="butt"/>
<line x1="679.4" y1="1031.71" x2="687.4" y2="1031.71" stroke="#000" stroke-width="1.6" stroke-linecap="butt"/>
<line x1="679.4" y1="965.42" x2="687.4" y2="965.42" stroke="#000" stroke-width="1.6" stroke-linecap="butt"/>
<line x1="679.4" y1="899.13" x2="687.4" y2="899.13" stroke="#000" stroke-width="1.6" stroke-linecap="butt"/>
<line x1="679.4" y1="832.84" x2="687.4" y2="832.84" stroke="#000" stroke-width="1.6" stroke-linecap="butt"/>
<line x1="679.4" y1="766.55" x2="687.4" y2="766.55" stroke="#000" stroke-width="1.6" stroke-linecap="butt"/>
<line x1="682.9" y1="1064.85" x2="687.4" y2="1064.85" stroke="#000" stroke-width="1.6" stroke-linecap="butt"/>
<line x1="682.9" y1="998.56" x2="687.4" y2="998.56" stroke="#000" stroke-width="1.6" stroke-linecap="butt"/>
<line x1="682.9" y1="932.27" x2="687.4" y2="932.27" stroke="#000" stroke-width="1.6" stroke-linecap="butt"/>
<line x1="682.9" y1="865.98" x2="687.4" y2="865.98" stroke="#000" stroke-width="1.6" stroke-linecap="butt"/>
<line x1="682.9" y1="799.69" x2="687.4" y2="799.69" stroke="#000" stroke-width="1.6" stroke-linecap="butt"/>
<line x1="682.9" y1="733.4" x2="687.4" y2="733.4" stroke="#000" stroke-width="1.6" stroke-linecap="butt"/>
<text transform="translate(700.99,1131.7) scale(1,1.03)" font-size="31" text-anchor="middle">0</text>
<text transform="translate(836.88,1131.7) scale(1,1.03)" font-size="31" text-anchor="middle">100</text>
<text transform="translate(972.77,1131.7) scale(1,1.03)" font-size="31" text-anchor="middle">200</text>
<text transform="translate(1108.66,1131.7) scale(1,1.03)" font-size="31" text-anchor="middle">300</text>
<text transform="translate(677.4,1110.7) scale(1,1.03)" font-size="31" text-anchor="end">0.0</text>
<text transform="translate(677.4,1044.41) scale(1,1.03)" font-size="31" text-anchor="end">0.5</text>
<text transform="translate(677.4,978.12) scale(1,1.03)" font-size="31" text-anchor="end">1.0</text>
<text transform="translate(677.4,911.83) scale(1,1.03)" font-size="31" text-anchor="end">1.5</text>
<text transform="translate(677.4,845.54) scale(1,1.03)" font-size="31" text-anchor="end">2.0</text>
<text transform="translate(677.4,779.25) scale(1,1.03)" font-size="31" text-anchor="end">2.5</text>
<text transform="translate(826.39,1157.4) scale(1,1.03)" font-size="31">Time (min)</text>
<text transform="translate(627.4,1048.42) rotate(-90) scale(1,1.03)" font-size="30.65">Absorbance (a.u.)</text>
<clipPath id="ce"><rect x="1282.8" y="732.9" width="487.2" height="363"/></clipPath>
<g clip-path="url(#ce)" fill="#fff" stroke="#000" stroke-width="1.1">
<circle cx="1296.33" cy="1102.56" r="3.5"/>
<circle cx="1299.04" cy="1100.26" r="3.5"/>
<circle cx="1301.75" cy="1097.69" r="3.5"/>
<circle cx="1304.45" cy="1094.85" r="3.5"/>
<circle cx="1307.16" cy="1091.76" r="3.5"/>
<circle cx="1309.87" cy="1088.44" r="3.5"/>
<circle cx="1312.57" cy="1084.91" r="3.5"/>
<circle cx="1315.28" cy="1081.17" r="3.5"/>
<circle cx="1317.99" cy="1077.24" r="3.5"/>
<circle cx="1320.69" cy="1073.15" r="3.5"/>
<circle cx="1323.4" cy="1068.9" r="3.5"/>
<circle cx="1326.11" cy="1064.52" r="3.5"/>
<circle cx="1328.81" cy="1060.01" r="3.5"/>
<circle cx="1331.52" cy="1055.39" r="3.5"/>
<circle cx="1334.23" cy="1050.68" r="3.5"/>
<circle cx="1336.93" cy="1045.9" r="3.5"/>
<circle cx="1339.64" cy="1041.05" r="3.5"/>
<circle cx="1342.35" cy="1036.16" r="3.5"/>
<circle cx="1345.05" cy="1031.24" r="3.5"/>
<circle cx="1347.76" cy="1026.31" r="3.5"/>
<circle cx="1350.47" cy="1021.37" r="3.5"/>
<circle cx="1353.17" cy="1016.45" r="3.5"/>
<circle cx="1355.88" cy="1011.53" r="3.5"/>
<circle cx="1358.59" cy="1006.63" r="3.5"/>
<circle cx="1361.29" cy="1001.76" r="3.5"/>
<circle cx="1364" cy="996.92" r="3.5"/>
<circle cx="1366.71" cy="992.12" r="3.5"/>
<circle cx="1369.41" cy="987.36" r="3.5"/>
<circle cx="1372.12" cy="982.66" r="3.5"/>
<circle cx="1374.83" cy="978.01" r="3.5"/>
<circle cx="1377.53" cy="973.43" r="3.5"/>
<circle cx="1380.24" cy="968.92" r="3.5"/>
<circle cx="1382.95" cy="964.49" r="3.5"/>
<circle cx="1385.65" cy="960.14" r="3.5"/>
<circle cx="1388.36" cy="955.89" r="3.5"/>
<circle cx="1391.07" cy="951.73" r="3.5"/>
<circle cx="1393.77" cy="947.68" r="3.5"/>
<circle cx="1396.48" cy="943.74" r="3.5"/>
<circle cx="1399.19" cy="939.92" r="3.5"/>
<circle cx="1401.89" cy="936.22" r="3.5"/>
<circle cx="1404.6" cy="932.65" r="3.5"/>
<circle cx="1407.31" cy="929.21" r="3.5"/>
<circle cx="1410.01" cy="925.9" r="3.5"/>
<circle cx="1412.72" cy="922.71" r="3.5"/>
<circle cx="1415.43" cy="919.64" r="3.5"/>
<circle cx="1418.13" cy="916.67" r="3.5"/>
<circle cx="1420.84" cy="913.81" r="3.5"/>
<circle cx="1423.55" cy="911.05" r="3.5"/>
<circle cx="1426.25" cy="908.37" r="3.5"/>
<circle cx="1428.96" cy="905.79" r="3.5"/>
<circle cx="1431.67" cy="903.29" r="3.5"/>
<circle cx="1434.37" cy="900.86" r="3.5"/>
<circle cx="1437.08" cy="898.5" r="3.5"/>
<circle cx="1439.79" cy="896.21" r="3.5"/>
<circle cx="1442.49" cy="893.97" r="3.5"/>
<circle cx="1445.2" cy="891.79" r="3.5"/>
<circle cx="1447.91" cy="889.65" r="3.5"/>
<circle cx="1450.61" cy="887.56" r="3.5"/>
<circle cx="1453.32" cy="885.5" r="3.5"/>
<circle cx="1456.03" cy="883.47" r="3.5"/>
<circle cx="1458.73" cy="881.46" r="3.5"/>
<circle cx="1461.44" cy="879.48" r="3.5"/>
<circle cx="1464.15" cy="877.51" r="3.5"/>
<circle cx="1466.85" cy="875.56" r="3.5"/>
<circle cx="1469.56" cy="873.63" r="3.5"/>
<circle cx="1472.27" cy="871.71" r="3.5"/>
<circle cx="1474.97" cy="869.82" r="3.5"/>
<circle cx="1477.68" cy="867.95" r="3.5"/>
<circle cx="1480.39" cy="866.1" r="3.5"/>
<circle cx="1483.09" cy="864.27" r="3.5"/>
<circle cx="1485.8" cy="862.47" r="3.5"/>
<circle cx="1488.51" cy="860.69" r="3.5"/>
<circle cx="1491.21" cy="858.94" r="3.5"/>
<circle cx="1493.92" cy="857.21" r="3.5"/>
<circle cx="1496.63" cy="855.51" r="3.5"/>
<circle cx="1499.33" cy="853.84" r="3.5"/>
<circle cx="1502.04" cy="852.21" r="3.5"/>
<circle cx="1504.75" cy="850.6" r="3.5"/>
<circle cx="1507.45" cy="849.02" r="3.5"/>
<circle cx="1510.16" cy="847.48" r="3.5"/>
<circle cx="1512.87" cy="845.96" r="3.5"/>
<circle cx="1515.57" cy="844.49" r="3.5"/>
<circle cx="1518.28" cy="843.05" r="3.5"/>
<circle cx="1520.99" cy="841.64" r="3.5"/>
<circle cx="1523.69" cy="840.28" r="3.5"/>
<circle cx="1526.4" cy="838.95" r="3.5"/>
<circle cx="1529.11" cy="837.66" r="3.5"/>
<circle cx="1531.81" cy="836.4" r="3.5"/>
<circle cx="1534.52" cy="835.18" r="3.5"/>
<circle cx="1537.23" cy="834" r="3.5"/>
<circle cx="1539.93" cy="832.84" r="3.5"/>
<circle cx="1542.64" cy="831.72" r="3.5"/>
<circle cx="1545.35" cy="830.62" r="3.5"/>
<circle cx="1548.05" cy="829.55" r="3.5"/>
<circle cx="1550.76" cy="828.51" r="3.5"/>
<circle cx="1553.47" cy="827.49" r="3.5"/>
<circle cx="1556.17" cy="826.49" r="3.5"/>
<circle cx="1558.88" cy="825.51" r="3.5"/>
<circle cx="1561.59" cy="824.55" r="3.5"/>
<circle cx="1564.29" cy="823.61" r="3.5"/>
<circle cx="1567" cy="822.68" r="3.5"/>
<circle cx="1569.71" cy="821.77" r="3.5"/>
<circle cx="1572.41" cy="820.88" r="3.5"/>
<circle cx="1575.12" cy="820" r="3.5"/>
<circle cx="1577.83" cy="819.14" r="3.5"/>
<circle cx="1580.53" cy="818.29" r="3.5"/>
<circle cx="1583.24" cy="817.46" r="3.5"/>
<circle cx="1585.95" cy="816.64" r="3.5"/>
<circle cx="1588.65" cy="815.83" r="3.5"/>
<circle cx="1591.36" cy="815.04" r="3.5"/>
<circle cx="1594.07" cy="814.27" r="3.5"/>
<circle cx="1596.77" cy="813.51" r="3.5"/>
<circle cx="1599.48" cy="812.76" r="3.5"/>
<circle cx="1602.19" cy="812.03" r="3.5"/>
<circle cx="1604.89" cy="811.31" r="3.5"/>
<circle cx="1607.6" cy="810.6" r="3.5"/>
<circle cx="1610.31" cy="809.91" r="3.5"/>
<circle cx="1613.01" cy="809.23" r="3.5"/>
<circle cx="1615.72" cy="808.56" r="3.5"/>
<circle cx="1618.43" cy="807.91" r="3.5"/>
<circle cx="1621.13" cy="807.26" r="3.5"/>
<circle cx="1623.84" cy="806.63" r="3.5"/>
<circle cx="1626.55" cy="806.02" r="3.5"/>
<circle cx="1629.25" cy="805.41" r="3.5"/>
<circle cx="1631.96" cy="804.81" r="3.5"/>
<circle cx="1634.67" cy="804.23" r="3.5"/>
<circle cx="1637.37" cy="803.66" r="3.5"/>
<circle cx="1640.08" cy="803.1" r="3.5"/>
<circle cx="1642.79" cy="802.55" r="3.5"/>
<circle cx="1645.49" cy="802.01" r="3.5"/>
<circle cx="1648.2" cy="801.49" r="3.5"/>
<circle cx="1650.91" cy="800.97" r="3.5"/>
<circle cx="1653.61" cy="800.46" r="3.5"/>
<circle cx="1656.32" cy="799.97" r="3.5"/>
<circle cx="1659.03" cy="799.48" r="3.5"/>
<circle cx="1661.73" cy="799.01" r="3.5"/>
<circle cx="1664.44" cy="798.54" r="3.5"/>
<circle cx="1667.15" cy="798.08" r="3.5"/>
<circle cx="1669.85" cy="797.63" r="3.5"/>
<circle cx="1672.56" cy="797.19" r="3.5"/>
<circle cx="1675.27" cy="796.76" r="3.5"/>
<circle cx="1677.97" cy="796.34" r="3.5"/>
<circle cx="1680.68" cy="795.93" r="3.5"/>
<circle cx="1683.39" cy="795.53" r="3.5"/>
<circle cx="1686.09" cy="795.13" r="3.5"/>
<circle cx="1688.8" cy="794.74" r="3.5"/>
<circle cx="1691.51" cy="794.36" r="3.5"/>
<circle cx="1694.21" cy="793.99" r="3.5"/>
<circle cx="1696.92" cy="793.63" r="3.5"/>
<circle cx="1699.63" cy="793.27" r="3.5"/>
<circle cx="1702.33" cy="792.92" r="3.5"/>
<circle cx="1705.04" cy="792.57" r="3.5"/>
<circle cx="1707.75" cy="792.24" r="3.5"/>
<circle cx="1710.45" cy="791.91" r="3.5"/>
<circle cx="1713.16" cy="791.58" r="3.5"/>
<circle cx="1715.87" cy="791.27" r="3.5"/>
<circle cx="1718.57" cy="790.96" r="3.5"/>
<circle cx="1721.28" cy="790.65" r="3.5"/>
<circle cx="1723.99" cy="790.35" r="3.5"/>
<circle cx="1726.69" cy="790.06" r="3.5"/>
<circle cx="1729.4" cy="789.77" r="3.5"/>
<circle cx="1732.11" cy="789.49" r="3.5"/>
<circle cx="1734.81" cy="789.21" r="3.5"/>
<circle cx="1737.52" cy="788.93" r="3.5"/>
<circle cx="1740.23" cy="788.67" r="3.5"/>
<circle cx="1742.93" cy="788.4" r="3.5"/>
<circle cx="1745.64" cy="788.14" r="3.5"/>
<circle cx="1748.35" cy="787.89" r="3.5"/>
<circle cx="1751.05" cy="787.63" r="3.5"/>
<circle cx="1753.76" cy="787.39" r="3.5"/>
<circle cx="1756.47" cy="787.14" r="3.5"/>
<circle cx="1759.17" cy="786.9" r="3.5"/>
<circle cx="1761.88" cy="786.66" r="3.5"/>
<circle cx="1764.59" cy="786.43" r="3.5"/>
<circle cx="1767.29" cy="786.2" r="3.5"/>
<circle cx="1770" cy="785.97" r="3.5"/>
</g>
<rect x="1282.8" y="732.9" width="487.2" height="363" fill="none" stroke="#000" stroke-width="1.6"/>
<line x1="1296.33" y1="1095.9" x2="1296.33" y2="1103.9" stroke="#000" stroke-width="1.6" stroke-linecap="butt"/>
<line x1="1431.67" y1="1095.9" x2="1431.67" y2="1103.9" stroke="#000" stroke-width="1.6" stroke-linecap="butt"/>
<line x1="1567" y1="1095.9" x2="1567" y2="1103.9" stroke="#000" stroke-width="1.6" stroke-linecap="butt"/>
<line x1="1702.33" y1="1095.9" x2="1702.33" y2="1103.9" stroke="#000" stroke-width="1.6" stroke-linecap="butt"/>
<line x1="1364" y1="1095.9" x2="1364" y2="1100.4" stroke="#000" stroke-width="1.6" stroke-linecap="butt"/>
<line x1="1499.33" y1="1095.9" x2="1499.33" y2="1100.4" stroke="#000" stroke-width="1.6" stroke-linecap="butt"/>
<line x1="1634.67" y1="1095.9" x2="1634.67" y2="1100.4" stroke="#000" stroke-width="1.6" stroke-linecap="butt"/>
<line x1="1770" y1="1095.9" x2="1770" y2="1100.4" stroke="#000" stroke-width="1.6" stroke-linecap="butt"/>
<line x1="1274.8" y1="1095.9" x2="1282.8" y2="1095.9" stroke="#000" stroke-width="1.6" stroke-linecap="butt"/>
<line x1="1274.8" y1="1029.9" x2="1282.8" y2="1029.9" stroke="#000" stroke-width="1.6" stroke-linecap="butt"/>
<line x1="1274.8" y1="963.9" x2="1282.8" y2="963.9" stroke="#000" stroke-width="1.6" stroke-linecap="butt"/>
<line x1="1274.8" y1="897.9" x2="1282.8" y2="897.9" stroke="#000" stroke-width="1.6" stroke-linecap="butt"/>
<line x1="1274.8" y1="831.9" x2="1282.8" y2="831.9" stroke="#000" stroke-width="1.6" stroke-linecap="butt"/>
<line x1="1274.8" y1="765.9" x2="1282.8" y2="765.9" stroke="#000" stroke-width="1.6" stroke-linecap="butt"/>
<line x1="1278.3" y1="1062.9" x2="1282.8" y2="1062.9" stroke="#000" stroke-width="1.6" stroke-linecap="butt"/>
<line x1="1278.3" y1="996.9" x2="1282.8" y2="996.9" stroke="#000" stroke-width="1.6" stroke-linecap="butt"/>
<line x1="1278.3" y1="930.9" x2="1282.8" y2="930.9" stroke="#000" stroke-width="1.6" stroke-linecap="butt"/>
<line x1="1278.3" y1="864.9" x2="1282.8" y2="864.9" stroke="#000" stroke-width="1.6" stroke-linecap="butt"/>
<line x1="1278.3" y1="798.9" x2="1282.8" y2="798.9" stroke="#000" stroke-width="1.6" stroke-linecap="butt"/>
<line x1="1278.3" y1="732.9" x2="1282.8" y2="732.9" stroke="#000" stroke-width="1.6" stroke-linecap="butt"/>
<text transform="translate(1296.33,1131.7) scale(1,1.03)" font-size="31" text-anchor="middle">0</text>
<text transform="translate(1431.67,1131.7) scale(1,1.03)" font-size="31" text-anchor="middle">100</text>
<text transform="translate(1567,1131.7) scale(1,1.03)" font-size="31" text-anchor="middle">200</text>
<text transform="translate(1702.33,1131.7) scale(1,1.03)" font-size="31" text-anchor="middle">300</text>
<text transform="translate(1272.8,1108.6) scale(1,1.03)" font-size="31" text-anchor="end">0.0</text>
<text transform="translate(1272.8,1042.6) scale(1,1.03)" font-size="31" text-anchor="end">0.5</text>
<text transform="translate(1272.8,976.6) scale(1,1.03)" font-size="31" text-anchor="end">1.0</text>
<text transform="translate(1272.8,910.6) scale(1,1.03)" font-size="31" text-anchor="end">1.5</text>
<text transform="translate(1272.8,844.6) scale(1,1.03)" font-size="31" text-anchor="end">2.0</text>
<text transform="translate(1272.8,778.6) scale(1,1.03)" font-size="31" text-anchor="end">2.5</text>
<text transform="translate(1426.69,1157.4) scale(1,1.03)" font-size="31">Time (min)</text>
<text transform="translate(1217.9,1048.42) rotate(-90) scale(1,1.03)" font-size="30.8">Absorbance (a.u.)</text>
<polygon points="205,122.4 256.27,152 256.27,211.2 205,240.8 153.73,211.2 153.73,152" fill="none" stroke="#000" stroke-width="2.0" stroke-linejoin="miter"/>
<line x1="205" y1="131.06" x2="248.77" y2="156.33" stroke="#000" stroke-width="2" stroke-linecap="butt"/>
<line x1="205" y1="232.14" x2="161.23" y2="206.87" stroke="#000" stroke-width="2" stroke-linecap="butt"/>
<polygon points="410.3,122.4 461.57,152 461.57,211.2 410.3,240.8 359.03,211.2 359.03,152" fill="none" stroke="#000" stroke-width="2.0" stroke-linejoin="miter"/>
<line x1="454.07" y1="156.33" x2="454.07" y2="206.87" stroke="#000" stroke-width="2" stroke-linecap="butt"/>
<line x1="410.3" y1="232.14" x2="366.53" y2="206.87" stroke="#000" stroke-width="2" stroke-linecap="butt"/>
<line x1="366.53" y1="156.33" x2="410.3" y2="131.06" stroke="#000" stroke-width="2" stroke-linecap="butt"/>
<polygon points="307.6,300.6 358.87,330.2 358.87,389.4 307.6,419 256.33,389.4 256.33,330.2" fill="none" stroke="#000" stroke-width="2.0" stroke-linejoin="miter"/>
<line x1="351.37" y1="334.53" x2="351.37" y2="385.07" stroke="#000" stroke-width="2" stroke-linecap="butt"/>
<line x1="307.6" y1="410.34" x2="263.83" y2="385.07" stroke="#000" stroke-width="2" stroke-linecap="butt"/>
<line x1="263.83" y1="334.53" x2="307.6" y2="309.26" stroke="#000" stroke-width="2" stroke-linecap="butt"/>
<line x1="256.27" y1="211.2" x2="307.4" y2="240.8" stroke="#000" stroke-width="2" stroke-linecap="round"/>
<line x1="255.58" y1="219.47" x2="300.57" y2="245.51" stroke="#000" stroke-width="2" stroke-linecap="butt"/>
<line x1="307.4" y1="240.8" x2="359.03" y2="211.2" stroke="#000" stroke-width="2" stroke-linecap="round"/>
<line x1="307.4" y1="240.8" x2="307.6" y2="300.6" stroke="#000" stroke-width="2" stroke-linecap="round"/>
<line x1="155.59" y1="148.8" x2="118.1" y2="127.11" stroke="#000" stroke-width="2" stroke-linecap="butt"/>
<line x1="151.88" y1="155.2" x2="114.4" y2="133.52" stroke="#000" stroke-width="2" stroke-linecap="butt"/>
<line x1="461.57" y1="152" x2="498.2" y2="130.4" stroke="#000" stroke-width="2" stroke-linecap="round"/>
<line x1="358.87" y1="330.2" x2="396.5" y2="308.6" stroke="#000" stroke-width="2" stroke-linecap="round"/>
<text transform="translate(89.18,134.5) scale(1,1.03)" font-size="35.5">O</text>
<text transform="translate(499.08,134.6) scale(1,1.03)" font-size="35.5">OH</text>
<text transform="translate(398.83,312.5) scale(1,1.03)" font-size="35.5">SO<tspan font-size="26" dy="8.2">3</tspan><tspan font-size="27" dy="-19" dx="1">-</tspan></text>
<text transform="translate(282.91,456.6) scale(1,1.03)" font-size="35.5" fill="#333">PR</text>
<polygon points="207.6,797.5 258.87,827.1 258.87,886.3 207.6,915.9 156.33,886.3 156.33,827.1" fill="none" stroke="#000" stroke-width="2.0" stroke-linejoin="miter"/>
<line x1="207.6" y1="806.16" x2="251.37" y2="831.43" stroke="#000" stroke-width="2" stroke-linecap="butt"/>
<line x1="207.6" y1="907.24" x2="163.83" y2="881.97" stroke="#000" stroke-width="2" stroke-linecap="butt"/>
<polygon points="412.9,797.5 464.17,827.1 464.17,886.3 412.9,915.9 361.63,886.3 361.63,827.1" fill="none" stroke="#000" stroke-width="2.0" stroke-linejoin="miter"/>
<line x1="456.67" y1="831.43" x2="456.67" y2="881.97" stroke="#000" stroke-width="2" stroke-linecap="butt"/>
<line x1="412.9" y1="907.24" x2="369.13" y2="881.97" stroke="#000" stroke-width="2" stroke-linecap="butt"/>
<line x1="369.13" y1="831.43" x2="412.9" y2="806.16" stroke="#000" stroke-width="2" stroke-linecap="butt"/>
<polygon points="310.2,975.7 361.47,1005.3 361.47,1064.5 310.2,1094.1 258.93,1064.5 258.93,1005.3" fill="none" stroke="#000" stroke-width="2.0" stroke-linejoin="miter"/>
<line x1="353.97" y1="1009.63" x2="353.97" y2="1060.17" stroke="#000" stroke-width="2" stroke-linecap="butt"/>
<line x1="310.2" y1="1085.44" x2="266.43" y2="1060.17" stroke="#000" stroke-width="2" stroke-linecap="butt"/>
<line x1="266.43" y1="1009.63" x2="310.2" y2="984.36" stroke="#000" stroke-width="2" stroke-linecap="butt"/>
<line x1="258.87" y1="886.3" x2="310" y2="915.9" stroke="#000" stroke-width="2" stroke-linecap="round"/>
<line x1="258.18" y1="894.57" x2="303.17" y2="920.61" stroke="#000" stroke-width="2" stroke-linecap="butt"/>
<line x1="310" y1="915.9" x2="361.63" y2="886.3" stroke="#000" stroke-width="2" stroke-linecap="round"/>
<line x1="310" y1="915.9" x2="310.2" y2="975.7" stroke="#000" stroke-width="2" stroke-linecap="round"/>
<line x1="158.16" y1="823.88" x2="120.04" y2="802.2" stroke="#000" stroke-width="2" stroke-linecap="butt"/>
<line x1="154.5" y1="830.32" x2="116.38" y2="808.63" stroke="#000" stroke-width="2" stroke-linecap="butt"/>
<line x1="464.17" y1="827.1" x2="501.2" y2="805.4" stroke="#000" stroke-width="2" stroke-linecap="round"/>
<line x1="361.47" y1="1005.3" x2="399.5" y2="984.1" stroke="#000" stroke-width="2" stroke-linecap="round"/>
<line x1="207.6" y1="797.5" x2="207.6" y2="754.3" stroke="#000" stroke-width="2" stroke-linecap="round"/>
<line x1="412.9" y1="797.5" x2="412.9" y2="754.3" stroke="#000" stroke-width="2" stroke-linecap="round"/>
<line x1="156.33" y1="886.3" x2="114.6" y2="909.8" stroke="#000" stroke-width="2" stroke-linecap="round"/>
<line x1="464.17" y1="886.3" x2="500.2" y2="906.8" stroke="#000" stroke-width="2" stroke-linecap="round"/>
<text transform="translate(91.58,809.6) scale(1,1.03)" font-size="35.5">O</text>
<text transform="translate(194.51,750.2) scale(1,1.03)" font-size="35.5">Br</text>
<text transform="translate(399.81,750.2) scale(1,1.03)" font-size="35.5">Br</text>
<text transform="translate(501.78,809.7) scale(1,1.03)" font-size="35.5">OH</text>
<text transform="translate(72.31,927.7) scale(1,1.03)" font-size="35.5">Br</text>
<text transform="translate(502.81,927.8) scale(1,1.03)" font-size="35.5">Br</text>
<text transform="translate(401.63,987.2) scale(1,1.03)" font-size="35.5">SO<tspan font-size="26" dy="8.2">3</tspan><tspan font-size="27" dy="-19" dx="1">-</tspan></text>
<text transform="translate(256.71,1131.6) scale(1,1.03)" font-size="35.5" fill="#333">Br<tspan font-size="17.5" dy="6.4">4</tspan><tspan dy="-6.4">PR</tspan></text>
<line x1="307.8" y1="494.5" x2="307.8" y2="550.5" stroke="#333" stroke-width="4.8" stroke-linecap="butt"/>
<rect x="248.5" y="550.5" width="118.5" height="51" fill="none" stroke="#333" stroke-width="2.2"/>
<line x1="307.8" y1="601.5" x2="307.8" y2="683.5" stroke="#333" stroke-width="4.8" stroke-linecap="butt"/>
<path d="M293.4,661.5 L307.8,685.5 L321.7,661.5" fill="none" stroke="#333" stroke-width="4.8" stroke-linejoin="miter"/>
<path d="M157.7,463.6 C249.3,446.1 277.0,501.9 298.5,531.3" fill="none" stroke="#333" stroke-width="4.8"/>
<path d="M273.4,522.3 L299.6,532.6 L296,504.2" fill="none" stroke="#333" stroke-width="4.8" stroke-linejoin="miter"/>
<path d="M309.2,614.4 C354.8,706.1 428.3,681.8 445.0,686.0" fill="none" stroke="#333" stroke-width="4.8"/>
<path d="M422.6,672.5 L447.2,686.2 L423,700.4" fill="none" stroke="#333" stroke-width="4.8" stroke-linejoin="miter"/>
<text transform="translate(184.91,496.5) scale(1,1.03)" font-size="35.5" fill="#333">Br<tspan font-size="19" dy="-16" dx="1.5">-</tspan></text>
<text transform="translate(168.41,531.1) scale(1,1.03)" font-size="35.5" fill="#333">H<tspan font-size="17.5" dy="7.1">2</tspan><tspan dy="-7.1">O</tspan><tspan font-size="17.5" dy="7.1">2</tspan></text>
<text transform="translate(258.38,584.7) scale(1,1.03)" font-size="35.5" fill="#333">CeO<tspan font-size="18" dy="7.3">2-x</tspan></text>
<text transform="translate(365.48,670.4) scale(1,1.03)" font-size="35.5" fill="#333">OH<tspan font-size="20" dy="-15.8" dx="2.5">-</tspan></text>
</svg>
</body></html>
